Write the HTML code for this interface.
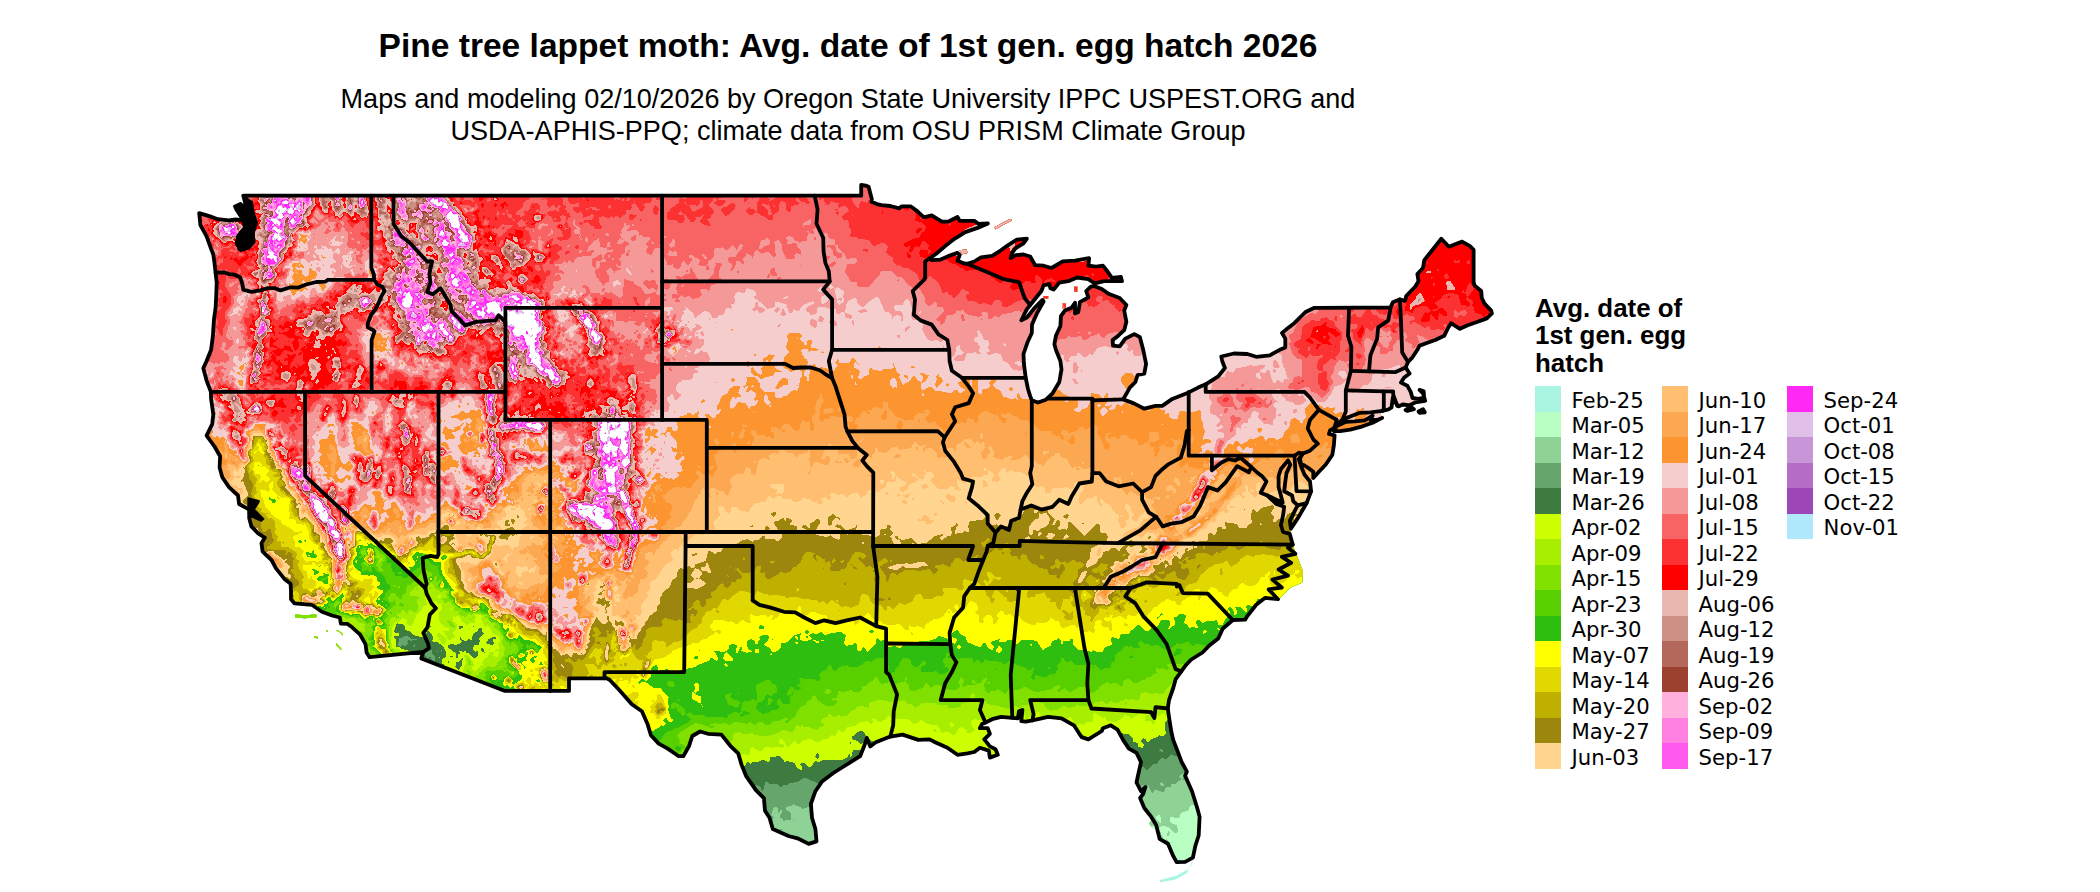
<!DOCTYPE html>
<html lang="en"><head><meta charset="utf-8"><title>Pine tree lappet moth: Avg. date of 1st gen. egg hatch 2026</title>
<style>
html,body{margin:0;padding:0;background:#fff}
body{width:2100px;height:892px;overflow:hidden;position:relative;font-family:"Liberation Sans",sans-serif;color:#000}
#ttl{position:absolute;left:0;top:26px;width:1696px;text-align:center;font-weight:bold;font-size:33.55px;line-height:40px;white-space:nowrap}
#sub{position:absolute;left:0;top:83px;width:1696px;text-align:center;font-size:27.05px;line-height:32px;white-space:nowrap}
#lgt{position:absolute;left:1535px;top:294.7px;font-weight:bold;font-size:25.9px;line-height:27.7px;white-space:nowrap}
.col{position:absolute;top:386px}
.row{height:25.5px;display:flex;align-items:center;white-space:nowrap}
.key{display:inline-block;width:26px;height:25.5px;flex:none}
.lab{font-family:"DejaVu Sans",sans-serif;font-size:21.2px;margin-left:10.6px;line-height:25.5px;position:relative;top:1.5px}
svg{position:absolute;left:0;top:0}
</style></head><body>
<div id="ttl">Pine tree lappet moth: Avg. date of 1st gen. egg hatch 2026</div>
<div id="sub">Maps and modeling 02/10/2026 by Oregon State University IPPC USPEST.ORG and<br>USDA-APHIS-PPQ; climate data from OSU PRISM Climate Group</div>
<div id="lgt">Avg. date of<br>1st gen. egg<br>hatch</div>
<div class="col" style="left:1535.0px"><div class="row"><span class="key" style="background:#AAF5E1"></span><span class="lab">Feb-25</span></div><div class="row"><span class="key" style="background:#B9FFC3"></span><span class="lab">Mar-05</span></div><div class="row"><span class="key" style="background:#8FD296"></span><span class="lab">Mar-12</span></div><div class="row"><span class="key" style="background:#66A66C"></span><span class="lab">Mar-19</span></div><div class="row"><span class="key" style="background:#3D7B40"></span><span class="lab">Mar-26</span></div><div class="row"><span class="key" style="background:#CCFF00"></span><span class="lab">Apr-02</span></div><div class="row"><span class="key" style="background:#A8EE00"></span><span class="lab">Apr-09</span></div><div class="row"><span class="key" style="background:#80E000"></span><span class="lab">Apr-15</span></div><div class="row"><span class="key" style="background:#58D000"></span><span class="lab">Apr-23</span></div><div class="row"><span class="key" style="background:#2EBE10"></span><span class="lab">Apr-30</span></div><div class="row"><span class="key" style="background:#FFFF00"></span><span class="lab">May-07</span></div><div class="row"><span class="key" style="background:#E0D800"></span><span class="lab">May-14</span></div><div class="row"><span class="key" style="background:#BFB000"></span><span class="lab">May-20</span></div><div class="row"><span class="key" style="background:#9C860E"></span><span class="lab">May-27</span></div><div class="row"><span class="key" style="background:#FFD590"></span><span class="lab">Jun-03</span></div></div>
<div class="col" style="left:1662.0px"><div class="row"><span class="key" style="background:#FFBE70"></span><span class="lab">Jun-10</span></div><div class="row"><span class="key" style="background:#FCA852"></span><span class="lab">Jun-17</span></div><div class="row"><span class="key" style="background:#FC9430"></span><span class="lab">Jun-24</span></div><div class="row"><span class="key" style="background:#F5CDCD"></span><span class="lab">Jul-01</span></div><div class="row"><span class="key" style="background:#F59898"></span><span class="lab">Jul-08</span></div><div class="row"><span class="key" style="background:#F86464"></span><span class="lab">Jul-15</span></div><div class="row"><span class="key" style="background:#FC3232"></span><span class="lab">Jul-22</span></div><div class="row"><span class="key" style="background:#FF0000"></span><span class="lab">Jul-29</span></div><div class="row"><span class="key" style="background:#E8B8B0"></span><span class="lab">Aug-06</span></div><div class="row"><span class="key" style="background:#CC9084"></span><span class="lab">Aug-12</span></div><div class="row"><span class="key" style="background:#B4685C"></span><span class="lab">Aug-19</span></div><div class="row"><span class="key" style="background:#9C4030"></span><span class="lab">Aug-26</span></div><div class="row"><span class="key" style="background:#FFB0DC"></span><span class="lab">Sep-02</span></div><div class="row"><span class="key" style="background:#FF80E0"></span><span class="lab">Sep-09</span></div><div class="row"><span class="key" style="background:#FF58EC"></span><span class="lab">Sep-17</span></div></div>
<div class="col" style="left:1787.0px"><div class="row"><span class="key" style="background:#FF28F4"></span><span class="lab">Sep-24</span></div><div class="row"><span class="key" style="background:#E0C0E8"></span><span class="lab">Oct-01</span></div><div class="row"><span class="key" style="background:#C896D8"></span><span class="lab">Oct-08</span></div><div class="row"><span class="key" style="background:#B46EC8"></span><span class="lab">Oct-15</span></div><div class="row"><span class="key" style="background:#9C46B8"></span><span class="lab">Oct-22</span></div><div class="row"><span class="key" style="background:#B0E8FC"></span><span class="lab">Nov-01</span></div></div>
<svg width="2100" height="892" viewBox="0 0 2100 892">
<defs><clipPath id="land"><path d="M199.2 213.1 L210.0 216.4 L217.8 219.2 L229.0 220.3 L235.7 219.5 L242.4 220.3 L245.8 225.1 L250.3 230.7 L251.4 236.3 L250.3 243.3 L243.6 247.5 L239.1 248.9 L241.3 243.3 L248.0 240.5 L252.5 234.9 L252.5 226.5 L251.4 216.7 L248.0 211.1 L249.2 202.7 L243.6 196.0 L243.6 195.7 L861.2 195.7 L861.2 185.0 L865.7 185.6 L868.6 186.7 L871.8 199.0 L871.5 201.8 L876.9 204.1 L881.4 205.2 L890.3 206.0 L899.3 208.3 L901.5 206.3 L910.5 206.3 L917.2 211.1 L923.9 217.3 L931.7 215.3 L941.8 221.7 L948.5 221.5 L957.5 217.0 L959.7 220.9 L974.3 220.9 L978.7 224.0 L987.9 223.4 L977.6 227.9 L965.3 232.1 L954.1 239.1 L945.2 246.1 L936.2 253.7 L929.5 258.5 L931.7 260.1 L940.7 259.6 L949.6 255.6 L957.5 252.8 L959.7 255.1 L957.5 260.7 L964.2 263.5 L967.1 263.8 L974.3 261.5 L981.0 257.3 L992.2 255.9 L998.9 251.7 L1007.8 245.3 L1016.8 239.7 L1026.9 238.6 L1023.5 243.3 L1015.7 248.1 L1011.9 253.1 L1010.7 258.2 L1015.7 255.1 L1023.5 254.5 L1030.2 256.5 L1035.1 265.2 L1043.6 265.7 L1051.5 268.0 L1062.7 261.3 L1075.0 260.7 L1086.2 258.7 L1089.1 258.2 L1088.4 265.7 L1096.2 266.6 L1102.9 265.7 L1107.4 271.3 L1111.9 277.8 L1120.9 276.9 L1122.0 281.2 L1113.0 281.2 L1104.1 281.2 L1094.7 283.4 L1088.4 279.2 L1077.2 277.5 L1068.3 281.2 L1059.3 282.6 L1053.7 289.6 L1050.4 288.2 L1049.2 284.0 L1043.6 285.4 L1041.4 291.0 L1035.8 298.0 L1030.2 305.0 L1026.9 309.2 L1021.3 320.4 L1026.9 317.6 L1034.7 307.8 L1042.5 299.9 L1043.6 301.6 L1036.9 313.4 L1032.0 324.6 L1031.8 333.0 L1027.3 342.8 L1023.5 354.0 L1023.9 363.8 L1025.7 377.8 L1028.0 389.0 L1030.2 396.1 L1031.8 400.3 L1038.0 402.5 L1045.9 399.7 L1052.6 393.3 L1059.3 382.0 L1061.5 369.4 L1060.4 361.0 L1055.9 349.8 L1054.4 344.2 L1055.9 335.8 L1060.4 326.0 L1060.9 316.2 L1064.9 310.6 L1071.6 307.8 L1075.0 302.7 L1075.0 313.4 L1078.3 312.0 L1079.9 302.2 L1088.4 297.4 L1086.2 291.0 L1090.6 286.8 L1094.0 285.9 L1101.8 289.0 L1108.5 293.8 L1119.7 298.0 L1126.4 305.0 L1124.2 310.6 L1126.4 321.8 L1124.2 330.2 L1117.5 336.4 L1112.6 340.0 L1113.0 345.6 L1119.7 346.4 L1125.3 338.6 L1134.3 334.1 L1139.9 337.2 L1143.2 349.8 L1146.1 363.8 L1144.3 373.6 L1137.6 375.0 L1135.4 382.0 L1129.8 387.6 L1126.4 393.8 L1123.1 399.4 L1133.2 403.1 L1138.8 405.9 L1144.3 408.7 L1155.5 405.9 L1162.3 405.9 L1172.3 398.9 L1188.7 392.4 L1198.1 387.6 L1205.7 384.3 L1218.2 376.4 L1224.9 368.0 L1222.2 361.0 L1221.3 356.5 L1233.9 353.5 L1247.3 354.0 L1256.2 356.8 L1269.7 355.4 L1279.7 349.8 L1285.3 347.6 L1285.3 338.6 L1282.0 333.0 L1288.7 327.4 L1294.3 323.2 L1305.5 312.0 L1314.4 307.8 L1318.9 307.8 L1390.5 307.5 L1392.8 302.2 L1399.5 299.4 L1405.1 300.8 L1406.2 296.0 L1415.1 286.8 L1418.5 281.2 L1417.4 274.1 L1423.0 268.0 L1424.3 260.1 L1441.3 238.8 L1445.6 243.3 L1448.7 246.7 L1462.1 241.6 L1470.0 246.1 L1473.6 249.8 L1473.6 281.7 L1474.5 285.4 L1481.2 291.0 L1481.8 298.0 L1484.5 303.6 L1491.2 310.6 L1491.9 313.4 L1486.8 318.4 L1477.8 321.8 L1467.7 325.2 L1459.9 328.8 L1451.0 323.2 L1447.6 328.8 L1444.2 335.8 L1435.3 340.0 L1427.5 342.8 L1419.6 345.6 L1417.4 349.8 L1411.8 358.2 L1408.0 361.9 L1405.7 367.5 L1409.6 373.6 L1404.0 377.8 L1401.0 382.6 L1407.3 385.7 L1410.7 391.9 L1412.5 398.0 L1418.5 398.9 L1424.1 397.5 L1423.7 391.3 L1419.6 389.9 L1423.0 393.3 L1425.2 400.8 L1415.1 402.5 L1409.6 405.3 L1402.8 404.5 L1398.4 406.4 L1395.0 401.7 L1392.8 397.5 L1391.6 407.3 L1388.3 409.5 L1382.5 410.9 L1370.4 412.3 L1359.2 412.9 L1350.2 416.5 L1342.4 419.9 L1337.9 424.1 L1335.7 426.9 L1334.1 428.3 L1330.1 430.2 L1329.0 433.9 L1334.6 435.3 L1333.9 445.1 L1332.3 454.9 L1325.6 464.7 L1318.9 471.7 L1313.3 477.9 L1313.3 471.7 L1307.7 467.5 L1301.0 463.3 L1299.9 458.5 L1302.8 453.5 L1298.8 459.1 L1301.0 466.1 L1304.4 474.5 L1310.0 481.5 L1311.1 491.3 L1306.6 503.1 L1298.8 516.6 L1290.9 528.6 L1289.8 520.8 L1295.4 509.6 L1297.7 505.4 L1293.2 501.1 L1292.1 495.5 L1284.2 491.3 L1285.3 481.5 L1286.5 473.1 L1290.3 464.7 L1288.0 460.5 L1280.9 468.9 L1278.6 475.9 L1278.6 487.1 L1280.9 495.5 L1282.7 502.5 L1276.4 499.7 L1267.4 495.5 L1276.4 504.0 L1284.2 506.8 L1283.1 515.2 L1280.9 525.0 L1283.1 532.0 L1289.8 533.9 L1292.7 544.6 L1295.4 554.4 L1301.7 571.2 L1300.3 581.6 L1289.8 586.1 L1282.0 590.8 L1278.0 599.2 L1265.2 597.8 L1256.2 604.8 L1247.3 616.1 L1245.1 619.7 L1232.8 620.0 L1222.7 628.7 L1218.2 638.5 L1209.3 645.5 L1202.5 652.5 L1191.3 659.5 L1185.8 665.1 L1181.3 671.3 L1175.7 679.1 L1173.4 687.5 L1169.0 700.1 L1167.8 708.5 L1169.0 716.9 L1171.2 731.0 L1173.2 739.9 L1176.6 748.6 L1181.7 762.1 L1186.9 771.6 L1185.1 775.8 L1192.0 791.2 L1197.2 808.0 L1199.6 816.7 L1198.7 835.5 L1195.4 845.6 L1192.9 857.6 L1185.1 861.8 L1176.6 862.1 L1173.2 855.9 L1168.1 843.9 L1159.6 838.8 L1156.2 825.1 L1151.1 816.7 L1144.3 808.0 L1140.1 797.9 L1143.2 794.0 L1145.5 787.0 L1141.0 791.2 L1136.5 782.5 L1138.3 774.1 L1141.0 762.1 L1136.5 752.8 L1128.9 748.6 L1123.1 739.9 L1117.5 729.6 L1110.8 725.3 L1102.9 728.2 L1101.8 731.0 L1088.4 739.4 L1081.7 737.1 L1079.4 733.8 L1073.9 725.3 L1061.5 718.3 L1048.1 716.9 L1039.2 718.9 L1032.4 720.3 L1025.7 721.7 L1021.3 721.1 L1022.4 709.9 L1019.0 711.3 L1017.9 718.3 L1012.3 717.8 L1001.1 716.9 L992.2 719.2 L985.5 722.5 L982.1 723.9 L979.9 728.2 L987.7 728.2 L989.9 733.8 L984.3 739.4 L989.9 746.4 L995.5 749.2 L997.8 754.8 L989.9 757.6 L988.8 750.6 L979.9 747.8 L974.3 752.0 L967.5 753.4 L957.5 754.8 L947.4 747.8 L935.1 742.2 L929.5 739.4 L918.3 739.9 L902.6 734.6 L890.3 736.6 L875.8 742.2 L870.2 746.4 L866.8 738.0 L864.6 745.0 L860.1 756.2 L844.5 766.0 L833.3 773.0 L822.1 781.4 L815.4 791.2 L810.9 803.8 L812.0 817.8 L815.4 829.0 L816.5 841.4 L808.7 843.9 L797.5 838.3 L788.5 836.0 L772.8 829.0 L769.5 817.8 L765.0 810.8 L763.9 798.2 L756.1 790.4 L746.0 775.8 L741.5 764.6 L738.2 753.4 L730.3 745.8 L721.4 734.6 L707.9 733.8 L700.1 731.5 L692.3 736.0 L688.9 746.4 L683.3 756.2 L678.8 756.2 L667.7 748.6 L658.7 743.6 L650.9 735.2 L647.5 723.9 L641.9 711.3 L631.8 704.3 L619.5 690.3 L609.5 679.7 L606.6 678.3 L569.0 678.3 L569.0 690.9 L505.0 690.9 L421.3 658.4 L423.3 651.9 L369.6 657.2 L366.6 652.5 L365.5 644.1 L359.9 634.3 L352.1 627.3 L347.6 623.9 L340.9 623.6 L339.8 617.5 L332.0 615.5 L321.9 611.8 L311.8 604.8 L294.6 603.4 L291.0 599.2 L291.0 590.8 L290.6 583.8 L285.0 579.6 L276.0 568.4 L271.5 560.0 L262.6 551.6 L261.5 543.2 L264.8 537.6 L258.1 533.4 L251.4 526.4 L249.2 518.0 L249.2 509.6 L239.1 504.0 L238.0 495.5 L229.0 487.1 L222.3 477.3 L219.6 467.5 L220.1 456.3 L214.5 446.5 L206.6 435.6 L212.2 424.1 L213.3 414.3 L211.1 398.9 L210.9 391.9 L206.6 380.6 L203.3 368.3 L206.6 361.0 L211.1 349.8 L212.9 335.8 L214.0 319.0 L215.6 307.8 L216.3 293.8 L216.7 282.6 L215.6 272.7 L214.5 262.9 L213.3 254.5 L211.1 248.9 L206.6 236.3 L200.4 225.1 L199.2 213.1Z M1333.9 431.1 L1340.2 431.1 L1350.2 429.7 L1362.6 426.3 L1372.6 422.7 L1382.2 417.9 L1377.1 419.9 L1370.4 419.9 L1372.6 415.7 L1364.8 420.4 L1354.7 421.3 L1345.8 421.8 L1340.2 424.6 L1336.8 426.0 L1333.9 431.1Z M1405.5 410.1 L1410.7 406.7 L1414.0 409.2 L1407.3 410.9 L1405.5 410.1Z M1418.5 411.5 L1423.0 409.2 L1424.8 412.3 L1419.6 412.9 L1418.5 411.5Z M1289.8 533.4 L1282.0 532.0 L1278.6 515.2 L1276.4 498.3 L1276.4 475.9 L1285.3 461.9 L1290.9 461.9 L1289.8 481.5 L1294.3 498.3 L1298.8 506.8 L1292.1 523.6 L1290.9 529.2Z M1298.8 459.1 L1301.0 464.7 L1310.0 481.5 L1313.3 477.9 L1312.2 470.3 L1303.2 461.9Z M1292.1 544.6 L1296.5 554.4 L1302.8 571.2 L1302.1 582.4 L1289.8 588.0 L1278.6 599.2 L1276.4 590.8 L1271.9 576.8 L1278.6 560.0 L1285.3 551.6Z M1191.3 862.7 L1194.0 859.3 L1189.1 868.8 L1175.7 876.1 L1160.0 880.0 L1160.0 882.3 L1175.7 879.5 L1186.9 873.3Z M295.0 614.4 L305.1 615.2 L316.3 614.6 L316.3 617.2 L305.1 618.3 L295.0 617.5Z M336.0 630.6 L339.8 632.3 L343.1 635.7 L342.7 633.4 L337.6 630.1Z M336.0 643.2 L339.8 646.9 L342.0 649.7 L339.8 649.1 L336.4 645.5Z M314.5 636.2 L318.1 637.1 L317.4 638.5 L314.1 637.3Z M326.1 630.1 L327.5 630.1 L327.5 631.5 L326.1 631.5Z M994.4 227.3 L1010.1 218.9 L1011.9 220.3 L995.5 229.3Z M959.7 250.3 L966.4 249.5 L967.5 253.1 L960.8 254.5Z M1073.9 286.8 L1077.2 286.8 L1077.2 291.8 L1074.5 291.8Z M1062.7 303.6 L1066.0 303.6 L1066.0 308.6 L1062.7 308.6Z M1043.6 296.0 L1048.1 296.0 L1048.1 298.5 L1043.6 298.5Z M1339.1 425.5 L1343.5 419.9 L1359.2 412.9 L1379.3 411.5 L1381.6 417.1 L1365.9 420.7 L1345.8 422.7Z M1155.5 827.6 L1151.1 820.6 L1148.8 823.4 L1153.3 829.0Z"/></clipPath></defs>
<g clip-path="url(#land)"><rect x="190" y="180" width="1320" height="712" fill="#AAF5E1"/><g transform="scale(0.5)" fill-rule="evenodd" shape-rendering="crispEdges">
<path fill="#B9FFC3" d="M3006 1778l-43 0 -5-4 -12 2 -4-11 -8 2 -3-5 -6 0 -4-8 -15-3 1-5 -5-5 -1 9 8 8 1 8 -9 8 -7 2 -1 2 -174 0 0-4 -6-4 -3-7 -4 0 -1 3 0 8 2 4 -65 0 -4-2 -7 2 -12-8 3-4 4 3 1-3 -1-3 -8 7 0 6 2 2 -44 0 0-4 -6-4 0 4 -4 4 -14 0 -7-12 -7-2 -4-6 -4-2 -8 8 -4 1 -20-1 -5-10 1-4 -3-4 -9 2 -3-2 1-4 -2-1 -4 8 -12 4 -4 0 1 5 -5 1 -11-5 2-8 -3-5 -4-2 -12 0 -4-4 -2 7 3 4 -9 0 -4-5 -8-3 0-8 -10-16 -2-11 -16 15 -8 4 -8-5 -3 1 -13 10 -4-4 -4 1 -4 8 -4 3 -8 0 -4-4 -8 4 -8-8 -4 3 -12-2 -12-17 -8 5 -4-2 -4 1 -4 4 -8-2 -4 14 -5-2 -3-4 -2 4 -9 4 -5 9 -12-2 -8-8 -12-4 -8 7 -8 2 -16-11 -8-2 -8 4 -8-3 -8 6 -4 9 -4 0 -4-3 0-4 -4-1 -1-7 -3-5 -7-3 -1-4 -4-1 -20 9 -4 4 -2 16 -2 1 -4-5 -8-2 -12 11 -9 11 -11 8 -7 12 -17 1 -496-1 -252 2 -860 0 -2-2 -1-1416 3-3 2624 0 3 3 0 24 0 1172 -3 48zM2508 1678l-2-2 -8-2 -1 4 1 2 8 2zM2552 1690l-2-9 -2 9zM2430 1730l8-3 16-2 3-3 -4-8 5-2 3 2 0 4 8 8 2 0 3-12 8 1 4 5 4 2 1-4 -5-8 2-4 -6-20 -8-3 -4 8 -8-2 -5 1 0 4 13 16 -8 1 -8-8 -16 10 -4-11 8-4 3-4 -7-1 -4 9 -4 0 -7 8 -1 4 4 2 5 6 1 4 -4 4zM2567 1710l3-6 4 2 6-8 -18-11 -4 3 -3 12 3 5 4-1zM2611 1702l-6-8 -8 0 5 5zM2508 1710l5-4 -3-6 -4 2 -1 4 1 6zM2108 1710l-2-5 -12 5 8 4 4 0zM2126 1710l-4-7 -4 0 -1 3 3 4 6 2zM2551 1718l-1-5 -8-8 -2 5 2 8zM2722 1730l4-8 8-8 -1-4 -7-5 -4 4 -4-2 -3 3 -1 4 3 4 2 8 -1 2 -9 2 5 2zM2697 1762l7-4 -3-8 6-4 -1-5 -4 3 -4-1 0-9 -12-5 -8-1 -4 2 -2-4 4-12 -6-6 -1 2 4 4 -3 4 -16-3 1 7 21 28 -2 3 -5 1 0 4 2 0 7-7 4 1 1 6 7 6 4 1zM2346 1718l0-5 -5 5zM2783 1730l-3-16 -2-2 -3 2 -1 4 5 12 3 2zM2803 1722l1-8 -2-3 -11 3 7 9 4 1zM2311 1726l-1-5 -4-3 0 6 4 3zM2760 1726l-2-4 -4-1 -5 5 5 3zM2854 1738l6-8 -10-8 -16-1 -4 5 -4-5 -2 5 2 2 12-1 1 3 6 4 1 5zM2106 1744l-9-2 -1-4 2-7 4 3 0 8 4-4 3 4zM2552 1762l1-8 -2-4 3-3 4 1 0-6 -8-5 -8 6 -5-1 -2 4 2 4 1 2 4-3 4 12 4 4zM2607 1750l3-3 1-5 -5 2 -8-2 5-4 -1-3 -6 11 1 4 5 3zM2648 1762l0-12 -8-8 -6 1 -3-5 -5-1 -7 5 4 4 -2 8 13 5 4-2 4 1 4 6zM2803 1774l0-8 11-10 4-1 8 4 4-4 4-1 4 5 5-1 0-4 -5-5 -8 4 -6-11 7-4 -1-2 -4-1 -4 5 -8 2 2 8 -2 3 -4 0 -4-3 -4-8 -4-2 -1 6 3 4 -2 5 -4-2 -2 5 2 4 -8 5 -8 0 -2 3 2 3 8 3 8-2 8 3zM2583 1754l6-4 -7-1 -6 5 6 2zM2979 1754l-5-2 -4 2zM2612 1762l-2-2 -4 2zM2728 1770l3-4 -1-2 -8 0 1 6 3 2zM2462 1778l-8 0 1-4 3-2z"/>
<path fill="#8FD296" d="M1998 1778l-196 0 -2-4 7-8 -2-4 -23-7 -8 11 7 8 -3 4 -60 0 -5-4 1-4 -16-3 -3 7 0 4 -48 0 -6-8 1-11 3 7 9 5 3-5 -2-4 -9-6 -4 2 -4-2 -8 6 -2 8 2 3 8 1 6 4 -81 0 16-8 4-4 -1-7 -11-5 2-4 9-5 8 1 8-8 1-8 -5-3 -8 0 -4-4 -8 0 -4-5 -8 0 -1-4 2-4 -1-2 -4 2 -8-2 -6 2 7 4 3 12 4 8 -7 4 -1 4 8 2 4-3 6 13 -2 6 -7 6 -4 8 3 4 -31 0 5-4 -2-6 -4-2 8-1 16 3 6-2 -2-8 3-4 -11-4 -4-4 1-8 6-8 -1-4 -9-8 -2-4 1-4 -4-2 -5 2 -3 5 -8 3 4 4 9 0 -1 4 -4 4 2 4 -2 4 -14 4 5 16 -2 4 2 4 -3 3 -4-1 -4-6 -8-2 -8 4 -8-6 -8 16 -16 4 -17 0 -2-12 8-8 -17-6 -8 9 -12 4 2 5 -2 2 -8-4 -4 2 -2 4 2 4 -376 2 -640 0 -2-2 -1-1416 3-3 2624 0 3 3 0 24 -1 1172 -2 43 -20-4 -8-5 -12 6 -4-3 -3-9 -4-4 -9 0 -8-8 -8 0 -3-4 -9-4 -8 1 -8 4 -4 0 -7-13 -9-3 -5-5 -15-4 -4 1 -5-1 -3 4 10 12 -6 5 -6-9 2-12 -8-5 -3 1 -2 4 7 12 -7 8 1 4 -4 3 -15 5 3 2 4 15 12-7 3 6 -3 8 2 4 6 6 8-1 2 3 -2 10 -8 12 -4 2 4 1 4 4 4-7 7 2 -4 16 5 5 -4 11 -14 8 -2 3 -8 1 -4-4 7-8 1-6 4 5 -1-7 -3-1 -8 8 -12 2 -4-3 -3 6 3 3 5 1 -1 4 4 3 3 5 -3 3 -4 2 -4-1 -4-6 -12 1 -4-3 -4 2 -2 6 -6 3 -8 0 -8-5 -4 8 -4 2 -8-4 -10-12 4-4 2-5 8-4 4-11 1 4 7 7 16 6 16-5 7-4 2-4 -2-4 5-4 -1-4 -3-3 -8 1 -4 2 -4 5 -9-5 -2-4 4-4 -4-4 4-8 -8-8 1-4 5-4 1-9 -8 0 1 5 -5 4 -8-7 -4 4 -8-4 -8 22 -5-3 -3-4 1-8 3-4 -6-4 13-8 3-12 -6-1 -12 4 -1-7 4-12 -3-4 2-4 6-4 0-4 -22-16 3-16 -9-6 -8-2 0 13 -8 2 -4-4 -6 1 9 16 -3 3 -4-1 -3 6 -5 1 -2 7 6 2 4 4 4-13 4-2 4 0 11 9 -2 4 2 4 11 0 -4-4 6-4 1 8 4 4 -5 4 -8 1 -4 3 -12-3 -5 3 -3 7 -4 1 -8-5 -5 1 7 4 2 7 8 1 4 5 8-9 0-4 4 1 8 13 16-10 2 8 -8 4 -2 5 -12 1 -2 10 6 5 4-2 8-11 4-1 3 5 -7 8 4 8 -4 3 -9 1 5 16 -4 2 -24-12 -8 7 -8-3 -2 2 1 4 5-3 6 7 0 4 -2 7 -4-1 -8 9 -7-7 1-8 -2-3 -8 0 -1-9 -3-2 -20-9 -4 0 -3 3 1 16 -6 8 -4 2 -16-7 -10 9 3 4 -9 5 -12-1 0-6 4-2 -4-3 -4-1 -8 2 -8-3 0-7 10-12 -6-8 5-8 -13-16 0-4 -8 6 -4 5 -12 5 -5-4 -9-16 -6-1 -3-3 -2-4 4-8 -2-8 4-4 -3 0 -2 4 -7-8 2-4 -3-4 4-4 12 10 7-2 4-4 -1-8 -2-2 -16-1 -12 14 -12-1 -8 10 4 7 12-5 4 5 4-2 4 3 -6 4 1 4 -7 12 -4-2 -8 0 -4 4 1 10 10 8 -10 8 4 4 -4 4 -1 8 6 4 -6 8 -8 3 -20-6 -8 4 -20 2 -11-15 2-8 4-4 -2-4 3-8 -4-12 -8-10 -4 4 -12 2 -3 4 -1 6 -16 6 -4 10 -8 1 -4-4 -7 1 0 8 3 4 12 5 2 11 -2 5 -8-3 -8-10 -12-2 -4 1 -4 4 -8-7 -12 7 -4 5 -4 1 -4-7 -4 1 2-11 -2-3 -4-1 -4 4 3 8 -7 7 -8-7 -4 5 -8-5 -16 0 -4-4 -6 0 -5 8 3 8 -4 0 -16 12 -3-4 1-8 -2-2 -4-1 -1 7 -3 2 -7-14 -5-1 -2 1 6 8 -3 8 -12 8 -5 7 -4 1 -12-3 -8-10 -12-5 -4-1 -12 4 -4-3 -6 6 2 8 -8 4 -4-8 -16 2 -4-4 -1 6 -15 9 -4-3 -4-9 -4 0 -2 3 2 8 -8 7 -4-3 1-4 -9 1 -4-5 -8-4 4-4 0-16 -5 4 4 8 -3 8 -8 1 -10-5 -5-4 5-4 -2-1 -5 5 0 4 -7 3 -1 5 -3 1 -12 0 -6-9 -6-1 -2 5 5 8 -4 4 -2 4 0 4 3 2 16 7 12 0 12 6 8 2 12-4 8 2 8-4 3 1 4 16 -4 12 -19 18 -8 14zM2769 1602l-1-8 4-16 6-7 7-1 -8-12 1-8 -4-1 0-6 4-2 12 6 21-9 -13-12 -4 7 -8 6 -2-1 -2-4 4-9 4-2 8 3 6-4 -10-3 -3-5 -13-7 -12-2 -13 5 1 4 -2 4 2 4 -2 4 -1 12 4 8 9 4 2 4 -10 8 -1 4 1 4 9 8 1 12 2 0 -10 2 -4 10 8 3zM2740 1518l3-4 -9-6 -5 2 -3 8zM2662 1522l4-4 -1-4 -3-1 -5 5zM2648 1522l2-4 -4-2 -2 6 2 3zM2671 1538l4-4 -5-8 -12 4 8 11 4-1zM2667 1646l11-2 1-2 -5-6 -4 5 -4 1 -2-4 2-5 8-3 -7-8 -1-4 2-4 -4-12 2-16 -8-1 -4-3 -4 3 -2-3 1-8 -3-4 -8 0 -8-3 -4 9 -9 2 -1 4 10 4 -4 2 -8 3 -11-9 1-4 8-4 -1-4 3-3 8 3 4-4 3-12 0-8 -7-3 -4 2 -1 13 -3 2 -5-2 2-4 -1-4 -4 2 -10-2 2-8 -8 5 -16-4 -5-13 -5 0 -2 4 -8 4 0 5 10 3 -5 4 1 8 -5 8 7 4 4-1 4 3 6-6 2-5 4 6 6-1 2-9 2 5 -1 4 8 8 -1 6 -8 12 -9-2 1-10 -4 0 -4 2 4 12 -8 4 -4 6 -8 1 0 2 12-1 4-3 4 3 0 5 4-4 4 5 8 1 4 4 6-3 -6-13 12-3 8 6 8 2 4-2 3-6 -10-8 3-4 16-3 10 7 -11 8 -3 8 4 4 -8 8 4 1 4-8 8 2 9 17 -1 2 -8 1 1 5 3 5 8 4zM2637 1538l-3-5 -4 2 -1 3 5 2zM2819 1534l-1-1 -2 1 2 2zM2675 1550l0-4 -5-2zM2606 1567l-4-1 -1-4 5-2 2 2zM2543 1570l1-4 -6-2 -5 2 1 8zM2700 1566l-2-2 -2 2zM2798 1634l6-4 -3-8 10-16 0-4 -7-4 0-12 -5-8 1-4 -6-6 -6 22 -5 8 10 8 -4 4 7 8 -3 16zM2874 1575l-3-1 2-4 5 0zM2766 1576l-3-2 4 0zM2846 1586l-8-1 -2-7 2-3 8 0 4 3zM2918 1707l-8 2 -12-9 -16 0 -2-2 2-3 8-2 3-3 -3-3 -8 0 -8-5 4-14 12 10 12-4 4 2 7-10 1-4 -3-4 -17-8 6-4 -3-8 1-12 4 2 5-2 -1-4 8-4 1-4 -5-13 -4-2 -5 7 -1-8 -7-12 1-9 8 5 4 10 8-6 -4-8 4-3 4 6 8-4 3 1 1 6 8 1 3 5 3 12 -3 4 0 4 5 8 4-5 12-6 4 1 4 12 4 0 5 6 -5 8 -8 4 7 8 -1 8 -2 4 -12 2 -4-3 -7 5 -1 6 -8 2 8 2 4 0 4-4 4 2 1 4 -2 8 -11 4 -4 4 -4-11 -4-3 -7 6 -1 7 -4-2 -2 3 0 16zM2862 1595l-9-5 13-6 1 2zM2520 1606l1-4 -4-4 -3-12 -4 12 5 4 0 4 3 2zM2602 1596l0-7 2 5zM2898 1626l-15-8 3-1 3-7 -3-7 -6-5 2-4 10 4 5 8 -1 4 5 8zM2835 1618l-5-16 -9 4 13 8 -1 4zM2870 1631l-3-1 1-12 -7-8 1-5 12 2 8 7 0 4 -11 8zM2978 1608l-2-2 5 0zM2821 1618l-3-5 -1 5 1 2zM2494 1652l-4 1 -5-3 -7-20 4-3 9 3 -5-12 4-3 4-1 17 12 -5 12 -4 1 -4 11zM2986 1619l-2-1 2-2 3 2zM2615 1654l3-8 -4-6 -8 1 -4-5 -6-2 5-8 -3-6 -6 2 -2 15 4-1 8 10 0 11 4 1zM2882 1627l0-6 3 5zM2974 1711l-4-2 -4 4 -12-1 -4-10 -7-8 3-2 8 2 5 8 -1-4 -4-4 4-6 7-2 4-4 -8-4 5-8 4-12 8-4 13-12 0-4 -5-4 7-4 5-7 8-1 0 31 -7 1 -5 4 -1 20 6 12 -5 9 -5 3 0 4 -3 3 -4-2zM2323 1642l-3-12 -2-1 -7 5 1 4 6 6 4 2zM2862 1636l0-7 2 1zM2467 1638l3-4 -4-3 -4 2 -1 5zM2890 1648l-8-6 1-8 3-3 6 3 2 4zM2946 1658l0-4 -3-4 -13 2 -5-10 -7 0 -2 12 10-2 2 2 -2 4 12 4zM2398 1648l0-3 2 1zM2530 1670l-10-4 -4-12 2-2 11 6 2 4zM2746 1658l-2-4 2-1zM2478 1659l-2-1 2-2zM2878 1663l-4 0 0-6 4 1zM2338 1671l-4 1 -1-2 5-9 2 5zM2750 1665l-8-2 0-4 4-1 6 4zM1968 1678l4-4 -2-8 -4-3 -12 3 0 4 12 9zM2061 1670l-3-5 -5 5 5 2zM2238 1670l-4 1 0-4 5-1 1 4zM2258 1667l-1-1 1-2zM2318 1679l-7-9 0-4 7-4 4 3 1 5 4 4 -1 3zM1655 1690l7-4 -1-8 8-4 1-4 -4-1 -20 13zM2698 1690l-8 1 -4-5 -3-12 3-4 4 0 6 4 5 12zM1909 1710l13-4 8 2 12 0 2-2 -6-2 -4 1 -16-14 -4 3 -6 0 -4-8 -7-4 -3-5 -4-2 -4 3 -4 0 -8-5 -2 1 3 8 -5 9 -4-7 -12 1 -4-2 -4-6 -12 5 -16-9 -8 3 -8 10 -16-3 -12 3 -16-6 -6 10 2 3 4-3 2 4 -6 5 -3 7 3 4 8 0 -4-8 12-6 3 2 -3 9 8 1 8-3 4-7 10 4 2 6 8 4 16-2 4-4 17-8 0-4 3-5 8 4 8 7 31 10zM2734 1688l-8-2 -4-7 -8 2 0-7 8-2 4 4 4-2 5 0 2 4 0 8zM3006 1676l-5-2 5-2zM2338 1693l-6-3 -3-8 5-4 6 8zM2763 1682l-1-2 0 3zM2846 1694l-4 0 -4-4 4-6 8-3 5 5zM1595 1694l-5-10 -4 0 -1 2 4 8zM1766 1693l-4 0 -6-7 6-3 7 7zM2714 1690l0-7 2 3zM2908 1690l-2-5 -3 5 3 2zM2980 1690l-2-6 -4 2 4 5zM1584 1698l-2-3 -4 3 4 2zM3006 1707l-3-1 -1-4 4-5zM1659 1702l-1-2 -1 2zM2998 1714l-8 4 -1-8 9-7 3 3 1 4zM1714 1726l6-8 0-4 -6-7 -8 4 -1 3 5 9zM2038 1711l0-2 3 1zM1794 1726l1-4 -7-8 -2-3 -4 1 -2 2 2 8 8 6zM1518 1718l-5 0 1 2zM1486 1726l0-4 -4-3 -6 3 -1 4 7 2zM1734 1730l-5-4 1 4zM1800 1738l-2-6 -4 1 0 6 4 1zM1570 1739l-2-1 2-4zM1813 1750l1-3 4 1 8-4 2-2 -2-5 -12 3 -9 10 5 3zM1786 1762l-4 3 -1-3 5-3zM1430 1772l-2-2 2-5 3 5zM1742 1770l-8-6 -3 2 3 4zM1406 1778l-8 0 8-3 2 3zM1514 1778l-2 0 2-2 3 2z"/>
<path fill="#66A66C" d="M1334 1778l-16 0 -4-4 -3 0 0 4 -45 2 -884 0 -2-2 -1-1412 0-4 3-3 2624 0 3 3 -1 1196 -2 38 -36-11 -37-19 -103-40 -52-25 -16-4 -16-8 -28-6 -24 1 -8-2 -12 9 -4-8 -4 0 -8 1 -4 8 -4-2 -4-6 -4-1 -8-7 -12-5 -3 3 4 8 -5 11 -4 1 -4 7 -12 1 -5-4 2-4 7-4 8 1 3-1 4-12 0-4 -3-1 -4 2 -12-4 -4 6 -4 0 -10 9 2 8 4-4 7 4 -9 12 -10 8 -12 4 -4 1 -8-2 -8 3 -4-6 2-4 10-10 8-1 0-6 13-3 4-16 -1-12 -20-2 -4 2 7 8 0 12 -6 0 -5-9 -12-6 -4 4 -8 11 21 8 -5 7 -4 1 -4 0 -8-6 -2 2 -2 4 1 4 -4 8 -15 8 -4 16 -2 3 -8 2 -12 15 -3 12 -8 8 -2 8 -3 4 -8 4 -12 19 -8-5 -9-2 -1-4 4-8 -8-12 2-9 1 5 6 0 0-4 9-9 -8-1 -12 1 -4-3 -3 4 7 4 -8 3 -4-1 -8 7 -4 0 1-9 -4-8 -9-7 -8 9 -4 1 -3-3 3-1 4-12 -10 5 -2 4 4 4 -4 4 -8 6 -8-1 -1 7 -3 1 -6-1 -3 8 -3 2 -9-2 -3-3 -4 0 -4 7 -4-3 -6-13 -6-1 -10 5 1 8 -3 3 -8-9 -4 10 -12-3 -2 3 0 12 10 5 -12 0 -12-5 -4-5 -4-1 -4 6 -4 2 -8-1 -2 3 0 4 -6 6 -5-2 -3-7 -4 0 1 11 10 8 -2 4 -17-2 -4-5 -4 3 -3 4 0 8 -5 4 -16-8 -4-13 -8-6 -3 3 -1 5 -8 1 -4 5 -20-13 -8 3 -8-4 -4 4 -4-4 -20 16 -12-1 -4-4 -4 4 -8 1 -4-6 -4-1 -12 5 -8-2 -3 3 2 4 -5 0 -6-2 -3-10 -5-4 -8 3 -8-1 -4 2 -4-1 -6 5 -2 7 -12-1 -4-6 -1 4 -11 4 -2-4 2-4 -4-1 -1 5 -7 8 1 4 -2 4 -7 5 -4 0 -8-8 -16 0 -24-11 -8-1 -8 11 -4 0 -16-12 -20-1 -2-3 -6 1 -4-2 -2 1 -2 5 -7 3 0 8 -5 9 -8 4 -3-1 -3-4 3-4 -5-3 -1 7 -11 9 -13-9 -2-4 3-6 8-2 5-8 -1-3 -16-3 -8 1 -24 14 -8-2 -8 3 -4-6 16-7 2-9 -10-7 -12 10 -16-6 -5 7 -15 4 -8 0 -4 5 -4-5 7-4 5-6 8-2 8 4 3-4 -11-10 -4 0 -4-3 2 5 -2 4 -16 9 -4 0 -4 5 -6-6 -14-6 -4 4 -11 2 0 4 10 8 2 12 -5 3 -4-1 -8 2 -1-4 -6-4 6-12 -3-4 -4 9 -3-1 2-8 -5-4 -4 0 -6 16 4 4 4 0 -4 2 1 6 -2 4 2 8 -17 0 -8 3 -4-2 -4 1 -8-3 -3 1 -1 5 -4 1 -8-2 -4 4 0 4 4 4 8-3 5 3 -5 2 -8-1 -4 12 -4 1 -4-4 -4 6 -6-4 5-4 -3-2 -8 1 -1 5 -4 4 1 4 5 4 -1 4 -16 8 -9 8 1 4 -3 4 -21 10 -8 0 -6-2 3-8 -1-12 4-2 8 2 2-8 -6 1 -4-9 -4 0 -4 10 -8-2 4-2 8-14 5 0 -9 0 -4 3 -12-3 -8 3 -4 12 -16 9 -11 16 0 4 -4 8 1 8 -3 8 5 2 3 6 -7 5 -8 0 -1 3zM2589 1470l-4-4 1 6zM2634 1493l-3-3 3-5 3 1zM2630 1497l0-6 3 3zM2526 1517l-2-3 2-3 2 3zM2518 1526l-4 1 0-6 6 1zM2329 1570l-7-6 -2 6 6 3zM2274 1589l-4 0 -3-3 3-2 7 2zM2198 1598l0-2 -2 2 2 2zM2266 1601l-3-3 3-2zM2278 1613l-2-3 2-5 1 5zM1732 1614l3-4 -5 0 -4-4 -5 4 -1 4 2 1zM1532 1638l-2-8 -1 8zM1802 1643l-5-1 1-4 4-6 4 0 2 2 -1 4zM1455 1642l-1-4 -1 4zM1518 1646l5-4 -1-5 -5 1 -1 4zM1442 1670l6-4 -5-12 6-12 -3-3 -12 9 -12 2 -8 6 0 3 8 7 -1 4 1 1 12 3zM1500 1654l-6-11 -6-1 8 12zM1586 1643l-2-1 2-2 2 2zM1467 1646l-4 0 3 2zM1459 1662l3-10 -9 6 2 4zM1918 1666l-3-12 3-2 2 6zM2138 1659l-2-5 2-1 2 1zM1514 1662l-6 0 2-7zM1562 1662l-3-4 3-1 2 1zM1994 1778l-132 0 -1-8 -10-20 -8-8 -2-8 -9-8 1-12 5-4 16-3 28 3 12 5 28-1 16 4 20 1 36 9 12 0 16 3 4 3 0 4 -3 8 -17 16 -9 16zM1366 1716l-2-2 2-1zM1382 1762l-4-1 -3-7 1-12 -6-12 0-8 10 4 2 11 8-1 4-7 4 1 2 4 -1 8 -9 8zM1362 1746l-5-4 1-2 8-2 0 7zM1370 1754l-4 0 4-7 3 3z"/>
<path fill="#3D7B40" d="M1298 1778l-376 2 -120-3 -144 2 -277-1 -2-1412 0-4 3-3 2624 0 3 3 -1 1196 -2 34 -32-10 -33-16 -111-45 -28-14 -64-25 -56-8 -32-2 -11-6 -13-1 -12-4 -60-9 -8 0 -20 8 -21 30 -4 12 -8 8 -8 16 -7 6 -2 6 -10 4 -8-4 -8 2 -2-2 -3-4 -3-24 -4-2 -4 2 1 8 -5 4 -12-3 -4-3 -4 3 -8-2 -4 2 -4-6 -16-1 -3 2 4 12 -5 1 -12-10 -20-9 -8 9 -4 1 -4-3 -6 3 -6 10 -8 0 -12 13 -8-7 -12 4 -3-4 10-4 -19-6 -4 1 -3 5 -5 3 -8-2 -3 3 -1 4 3 4 -3 1 -8 1 -8-6 -4 4 -4 1 -4-7 -4-1 -4 2 -8-4 -4 1 -4-1 -2 9 2 8 -4 3 -4-3 -4 1 -2 3 -3 0 1-10 4 5 6-7 -2-5 -4 3 -10 2 -6 4 -4 4 -3 12 -5 4 -4-1 -4-7 0-7 -12 1 -2 2 3 4 -5 1 -5-1 3-4 -2-1 -12-3 -1 4 4 4 -3 3 -12 3 -8-4 -4 1 -8 8 -4-11 -12-1 0 5 -5 4 -15 2 -8-10 -4 0 -4-5 -4 1 -3 12 7 8 -8 2 -3-2 0-4 -9 0 -8 5 -8-6 -4 0 -4 6 -5 3 0 4 -3 6 -6 2 -2 7 -8 4 -16-3 1-4 -7-16 -6-2 -4 4 -4-1 -1-13 -3-1 -4 4 0 7 -16 7 0 7 -3 4 1 8 -2 2 -3-2 1-8 -18 2 -4-3 -2-7 2-2 4 2 2-4 -2-4 -4 2 -9-2 -7 16 -6-8 -10-6 -4 4 -6 2 11 4 -1 10 -8-2 -8 1 -8-13 -8-4 -6-12 -2-8 12-2 -1-6 -7-2 -8 6 -12-7 -4 3 0 4 9 4 0 4 -9-1 -3 13 -9 1 -4-1 -2-4 10-4 -3-4 3-3 1-9 -5-5 -4 2 -4 5 -8-3 -18 9 -6-2 -12 6 -8-8 -8-2 -12 3 -4-3 -8 0 -4-3 -12 5 -6 8 -10 2 -28-13 -16 9 -16 3 -4 3 -8 0 -4 4 -8-6 -16 0 -4-5 -4 2 -4 17 -4-2 -1-6 -7-5 -13 9 -3 8 2 4 10 8 3 8 -3 13 -3-5 -5 0 -4 8 -12-2 -4 1 -8-6 -24-4 -12-6 -8 1 -12-12 -16-4 -2 8 6 18 8 6 10 4 2 5 5-1 2 4 -27 8 -8 12 -4-2 -4 2 -8 8 -68 95 -8 8 -6 13zM802 1294l4-5 4 3 7-6 -3-4 4-4 4 5 4-4 4 1 6-2 -14-1 -8-6 -16 6 1 5 -4 4 0 4zM830 1294l0-7 -4 7zM871 1322l-1-10 -7-6 2-4 -11-7 -5 7 -1 8 6 6 8-2 0-5 1 9 4 4zM876 1302l-3 0 1 2zM884 1302l-2-2 -1 2 1 4zM832 1382l4-8 -2-4 -11 8 3 5zM1012 1406l-4-4 -10-2 -5 2 13 7zM830 1418l-5-8 2-4 -5-2 -5 2 9 14zM837 1418l0-4 -3-2 -3 2 -1 4 4 1zM1050 1434l-8-2 -1-2 9-4 -1-4 -11-6 -4 2 -12-2 -4-4 -7 6 3 5 12 4 4 5 4 0 8 4zM1092 1450l-10-8 -3 8 11 4zM875 1466l4-4 -1-4 -8-5 -1 5 3 8zM874 1458l0-3 2 3zM899 1458l-9-3 -4 3zM1133 1470l-3-3 -4 0 -3 3 7 2zM909 1494l1-5 -5 1 -2 4zM1184 1490l-2-2 -2 2 2 3zM2347 1490l-1-2 0 4zM1210 1510l-4-12 0 4 -5 4 5 4zM2327 1502l-5-6 -4 6 8 2zM2448 1502l-2-6 -2 2 1 4 1 2zM2272 1510l-2-3 -4-1 -3 4 3 2zM2423 1514l-1-6 0 8zM2246 1514l-5 0 1 2zM2406 1534l-4 4 -1-4 5-9zM1710 1554l3-4 -11-12 -8 4 4 3 4 9 4 3zM1726 1554l0-7 -7 3 -1 4 4 3zM1337 1558l-5 0 2 3zM2454 1566l-2-4 2-8 5 4 -1 5zM1348 1566l-7-4 1 5 4 1zM1762 1566l-4-4 4-3 3 3zM2062 1570l-6 0 -1-4 3-4 8-2 1 6zM1946 1578l1-4 -5-6 -4 6 4 4zM2074 1579l-3-1 0-4 7-8 3 8zM770 1582l2-4 -2-1 -2 5zM1914 1587l-4 2 -3-7 3-2 7 2zM847 1598l-1-1 0 3zM824 1610l-2-2 -3 2 3 2zM859 1630l5-4 1-8 -11-6 -2 6 7 8 -2 4zM1399 1630l-1-2 -2 2 2 3zM874 1682l-4-8 0-8 4-4 5 0 0-12 -1-2 -7 2 -2 4 5 8 -11 8 7 4 0 8zM1990 1778l-122 0 -1-12 -17-28 -8-20 4-4 4 0 12 2 20 0 12 4 28 0 16 4 28 2 28 8 12 0 12 4 -1 8 -20 20 -4 12zM752 1774l3-4 -4-4 10-8 -7-6 -4 2 -4 6 -4-2 1 4 -2 4 -2 8 3 1 4-3 4 4zM796 1774l-7 0 5 3z"/>
<path fill="#CCFF00" d="M1294 1778l-408 2 -30-2 -2-3 -2 3 -36 0 -6-4 0-7 -4-5 -5 0 -1-8 2-4 -4-4 6-4 -6-1 -6-11 2-10 9-2 0-4 7-5 0 9 5 4 -7 12 0 12 -6 4 4 2 8-10 4 3 20-8 4 4 8-1 4 6 6-4 -6-7 -4 1 0-3 4 0 2-3 -2-3 -8 1 -4 2 -7-4 3-7 8-6 16 0 2-3 -1-8 7-4 4 0 -8-8 -1-4 5 2 8-5 0-9 6-12 2-12 -8-10 -6-2 4-4 -2-5 8-1 0-2 -4-7 -4 1 -1-2 -3-8 -7-4 7-3 1-5 -5 1 -4-5 -7-4 1-4 -3-4 -2-8 -9-13 -4-1 -2 2 2 2 4-1 3 3 -6 4 3 4 3 16 -4 4 -2 8 -5 2 -4-4 -8 0 -8-6 3-8 -3-2 -2 2 1 4 -3 3 -3-7 -5-4 0-5 -8 0 -10-11 2-4 -2-4 2-8 -12-10 -4 1 -5 9 0 16 -5 4 1 4 -4 4 2 12 -2 4 5 1 4 5 8-13 8 0 4-3 4 1 4 5 8-1 8 6 2 3 -3 8 5 1 1 3 -5 5 -5-1 4 4 0 8 3 4 1 8 0 4 -8 8 1 7 -6 1 0 4 6 1 4-3 8 2 2 12 -2 4 -4 0 -15 8 3 5 4 2 4-3 6 12 -2 2 -4-1 -4-6 -4 2 -4-1 1 4 -9 8 3 4 -3 5 -6-13 2-2 4 2 3-12 -7-10 -4 5 -3-7 8-8 -7-4 1-4 -3-3 -4-1 -5 4 5 4 -2 4 2 4 -1 4 -9 4 6 4 4-6 3 10 -9 12 6 8 -4 8 3 4 -6 12 3 7 6 5 -3 4 2 4 -1 3 -4-1 -16-14 0-5 -3-3 3-12 -4 0 -4-9 -4 6 -10 3 -2 8 -4 3 -4 1 -3-4 9-8 -2-1 -12-1 -8 6 -2 4 3 8 -8 8 3 3 4-2 4 5 4-1 3 3 0 8 -3 3 -12 3 -2 2 3 4 -322 0 -2-1412 0-4 3-3 2624 0 3 3 -1 1196 -2 32 -48-18 -216-92 -88-13 -14-5 -58-10 -28-5 -20 0 -16 10 -4 9 -18 20 -2 8 -16 6 -6-6 4-8 -2-5 -12 3 -1-2 5-8 7-4 -2-12 -3-4 -1-8 -4-8 -5-2 -4 4 -4 10 -7 8 0 4 3 4 0 4 -4 2 -4-6 -3 4 3 8 -5 0 0-8 -3-3 -1-9 -3-2 -5 2 -5 8 -10 6 -4-10 -14-4 -2-4 -4 1 -8-4 0-5 -12-4 -8-6 -4 0 -4 6 -12-2 -4 4 -1 10 3 12 -2 4 -4 3 -8-3 -4 4 -12 4 -4 5 -4 1 -3-6 -5-2 -4 6 6 8 -2 6 -9-2 -2-8 -9-3 0-5 -8-9 -17-3 -3-8 -3 4 2 4 -7 3 -4 5 -8-2 -8 4 -8-1 0-5 -16 0 -8 7 -8 1 -4 12 -8-3 -12 7 -5 0 -3-5 -8 0 -3-3 1-4 -1-4 -5-2 -4 2 6 8 -2 3 -12 0 -4 4 -8 3 -3 6 4 4 -1 3 -4 1 -4-2 -4 1 -4 7 -4 2 -8-1 -4 2 -4-3 -12-3 -4-5 -4 4 -4 1 -4-8 -13 9 4 4 -3 2 -8 3 -4-1 -8 6 -8-5 -4-4 -12-4 -4-4 -4 9 -8 5 -8 9 -8-8 -12 2 -4-3 -16 3 -2-2 2-2 8-1 2-5 -14-13 -4 1 -2 4 2 9 -8 3 0 4 2 4 -6 2 -6-6 -2-13 0 5 -8 0 3-4 -1-8 -6-3 -4 2 -4 0 -8-6 -12-15 -6 2 0 8 -10 13 -4-2 -4-5 -12 1 -7-7 3-16 -24 8 -4 4 4 8 -4 5 -12 0 -2-9 -6-4 -4-7 -4 4 -16-13 -8-12 -4-1 -10 5 -2 4 -7 4 3 5 8 3 8 6 4-3 2 1 2 4 -3 8 -5 3 -8-2 -8 1 -4 16 -2-2 0-4 -2-4 -2 8 -14 7 -20-2 -16 1 -8 4 -8-2 -8 12 -5 0 -7-8 -8-1 -2 5 4 4 1 4 -3 2 -8-4 -5-10 -15-4 -4 3 -8-11 -8-3 -4 4 -9-1 -3 11 -12-6 -12 6 -8-2 -4 5 -8-5 -4 8 -12 4 -4-1 -16 3 4 6 0 7 6 12 -2 12 -12 11 -4-3 -2 4 4 4 -2 5 -13-1 -13-12 -6-2 -8-1 -8 3 -20-7 -45-25 -27-8 -20-9 -16-11 -24-7 -4 3 -3-8 -13-1 -6 5 2 7 4 4 12-1 12 7 20 7 14 8 3 4 11 2 40 21 44 16 8 8 2 5 -1 16 -22 48 -33 48 -34 44 -10 16 0 4zM878 1354l6-4 -1-4 -10-8 5-7 4 2 8-3 -7-4 0-8 9-4 1-8 -6-12 -13-11 -8 1 -2-2 3-4 -1-4 -4-8 -8-5 -4 22 -1-5 -3-3 -20-5 -8-8 -8-2 -1-2 2-4 -5-6 -8 1 -4-3 -6 16 2 4 8 0 1 4 -1 2 -8-1 -2 3 3 4 0 12 2 4 5 0 4 4 12 2 12 6 4 0 4 7 12 11 16 4 2 2 -1 8 9 4zM863 1254l-1-2 -4 0 -1 2zM927 1254l-5-3 -5 3 1 3 4 0zM948 1254l-2-2 -1 2zM914 1318l2-4 -1-4 6-4 -3-4 4-1 4 3 5-2 2 4 5 1 8 9 4 0 6-6 0-8 -2-1 -4 3 -4-6 2-8 10 0 -1-4 4-4 -3-4 2-4 8-8 -5-4 1-4 -2-2 -4 0 -3 6 -7 4 -4 8 0 4 -2 2 -4-2 -8 5 -7-5 -1-5 -3 5 5 4 -2 4 -12 5 -4-3 -11 2 0 4 16 12 2 4 -2 4zM984 1290l5-4 -4-4 1-3 5-1 1-4 -2-1 -13 5 -5 8 2 2zM970 1306l-4-10 -4-1 -1 3 2 4zM878 1316l-1-2 3 0zM907 1314l-5-3 -2 3 2 1zM919 1338l5-8 -1-8 4-4 -1-4 -8 10 -4-1 -2 3 1 4 -3 4 8 7zM899 1326l-1-5 -2 1 2 6zM899 1354l0-4 5-4 0-4 -2-3 -4-1 -1 4 3 4 -4 4 1 4zM867 1550l5-4 -2-7 -4-7 -4-2 1-4 -2-4 -10-4 3-8 8 1 2-5 -6-5 -4 0 -5 1 2 4 -5 4 -4 0 -4-12 12-4 4-8 4 2 7-2 1-4 4-2 12 16 2-6 -1-4 3-1 4-7 4 2 4 6 -7 8 3 3 8 4 8 1 14-12 1-12 -2-4 0-8 -6-8 0-4 -16-12 9-1 2-11 -2-2 -8-2 -6 16 -6 1 -12 7 -5-12 9-4 -3-12 -5-4 -4 3 -9-7 -3-5 -8 1 -7-4 3-3 4 1 8-5 8 5 4-2 -4-3 -4 2 -2-3 2-5 7 1 1-8 2 4 -2 4 4 2 8-2 1-4 -9-1 -13-7 3-4 -7-8 3-4 -2-4 -8-6 -8 5 -1-7 -3-4 -12 3 -4 5 -2-8 -10-2 -2 2 0 4 -6 4 -1 4 3 12 -2 4 1 12 -2 4 5 20 -1 4 9 1 8 6 12 3 8-6 8-2 2 6 14 3 2 5 -4 8 0 4 -6 4 3 8 -9 8 -2 6 -8 1 -5-3 3-8 6-7 11-5 -4-4 1-4 -4-7 -6 11 -10 6 -14 2 0 4 -2 6 -4 1 -8-4 -7 5 -5 8 -1 8 -4 8 1 3 16-12 4 3 4 0 1 2 -9 16 3 4 -7 4 5 4 1 8 -1 4 15 13 8-4 4 12 11-5 9-15 9 11 2 12zM871 1374l3-4 -4-3 -4 0 1 7 3 3zM928 1382l-1-4 3-8 -8 0 -3 4 0 4 3 4 4 1zM917 1394l4-8 -7-9 -4 13 2 4zM959 1402l3-4 0-8 2-4 -2-1 -8 2 -8-3 -12 7 -2 3 6 4 8-1 4 1 5 4zM818 1392l-2-2 2-3 2 3zM1219 1514l-4-16 -5-1 -4-5 -8 0 -8-8 -4 0 -8-6 -4 2 -16-9 -12-3 -16-10 -16-1 -4 5 -4-1 -3-3 3-4 -3-8 -5-1 -4-6 -16-3 -4 3 -3-9 -17-8 1-4 -5-4 -20-4 -8-8 -26-8 -2-4 -9 0 -4 8 1 12 11 8 9 2 13 10 7 1 12 8 36 9 8 7 16 4 4-2 4 1 4 4 4 0 0 4 11 8 9 4 8 1 4-2 3 5 21 6 20 15 4-1 -1-4 1-4 2 0 4 4 -2 4 2 4 6 7 8 3zM958 1399l-2-1 5 0zM901 1418l-3-3 -4 1 -6-2 7-12 -5-3 -3 7 2 4 -5 4 -1 4 15 4zM822 1446l7-12 -3-2 -4 5 -8-9 -8 0 -1 6 5 5 1 7 3 2 4-2zM818 1439l-2-1 2-2 2 2zM805 1446l-3-5 -5 5zM2382 1446l-4-5 -4 5 4 1zM906 1453l-3-3 3-4 4 4zM906 1467l0-2 2 1zM918 1471l-1-5 1-3 3 3zM802 1473l-2-3 2-2 2 2zM798 1475l-2-1 2-2 3 2zM834 1480l-8 0 -3-6 7-3 4 1 2 2zM874 1479l-5-5 6 0zM850 1481l-2-3 2-1 2 1zM882 1481l-2-3 2-1 2 1zM878 1483l-2-1 2-2 3 2zM1703 1486l-1-3 -4 3 4 2zM2098 1490l-4-4 -4 4 4 3zM2126 1493l-2-3 2-1zM1738 1500l-5-6 5-4 4 4zM2088 1502l-6-12 -4 8 4 6zM877 1502l-1-4 -2-1 -2 5 2 3zM2110 1499l-5-1 1-2 4 1zM2122 1518l-8-4 -8 3 -1-3 6-4 6-12 5-3 4-1 12 5 2 3 -2 3 -8-2 -5 3zM1746 1507l-4 1 -1-2 1-6 4-1 1 7zM798 1510l1-4 -5 0zM834 1515l-10-1 2-10 8 2 8 4zM858 1508l-2-2 2-2 2 2zM891 1514l3-4 -4-4 -5 4 3 4zM1810 1506l-8 2 -2-2 6-3zM1862 1510l-4-4 4-2 2 2 0 4zM1639 1514l-1-5 -4-3 -4 8 4 4zM791 1514l-1-3 0 6zM822 1519l-3-1 3-3 1 3zM842 1525l-2-7 2-1 3 1 0 4zM886 1522l-4-4 0 5zM1818 1529l-4 0 -1-3 -1-4 2-5 4 0 3 5zM798 1534l-2-8 4-4 -6-4 -5 16 9 2zM870 1526l3-4 -3-3 -3 3zM1846 1525l-1-3 1-1 2 1zM850 1527l0-2 2 1zM902 1554l4-3 4-13 4-4 -4-2 -4 7 -4-9 -2 4 -6 4 -8 1 -6 7 6 7 8-4zM1878 1535l-2-1 0-4 2-2 2 2zM1950 1536l-1-2 1-4 4 4zM855 1542l-1-2 -1 2zM902 1547l-4-1 4-4 2 4zM814 1562l4-7 5-1 -5-5 -4 5 -8-5 -2 5 2 10zM832 1574l4-4 -2-2 -8-4 -2 2 3 4 0 4zM897 1590l-3-17 -3 1 1 4 -2 3 -4 1 -3 4 2 4 5 3 4 1zM862 1603l-5-1 5 0zM650 1630l4-8 -4-1 -12-11 -2 4 1 4 7 4 2 4 -2 4 2 3zM780 1618l0-4 -6-6 -2 2 4 4 0 4zM760 1618l7-4 -14 0 5 6zM768 1642l10-3 4-4 4 1 4-4 4 3 2-5 4-4 -6-6 -4 3 -3-1 -1-6 -1 6 -5 8 1 4 -3 3 -9-3 -11-9 -8 4 -8-3 -5 4 1 2 4-5 8 9 4-3 8-2 1 7 -5 3 0 2zM830 1680l-5-6 9-12 -8-4 -4 0 -4 4 -3-8 0-4 3-2 4 2 -2 4 2 4 4 0 0-8 4-3 4 1 2-2 -2-4 -12 7 -2-3 2-4 -7-4 -1-4 3-4 13-7 8 5 4-3 2 1 1 4 -3 4 -4 0 -2 4 2 2 4-2 0-4 4-2 4 9 5 1 -5 5 -9-1 4 12 5 4 -2 4 -6 0 2 4 -2 6 -8-1zM671 1638l-1-2 -1 2zM736 1642l2-6 -4 3 0 5zM663 1642l-5-2 -3 2 3 2zM754 1662l0-6 -5-6 -7-3 -4 2 4 6 11 3zM766 1654l2-4 -2-1 -2 1zM778 1675l0-3 1 2zM760 1678l-2-3 -2 3 2 4zM764 1698l1-4 -6-4 -1-7 -4 3 3 4 -1 8 6 2zM786 1691l-3-1 3-2 4 2zM735 1694l-9 0 4 3zM748 1698l-2-4 -6 0 6 6zM782 1697l-2-3 2-3zM818 1700l-4-2 4-5 3 5zM834 1716l-2-2 0-4 2-2 2 2zM863 1726l2-4 -3-2 -2 2 1 4zM1986 1778l-90 0 1-4 -3-1 -8 3 -7-6 -5-16 -8-4 -3-4 -3-16 3-4 19-3 16 4 4-2 8 3 16 0 44 6 8 8 4-1 8 1 -1 4 7 8 1 4 -9 12zM730 1741l-3-3 3-4 3 4zM697 1750l-3-11 -4 7 1 4 3 2zM742 1754l-11-12 3-3 12 1 3 2 0 4zM639 1754l-1-2 -2 2zM718 1756l-2-2 4 0zM1987 1758l-1-2 -5 2 1 2zM823 1766l-3 0 2 1zM722 1778l-7 0 3-4 -3-4 3-3 6 7z"/>
<path fill="#A8EE00" d="M694 1778l-50 0 -3-4 0-4 13-16 -8-7 -8-2 -4-5 -4 1 -4-5 -4 1 -4-3 2-4 -14-10 -3-14 -5 2 -4-3 -5 1 -3 9 -4 2 4 10 4-2 4 2 4-6 6 1 -2 4 2 4 6 3 5 5 -1 4 -6 4 4 4 1 8 3 8 2 2 7 2 1 3 4-4 4 2 6 7 -57 0 -17-9 0 5 -5 4 -12 0 -7-3 -7 3 -16 0 -5-7 -4 1 -4 4 -4-3 -2 1 0 4 -34 0 4-8 5-4 -5-2 -4 4 -8-2 -4 3 6 9 -79 0 2-272 -2-60 1-37 2-3 -2-4 -2-124 0-824 0-92 2-2 2624 0 2 2 -2 1225 -32-11 -116-49 -56-25 -64-26 -72-11 -28-7 -20-2 -56-12 -40-4 -4-3 -5 1 7 4 -1 4 -9 11 -4 1 -12-4 0-12 8-4 2-4 -4-8 -7-4 3-8 1-12 -3-2 -8 3 -8-3 -8 1 -4 8 -11 1 2 8 -7 5 -12-7 -4 4 -4 2 -4-2 -12 9 -12-1 -12 5 -5-3 5-8 3-16 -11-4 -16-10 -14 6 -5 12 4 4 -9 8 1 4 -3 4 -6 1 -3-1 -1-4 -8 2 -4 4 -8-6 -4 4 5 8 -1 7 -4 5 -4-7 -13-1 1-10 4-3 4 2 1-1 -9-9 -9 1 -6 8 -13 8 -3-4 -9-5 -4 6 -16 10 -12-3 -4 1 -3-9 -5 2 -16-10 -5 4 1 14 -12 0 -8 6 -8-3 -8 7 -4 0 0-12 -4-7 -4-1 -4 5 -8 3 -4-4 -8-3 -20 5 -4-6 -8-1 -4-9 -4 0 -4 0 -4 7 -7 3 -5 6 -5-2 1-8 -4-3 -5 3 -3 6 -4 1 -16 2 -4-2 -8 2 -4-2 -12 6 -8-2 -4-6 -4 0 -4 7 -21-4 -8 4 4 12 5 4 -2 4 -10 5 -4-1 0-10 -4 4 -4-6 -4 1 -6 3 -6 11 -4 1 -8-5 -8-1 -4 3 -7-5 1-4 -6-8 -4 1 -16-4 -12-7 -7 6 -9 2 -4-6 -8-4 -24 0 -4 2 -8-8 -16 13 -16-9 -2 2 3 4 -5 8 -7-8 -9 2 -4-1 -12 9 -16 2 -4 8 -4 2 -4 0 -4-5 -8 13 -8-2 -8 8 -8 1 -8 5 -8-1 -8-5 -8 1 -8 2 -8 7 -4-1 -4-6 -12 12 -4 0 -6-11 -6-5 -4 5 -1 4 12 4 -3 6 -12-3 -12 3 -8-3 -4 0 -2 5 -6 4 -4 0 -9-4 -3-4 -6 4 1 4 -3 9 -8-3 -8 2 -4-5 -20 4 -4 11 -12-3 0 5 -8 3 -5 5 0 4 3 8 7 8 -4 4 0 8 -5-3 -12 3 -4-4 -4 0 -8 4 -4 5 -8-3 -4 2 -16-10 -24-9 -8-7 -21-2 -51-25 -24-8 -12-1 -12-11 -16-7 -4-5 -23-7 -17-9 -4 2 -24-13 -9 0 -7-4 -8-9 -7-3 -9-8 -16-5 -23-15 -12-4 -13-8 -16-3 -28-12 -4 1 -4-4 -4 0 -4-6 -12-2 -8-7 -12-1 -9-10 0-12 7-16 -4-16 8 0 9 12 3 8 -4 4 1 4 5 5 12-12 4-1 -2-4 4-8 6-3 3-5 1-7 8 0 3 3 -3 5 8 4 1-1 3-8 -4-4 -4 2 -2-2 6-5 4 4 1-3 -3-12 5-4 -1-8 -15-8 -7-14 -4-2 1 4 -5 0 -8-16 3-4 -3-3 -12-2 -2 1 4 4 -2 4 1 4 -1 4 -12 1 -4 5 -4-6 -7-4 -3-8 -6-3 -4 3 -4-2 -1 2 1 7 8 9 0 5 -8 11 4 5 0 6 -4-1 -8 5 -3-3 -1-4 -8-12 4-1 4 2 4-2 1-3 -17-10 -5-10 2-4 -3-8 6-5 3-7 -3-4 2-4 -6 2 -8-7 -4 3 -4-5 -12-5 4 12 -1 4 -7 3 -4 9 -10 8 0 4 -4 4 -1 8 -5 7 -8-5 -2-2 2-4 -3-4 -5-2 -8 7 -8 0 -7 15 2 12 -4 8 3 12 -1 4 7 5 7-1 9 10 5-2 12 4 1 8 6 7 4-6 4 2 2 5 -2 5 -4-2 -6 9 2 2 4-6 4 4 0 4 -4 4 -8-1 -4 2 -5-9 -7-3 -4 1 -5 6 1 4 -4 8 0 8 2 8 0 20 -3 4 5 20 -3 4 3 8 -10 20 -2 16 2 4 -13 32 0 8 -9 12 2 4 -2 12 -13 16 3 8 -2 4 -8 3 -7 9 3 1 4-2 3 9 -3 4 -9-4 4 4 0 4 -6 20 1 8 -4 0 -2-4 3-4 -3-1 -8 5 -2 4 -1 12 7 7 0 9 6 12 -10 15 -4 3 -7 2 4 4 -1 3 -7 5 7 5 1 7 -5 0 -8-5 -1-3 4-4 0-12 4-4 -7-1 -4-4 -6 1 2 4 -7 8 1 4 -6 2 -2-2 4-4 -9-8 7-8 -1-4 3-4 -2-2 -6 2 -1-4 4-4 0-4 3-4 4 0 1-4 -3-8 2-8 -4-7 -5-1 1-4 -4 2 -8-2 -4 6 -5-2 -3-8 -8-1 -4 3 -8-6 -4-2 -4 2 1 4 -7 4 -3 8 1 3 7 1 -3 0 -3 4 -2 12 1 2 8 1 4-7 5 8 7 2 1 2 -5 5 -7-1 -9 6 -8-8 -8 5 -2-3 -3 0 1 4 18 12 -1 4 3 3 2-11 10-7 8 3 8-3 4 8 8-4 8 1 1 6 -5 8 4 2 4-1 3 3 -3 6 -4 2 7 8 -3 4 -8 0 -1-8 -7-4 5-8 -21-17 -3 25 3 4 0 8 8 7 3-3 -4-4 -2-8 11-3 3 11 -6 4 9 8 -2 5 -4-1 1 4 -1 4 -13 0 1 4 12 6 4 6 0 4 4 2 4-4 2 2 0 4 2 4 -1 4 5 8 12 0 3 8zM883 1194l-1-4 -5 0 -2 4 3 2zM870 1215l-4 3 -2-4 6-1zM862 1220l0-4 4 2zM895 1218l-1-3 -2 3zM902 1222l2-4 -2-2 -2 2zM862 1243l-2-1 2-1zM695 1246l-1-3 0 7zM886 1256l0-4 3 2zM938 1260l-2-2 2-2 3 2zM978 1264l0-3 2 1zM890 1290l-7-4 -10-16 5-5 16 13zM691 1274l-5-1 0 5zM978 1301l-3-3 5 0zM710 1330l-4-14 -8-6 -4 1 -4 5 -12-2 4 0 4 7 8 5 4-1 4 5 4-2zM750 1318l-4-7 -8 3 7 4 1 3zM648 1330l5-4 -2-4 -5-1 -3 1 1 8zM588 1334l-2-6 -8 6 0 3zM807 1330l-3 0 2 3zM623 1346l-2 0 1 3zM736 1346l-2-2 -4 0 -1 2 1 2 4 1zM858 1350l-4 2 -2-2 6-3zM652 1354l-2-3 -2 3 2 2zM906 1372l-2-2 3 0zM676 1394l6-2 3-6 -7-3 -4 6 -3-7 3-2 0-5 -4 7 -4-3 -8 0 -4-7 -6 6 -2 4 4 10 4-6 4 1 8 10zM894 1387l-7-9 3-6 8 1 7 5 -2 4 -5 0zM555 1382l1-4 -2-2 -4 0 0 6zM721 1402l6-8 -5 2 -4-5 -8 3 1 4 7 7zM898 1396l-2-2 2-3 3 3zM645 1442l3-4 6 4 8-4 9-16 2-4 -5-4 1-12 -3-3 -3 7 -5 1 -4 5 -31 14 3 12 4 4 8 0 4 2zM1290 1778l-368 2 -62-2 0-20 4-16 -1-4 4-4 2-12 3-4 -3-4 9-13 1-11 4-8 6-32 -3-8 2-8 -2-16 -3-4 7-11 4 1 8-6 0-16 -3-12 3-4 -2-4 13-16 5-20 1-16 4-4 9-32 -2-16 1-4 7-5 2-7 -6-2 -8 4 -4-2 -3-4 -3-12 6-4 -8-11 -4 5 0-7 8-1 8-6 3 4 -2 8 1 4 2 3 4-2 4 3 -4 2 -8-2 -2 8 14 6 4-2 0-8 4-4 -5-4 3-4 18-9 4 2 4-2 20 16 8 1 8 6 24 12 24 7 21 11 15 3 20 10 8 7 44 14 21 14 7 1 16 13 8 0 12 8 20 4 32 13 12 10 12 3 48 23 32 11 7 6 3 8 -3 16 -21 44 -30 45 -36 46 -8 13 -1 8zM938 1415l0-2 2 1zM2320 1418l2-4 -4-1 -2 5zM2341 1422l-7-6 -5 2 1 8zM391 1426l-3 0 2 2zM610 1434l-6 0 2 3zM447 1438l-1-2 -1 2zM606 1462l0-4 4-3 4 1 4-5 4 4 3-1 -6-4 2-4 -11-8 -8 1 -4 7 7 8zM683 1450l-5-5 -4 1 -4-5 -8 5 4 3 4-6 12 8zM696 1450l-4-8 -3 0 -3 4 4 6zM1908 1450l-2-4 -4-2 -2 6 2 3 4 1zM647 1474l7-4 -4-8 -4 0 -4-5 -2 13zM663 1458l-2 0 1 3zM679 1462l0-4 -2 0 0 4zM1874 1463l-4 2 -4-3 4-5zM2022 1461l-2-3 5 0zM2306 1462l-5 0 5-2zM605 1494l-3-7 -8 3 6 4zM628 1502l1-4 -7-7 -5 3 1 4zM735 1518l0-8 -5-3 -3 7 3 3zM645 1538l-3-3 -2 3 2 2zM715 1562l6-4 1-8 -12-8 0 4 -6 4 -1 4 3 9 4 1zM485 1546l-3-2 -5 2 5 3zM577 1570l5-4 -1-4 3-4 -6-4 -4 0 1 4 -1 4 -7 8 3 2zM882 1566l-5 0 1-8 8 4zM862 1566l-3-4 3-2zM858 1575l-4-5 0-6 8 2 -3 4 1 4zM611 1570l-7 0 6 4zM643 1594l2-12 5 3 6-3 -6-13 -12 3 -4 3 -4-1zM404 1574l-2-3 -2 3 2 3zM707 1578l4-4 -5 4zM572 1594l6-1 2-3 -1-8 -5-6 -2 2 3 4 -1 2 -4-1 -2 3 3 4 -2 4 1 2zM396 1594l0-8 -7-4 5 13zM711 1590l-1-2 -1 2 1 2zM427 1654l4-8 3-3 4 1 2-10 6 2 2-2 -6-11 -7-5 -2-8 9-3 4 3 4-4 -2-4 3-4 -5-6 -12 13 -8 5 -8 12 4 4 4 0 8-6 4 10 -4 7 -8-11 -4 1 -5 7 0 8 8 8 1 5zM681 1598l4-4 -6 0 -5 4 4 2zM566 1614l7-4 0-4 -3-6 -6 6zM706 1626l0-4 4-8 -4-8 -4 2 -3-2 4-4 -1-1 -4 5 -5 0 -2 4 7 12zM650 1611l-2-1 2-3 3 3zM530 1646l-8-8 4-2 4 1 2-3 -4-4 3-4 -5-3 -9 11 5 4 0 10 4 2zM426 1639l-4 1 -2-2 1-4 5 2zM412 1638l-4 0 2 4zM798 1650l-4 2 -6-2 -1-4 3-2zM420 1654l-2-3 -4 3 4 2zM463 1658l-3-4 -6-1 -3 5 7 3zM563 1670l4-4 -5-11 -2 11 -3 4zM424 1678l5-8 -12 4 2 4zM511 1670l-1-2 -2 2 2 2zM447 1678l-5-7 -3 3 5 4zM501 1690l1-5 -6 5 2 2zM558 1698l4-7 5-1 -1-4 -4-2 -3 6 -1 1 -4-4 -5 7 3 4zM612 1686l-6-2 -2 2zM678 1726l-4 1 -3-5 1-12 2-4 8 5 4-2 5-7 -4-4 7-2 4 7 7 3 -6 4 -1 7 -4-2 -4 3 -4-1zM623 1714l-1-4 10-4 0-4 -6 0 -4-3 -3 3 -3 8 6 6zM644 1702l-6-2 -2 2 6 2zM750 1711l-2-1 2-1 2 1zM698 1723l-11-1 3-4 4 3 4-1zM662 1727l-4 0 0-4 4 1zM596 1750l5-4 -5-4 -1-4 2-4 -3-3 -3 3 2 8 -7 1 -1 3 5 8 4-1zM578 1758l3-8 -3-2 -3 2 0 4zM626 1760l-9-6 5-5 8 1zM667 1750l-1-3 -1 3zM830 1761l-6-11 8 0 1 4zM595 1758l-1-2 -1 2zM846 1761l-5-3 1-2 6 2zM834 1778l-5-8 1-6 8-1 4 4 4-4 2 3 -2 6 -4 0zM850 1764l-3-2 3-1zM491 1770l-2 0 1 2zM587 1770l-3 0 2 2zM566 1778l-3 0 3-4 2 4z"/>
<path fill="#80E000" d="M3006 1585l-20-7 -244-103 -32-7 -44-5 -28-9 -20-1 -72-15 -10-4 -3-8 4-12 -2-8 1-8 -2-4 -8 2 -3-2 -1-4 5-8 -13-6 0-13 -5-1 1-2 4 2 4-2 4-10 -8-3 -6 7 0 4 -6 4 -8-4 -8 0 -8-5 1 9 3 4 -4 1 -4-4 -4 2 -4-1 -4-5 -4 1 -1 2 4 4 -1 4 -6 7 -4 1 -4-4 -12 6 -4-4 -4 1 -4 13 -4 1 -20-5 -3-4 -1-9 -12-6 -8-2 -4-3 -4 2 -16-5 -4 7 -17 16 0 4 -7 3 -8-3 -12 2 -12-4 -8 3 -4 12 -8 1 -4-3 -6 1 -2 3 -4-4 -20 9 -4 1 -8-5 -8 6 -12-7 -4 3 -8 0 -4 5 -12 2 -16 0 -4-3 -4 5 -12 3 -8-4 -4 0 -12 9 -8-2 -4 3 -8-4 -8-13 -4 1 -4-3 -4 0 -12 5 -12 2 -4-1 -4 6 -4 0 -8-4 -8 3 0 4 -4 1 -12-5 -32-6 -4-8 -4-2 -4 6 -4-1 -10-9 2-4 -4-5 -6 5 -1 4 2 4 -11 8 -4 0 -5 4 1 4 -24 3 -4-7 -8-1 -8 2 -8-5 -28 0 -4 5 -8 5 -8-9 -8 1 -3-6 -5-2 -4 2 -24 2 -12-4 -12 0 -16 6 0 10 -16-5 -4 1 -5 2 -1 4 -6 2 -12 11 -12 2 -4-3 -9 4 -3-1 -4-5 -4 0 -3 2 0 4 -9 2 -6 6 9 8 -7 5 -4-1 0-4 -1 8 -3 3 -16-7 -11 0 -1-5 -3 1 -1 4 -8-4 -8 13 -8 0 -12-4 -10 7 -22 7 -24-3 -8-5 -4 3 -12 1 -8-6 -12 5 0 10 -2 4 -10 3 -5-7 -12-4 5 12 -8 20 -4 4 -4-4 -8-1 -7 9 -1 6 -4 1 -4-4 -2 1 -6 15 -4 0 -4 4 -4 0 -12-3 -4-8 -8 4 -12-6 -6 2 -6 6 -4 0 -10-2 -6-6 -12-1 -32-15 -12-2 -6-8 -6 3 -9-3 1-4 -4-1 -4 3 -27-14 -1-5 -8-4 -4 1 -8-6 -12 0 -8-5 -20-5 -24-12 -20-16 -4-1 -8-6 -12-3 -12-9 -20-8 -8-5 -20-9 -36-11 -4-5 -16-11 -4 3 -5-3 1-9 4-3 4 0 0-6 4 1 1-3 11-9 4-1 4 3 8-2 15-19 3-4 -1-8 4-4 -7-12 2-12 -8-12 -11-8 4-8 -9 0 -8-11 -4 1 0-4 4 1 0-4 -8 2 -4-3 -12-2 -4 1 -4 5 -4-6 -8 10 -4-4 -7-2 -3-4 4-4 -10 0 -2-4 3-4 -5-2 -7-10 -9 5 -6-9 6-3 4 1 1-2 -4-4 4-8 -9 0 -4 3 -4-4 -8-4 -3-3 1-4 -6-4 -4 6 -4 0 -4 3 -12-8 -4 6 -8 5 -4 4 -2 4 1 4 -4 4 1 1 4-4 18 3 -6 8 3 16 -7 6 -4 0 -4-5 -5 3 -3 6 -8-9 -8 10 -4-5 0 9 4-1 0 3 -4 3 -8-5 -6 5 1 4 -5 4 4 4 -3 8 4 40 5 1 8 10 8 1 8 4 -1 4 2 4 -1 3 -4 0 -12-9 -4 2 2 4 -2 2 -8-3 -6 1 -2 4 4 3 8 0 7 9 3 12 -1 16 2 12 -2 20 3 16 -2 16 -9 24 -2 20 -9 16 -2 16 -6 4 -4 8 0 12 -6 8 -8-4 0-4 -7-4 -1-16 -5-4 8-28 -3-7 -3 3 -1 6 -8-1 -2-1 -1-12 -1-2 -5 2 -3-4 -5 4 -1 4 -13 8 3 12 8-2 4-5 6 3 1 4 -7 8 -4 1 -4 10 -5-3 3-4 -2-4 -24-8 -2 4 10 1 3 3 -5 4 2 4 -8-1 -4-3 -4-12 8-1 4-5 4 2 -2-4 24-16 -2-8 2-4 2-2 4 3 -3-9 -4-4 12-4 -5-9 2-7 -2-3 -7-1 3-4 4-3 4 4 4-2 3 1 -5 8 6 7 4 0 9-7 -3-4 3-8 -5-8 9-8 0-8 -14-12 3-4 -9-8 7-8 3 0 1 6 3-2 -2-4 6-4 4-8 -2-12 3-4 5 0 3-6 4 4 2-2 -8-8 1-4 -3-4 -8 4 -2-4 1-4 -3-2 -8 5 -8-4 -4 1 -4 4 -5-4 -4-12 2-4 -3-20 10-5 4 3 4-3 4 4 4-2 1-5 -3-4 3-4 -9-5 -4 1 -8-9 -12-1 -4 3 -4-4 -8-1 -1 8 4 12 -3 3 -12-11 -8 10 -4 3 -4-3 -2 2 14 16 -8 10 -12-5 -4 5 -4-1 0-5 -6 4 2 4 -6 12 2 2 8-6 0 4 -3 4 2 4 -3 12 -4 3 -4-3 -2 4 3 4 8 4 -1 4 -4-1 -4 3 -3-2 1-4 -2-2 -4-2 -8 4 -6-8 2-6 4-1 4 1 4-3 4 3 1-2 -3-8 -4-4 -1-8 -3-8 2-4 6-4 2-4 -7-8 6-4 9-12 -4-2 -2-6 -6-3 -12-2 -6 5 -2 8 -12-1 -7 5 -1 7 4-2 4 4 8 1 1-2 -2-4 6-4 3-1 4 4 4-5 8 1 4-3 3 4 -3 2 -4-2 -4 2 -4 6 2 4 -6 4 -4 1 -4-3 -12 7 -2-5 -2-1 -2 1 2 8 -4 4 4 5 4-1 0-5 4-5 1 2 2 8 -3 4 0 4 -4 1 -4-4 -8 1 -3-6 -5-1 -4 3 -12-4 -8 5 -4-1 -3-14 7-8 -4-7 -4-1 20-3 4 1 2-2 -6-5 -4 2 -16-7 -8 1 -6 9 2 8 4 4 -8 5 -7-1 -4-4 3-4 -3-4 -5-2 -4 2 -7 8 -1 6 -12-2 6-4 -2-1 -4 4 -8 0 -7 5 -1 7 4-4 3 1 -1 4 2 3 12-6 3 3 -5 8 6 5 -8 3 -1 4 1 2 4-1 5 11 7 3 8-2 4 5 12-1 1-5 3-3 4 4 -3-5 0-8 3-4 8 2 3-2 -2-4 3-2 4-1 4 3 -1 4 5 4 4-5 4 1 2 8 -2 4 4 5 4 0 5 7 -5 6 -4-4 -4 0 -5 10 -7 4 8 14 12 1 0 5 12 0 -2-8 2-6 8 0 4 3 4-2 3 5 -3 3 -4-1 -4 1 -4-5 -3 2 6 4 -1 8 2 4 7 0 -5 4 6 0 4-4 4-7 4 2 8-2 2 3 -7 12 5 8 -1 4 4 0 -3-4 3-8 10 4 -5 1 -2 3 -2 4 2 8 -2 2 -4 1 -4-5 0 7 4 2 0 6 -4-4 -4 7 -8 6 -12-5 -7 3 0 4 15 7 4 5 0 3 -4-3 -4 6 -4-4 -2 2 5 4 0 4 3 4 -1 4 3 8 -4 8 -12 4 1-8 6-4 -3-4 2-4 -2-3 -8-3 -4 4 -17-2 -2-4 9-12 -2-6 -10 2 -2 8 -3 4 3 4 -4 3 -3-3 1-4 -2-6 -6-2 -6-9 -4 4 -4-1 -4 0 -6-6 6-4 0-8 8-12 0-5 12-7 3 4 -5 8 5 8 -4 4 0 4 5 0 8 12 5-4 3-9 12 5 4-8 -2-8 -8-8 -1-8 6 0 1 4 2-4 6-2 2 2 -4 8 6 4 9-8 -1-2 -4 0 -4-6 2-4 -6 2 -8-8 -4 3 -8-2 -3-3 -1-3 -4 2 -4-1 -2 2 -1 8 -9 5 -4-9 -4-2 -12 3 -7 7 2 4 -3 8 0 2 8 0 1 2 -2 4 4 4 -6 4 -5 1 1-5 -5-6 -19 2 3 2 0 4 -4 2 -4-5 -2 9 2 5 8-3 3 2 -11 11 -9-3 -1-4 2-8 -4 2 -3-2 8-8 -5-4 5-8 -11-8 10-1 2-3 3-8 -7-4 5-4 -2-4 3-4 8 0 7-8 1-4 -8-6 -4 4 -4-3 -6 5 -2 5 -20 0 -4 3 8 12 -1 4 3 8 -3 12 9-2 3 2 -5 4 0 4 -8 4 3 4 -5 12 6 8 0 4 -6 3 -7-11 -1-12 -8-3 -4-10 -4 1 -4-2 -1 6 -3 2 -12 1 -7-11 -2-8 9-2 4 3 2-1 -1-8 -6-4 9-12 3-12 -5-8 1-8 5-6 4 5 2-3 -3-4 3-4 -2-8 -7 4 0 4 -5 1 -2-5 4-4 -1-4 -1-3 -4 1 -8 6 -1 8 -7 12 -2-52 0-916 2-2 180-1 2444 1 2 2 0 24zM760 1126l0-4 6-4 -7-4 -5-9 0 3 4 2 -6 4 6 1 2 3 -3 8zM853 1154l-3-2 -2 2zM856 1166l-2-2 -4 2 4 3zM862 1179l-4-1 4-5zM834 1180l-2-2 2-3 2 3zM842 1199l-2-1 2-1zM779 1230l-5-4 4 6zM576 1238l7-4 -1-2 -4 0 -4-3 -7 5 7 5zM642 1266l7-4 -6-8 5-4 1-12 -7-9 -3 1 -2 8 1 2 5 2 -5 0 -2 8 3 4 -2 4zM946 1237l-2-3 2-1 3 1zM942 1242l-2-4 2-1 2 1zM910 1256l-8-3 -9-11 9 1 8 9zM978 1247l-6-1 2-2 6 2zM718 1259l-2-1 2-3zM610 1262l-8-2 -1 2 1 3 4 0zM498 1269l-3-3 3-2 3 2zM563 1270l2-4 -3-3 -7 3 3 5zM506 1279l-2-1 0-4 -2-4 4-3 5 7zM571 1278l2-4 -3-4 -1 4zM522 1275l-2-1 2-3 3 3zM606 1274l-1 0 1-4zM510 1286l-2-4 2-1 3 1zM534 1293l-4-3 0-5 5 5zM674 1292l-5-6 1-1 7 1 0 4zM437 1302l5-1 0-7 -12 4 -1-4 3-4 -2-2 -11 6 11 11zM719 1290l-1-2 -4 2 4 2zM460 1310l5-4 -6-4 1-4 -6-5 -7 13 7 6zM510 1308l-4 0 -4-5 -4 1 -2-2 6-3 -1-5 9-4 4 8zM610 1301l-6-3 6-5 3 5zM490 1302l-7 0 7-5 2 1zM678 1300l-2-2 2-3 2 3zM570 1311l-4 2 -2-3 6-1zM718 1316l-3-2 0-4 3-2 2 6zM439 1322l-2-4 5-4 -4-4 -13 8 1 3 4-1 4 4zM514 1317l0-4 2 1zM942 1330l-5 0 -3-17 8 10zM552 1322l1-4 -3-2 -8 6 8 3zM814 1319l-2-1 2-1 2 1zM531 1322l-5-2 -2 2zM774 1326l-1-4 -3-1 -3 5 3 3zM658 1335l0-5 2-4 10-2 0 5 -4 3 -4-1zM742 1327l0-2 3 1zM386 1331l-2-1 2-1zM422 1334l5-4 -5-4 -4 6 -4-1 -1 3 5 1zM474 1330l-9 0 5 2zM690 1367l-6-9 -6-3 1-5 -3-4 -8 0 2-8 4 0 4-4 16 13 0 7 4 8zM690 1340l-2-2 1-4 4 0 0 4zM698 1383l-5-1 9-12 4-1 2-7 -3-4 3-4 -6-8 -7-4 -1-4 4-2 12 0 4-4 3 2 -4 8 4 4 -2 4 3 4 -2 4 2 16 -8-4 -5 8zM1004 1334l-2-4 -2 4zM382 1343l0-8 5 3zM938 1350l-4 2 -2-2 6-4 -5-4 1-6 9 10zM722 1347l-2-1 2-2zM1028 1346l-2-2 -4 2 4 3zM642 1356l-10-2 0-4 2-3 4 4 4 0zM420 1358l-2-6 -4 6 4 2zM525 1354l-6 0 3 3zM398 1366l-9-4 9-2 4 2zM500 1362l-2-2 -5 2zM662 1366l-4 0 0-4 5 0zM698 1371l-2-1 2-7 3 7zM435 1386l0-4 4-8 -5-6 -2 14 -6 4 4 3zM542 1382l-1-4 1-1 4 1zM382 1395l0-10 4 5 -1 4zM578 1387l-3-1 3-2 2 2zM646 1398l-4-1 0-7 4 4zM458 1396l-3-2 3-2 2 2zM694 1407l-4-8 0-6 6 1 3 4 -4 4zM542 1399l-4 2 -3-3 3-1zM2047 1402l-1-2 -4 2 4 2zM398 1504l-1-6 -11-8 -4 0 0-54 4 4 4-2 4 1 1-5 11-4 4 4 12 1 3-1 -7-1 -10-7 4-8 -2-5 8-7 4-1 6 5 -5 12 9 4 -6 4 0 8 4 9 8-3 8 6 1 12 3 6 5 2 -5 1 -2 3 -6 4 -4-4 5-8 -1-4 4-4 -4-4 -12 12 3 4 -3 6 -8 5 -4-4 -10 1 -2 4 1 4 -5 3 2 5 -5 4 1 4zM2250 1412l0-8 4 2zM490 1414l-2 0 2-3 2 3zM1286 1778l-423 0 4-36 5-8 0-8 4-8 1-12 6-12 -1-4 3-4 5-24 2-12 -2-8 5-16 -2-4 2-12 8-8 3-12 -2-20 2-8 8-12 5-12 2-16 16-44 -1-8 2-4 -2-4 7-12 4-20 7-11 8-6 12 0 12 9 8 2 28 16 32 10 20 11 16 4 20 10 8 6 44 14 7 7 18 8 2 4 9 5 16 4 12 9 24 4 20 12 8 1 16 11 8 2 48 25 28 8 5 3 5 8 -3 16 -13 24 -8 20 -14 16 -15 28 -37 44 -8 16 -2 8zM602 1426l-3-8 7-4 3 4zM626 1419l-2-1 2-3 2 3zM545 1426l-7-5 4 6zM690 1429l-3-3 3-5 4-2 6 3 -2 4 -4-1zM458 1428l-2-2 2-1 2 1zM686 1435l-7-5 7-3 3 3zM694 1437l-3-3 0-4 3-2 4 6zM702 1440l-3-6 3-2 4 2zM575 1438l-1-1 0 3zM502 1446l-4 3 -1-7 6 0zM594 1444l-2-2 2-3zM542 1456l-4-2 0-4 -4 2 0-3 4 1 4-3 2 7zM574 1655l-4-1 -1-4 -7-6 -4 2 -4 8 -14-20 0-4 8-4 1-4 -3-4 -4 1 -2-1 0-4 -6-4 1-8 -4-8 7-4 1-4 -6-8 0-4 3-4 1-8 -3-3 -4 5 -6 2 -2 5 -4-2 -4 3 -4-2 -8 4 -7-16 5-8 -10-11 -9-5 0-4 5 1 4-4 4 4 -6-9 0-4 2-3 4 1 16-10 9-12 2-12 -3-2 -4 2 -2 4 2 4 -4 3 -4-5 -4 5 -8-6 -3 3 -1 7 -9 5 0 4 7 4 1 4 -3 2 -9-6 -3-5 -1 1 -2 12 8 8 -1 2 -11 2 4 8 -1 8 -7 8 -1 4 -4-5 -4 5 -8-3 -4 1 -2-2 2-12 6-4 -2-3 -12 2 -5-3 4 8 -2 12 4 8 3 3 5 1 -4 4 -1 13 -4-1 -1-12 -3-3 -8 5 -9-2 3-4 -4-4 1-4 1-2 4 5 2-3 -3-4 -1-8 4-12 0-4 3-4 0-4 11-4 4 9 6-5 0-4 -6 1 -8-5 -4 2 -3-2 -2-12 5-8 -3-8 15-4 -2-4 2-4 4 4 -4 4 4 7 8 5 1-4 9-8 6 0 -1-8 1-4 8 0 4 4 -5 4 -2 4 4 4 -1 3 -13 5 4 4 -3 3 -8-2 -3 3 -4 16 7 1 1-1 -4-4 7-3 12-10 4 0 4-10 11-5 -3-12 -7-4 7-15 4 0 8-4 6 3 -11 8 8 4 -1 4 6 2 2-2 -5-4 7-5 12 0 4 3 16-5 3 3 -8 4 -2 8 16 4 2 16 4 4 -5 4 2 3 4 1 8-2 7 6 -3 3 -7 1 -1 5 -7 3 7 4 -1 4 5 3 0-3 12-7 1 3 -5 12 -8-4 -8 7 -2-3 0-8 -4-4 0-4 -6 1 -12-4 -4 5 -4-1 -4 3 2 4 -3 8 1 2 8 2 4-3 4 1 11 6 -3 3 -4-1 1 6 -4 4 1 4 11 8 -5 2 -1 2 2 8 5 4 -1 8 4 4 0 8 2 4 -6 8 0 12 3 1 8-4 4 2 8-1 7-6 2-4 -1-4 4-2 6 6 1 4 -7 7 -12 8 -5 1zM574 1456l-4 2 0-7 6 3zM735 1466l-1-4 -8-8 7 8 1 6zM470 1458l-4 4 -7-4 3-3zM474 1464l-1-2 1-2zM562 1502l-6-8 -1-4 1-12 -2-4 5-4 -1-1 -4 5 -3-4 1-4 6-1 4-4 2 9 -4 16 5 4 4 8zM466 1470l-2-4 2-4 4 4zM495 1474l-1-2 -1 2zM502 1482l4-4 -4 4 -4 0zM535 1494l-3-16 -2-1 -6 17 2 3zM574 1489l-7-3 7-5 3 5zM622 1486l-4 3 -3-3 0-4 3-2zM1428 1494l3-4 -1-4 -4-1 -6 9 6 2zM586 1503l0-2 2 1zM590 1508l-2-2 2-2zM410 1539l-12-2 -4-4 -12 0 0-6 4-5 2 0 2 5 5-1 -4-4 3-12 4 0 0 4 8 1 4 3 4-6 3 2 -2 4 6 4 -7 8 2 4zM406 1513l-4 1 -4-4 8-3 2 3zM590 1545l-6-7 5-4 -1-4 -9-8 -1-4 4-2 4-8 10 6 2 5 8-4 4 2 4-4 6 9 -1 12 5 4 -6 2 -16-9 -4 0 -4 3 0 8zM602 1512l-4-2 4-2 3 2zM698 1530l-7-12 3-2 7 6zM617 1530l-7-4 -4-6 -2 2 2 6 4-1 4 4zM654 1527l-5-1 5-5 3 5zM682 1542l-8-1 -1-3 -7-4 -3-8 9 0 3 8 12 0 0 4zM390 1574l-4-4 3-4 -7-5 0-18 5 7 7-2 4-8 4 9 4-1 2 2 -4 12 -6 6 -4-3 -3 1zM527 1550l-1-2 -3 2 3 1zM646 1552l-4-2 4-3 3 3zM686 1567l-8 0 -3-5 7-13 7 5 -3 4 -4 0 0 6 4-4zM516 1558l4-4 -2-1 -6 5 2 2zM606 1559l-6-1 2-6 4 2 1 4zM642 1559l-2-5 2-4 2 4zM546 1565l-2-3 2-4 4 0 0 4zM474 1576l-5-6 2-4 11-7 2 7 -2 4 -6 0 2 4zM508 1562l-2-2 -1 2zM554 1568l-1-2 1-2zM382 1575l0-4 2 3zM726 1595l-10-13 10-8 8-2 1 2 -2 4 2 4zM694 1592l-18-10 6-6 12 9 4-1 2 2zM462 1588l-5-6 5-3 3 3zM466 1687l-8 3 -3-4 3-6 7-2 -5-4 0-4 10-8 -1-4 9-15 6-1 -2-2 -7-2 -2-8 -7-6 -8 0 -10-6 6-7 8 9 4 1 3-3 -3-4 4-2 4 3 8-5 1-4 -5-3 -2-5 2-18 4-1 3 7 9 3 16-6 5 11 -1 4 -7 12 -14 12 8 12 -5 8 2 2 8-5 3 3 -2 4 7 8 -8 6 -3-2 2-4 -7-5 -5 1 -3 9 -8-9 -4 8 -8 4 2 4 -4 8zM450 1765l-13-7 2-12 -3-4 6-12 5 0 -1-8 8-4 -4-5 -4-1 -4 3 -4 6 -8-2 2-5 -2-2 -4 4 -4-1 -4 7 -5 0 -3 3 -4-2 -2 3 5 8 -11 7 -4-5 -4 6 -4 1 -2-5 -2-12 0-64 0-6 3-2 -3-8 0-57 8 5 4 12 2-4 6-6 15-2 -4-8 1-1 4-1 4 3 4 0 4 7 -2 4 -12 8 -6 12 -4 2 -8-2 -4 9 0 4 8-7 4 5 5 1 -9 1 -4 7 4 8 -6 20 2 1 4-2 6 5 -4 16 -7 8 3 8 14 3 8-7 8 3 4-5 9 6 3 6 4-7 4 3 8-1 4 2 4 6 8 4 12-8 8 5 7-14 9-1 11 5 -12 20 1 2 4 1 8-5 4 2 -2 4 2 3 12-3 4-4 8 16 -20 15 1-11 3-3 6-1 -2-6 -8 4 -4-5 -8 7 -8-11 -1 7 -6 0 -9-8 8-4 0-4 -8 3 -4-7 -4 0 -4 5 -1 3 5 4 0 4 -8 4 -4-7 -4-1 -2-8 -2-2 -4 1 -2 5 10 4 3 4 -2 4 -9 4 -8-1 -4 3 -2 2 1 8 7 4 -1 4 -5 2zM430 1588l-3-2 3-2 2 2zM634 1587l-2-1 2-1zM594 1592l-2-2 2-1 2 1zM606 1591l-3-1 5 0zM626 1591l-1-1 3 0zM562 1594l-4 1 0-4zM598 1596l-2-2 2-1 1 1zM530 1604l-3-2 3-2 3 2zM548 1602l-2-3 -4 3 4 2zM594 1603l-5-1 5-2 2 2zM530 1611l0-2 3 1zM548 1614l-3 0 1 4zM558 1615l-1-1 1-2zM598 1660l-16-1 -4-9 0-4 4-2 4 5 4-3 1-4 -2-4 5-8 -4-4 8-6 9 2 -7 4 9 4 0 4 -7 12 -5 4 3 8zM479 1630l-3 0 2 3zM470 1643l-4-1 4-2 2 2zM714 1651l-4-1 4-4 2 4zM498 1660l-2-2 2-7 4 7zM522 1664l0-6 3 4zM534 1671l0-5 -7-4 3-2 4-1 2 3 0 8zM634 1680l-4-6 4-3 4 7zM546 1711l-4-2 -4 3 -3-2 7-16 -5-4 1-13 5 17 4 4 1 8zM522 1687l-5-1 5-6 2 2zM486 1696l-1-2 1-2 2 2zM594 1699l-3-1 3-3zM396 1710l-2-6 -2 6 2 2zM401 1722l6-8 -1-5 -7 9 -1 4zM534 1716l-2-2 2-2 1 2zM642 1715l0-3 4 2zM566 1731l-7-9 -1-4 4-3 14 3 3 4 -1 7 -4 0 -8-7 3 4zM498 1739l-8-9 4-8 7 12zM554 1724l-2-2 2-2 3 2zM630 1727l0-6 1 1zM414 1732l-4 1 -4-3 8-3 2 3zM422 1732l-1-2 4 0zM570 1751l-4 1 -6-6 0-8 -5-4 3-3 12 10 6 1 -6 2zM646 1734l-1 0 1-3zM410 1778l-28 0 0-33 4 3 4-2 4 2 4-6 4 4 8-10 4 13 6 1 1 4 -4 4 -1 8 -2 3 -4-2 -1 3 4 4zM447 1738l-4 0 3 2zM426 1755l-3-1 2-4 -2-8 3-2 4 5 4 1zM490 1752l-8-3 0-5 7 2 3 4zM406 1754l-4-7 -1 7zM502 1759l-6-5 6-5 2 5zM510 1758l-3-4 3-2 3 2zM542 1768l-7-6 3-5 4-2 2 11zM666 1767l-3-1 3-4zM658 1778l-5 0 -1-8 2-2 6 10zM686 1778l-5-4 5-5 5 1 -5 4zM426 1778l0-2 1 2z"/>
<path fill="#58D000" d="M3006 1582l-32-11 -168-73 -68-26 -36-9 -28-5 -12 0 -20-8 -28-3 -12-4 -24-3 -20-7 -12-2 -3-5 2-8 5-12 1-12 13-24 -2-4 2-16 4-8 2-12 -8-14 -4 0 -12 4 -2-6 1-8 -7-6 -12-4 -1 6 -3 3 -4-5 -9-2 -2 4 2 8 -3 3 -8 0 -2 5 -10 8 -4-4 0-6 -12 0 -16 13 -4-1 -10 6 -6 8 -4-5 -12 5 -12-3 -2-9 -10-4 1-4 -5-5 -6 5 -2 7 -20-1 -28 1 0 3 3 2 0 4 -3 2 -8-4 -8 2 -4-3 -3 3 3 8 -10 4 -4 4 -6 1 -4 5 -4 0 -4-3 0 5 -9 4 -7-1 -8-8 -13 5 0 8 -3 2 -12-7 -8 3 -8-4 -16 10 -1 4 -12 8 -7-1 -8-12 -12 1 -16 10 -7-2 -5-6 -12 8 -4-2 6-8 0-4 -2-1 -11 5 -2 4 -31 6 -9-2 -15-9 -8 5 -8 2 -8 1 -4-5 -4 1 -8 13 -7-8 -9-4 -4 4 -11 0 1 4 -6 1 -7-17 3-6 8 4 2-2 -2-3 -4 3 -3-4 4-4 -1-2 -8 2 -4 7 -8 3 -8-8 -3 2 1 4 2 2 4-2 2 4 -18 1 -8 3 -2-4 6-12 -4 3 -2-7 -2 0 -6 12 5 4 -1 4 -6 5 -12 2 -16-5 -8-7 -9 1 -7 6 -8-10 -4 1 -4 8 -20 8 -8-5 -1-8 -7-8 5-4 -1-5 -4 1 0 8 -16 6 -4 0 -8-5 -8 3 -4 0 -4 3 -6-3 -6-11 -4-1 -4 7 -8 4 -8 8 -4-2 -2 3 1 4 -7 7 -12-1 -4-4 -16 4 -9-2 -3 13 -4 2 -4-2 -3 3 3 4 4-3 3 3 1 4 -8 6 -8 1 -9-3 -15-11 -4-9 -4 2 -3 2 1 4 -10 5 -3 7 -10 4 -6 8 -5 12 -8 4 -8 9 -5-1 1-4 7-4 -3-3 -10 3 -6 4 -12 1 -8 7 -8-1 -4-5 -4-1 -8 3 -4 5 -8-6 -4-1 -4 4 -24-5 -12 7 -8-4 -12 2 -10-2 -2 3 -4-1 -3 2 3 2 4-1 5 3 -9 2 -16-7 -16-3 -32 20 -4 4 6 12 -2 4 20 8 0 5 -4-4 -4 5 -4-3 -4 8 -12 0 -4 6 -32-5 -10-4 -2-5 -20 1 -8-4 -8-13 -12 5 -3-4 3-9 -4 3 -4-3 -3 5 6 8 0 4 -3 2 -17-6 -3-3 -4 3 0-4 -16-5 -20-12 -8-3 -6 0 -4-4 -14-7 -21-1 -7-6 -8-3 -20-16 -4 0 -32-18 -14-5 -2-4 -4 1 -4-4 -8-2 -16-9 -24-8 -4 1 -4-2 -14-21 4-4 -3-4 5-6 12 3 8-3 12 1 4 3 4-3 6 5 0 4 6 3 3-7 -3-5 -4 2 -7-5 -2-4 2-4 -4-4 3-4 -5-4 0-4 5 1 4-8 2 3 4 0 -1-4 3-1 4 3 6-6 1-8 -11-11 -3 3 -1 6 -4-1 3-5 -9-4 -12-24 -1-8 -9-7 -8 0 -5-5 0-8 -3-2 -8 0 -8-7 -4 5 -20-2 -8-2 -2-4 -10-4 -7-8 -1-6 -7-2 -1-4 -4-4 4-3 0-7 -16-3 -6-3 -1-4 8-8 -1-3 -8 5 -2-2 3-8 -5-3 -4 11 -4 3 -4-3 -3-4 2-4 8-4 -3-5 -8-3 -2-4 -1-4 5-4 -6 2 -3 10 -5 3 -4 9 -4-1 -8 4 -1 1 3 4 -6 7 -8 2 -3 15 -6 4 -2 8 -5 0 -1-4 -3-1 -4-7 -4-1 -4 2 -7 11 7 7 8-5 2 10 -10 6 -4 5 -4 0 -2 5 4 4 -1 4 -7 8 7 8 -2 4 4 12 -2 4 1 12 4 8 -1 4 10 16 -1 4 -4 4 -10-1 -8 4 -4-2 -6-5 2-4 -8-7 -10-5 2-4 -8-4 9-8 -5-1 -3-3 12-16 -5-8 7-4 0-4 -7-5 -3 5 -5 2 -8-10 -4 0 -4-6 -4 5 -4-3 -8 1 -4-4 -4 1 -4-3 -4 2 -12-5 -4 4 -11 0 1 4 -2 2 -3-2 2-4 -3-5 -12-2 -12 3 -3 4 -5 2 -4-6 -2 4 -6 0 -16-11 -8 7 -8-3 -12 4 -4 7 -8 8 -4-4 -28 3 -4 5 -8 1 -8 5 -8 0 -8 4 -8-2 -22 12 -2 7 -8-1 -12 8 -12 5 -12 10 -8-1 -12 10 -4-1 -3 3 -1 13 -2-957 2-2 180 0 2444 0 2 2 0 24zM734 1110l-4-13 -7 5 -2 4 5 5zM768 1142l-7-8 4-4 -2-4 6-4 1-8 -4-6 -8-2 -1-4 -7-6 -1 2 4 12 -4 4 1 2 7 2 -5 12 3 4 0 4 4 4zM847 1122l-1-7 -1 7zM743 1134l-1-2 -4 2 -4-8 -4-2 -5 2 13 9zM793 1174l-3-4 -4-1 -1 1 5 5zM802 1174l-4-2 -4 2 4 2zM786 1201l0-4 2 1zM810 1199l-3-1 3-1zM672 1214l6-8 4 0 0-1 -9-3 -6 8 3 7zM806 1214l-10-4 6-4 7 4zM663 1218l-2 0 1 2zM598 1229l-3-3 3-4 3 4zM782 1228l-3-2 3-4 3 4zM678 1240l-4-3 4-1zM774 1243l0-2 2 1zM734 1272l-4-2 4-1 2 1zM722 1287l0-3 3 2zM730 1288l-3-2 4 0zM1063 1290l-1-2 -1 2 1 3zM730 1299l-5-1 -1-4 6-3 3 3zM1030 1304l0-4 2 2zM2530 1311l-5-1 1-5 6 5zM1031 1314l-1-2 -1 2zM2534 1315l-2-1 2-2 1 2zM534 1347l-4 1 -4-4 -8-1 0-3 3-2 -1-4 1-4 4 4 -3 4 4 4 4-1zM758 1527l-5-1 -4-20 -4-4 7-40 -2-5 -5-3 3-8 -4-12 3-4 1-12 4-4 -7-8 3-8 -3-20 2-24 5-20 -1-4 3-2 8 1 4 4 8-1 8 5 4-2 6 7 3 16 -3 40 3 12 -3 20 -9 28 -1 13 -8 15 -4 16 -7 8 -1 12zM450 1339l-3-1 3-5zM2419 1334l-6 0 1 2zM1010 1340l-2-2 2-3 2 3zM1973 1346l-3-2 0 3zM2554 1349l-2-3 2-1zM430 1359l-4-1 4-4zM490 1383l-3-1 1-4 2-4 4-2 0 6zM602 1379l-4 2 -1-3 1-2zM1662 1386l1-4 -9-5 -6 9 6 2zM602 1393l-2-3 2-1zM1278 1778l-71 0 -1-4 -9-8 0-8 4-4 -11-3 -6 3 3 4 -2 4 1 4 4-3 2 3 -5 8 4 4 -325 0 0-8 2-4 3-24 3-4 20-84 0-16 2-8 1-16 8-12 4-12 -1-24 14-28 2-16 7-16 5-20 5-8 0-16 3-4 11-36 11-6 8 1 12 8 52 25 8 0 11 4 4 4 21 10 11 2 5 5 12 4 12 7 16 3 20 8 16 9 8 10 12 3 4 5 14 2 10 9 20 3 12 5 8 6 16 5 16 12 32 13 24 16 4-1 24 7 3 5 0 8 -6 8 -5 17 -8 7 -6 16 -6 1 -12 13 -1 2 3 4 -1 4 -7 20 -26 28 -12 9 -8 19 -7 4 0 8 3 4zM562 1442l-4 0 4-1zM422 1464l-7-6 7-3 3 3zM406 1473l-4-3 4-3 2 3zM386 1483l-2-1 2-2 2 2zM1254 1492l-3-2 3-4 2 4zM1262 1497l0-3 2 0zM1370 1507l0-3 1 2zM534 1514l-12 0 -2-4 6 4 4-5zM514 1547l-5-1 -3-5 -4 2 -3-5 5-4 -1-8 3-7 3 3 6 12 -1 8 3 4zM382 1635l0-15 4 6 0 4zM1321 1666l-3-3 -2 3 2 3zM1320 1678l2-4 4 1 0-5 -8 6 0 3zM394 1685l-3-3 3-4 2 4zM1266 1702l-4-4 5-4 -1-3 -4-2 -2 5 0 8 2 2zM390 1698l-2 0 2-4zM382 1701l0-3 4 0zM386 1702l-3 0 3-4zM1223 1718l-5-3 -3 3 7 3zM390 1728l-2-2 5 0zM1204 1742l3-8 -1-3 -4 6 -4-3 2 8 2 2zM1257 1742l0-4 3-4 -2-1 -4-1 -7 6 3 4zM1243 1746l-1-5 -8-2 -2 3 1 4 5 4zM446 1755l-1-1 1-3zM1265 1754l-3-3 -2 3 2 2zM1268 1762l-2-2 -2 2 2 4zM398 1771l-1-1 2 0z"/>
<path fill="#2EBE10" d="M3006 1579l-57-21 -27-14 -96-38 -16-9 -72-28 -23-7 -16-8 -9 1 -16-4 -8 1 -12-10 -8 1 -2-5 2-7 -4-5 2-4 -6-2 -4 1 -16-10 -4 7 -2-4 5-12 -10-12 -12 0 -8 4 -5 10 -4-7 -4 7 -4 1 -3-3 -2-12 8-12 1-16 6-8 2-12 12-20 0-8 -4-8 3-4 -11-13 -11 1 -5-8 6-8 -2-12 -12-6 -12 0 -8-8 -8-2 -8 0 -4 8 -16 14 -4-5 -2 3 5 4 -4 8 -3 1 -8-5 -7 4 0 8 -5 6 -4 0 -12-10 0 13 -8 6 -8 3 -8-1 -4-9 -4 1 -7-5 -5 2 -20-5 -8 5 -4-2 -4-7 -4 0 -8 4 -8 1 -4-3 -4 6 -16 10 -12-6 -4-5 -8 0 -4 3 -12-6 -4 2 -8-8 -5 5 -1 4 4 4 -2 2 -12 0 -4-5 -4 3 -8-3 -9 11 -11 8 -1 12 -6 4 -2 8 -3 3 -8-1 -8 4 -12-10 -16-3 -4 3 -12 1 -8-2 -8-7 -8 2 -3-2 -5-7 -4 2 0 6 -8 7 2 8 -6 10 -8 0 -12 7 -20-5 0 8 -4 2 -4-6 4-8 -1-4 4-4 -2-4 -5 6 -8-1 -4-4 -27-9 -5-4 -6 4 -2 6 -8-8 -12-2 -12 1 -8-6 -4 9 -4 0 -4-6 -4 0 -8 6 0-8 -4-2 -20-1 -4 5 -8-9 -12 6 -3-3 5-4 -2-4 -4-1 -2 5 1 4 -7 4 -1 4 5 8 -3 4 7 1 3 3 0 4 -11 7 -8-1 -4-5 -4-1 -4 2 -24-1 0-9 9-4 1-4 -2-5 -4 0 -6 9 -10 5 -9-9 1-4 -3-4 -9-3 -5 3 -6 8 -1 4 -7 8 -1 5 -12 6 -7-3 -3-4 6-2 4-6 -6-8 2-4 -4-6 -16 0 -12 8 -8-3 -12 9 -4 0 0 4 -20-1 -4-4 -4 4 -4-1 -8 2 -8 8 -6-4 1-4 -3-4 -4 0 -5 8 -13 8 -2 4 3 4 -3 8 -4 1 -4-5 -12-1 -8 2 -8-4 -4 3 4 8 -9 4 10 8 -13 3 -4-6 -4-2 -3 1 0 4 -6 8 1 6 8-3 4-6 1 3 -1 4 -4 1 -3 3 2 8 -3 5 -4 2 -8-2 -8-10 -5 9 1 3 5 1 -3 8 -6 2 -4-1 -6 3 -2 5 -4-1 -8 2 -14-10 2-12 12-4 3-4 0-4 5-6 8 4 8-7 4 1 1-4 -3-12 -10-4 -1-4 -3-2 -8 1 -17 9 -2 12 4 4 -1 14 -4 2 -4-4 -8 4 -8 0 -6 4 -2 16 -4 5 -8-4 -12 6 -4 6 -4 1 -8-3 -24 2 -16-6 -12 2 -12-7 -4 4 -4-2 1-4 -2-4 -11-9 -8-5 -4 2 -4 2 1 10 11-2 0 6 7 4 1 4 4 2 3-2 1-4 2 4 10 8 -8 8 -7 4 -37 16 -8 14 -8-1 -4 4 -8-3 -4 2 -4-2 -16-2 3-4 -6-4 -5-2 -12 3 -8-7 -12 7 -8 1 -7-10 -1-4 -5-4 4-4 0-4 -3-4 -4 3 0 5 -8 11 -4-4 -12 3 -12-2 -20-13 -12-1 -8 1 -16-7 -4-5 -14-7 -6-7 -8-1 -9-4 -3-4 -22-8 -14-13 -12 2 -4-5 0-4 -4 1 -12-3 -20-10 -4 4 -8-16 4-10 4-2 10 8 1 4 -7 8 0 4 0-4 4-3 4-3 8-1 1-5 7-3 4 0 8 6 11-7 -2-8 -5 1 -3-5 -14-12 3-4 -2-4 4-8 8 1 4 5 12-19 4 1 -2-4 4-4 -6-4 -3-8 -1-1 -4 6 -4-3 -8 2 -8-3 -6-9 6-8 -4 3 -3-3 -4-8 -1-8 -4 2 -4-5 -13-5 -3-9 -8-5 -12-4 -4 4 -8 1 -32-13 -5-6 -2-8 -8-8 1-8 -2-9 -4 3 -12 0 -5-6 9-12 -9-12 2-4 -3-4 2-8 -4 3 -14-7 -7-12 -7-4 -6 4 -1 4 0 16 -12 8 -1 5 -8 3 -4 6 -8 0 -4-5 -12 2 -1-7 -5-4 1-4 -4-4 1-6 4-2 -12-1 -1-3 1-8 8 5 3-1 -3-1 -4-7 -9-8 -11-3 -4-6 -8 1 -4-6 -2 2 6 4 5 12 -3 8 3 12 -13 6 -4-7 -4-4 -4 1 -5 8 4 4 -2 4 3 6 8-4 4 4 4 0 3-2 -2-4 3-5 8 10 7 3 9 8 2 12 7 4 2 8 -7 4 -3 4 -1 8 -5 4 13 8 3 4 -8 8 -4 12 -4 4 1 8 4 4 0 4 -10 4 2 2 8-1 2 3 3 8 -2 4 1 12 5 8 -2 4 8 12 -3 4 3 4 -3 2 -4-3 -12 6 -1-5 -15-17 -5 1 1-8 -3-4 7-4 -12-4 4 0 6-16 -3-8 7-4 -3-8 2-4 -5-5 -8 1 -4 9 -8-7 -4-1 -4-6 -8 0 -8 4 -4-4 -27-7 0-4 5-8 7-4 -5-10 -12 11 -8-1 5-4 -4 0 -6 16 -3 3 -8-4 -16 6 -4-4 -4 0 -4 4 -4-4 -16-7 -12 8 -16 4 -8 8 -44 8 -16 9 -12 3 -8-1 -8 2 -16 11 -8 2 -8 7 -20 11 -20 9 -8 6 -8 2 -2-939 2-2 180 0 2444 0 2 2 0 24zM731 1114l4-4 -3-8 2-4 -4-5 -8 3 -2 6 -4 4 7 4 -5 3 0 2 4 2zM791 1114l-1-2 -4 2 4 3zM893 1114l-3-2 -6 2 2 3zM711 1126l-1-2 -1 2 1 3zM806 1146l-8-3 -2 3 2 3zM647 1162l7-4 2-4 -2-2 -4 5 -4-2 -6 3 6 5zM862 1163l-5-5 5-5 4 5zM891 1170l-1-3 0 4zM968 1218l2-4 -4-6 -4 1 4 12zM658 1216l-4-2 4-2 3 2zM975 1218l-4 0 3 2zM746 1241l-3-3 3-3 4 3zM2595 1254l-1-4 -5 0 5 5zM2591 1282l-1-6 -2 2zM1076 1302l1-4 -7-9 -4 1 -4-4 -4 5 -4-5 -3 4 3 8 12-2 5 2 -1 4 4 4zM2350 1312l-3-2 7-14 4 3 6-1 -2 9zM2342 1308l-5-2 -1-4 2-2 4 2zM1056 1306l-6-3 -3 3 7 2zM2266 1315l-4 2 -5-3 9-4zM1040 1322l-2-4 -2 4zM2102 1338l-4-5 -2 1 2 5zM2186 1337l0-5 4 2zM754 1511l-3-13 3-4 -1-16 5-8 -2-4 1-8 -2-12 -3-4 -2-8 0-12 5-8 -1-16 -3-4 -2-12 4-16 -2-16 7-15 8 3 12 0 10 4 -1 4 5 12 -2 12 0 24 -2 8 4 12 -8 36 -7 16 1 4 -1 4 -8 12 0 4 -5 8 0 4zM1990 1342l0-7 3 3zM1870 1346l-1 0 1-3zM1642 1351l-3-1 3-1zM1079 1362l-1-2 -4 2zM1347 1374l3-4 -4-8 -8 0 -5 4 5 8zM1483 1378l-2 0 1 2zM1477 1414l3-8 -3-4 -3-3 -4 2 -10-7 4-8 -2-1 -12 6 -1 3 4 4 3 12 10 2 4 4zM1479 1386l-1-2 -4 2 4 2zM1361 1402l-3-4 -5 0 5 5zM1539 1410l6-8 0-4 -7-3 -3 3 2 8 -5 4zM2562 1407l0-9 2 4zM1358 1415l-2-1 2-2 2 2zM1162 1778l-30 0 2-4 -4-5 -4 6 -4-3 -5 2 -3-5 0 5 3 4 -34 0 7-2 4-8 7-2 -6-4 3-8 -4-2 -4 8 -20 7 -5-1 1 5 -4 1 -4 6 -189 0 3-24 7-20 1-12 5-20 4-8 2-16 5-16 1-24 2-4 1-20 9-12 3-36 13-28 3-20 6-10 4-19 7-11 0-12 4-8 5-28 6-8 6-2 8 0 8 4 7 6 17 7 4 4 20 7 8 6 8-1 27 13 9 7 8 0 32 18 16 1 24 10 16 12 4 8 12 4 1 4 15 2 3 2 0 4 -3 3 -4 0 -8-4 -4 2 -4-2 -8 8 2 9 10 12 2-4 -4-4 2-2 8 0 4-6 -4-4 0-7 2 3 6 2 4-5 8 4 12-2 4 7 8 1 4-1 8 7 4 0 2 3 0 8 14 4 4 4 0 12 -7 4 5 4 0 4 -6 9 -8-1 -4 3 -3-3 -1-10 -4 1 -4 7 -11 2 10 8 -4 8 0 4 3 4 -10 9 -8-2 -1 1 0 12 -7 0 -1 4 4 12 -15 1 -4 3 4 12 8 4 -2 8 2 4 -12 5 -1-5 -7-4 -16 8 -1 8 3 4 4 16 -2 5 -16 2 -5-7 1-5 -7 5 -2 4 5 4 4-1 7 9 -2 8 -5 0 -4-7 -4-2 -4 3 -4-5 -4 7 -2-12 -3-4 -3-2 -2 2 1 16 -7 2 -3 6 3 2 8-1 4 6 4 0 2-7 -3-4 1-4 4 2 4 5 2 9 10 8zM1482 1434l-3-4 7-4 -3-4 7-1 4 4 4-1 0 8 -4-4zM2622 1438l-6 0 -5-4 -1-4 8-3 6 7zM1231 1450l-1-7 -4 3zM1191 1454l-4 0 3 3zM1202 1462l0-1 2 1zM1358 1503l-8-5 1-4 3-2 8 2 0 5zM1165 1562l3-4 -2-2 -4 0 -5 6 1 3 4 1zM1203 1562l-1-2 -3 2 3 2zM1190 1574l0-6 -4 2zM1229 1574l-3-7 -5 3 1 5zM1282 1572l-3-2 5 0zM1170 1602l3-4 -5-4 0-8 -5-4 1-4 -2-3 -8 5 -2 6 1 4 9 9zM1318 1588l-4 2 -4-1 -3-3 1-4 6-2 4 2zM1162 1591l-2-1 2-1zM1180 1602l6-10 4-2 -4-4 -4 6 -8-5 -3 3 5 8 -1 4 3 3zM1149 1606l-3-6 -2 6 2 3zM1155 1606l-3 0 2 2zM1182 1670l6-4 -2-4 8-2 4 2 4-4 2-4 -2-4 -5 0 -6-12 3-4 4 5 9-9 -1-4 -12 7 -6-3 -2-6 -4-2 1-4 -5-11 -2 7 9 12 -3 3 -6 1 -2 5 -4 0 -4 6 -5 1 11 8 -2 12 2 4 6 7zM1262 1616l-5-2 1-7 6 7zM1166 1634l6-4 1-8 -3-3 -16 5 -11-6 5-4 -2-2 -4 3 -4 1 -4-5 -4 3 7 4 -1 4 2 2 8 3 12 9zM1235 1630l-1-2 -2 2 2 2zM1314 1638l-4-3 0-3 6 2zM1274 1643l-1-1 2 0zM1159 1710l-1-16 -4-5 -15-3 2-8 -1-12 6-4 0-8 8-2 1-6 -3 0 -6 8 -4-5 -4 2 -4-3 -4 4 -4-5 -4 3 -1 4 6 4 -7 4 -1 8 9 4 -5 4 0 12 11 12 12 7 4 5 8-2zM1182 1648l-3-2 3-3 3 3zM1262 1655l-4-1 -8 3 -8-7 12-7 8 6zM1298 1648l-4-2 0-2 4 0zM1246 1661l-1-3 1-4 3 4zM1155 1662l-1-4 0 6zM1242 1664l0-4 4 2zM1286 1666l-8-1 -3-3 7-2 4 1zM1230 1667l-3-1 3-1zM1254 1678l-8-8 1-4 3-1 8 2 4 7zM1274 1668l0-4 2 2zM1234 1695l-2-17 6-5 5 5 -1 3 -6 1 2 4zM1179 1686l3-10 -4 0 -6 6 3 4 3 2zM1250 1699l-5-5 1-4 5 0zM1174 1698l3-4 -3-4 -3 4zM1096 1726l-2-4 5-4 -1-4 -8-3 -6 3 -3 8 2 4 3 1 4-2 4 3zM1119 1726l1-4 -6 1 -4-5 2-4 -2-2 0 6 -4 6 4 3zM1143 1718l-1-5 -1 5zM1194 1718l-5-4 13 0zM1234 1720l-4-2 4-1zM1254 1727l-4-1 0-3 4 1zM1226 1738l-4-8 4-2 5 6zM1103 1758l-1-2 -1 2 1 3zM1222 1764l-4 0 -4-6 8-2 5 2zM1250 1774l-4 0 -2-4 2-2 6 2z"/>
<path fill="#FFFF00" d="M3006 1576l-56-22 -32-17 -15-3 -25-10 -12-7 -40-15 -8-6 -92-35 -6-3 -10-22 -8-5 -4 1 -4-2 -4-4 -4 0 -12-10 -16-8 -6-10 3-4 -1-3 -4-1 -4 1 -8-4 -8 4 -4-10 -8 3 3-22 7-8 -3-4 3-4 2-12 -8-11 -8-3 -5-26 -3-4 3-8 0-8 12-16 4-12 5-4 -4-8 0-5 -4-4 -8-2 -4-8 -2 3 -3 0 -11-14 -4 3 -8 0 2-9 -6-7 -4-1 -4 0 -3 4 -1 8 -4 3 -16-3 -4-6 -4 2 -8-3 -16 4 -4 12 -4 1 -12-2 -2 4 3 4 -1 6 -4-1 -10-9 -11 0 6 8 -3 8 -2 1 -2-1 -1-8 -5-8 -4 0 -4 8 4-2 3 6 -10 12 -5 11 -4 2 -5-1 -3-10 -12 3 -9-1 -7 5 -8-7 -4 0 -2 6 4 8 -2 2 -8-2 -8 2 -3-6 -7-4 4-12 -1-4 -5-2 -8 1 -4 4 -6 1 3 16 -5 2 -8 7 -2-1 4-8 0-4 -1-4 -5-3 -12 2 -8 13 -8 4 -4-2 -4 5 -4 1 -4 0 -12-12 -4-1 -2 5 -11 8 -3 5 -16 0 -4 11 -13-4 -4 4 0 4 4 4 -2 4 -13 4 -4 9 -4 1 -8 0 -8-4 -4 4 -12-4 -12 0 -11-10 -1-13 -7 1 1 4 -2 1 -16-2 -4-5 -4 3 -10 3 -2 9 -14 7 -2 3 -12-18 -8-3 -12-1 -4 2 -8-1 -4 6 -4 3 -12-10 -8 1 -4 4 -12-1 2-5 -2 0 -16 6 0 4 6 6 -2 5 -4 0 -4-1 -8-13 -4 0 -4 8 -4 1 -24-10 -2-10 -10-5 -8-10 -10 7 -1 8 12 4 -5 10 -12-6 -4-5 -16-5 -8 6 -16 5 -12-2 -12 6 -12-1 -4 3 -4-3 -6 8 -6 2 -8-4 -16 3 -3-5 1-4 -6-6 -4 2 -8-6 -2 2 0 8 -18 18 -3-6 -5-5 -4 8 -4 2 -4-5 0-10 -4-3 -4 4 -8 0 -4 5 -6-8 4-16 -10-6 -20 2 -11 4 -1 10 -1-10 -7-7 -8 6 -8-3 -8 4 7 8 -15 5 -4-1 -7-4 3-12 -8 3 -4 0 -8 9 -12 9 -4-2 -3 1 -1 9 -8 7 -8 3 -9-11 -10-4 9-8 2-8 -4-4 -8 0 -8 4 2 4 -4 4 1 4 -3 2 -4 1 -1-7 -7-4 -9 4 0 8 5 9 6 3 -2 3 -4-1 -4 2 -12-4 3-8 -3-1 -8 14 -3-5 3-8 -1-4 -7-3 -8 4 -1 7 -3 4 -12 3 -4-3 -12-1 4 3 5 10 1 4 -2 4 -12-7 -4 6 -20 8 -8 5 -28 6 -8 5 -12-2 -8-5 -18 4 -2-15 -1 3 -7 3 -5 5 0 8 2 4 -1 4 -8 7 -4 0 -4-4 -4 1 -6 8 2 2 4-4 4 1 4-2 16 12 16 1 3 6 13 12 -3 8 3 12 -2 4 6 19 3 1 1 4 -4 3 -6-3 -2-6 -4 1 -4 5 6 4 -6 7 -4-3 -2 4 -18 10 -8-9 -8-4 -20-3 -4 2 -9-4 -1-4 17-8 -3-5 -4 2 -8-2 -8 9 -3 0 3 4 -4 4 -2-4 2-4 -11-4 1-8 -6-3 -3 3 4 4 -5 7 -4-3 -12-2 -4 18 -4-5 -3 1 -1 6 -4-6 -4 1 -4 7 -15-12 5-4 1-12 -15 5 -4-6 -8-3 -16 3 -4 6 -4-5 -4 2 -9-6 -11-11 -4 1 -4-7 -12 0 -20-7 -7-4 -2-8 -19-3 0-5 -4-8 -4 6 -8-6 -4 2 -4-2 2-12 10-6 9 10 -3 4 2 4 18-12 -1-8 -5-2 -1-6 -19-16 0-12 8-2 4 6 4-3 0 10 4 0 8 5 4 10 2-6 -9-8 3-3 8-1 -3-4 6-12 -6-4 11-4 4 1 8 9 10-14 -6-5 -4 1 -4-6 -16-5 -4 1 -12-11 -4 9 -4-3 -8 4 -4-1 -6-8 7-12 -1-3 -8 5 -5-6 0-8 -7 0 -2-4 -14-6 -7-14 3-4 -12-13 -8 0 3 5 -3 4 2 4 -10 6 -7-2 -5-7 -16 0 -8-6 -3-3 -1-9 -8-7 0-8 6 0 -6-8 4-4 -4 4 -19-28 1-4 -2-4 1-8 -1-5 -12-1 -12-9 -4-6 -20-5 -11 10 6 8 1 8 -8 5 -4-1 2 4 -6 7 -20-15 -5-8 3-8 -2-3 -8-1 1-4 -6 0 -7-10 -5 2 -2-4 -5 1 -4-4 -4 0 -8-5 -4 2 -4-2 2 4 -2 2 -17-2 -6 8 4 12 -10 12 3 12 15 12 -1 4 4 1 4-2 4 0 4 3 8-3 8 6 0 7 7 4 -3 7 -4-2 -1 3 3 4 10 3 -1 5 -7 6 -7 10 4 4 -1 5 4-4 13 11 0 4 -9 11 -6 1 -2 3 -8-5 -8 1 -8 5 -12-10 -8-1 -8 3 -4-3 -16-3 -4-6 0-8 6-4 -1-8 5-4 -2-9 -8 8 -4 1 -8 10 -8-12 -4 5 -4 0 6 5 -1 4 -1 2 -4-1 -4 7 -8-2 -8 5 -8-2 -8 3 -20-10 -12 9 -8 0 -24 13 -4-1 -8 4 -24 4 -16 8 -20 3 -12 5 -48 27 -36 18 -2-936 2-2 180 0 2444 0 2 2 0 24zM515 934l4-4 -2 0zM550 1006l2-4 -2-5 -8 1 -4-5 0 6 4 2 3 5zM604 1086l-2-7 -7 3 3 4 4 1zM612 1082l-2-3 -2 3 2 2zM724 1082l-6-2 0 2zM718 1096l-2-2 2-2 2 2zM738 1130l-4-6 -7-6 9-8 0-4 -3-4 5-7 8 4 3 7 -2 8 1 12zM634 1114l0-4 -7-4 1-4 -2-3 -4 8 -8-4 -2 3 2 8 16 2zM618 1113l-2-3 2-1 2 1zM891 1118l5-4 -6-4 -4 0 -4 4 1 4 3 2zM834 1118l0-6 2 2zM714 1127l-4-5 4-3zM834 1124l-2-2 2-3zM639 1134l3-4 -5 4zM631 1150l7-4 0-5 -4 0 -8-4 -3 1 4 4 2 8zM656 1166l-1-4 3-14 -4 1 -8-4 -1 1 5 4 -12 3 -4 5 4 5 4-2 4 5 8 3zM663 1158l-4 0 3 3zM862 1162l-3-4 3-3 2 3zM886 1175l-4 0 -3-5 7-9 3 13zM758 1201l-3-3 3-2 3 2zM766 1204l-3-2 3-1zM774 1213l-4-3 -4 1 -1-1 9-1zM650 1218l-3-4 3-1zM2624 1218l-2 0 0 1zM2315 1238l7-7 9-1 -5-1 -4-3 -4 7 -5 1zM746 1240l-2-2 2-2 2 2zM762 1251l-8-2 -3-7 7-6 9 10zM1019 1250l-3 0 2 3zM1527 1258l2-4 -3-2 -4-2 -4 2 0 6zM770 1315l-20-20 -4-1 4-5 1-7 -3-4 -1-8 4-16 3-3 4 1 4 5 9 1 2 24 5 8 -2 4 8 12 -6 6zM2438 1260l-5-2 1-3 6 3zM1618 1266l0-4 -4-3 -4 3 1 4 3 3zM1744 1266l4-4 -6-2 -4 2 3 4zM2410 1266l-4 3 -1-3 1-4 4-2 4 2zM1594 1280l-6-6 6-3 2 7zM1617 1274l-3-2 -4 2 4 4zM2099 1274l-2 0 1 2zM1547 1278l-5 0 4 2zM1981 1278l-4 0 1 1zM1634 1287l-4-4 -5-1 1-2 11 2 1 4zM1646 1283l-6-1 6-3 4 3zM1594 1288l-5-2 1-2 4 0 2 2zM1796 1286l-4 0 2 2zM2126 1287l-4 1 0-5 4-1zM1918 1299l-4-5 4-6 5 6zM2062 1292l-2-2 2-3 2 3zM2002 1304l-4 2 -7-4 7-11 7 7zM1518 1306l-8 0 0-8 9 0zM1042 1317l-6-3 0-4 5-4 1-4 1 4 8 4zM1400 1302l-2-2 0 3zM1454 1323l-8-5 4-12 4-2 13 14 -1 4zM1542 1311l-2-1 2-5 2 1 1 4zM1067 1326l3-4 8 0 -4-1 -4 1 -4-4 9-4 -5-3 -10 7 2 6zM1395 1318l1-4 -2-3 -7 3 2 4zM1087 1330l-5-7 -4 7zM1462 1326l-2 0 2-2zM1454 1335l-6-5 2-4 6 4zM770 1470l-8 0 -2-4 2-8 6-4 -10-8 2-8 -3-4 6-12 -2-4 -1-12 -5-16 1-20 3-8 -3-4 2-4 -2-4 6-9 8 0 4 4 4-1 4 1 7 13 -3 8 0 27 -7 5 8 12 -3 8 1 12 -5 4 2 8 -3 8 -8 8 3 4zM990 1360l-4 1 -5-7 5-6 7 6 0 4zM1080 1362l-2-4 -7 4 7 3zM2590 1364l-2-2 2-3 4 3zM1394 1383l-4 3 -3-4 4-4 -3-8 2-3 4-1 4 4 0 12zM2631 1374l-1-6 -1 6zM2654 1374l-4-6 -5 2 5 6zM1245 1386l-3-7 -4 1 -2 6 2 2 4 1zM1398 1406l-13-8 -1-12 2-3 7 7 9 3 1 9 -1 3zM1402 1411l0-3 2 2zM1406 1414l-2 0 2-3zM1050 1778l-177 0 3-24 2-12 3-4 7-36 5-8 0-16 6-16 4-44 10-16 2-36 13-28 2-16 6-12 5-20 7-12 0-12 5-8 3-24 4-8 6-4 8 2 8 4 4 5 8 4 4-1 8 7 24 8 16 10 16 3 9 6 11 11 12 0 12 7 8 1 12 7 4-2 24 6 13 10 13 16 -2 8 -6 0 -15 16 -5 8 0 4 -6 6 -4 8 -5 2 2 4 -5 0 -4 4 -1 8 -3 1 -4 8 -7 3 -2 12 -3 4 4 0 1 16 -4 4 1 4 -9 8 3 11 6 1 -1 4 -9-2 -4 5 -4 1 -3 8 1 8 -6 7 -4-3 3 4 0 4 -8 8 -2 4 2 4 -3 8 -4 1 -1 3 2 4 -3 4 6 4 2 4 0 4 -3 4 0 4 -11 3 -5 5 0 4 -5 4 1 4zM1154 1440l-7-2 3-4 4 1zM1299 1438l-1-2 -2 2zM762 1492l-5-2 0-12 5-7 4-1 3 4 0 4zM1358 1499l-5-1 5-1zM1091 1506l-1-3 0 4zM1238 1567l-4-5 4-3 2 3zM1091 1570l-1-4 -4 4zM1262 1581l-2-3 2-4 2 4zM1226 1591l-11-5 3-4 8-1 6 5zM1262 1590l-2-4 6-6 2 6zM1214 1614l-20-4 -5-4 -1-4 6-6 4 6 5-4 3-10 8 1 6 9 1 8 -3 3 -8-3zM1246 1599l0-3 2 2zM1222 1632l-5-10 -1-4 2-2 9 2 0 8zM1166 1714l0-8 4-1 1 1 -4 4zM1142 1727l-4 1 -1-6 7 4zM1110 1778l-9 0 -1-4 2-1 8 3z"/>
<path fill="#E0D800" d="M2958 1477l-4 1 -4-5 -12 0 -4 3 -4-3 -16-2 -1-1 1-4 6-8 -2-4 -34-12 0-8 -5-8 -5-2 -11-10 11-18 8 4 4-1 4 3 0 3 2-11 -1-8 -5-8 -8 0 -14-4 2-8 -2-4 2-3 9-1 0-4 -5-6 -4-1 -3 3 0 4 -7 4 0 4 -6 1 -8-3 -4 2 -8-2 -8 8 -4-11 -11-3 -5-8 5-4 0-8 5-8 -6-2 -4 1 -8 5 -4 5 -8-2 -3-7 5-8 -6-7 -4 7 3 8 -11 11 -8 0 -8 5 -4-10 -16 2 -4-4 4-5 -16-5 -2 2 -3 8 2 4 -1 6 -8 3 -4 3 1 4 3 3 8-2 8 1 4 11 4 3 4-2 3 2 5 7 1 5 -5 3 -4-3 3-4 -7-2 -1 2 8 8 -7 4 -4-3 -4 1 -5 6 0 4 1 4 7 8 -3 5 -10-1 -4-4 0-4 -6-4 -4-10 -8-8 -4 1 -6-7 -8-4 0-4 10-6 12 6 11-4 -4-8 -9-8 2-8 -4-6 -11 6 -1 7 -8 7 -12-14 -5 0 -8-12 -11-8 4-5 11 1 7-4 2-8 -4-4 1-8 -3-4 1-8 -2-8 3-4 9-4 -1-12 3-4 -2-4 3-4 8-3 4 4 0 7 4 5 4-3 -1-6 6-12 -1-4 8-4 1-4 7-8 -3-12 -13-5 -6 1 -2-9 -5-3 -4 4 1 5 7 7 -1 4 2 2 4 0 4 7 4 0 0 7 -4 5 -10-1 -2-4 -1 4 -6 4 -6 12 -3 3 -8-5 -4 2 -2-4 6-16 -4-8 8-7 1-5 -13-8 0-8 -12-12 7-4 -2-4 -21-1 -6-3 1-4 -3-2 -13 6 1-4 -5-4 1-2 4 1 6-7 -6-3 -5 3 0 4 -3 3 -8 2 -8 13 -24 9 -4-2 -6-17 3-4 1-8 -2 0 -4 6 -8 2 0 1 4-1 1 4 -9 1 -8 13 -8 4 -12-1 -8-5 -4 1 -4 3 -4 9 -4-2 -8 5 -8 13 -8-6 -4-6 -4 2 -4-7 -12-4 -8 11 -10 5 -6 11 -3-3 0-4 5-4 0-8 -1-4 -5-1 -9 5 -3 10 -18 10 -3 8 -7 0 -4-8 -8-1 -8-4 -4 5 -8 3 -8 9 -4 0 -4 2 -4 8 -4 2 -8 12 -9 0 3-4 0-4 -6-6 -8 9 -12-3 -5 4 1 4 -4 1 -4-5 -8-2 -12 5 -2-3 2-4 -4-1 -4 7 -8-3 -2 5 2 3 8 3 4-5 3 19 -1 4 -2 1 -8-10 -8 1 -4-4 2-8 -6-2 -4 0 -4 6 0 4 -2 4 2 8 -4 4 -8-4 -8 3 -8-3 -2-4 1-4 -3-2 -4 4 -4-5 -8-1 -16 7 -4-3 -4-11 -8-2 -8-6 -5 7 -7 4 -8 1 -8-3 -3 6 -5 1 -21-9 -7-11 -4 1 -4 6 -8-9 -4-1 -8 3 -4-9 -4 0 -9 8 5 8 -5 4 0 4 -7 2 1-6 -3-8 -4-4 -6-1 -8 9 2 4 -2 4 -4 1 -4-5 0-12 -8-4 6-8 0-4 -4-8 -10-4 -4 2 -5 10 -7 3 -8 0 -4-9 -4 2 -3 4 8 8 -9 5 -8-11 -12 17 -8 4 -8 0 -4 2 -16 11 0 5 -4 3 -4-4 -8-2 -8 3 -8-5 0 10 -8-1 -12-12 -12 4 -20-3 -4-6 -4 0 -12-4 -8-12 -4 1 -8 8 -4 0 -5 11 -7 4 -3-8 -5-5 -4 3 -12-2 -4 4 -8-1 -12 5 -8-7 -4-1 4-1 1-3 -5-5 -4 2 -20-8 -4 1 -12 9 -4-1 -5-6 1-12 -4-2 -2 6 -6 5 -8 2 -8-2 -12 2 -7 9 -9 6 -4-2 5-4 -1-4 -4-1 -4 4 -4 0 -4-3 -20 2 -8-4 -3 2 3 17 -8-2 -8-5 -5 2 -7 7 -12-7 -4 3 -12-5 -12-1 -8 1 -1 6 -5 4 0 4 6 8 12-2 3 2 0 4 -3 4 -4-5 -4-1 -5 6 -7 2 -4 5 -12 3 -5 6 -11-1 -4 5 -16 3 -20 8 -4 6 -16 9 -16 3 -8 10 -8 26 -8 1 -4-2 -3-4 -1-13 -9 5 3 8 9 4 -11 5 -4-5 -4 2 0 6 -4 6 -3-2 3-4 -8-3 -4 3 -8 1 -4 9 -8 0 -4 5 -5-7 1-4 12-3 3-5 -3-1 -8 2 -4-2 -10 9 4 4 2 8 -4 0 -3 4 8 4 0 12 -9 1 -8 10 -10 1 2-8 -4 1 -12-3 -4 5 -9-3 4-4 -2-4 -9-6 -4 5 -8-3 -8 4 -1-4 5-4 -8-12 -4-3 -4 0 -3 3 4 4 -2 4 5 4 -10 8 4 12 -2 5 -4-5 -4 5 -8-3 -12-10 -16-3 -3-1 -1-4 -8 2 -9-6 2-12 4-4 -7-8 6-10 4 6 0 8 4 5 4-7 8 8 6-2 -5-4 3-4 -1-4 -8-8 5-3 0-3 -11-6 23-7 4 3 -7-8 3-5 4 1 1-4 -10-12 1-8 2-4 -1-4 -5-1 -12-12 -8 2 -27-13 -9-13 -4 0 -4-6 -8 4 -3-5 -9-6 -12-2 0-4 -4 0 -4-12 3-4 -16-16 -7-2 -3 2 1 4 4 4 -3 4 1 4 -12 5 -8-11 -12 2 -13-8 -2-8 -6-8 2-4 9-4 -6-8 3-4 -20-20 -3-4 -3-16 3-8 8-7 4-3 13-2 -29-3 -12 5 -5-2 3-4 -2-2 -4 1 -4-4 -4-2 -4 4 -12-3 -12 3 -4-2 -1 9 -9 4 0 8 -2 3 -4 2 -4-2 -8 5 -6-12 1-4 -5-8 -10-3 0-5 -4-1 -4-4 -20-5 -4-4 -8 0 -4-4 -4 3 -8-12 -5 3 0-4 -3-1 0 9 5 8 -11 12 2 4 0 8 -5 4 3 4 -5 4 0 8 -6 4 1 2 4 1 4-4 1 5 -9 8 10 12 10 2 4 4 8-6 8 1 4-3 2 2 3 4 -6 8 5 0 3 4 -12 12 1 2 4-4 4 11 4-13 7 4 -3 8 -10 8 10 10 4-1 11 7 1 4 -4 6 -12 7 -12-4 -12 3 -8-7 -12-3 -4 5 -4-5 -16 1 -6-7 0-8 10-12 -1-8 6-8 -4 0 -1 2 -4-4 -6 6 -1 4 -9 6 -8 1 -4-6 -8 5 -4-2 2 4 5 4 -7 7 -12 1 -4 5 -8-2 -8 2 -20-11 -12 10 -12 1 -8 5 -27 10 -21 3 -20 10 -28 7 -76 41 -8 2 -2-931 2-2 180 0 2444 0 2 2 -1 780 -1 28 -7 4 -1 4 0 8 8 5 0 53 -4 0 -10-6 -1-4 4-4 -5-2 -12 8 -8-6 2-4 -4-4 -10-7 -4 11 3 4 -3 9 -6-1 6-12 -4-3 -8 0 -2-1 -1-4 7-6 8-2 4 2 -4-10 -4-3 -4 3 -8 1 -2 3 -7 4 0 4 -3 2 -4 1 -4-4 -8 4 -4-3 -7 0 0 4 6 8 -3 8 4 9 4-1 4 3 8-1 6 2 1 4 -10 16 -1 4 -8 10 -20 5 -8-5 -4 7 -8-1 -3 4 7 3 8 0 8 13 8-2 6-6 2-9 4 3 8-1 4 2 8-3 4 4 2 4 -2 6 -8 0 0 14 -4 3 -8-5 -4 10 -4 0 -7-4 -5-6 -7 6 -2 8 1 3 4 1 4-2 12 2 4 16 12 3 6 9 -6 10 -8 6 0 8 -3 8 3 5 12-3 0 10 6 4 -2 4 4 2 4-2 3 8 6 4 7 16 -8 1 -8 7 2 12 6 6 8-3 2 1 3 4zM528 906l-4-4 -1-8 -4-4 -1-6 -5 6 6 4 -1 4 -12 8 4 2 8-9 1 3 7 6zM511 918l-1-5 -1 5zM518 966l8-6 8 4 7-6 -9-8 7-8 -9-10 -8 2 2-4 -2-3 -4-4 -4 0 -6 3 1 4 -3 8 3 4 1 6 8-1 4 7zM639 1122l3-1 3-7 -3-4 3-4 0-4 -7-2 -2-2 2-6 -12-6 -8-8 -1-16 -7-14 -4 3 -4-4 -8 2 -2-3 1-4 -3-2 -4-2 -8 0 3-12 -4-4 0-8 4-12 -1-4 -10-4 -4 2 -12-6 -10-12 2-4 0-14 -6 6 -3 8 3 4 -2 6 -8-4 -4 1 -4-3 -4 4 5 4 -2 4 7 12 2 12 8 7 10 13 14 7 0 5 4 3 6 1 2 4 4 1 12 9 8 0 4-3 2 1 -1 4 -5 1 -4 3 -8 2 -1 2 6 12 -2 4 2 4 3 1 4-2 10 9 -4 8 1 4 5 7 4 3 4-3 12 0 4 4zM558 999l-4-1 0-7 6 7zM580 1074l-3 0 1 3zM2798 1142l0-4 15-8 -5-8 -3-12 -3-4 -8-6 -18-6 5-8 -2-12 -5-1 -20 3 -4-2 -12 0 -3 4 3 2 8-1 4 3 -4 2 -4-1 -14 11 -1 8 7 12 4-2 1 2 -2 8 5 3 4-3 12 7 8 9 12 2 8-8 4 1 4-2 3 3zM2875 1150l11-11 4 6 13-7 1-4 -2-1 -4 1 0 4 -4 2 -7-2 1-4 10-16 -3-8 -9 3 -12-17 -20-4 -12 2 -12-4 -8 1 -4-7 -2 6 4 4 4 8 -10 12 8 6 4-5 4-1 4 2 -1 14 5 6 12-11 8-4 3-7 5-4 4 0 -6 20 5 8 0 8 5 6zM610 1092l0-3 3 1zM2796 1094l-4 0 2 3zM738 1101l-2-3 2-2 3 2zM742 1127l-4 2 -8-11 12-18 4 2 2 4 -3 8 3 8 -2 4zM862 1107l0-2 2 1zM950 1106l-4-2 -2 2 2 2zM971 1110l-1-2 -1 2zM638 1121l-2-3 2-1zM2716 1126l2-4 -4-7 -8 1 -2 10 2 3zM624 1182l6-8 4 2 4-4 4 0 12 7 6-5 -4-4 7-4 1-8 -5-4 2-4 -8-12 5-4 -4-2 -4 3 -4-7 -4-1 -8 5 -8-8 -4 7 -16-2 -1 9 9 5 2 15 2 1 2-1 2-8 3 8 7 4 1 8 -7 7 -4 2 -4-3 -1 2 5 6zM818 1129l-3-3 3-2 2 2zM2920 1130l4-4 -2-2 -7 2 3 5zM814 1131l-2-1 2-2 3 2zM2519 1134l-1-2 -2 2 2 2zM2728 1158l12-8 2-4 -4-5 -12 2 -4-6 -12 6 -3 7 7 7 12 3zM2992 1178l-2-6 -12-11 -4 0 -16-14 -4 1 -3-6 -9-5 -16-1 -3 2 -4 4 0 4 5 8 -10 2 -2 2 2 6 8 4 4-2 4-7 4 1 1 2 -4 12 11 6 5-6 -4-4 1-4 14-4 4 0 3 4 -1 4 3 4 -1 5 20-7 2 2 0 4zM2551 1150l-1-9 -3 5 1 4zM654 1147l0-3 2 2zM2623 1146l-1-2 0 4zM2930 1153l-2-3 2-1 2 1zM2878 1190l-2-4 2-8 -13-12 -8-12 -7-2 -8 5 -16 1 -4 4 -1 4 5 3 3-3 1-4 4-2 4 1 7 5 1 9 4 3 4-4 4 1 4 2 4 10zM2815 1170l2-12 -3-3 -5 3 1 10zM2493 1162l-4 0 1 2zM2839 1306l0-4 -9-2 -8-9 -8-5 4-10 4 6 10-4 6-12 -16 9 -4-2 -8-7 -3-8 4-4 -1-4 3-12 -3-5 -4 2 -4-1 -8 2 -6-6 5-8 -1-4 -6-3 -8 4 -10-13 -14-12 8-7 8-3 7 2 1 3 8 0 4-3 -1-8 -3-2 -8 3 -3-9 -13-12 -4 0 -5 4 0 8 5 4 0 12 -4-7 -8 1 -12-15 -8 0 -4 2 -2 7 2 8 5 4 -13 0 -11 12 5 12 8 4 -2 8 -9 4 -5 8 9 4 2 8 -1 5 -7-1 -2 4 5 1 1 3 -1 4 -12-8 -8-2 -7 6 1 4 -9 12 11 8 14-4 0-12 6-3 7 7 0 4 9-1 3-3 1-5 4-1 4 5 4 0 4-3 1-12 3-2 5 2 0 8 7 9 4 3 8-2 8 4 0 4 -8 4 -2 6 14 20 8-11 4-2 8 1 4 4 12-2 4 5 8-2 8 4zM2801 1174l-3-8 4-6 -4-1 -4 15 4 3zM2970 1163l-3-1 3-3 2 3zM882 1173l-2-3 2-4 2 0 2 4zM650 1171l-1-1 1-1 1 1zM2938 1174l-3-4 3-1 2 1zM2914 1182l-4-7 -3 7 3 1zM2172 1190l-2-6 -3 6 3 3zM2750 1194l-6-4 2-7 4 2 2 9zM923 1190l-1-2 -5 2zM741 1206l-3-14 -6 2 -4 4 0 4 10 5zM2738 1196l-1-2 1-1 2 1zM686 1201l0-3 3 0zM952 1202l-2-4 -1 4zM2390 1210l-4-5 5 1zM2762 1222l-3-8 3-6 3 6zM2279 1218l-1-4 -2 4 2 3zM1898 1229l-3-7 6 0zM2774 1273l-12-12 1-23 3-3 9-1 6-4 1-4 3 4 -5 12 4 8 -6 5 -4-1 -3 4 11-1 2 9zM2746 1239l-4-2 -2-7 10-3 4 3zM1015 1234l-1-2 -1 2zM2840 1238l4-4 -5 0 -7 4 2 3zM2861 1250l7-8 1-4 -7-4 -4 10 -8 3 -2 3 2 2zM2942 1246l-4 2 -5-2 0-4 5-9 5 1 4 8zM762 1249l-8-1 -3-6 3-3 4-2 4 4 3 5zM2856 1238l-7 0 5 3zM1029 1246l1-5 -5 5 1 2zM2254 1252l-4 1 -3-3 3-5 7 5zM2998 1282l-6 0 -2-5 -9-7 -2-12 -2-4 -3-2 -3 2 -3 8 -6 5 -10-5 -5-12 7-6 3 2 1 10 4 2 7-4 2-8 6 0 5 4 8-4 4 2 -1 6 5 4 1 8 -3 8zM2646 1256l-2-6 2-2 3 6zM778 1311l-8 2 -4-2 -3-5 0-4 -9-4 1-4 -3-8 -2-20 6-4 -3-4 1-5 9 5 7 14 -1 6 6 12 -1 5 4 7 5 4zM1035 1254l-1-3 -2 3 2 2zM2150 1259l0-2 3 1zM2646 1268l-9-6 9-2 3 6zM1026 1275l-4 2 -6-3 -1-4 3-8 13 4 1 4zM1450 1268l-2-2 2-1zM1826 1271l-5-1 1-6 5 2zM2868 1278l-4 0 2 4zM2634 1305l-8-1 -3-6 2-8 7-4 2-4 6 4 0 8 5 4 -7 1zM2754 1290l-8-5 -3 5 3 3zM2982 1321l-4-1 -4-10 -4-3 -7-1 5-12 6-5 8 0 2 5 2 12zM2676 1326l8-8 -1-4 7-8 0-8 2-4 -2-2 -12 1 -10 13 7 16 -4 4 3 2zM2867 1310l-2-4 1-4 -2-8 -12 4 6 8zM2946 1296l-4-2 4-3 3 3zM3006 1308l-6-2 -3-8 1-3 4-2 4 6zM2754 1306l6-4 -2-4 -11 4 -2 4 5 3zM1062 1311l-4-5 1-4 3-3 4 1 4 6zM1243 1318l1-4 2-1 4 2 8-3 5-6 -1-2 -4 4 -4 1 -4 5 -3-4 -3 0 -4 4 1 4zM1042 1314l-4-2 0-3 4-2 4 3zM2892 1310l-2-4 -4 4 4 3zM2942 1329l-6-3 4-4 -4-4 2-9 6 1 0 16zM1042 1339l-4 2 -12-8 -6-7 -1-12 3-1 4 1 7 12 9 4zM2708 1318l2-5 -6 5zM2731 1314l-5-3 -1 3 5 4zM2805 1318l-7-4 0 5 4 1zM2839 1346l7-12 -1-4 -5-8 -9-4 -1-5 -5 9 5 15 4 1 4 10zM2691 1322l5-4 -2-2 -3 2 -1 5zM2772 1318l-6-3 -1 3 1 2zM2970 1327l-9-5 2-4 3-2 7 6zM2760 1326l-2-6 -8 6zM2986 1332l-5-2 -1-4 2-3 4 1zM2722 1332l-2-2 2-1 4 1zM2861 1334l0-4 -3-2 -2 2 2 6zM1263 1334l-2 0 1 2zM2726 1335l0-4 3 3zM2994 1338l-4 2 -2-6 7 0zM1058 1341l0-4 3 1zM2926 1345l-6-3 2-6 5 2 1 4zM1066 1345l-8-3 4-4 4 2zM2778 1352l-4-2 4-8 4 4zM2982 1418l0-16 3-4 0-8 -3-4 -4 2 -4-2 4-4 8 2 2-2 -1-8 7-4 -5-8 -17-8 -2-4 4-6 8 1 4-3 4 5 8-4 8 6 0 49 -16 2 0 6 4 4 -4 5zM1066 1353l-5-3 5-3 2 3zM1203 1378l0-8 -5-4 5-4 -5-10 -4-3 -1 5 2 4 -2 4 5 4zM2891 1354l-1-6 -2 2zM762 1394l-4-4 1-12 10-16 5-4 -7-4 3-2 12 1 3 5 -3 4 0 8 -3 12 -9-3 -6 15zM986 1360l-4-6 4-4 5 4 -2 4zM1022 1368l-12 0 -1-2 1-8 8-5 5 5 1 4zM1244 1358l-2-4 -3 4 3 2zM2938 1358l0-5 2 1zM2954 1383l-16-3 -3-6 3-8 0-8 12-7 4 6 9-3 3 2 2 6 -6 4 3 4 0 4zM1046 1383l-12-2 -5-11 5-4 6 0 6-5 4 8 4-2 3 3 -7 6zM1096 1370l-6-4 4 5zM2882 1518l-5-8 -7-4 3-8 -7-4 -2-4 0-8 3-4 1-4 -6-2 -4-5 -4 2 -2 5 3 12 -1 4 3 8 -3 2 -5-2 -7-8 2-4 -6-8 3-4 0-8 4-8 -1-4 -4-4 -2-7 -4-1 -4 4 -4-1 -4-5 -12-3 -8 2 -4 3 0 4 -5 8 -11 5 -2-1 0-4 7-8 -4-8 3-4 -2-4 2-4 4 3 8-7 20 7 5-3 -13-10 -12 5 -5-3 0-4 3-4 6-1 5-3 5-12 -2-8 -1 4 -7 7 -5-3 1-8 -1 4 -7 6 -12-7 -8-2 -4 4 -3-5 12-8 -2-4 5-8 8-3 8 7 -4 7 -10 1 2 1 12-1 8 3 4-3 4 8 16-2 5-6 -3-8 10-3 11 7 1 8 4-2 2 2 -3 12 -11 5 -4 6 -8 0 -4 5 1 8 7 2 4 6 -6 12 2 3 4-3 4 3 2 5 6 4 4 6 8 3 4-2 8 2 4 5 4 0 8-5 4-7 7 10 -8 16 5 6 4-6 4 0 4-4 4 3 4-1 5 6 -1 5 -8-3 0 6 7 8 -7 4 -4-1 -8-10 -8 2 -8-1 -8 3 -3 3 2 4 5 6 8 3 2 3 -2 3zM2974 1379l-6-5 -1-4 7-5 2 5zM1270 1375l-4 1 -2-6 3 0zM2770 1371l-4-1 4-2 2 2zM2814 1377l-4-1 -4 2 -2-4 1-4 9 0 4 4zM1254 1375l0-3 2 2zM2826 1378l-7 0 -1-4 4-2zM1082 1382l11-4 -7-2 -4 2zM1100 1378l-2-1 -3 1 3 2zM1126 1385l-2-3 2-1zM1270 1418l-4 1 -12-14 -4 0 -4 6 -2-9 1-4 9-9 4 0 8-5 8-1 5 7 -5 7 -4 0 -1 5 1 2 4-3 4 1 -4 12zM1318 1439l-5-1 -3-10 -10-2 2-8 -3-4 16-16 -1-8 4-2 4 3 6 11 5 16 -1 4 1 4 -12 8zM2766 1471l-13-5 -11-9 -8 0 -5-3 0-8 -4-4 4-8 -3-8 1-4 8-4 4-8 -4-8 3-7 4-1 12 2 4 4 8-6 5 4 -3 4 0 4 4 4 0 4 -4 12 3 8 2 24 -4 4 -1 8zM1226 1400l-6-2 6 0zM2950 1403l-3-1 3-4zM770 1405l-2-3 2-3 3 3zM1306 1405l-2-3 2-3 3 3zM2966 1403l0-3 2 2zM774 1416l-5-2 -1-4 6-5zM1126 1408l-2-2 5 0zM1298 1413l-1-3 1-1zM2903 1434l2-4 -4-8 0-4 6-4 -9-5 -6 9 6 13 4 5zM2923 1410l-1-4 0 6zM2974 1411l0-3 2 2zM1162 1423l-2-1 -2-10 10 2zM1194 1416l-2-2 2-3 2 3zM1190 1419l-4 0 0-3 4-1 3 3zM1198 1419l-2-1 2-2zM1242 1424l-4 1 0-10 6 7zM1294 1418l-4 2 -1-2zM2974 1422l-3-4 3-2 3 2 0 4zM2917 1426l0-4 -3-1 0 6zM1046 1778l-169 0 3-32 7-8 -2-12 6-12 3-4 4 0 0-4 5-4 0-8 -7-8 0-8 3-8 4-4 -2-8 5-37 11-19 2-12 -1-23 11-17 0-8 5-8 0-12 3-4 13-36 5-4 -3-8 2-4 4 0 4-12 -5-12 1-5 3-7 5-5 16 9 4 8 12-2 2 2 7 12 -6 8 -6 4 3 2 8-10 4 1 2-5 6-1 7 5 9 3 4 6 8 1 4-2 12 1 8 11 -2 4 -6 7 -12 1 4 1 4 3 0 4 4 2 4-9 16 8 1 3 -1 4 -4 4 -5 0 5 0 2 4 -2 4 12 1 3 3 -7 4 -4 6 0 3 4 3 -2 8 6 0 4-8 5-4 2-16 5-4 0-2 -5-2 0-4 9-11 10 3 -2 4 1 4 -6 8 5 8 4 2 4-2 4-8 -7-12 3-1 8 3 4-3 12 0 17 13 4 12 -1 4 -16 15 -8 16 -4-1 -3 2 0 8 -5 3 -12 4 -6-3 0-8 -5-8 -5-1 -4-5 -6 2 -2 8 -4-9 -8 7 -8 0 -3 2 -1 5 -10 7 -2 12 4 0 4-6 4 10 -2 8 -6 8 -2 4 2 3 12-9 5 2 2-16 -8-4 5-10 5 2 -2 4 1 3 4-1 4 6 12-6 8 0 4-9 4 5 4-1 3 3 -2 4 0 4 -5 9 -15 3 -1 8 -4-4 -4-2 -4 3 -4-3 -2 2 2 4 -4 1 -5 7 6 8 3 11 12-3 0 4 -5 12 -5 4 3 8 -2 4 -3 4 -8 1 -6 7 3 4 -1 16 -4-2 -3 2 -4 8 9 12 -10 10 -4 2 5 8 -6 4 1 8 -7 12 -3 16zM774 1431l0-2 2 1zM1186 1435l0-3 3 2zM2759 1446l2-8 -2-4 -5-1 -1 13 5 2zM2797 1442l-4 0 1 2zM3006 1570l-4-4 -12-2 -5-6 9-4 4-8 0-4 -7-4 1-8 -2-3 -8-5 -5-8 -7-4 0 4 2 4 -2 1 -16-6 -1-3 1-3 4 2 3-3 -5-8 2-9 4 0 8-5 4-11 4-1 4 7 15-5 -2-8 6-4 -7-12 4-5 8-1 0 16 -2 2 2 9 -4-1 -6 12 2 4 -6 4 1 8 -8 8 1 8 12 7 4-2 4 4zM1026 1457l-2-3 2-1zM2798 1476l-5-2 5-3 2 3zM2946 1483l-4 2 -5-3 5-5 4 0zM2907 1482l-1-2 -1 2zM2938 1511l-4 2 -10-11 0-4 10 2 4-4 4 2 -2 12zM2902 1508l-12 1 -5-7 5-4 12 5 3 3zM1068 1506l-2-3 -3 3 3 2zM2998 1508l-1-2 1-2 2 2zM1082 1510l-3 0 3-1zM1045 1522l-3-3 -2 3 2 4zM1136 1530l3-4 -1-4 -4 4 0 5zM1121 1546l7-8 -6-4 -3 4 -5 0 -2 4 2 5 4 2zM2982 1540l-2-2 2-3zM2978 1546l-4 1 -1-5 5-3 3 3zM2986 1542l-2 0 2-1zM1073 1554l6-8 -13-3 -3 3 1 4 6 5zM1102 1570l-3-4 3-9 4 2 2 7zM940 1610l-4-8 2-4 6-4 -6-6 -3 2 2 8 -7 5 -3 7 3 2zM970 1594l-2-4 -5 0zM1086 1622l0-1 3 1zM1094 1632l-4-2 4-2zM1014 1650l2-4 -6-5 -1 5zM946 1698l-5 0 5 3zM955 1706l-1-3 -5 3zM921 1718l-7-2 -1 2 5 3zM915 1746l-1-4 6-4 0-4 -4-4 2-4 -8-2 -2 2 1 12zM935 1746l-1-7 -4 3 -5-4 5 4 0 4 4 2zM971 1738l-1-2 -4 2zM999 1762l1-4 -6-2 -2 2 2 4z"/>
<path fill="#BFB000" d="M1166 1379l-12-5 -4 4 -8 0 -8-15 -8-1 -4-5 -5 1 2 4 -5 4 -8-5 -12 5 -8 0 -8-16 1-12 3-3 8-1 4 2 4-5 6-1 -6-20 3-4 -9-12 -2-13 0 5 -4 0 -4-8 -12-11 -4 5 -8-1 -8-1 -6-4 0-4 -6-4 -3-12 -5-7 -8-3 -1 2 6 4 -4 4 1 4 -2 1 -2-5 -6 0 -4-6 -4 4 -5-2 -3-5 -8 1 -4-7 -4 1 -1-2 1-13 -7-7 0-4 -9-8 -4 1 -12-3 -4 3 -4-3 -13 2 5 2 4-1 4 7 4 2 4-3 4 1 4 3 -4 9 -4 4 -5 0 -5-12 -6-2 -4-4 -4 6 -12-5 -3-11 -3-4 4-4 6 0 -4 4 4 4 8-1 2-3 0-4 -6-6 -4-1 -4-5 2-4 -6-16 -8-7 -4 0 -3-5 0-4 5-4 -3-16 45-13 4 5 7 0 1 5 2-1 -2-8 -12-4 -3 0 -1 3 -8-3 -7 4 -1 3 -3-3 -5 0 -8 1 -16-1 -23-12 -1-18 -20 18 -8 0 -8 5 -4-1 -12 20 -4-3 -8 9 -8-6 0-8 -4-5 -4-3 -6 0 1-4 -7-4 -4-5 -20-4 -4-5 -8 0 -8-3 -4-8 -12-2 -3 11 4 8 -5 9 -7 3 3 4 -4 4 4-4 2 4 0 4 -5 4 2 4 -5 4 -1 8 -3 4 0 4 -2 4 6 8 -4 8 14 5 4-1 2 4 -7 8 1 5 4-5 16 4 -2 8 -11 12 0 4 5-2 8 9 4-3 4 2 8-2 8 9 4-3 9 6 -1 9 -8 5 -4 1 -12-3 -12 3 -6-7 -14-4 -20 0 -4 2 -2-2 -3-8 1-4 12-15 4 0 4-5 -8 3 -1-3 4-8 -5-4 4-4 -6-4 2 4 -2 3 -4-2 -1 3 -7 7 -2 5 -3 0 -3-5 -8-3 -3 8 -5 0 -4 5 -4-2 -2 1 7 8 -9 7 -8-1 -4 5 -4 0 -16-3 -8-4 -4-8 1-12 4-4 -5 4 -8-5 -4 5 3 12 -11 13 -8 0 -8 6 -12 1 -16 9 -20 2 -16 9 -28 7 -16 7 -28 18 -13 4 -23 14 -8 1 -2-835 1-92 1-1 2612-1 14 2 -2 803 -16-6 -44-28 -32-15 -12-10 -10-4 -10-8 -24-11 -32-7 -32-3 -8-4 -40-7 -16 6 -18 26 -10 6 -4 10 -5 4 1 8 -5 12 -9 4 -2 6 -7-2 6-4 -3-3 1-5 -4-4 -1-5 -12-4 -4-4 -8 0 -3-7 -14-4 -1-8 -2-4 -4 0 8-2 0-4 -12 0 -2 2 6 4 -4 12 -4-1 -2-3 0-8 -6-7 -4 3 5 8 -4 4 0 8 2 4 -3 6 -20-7 -20 2 -8 3 -12-4 -8 1 -8-4 -8 4 -8-1 -4 4 -12-4 -12 7 -4 7 -16 10 -8-13 -8 5 -16 3 -8 5 -4 0 -12 14 -4 0 -6 14 -6 4 -16 4 -8 16 -12 7 -4-3 13-12 -9-10 -8 5 -16-7 -8 2 -12 9 -12-4 -12-10 -4 3 -3-4 3-4 -4-2 -2 6 1 4 -5 8 3 4 -5 7 -4 0 -8-7 -6 8 6 1 2 3 -3 4 4 4 -4 4 -3 2 -8-5 -4 2 -8-5 0 4 4 0 2 2 -2 4 -4-2 -4 6 -13 4 -3 7 -4-3 -4 1 -4-3 -3 2 -1 6 -9 10 -4 8 -3 2 -2-2 2-8 -12-4 1-8 -6-4 1-4 -12 1 -8-2 -4-7 5-8 -2-4 -3-2 -3 2 2 4 -15 0 -2 12 -3 4 1 4 -4 2 -7-10 1-4 -2-2 -8 0 -3-2 3-4 -10-4 -2-10 -8 3 -8 0 -3 3 -1 5 -8-2 -4 5 -5-8 3-8 -2-4 -8-1 -4-6 -5 3 6 4 -1 4 -7 16 -5 4 -8 2 -8-2 0-9 -4 1 -13-12 -7-2 -7 14 7 4 -4 8 -4 0 -2-8 -8-8 -3-16 -7-2 -12-12 -8 3 -12-5 -5 4 0 8 3 4 -2 6 -8 0 -4-3 -28-1 -2 2 4 8 -2 5 -12 0 -8 6 -12 0 -4 2 -3-1 -5-10 -4-1 -8 4 -5 11 -7 4 -8 4 -12-4 -12 13 -8-7 -4 1 0 5 -4 4 -8-12 -12-1 -8-5 -4-11 -8-6 -8 3 -4 19 -16 7 -12-4 -4 2 -4-1 -8-7 -4 1 0-5 -8-2 -8 8 -8-6 -8 4 -4-6 -12 0 -4-3 -12 2 -9-5 -11-1 -12 3 -8-5 -4 2 -4-3 -8 1 -8-2 -4 3 -4-5 -8 0 -12-6 -4 8 -4 0 -8-4 -16-4 -20 13 -4 6 -4 0 -4-3 -4 1 -12 20 -4-3 -4 1 -4 5 -8 1 -11 16 1 8 -6 3 -4 6 -14 7 -10 13 -4 1 -5 6 -15 3 -12 10 -2-1 0-8 -6-5 -8 2 -8-4 -4 3 -3 8 0 12 -5 2 -4 9 -4-3 7 8 5-2 1 2 -2 12 -11 16 3 4 -7 5 -4-5 2-24 2-5 -8-1 -8-6 -1-4 -6-8 3-5 -8 0 0 4 2 1 -10 9 -8-4 -4-4 -4 1 -3-2 3-1 2-3 -5-4 5-4 -2-3 -6-1 3-4 0-8 -1-4 -4 1 -2 3 -2 11 -4 1 4 1 0 11 11 8 -2 4 -9 7 -4-3 4 5 4-5 3 4 -1 4 -10 5 -4 5 -8-4 -4 9 -8 2 -1-5 -7-6 -16 0 -1 2 5 4 2 8 3 4 -5 6 -5 2 -4 8 1 3 10 1 2 4 -2 4zM655 1182l2-4 5-4 -3-4 6-4 1-4 -1-4 -4-4 1-8 -5-8 5-8 -3-4 3-8 -4-1 -4 3 -4-1 -4 1 -1-2 5-4 -5-4 5-4 -10-12 1-4 -3-5 -4 3 -7-6 -1-5 -5-7 1-12 -4-12 -18-4 -6-9 -4 0 -2-3 -6-12 3-8 -5-4 4-8 -13-8 -1-4 -4-4 -4 2 -2-2 1-4 -5-4 -2-8 2-8 4-4 -10 1 -6-5 10-2 0-4 -8-1 -4-3 -3-2 1-4 -2-3 -4-1 -3-4 0-8 3-4 -4 3 -3-7 3-4 -3-4 4-4 -3-4 2-4 -4-5 -4 1 -1-8 -3-1 -11 21 -6 4 0 8 4 4 3 8 -10 8 -1 4 3 4 -3 4 1 2 4-4 3 2 1 8 9 8 -5 12 4 16 -6 4 2 7 10 9 -4 4 -1 4 10 4 -4 4 9 5 8 11 4-2 7 6 2 8 -2 4 5 4 -5 4 1 5 6 7 -3 8 1 4 3-4 4 0 2 12 7-1 8 2 16 11 -2 12 7 4 -4 8 13 24 -4 4 2 8 -3 4 3 7 8 2 8 6 8-7 6 0 2-4 4 0 1 4 7 6zM518 911l0-2 2 1zM526 919l0-2 3 1zM566 988l-2-2 2-3 3 3zM534 1029l-3-3 5 0zM987 1082l1-8 -2-2 -3 6 3 6zM566 1088l-2-2 2-3 4 3zM578 1090l-4 0 4-1zM979 1102l3-14 -5 6 0 8zM2659 1098l-1-5 -12-1 0 3 4 4 4 1zM738 1100l0-3 2 1zM738 1127l-5-9 4-4 5-12 5 4 0 4 -3 4 3 8 -1 2zM967 1114l5-4 1-4 -4 0 -5 8zM2594 1123l-3-1 5 0zM654 1129l-5-3 5-2 3 2zM658 1132l-3-2 3-4 4 4zM2442 1151l-3-5 3-12 2 4 -1 4 4 4zM2666 1144l-2-2 2-2 3 2zM1974 1174l11-12 1-6 12 5 3-3 1-5 -12 1 -8-10 -8 0 -1 2 6 16 -5 2 -4-6 -4 4zM2291 1158l-3 0 2 3zM2179 1162l-1-2 -1 2zM2197 1162l-3-2 -3 2 3 3zM2016 1182l3-4 -5-4 0-4 0 8 -4 4 4 3zM2290 1172l-8 2 -3-4 3-4 8 1 3 3zM2294 1183l0-11 2 6zM1599 1182l-1-6 -4 1 -2 5zM2168 1202l17-8 -15-16 -4 2 -5 10 3 12 2 2zM666 1196l-5-2 5-7 3 3 1 4zM1676 1202l-2-4 -4 4 4 4zM2270 1207l-7-5 7-5 4 1zM2294 1203l-4 3 -2-4 2-2 4 1zM2242 1228l-8-8 -4 0 -3-6 7-7 8 0 4-4 4 0 2 3 -5 8 3 2 0 6 -3 0 -1-2zM2262 1207l-4 2 -2-3 2-2 4 1zM2142 1219l-2-1 2-1zM1438 1226l-4 0 -3-4 3-4 4 5zM1678 1223l0-4 4 3zM2142 1240l-8 1 -8-7 5-4 -7-8 2-3 7 3 5 6 8-8 1 6 -1 12zM706 1227l-2-1 2-4 2 4zM2214 1228l-1-2 1-3 3 3zM1017 1234l-1-4 -4 0 -1 4 3 2zM762 1247l-8-1 -2-4 6-3 3 3zM1030 1255l-3-5 3-2 2 2zM754 1269l-2-3 2-2 4 2zM1022 1276l-4-2 -2-4 2-4 8 0 -1 8zM1230 1266l-3 0 3 4zM762 1273l-3-3 3-3 3 3zM774 1310l-8-2 1-6 -5-4 -4 0 -2-4 2-4 -4-2 -1-6 1-8 4-3 3 3 5 0 4 8 3 8 -1 8 5 4 0 8zM1199 1326l5-4 -5-8 7-9 -4-9 -4 2 -8-2 -12 17 -1 5 5-2 4-4 7 6 -1 8 2 3 4 0zM1230 1302l-2-4 2-3zM1066 1308l-4 1 -3-3 3-5 5 1 1 4zM1038 1340l-4-1 -10-9 -4-12 1-4 5 1 7 11 7 4 1 4zM1254 1331l-4 2 -3-3 0-4 7 0zM1094 1331l0-3 2 2zM1230 1337l-7-3 3-6 4 0 4 6zM1242 1334l-2-4 2-3 3 3zM1107 1350l-1-10 -4 0 -2 2 1 4 5 6zM1198 1342l-2 0 2-2zM1186 1355l-4 2 -4-3 2-4 2-2 3 2zM986 1359l-2-5 2-3 3 3zM1018 1366l-7-4 2-4 5-3 4 3 0 4zM1046 1380l-12-1 -2-5 6-6 8-3 3 9zM1090 1374l-2-4 2-1zM1106 1372l-4-2 4-3 2 3zM1186 1376l-4 1 -3-3 7-6 3 2zM1066 1384l-8-2 4-8 4 1 4-4 1 7zM1190 1395l-4 1 -4-5 -4-1 -4 3 -4-1 -3-6 3-4 4 3 4-4 4 8 4-5 4 4 7 2zM1106 1402l-4 1 -8-9 -4 0 -2-4 2-3 4 4 4-3 1 6 10 4zM1322 1428l-8 2 -4-8 2-4 -2-4 4-7 8-3 10 14zM974 1448l-8 0 -5-6 5-4 0-4 3-4 5 4 -2 4 2 3 4 1zM1026 1778l-11 0 2-4 -5-8 3-4 -1-4 4-3 8 3 -3-4 9-4 1-4 -7-3 -4-6 -4-1 -4 3 -5-13 4-4 -2-4 9-8 -6-1 -3-3 -1-6 -8 1 2 9 -5 4 5 16 -6 10 -8-7 -4-1 -4-10 -4-2 -4-4 -12 1 -2-3 2-4 4 2 1-2 0-12 -5 0 -4-4 -7-12 0-8 -5-5 -8-1 -4 3 -4-7 -1 6 -7 3 -2-3 4-4 -1-4 -12-4 0-4 4-4 -1-4 4 0 4-4 7 8 -10 4 7 2 4 4 4 1 4-8 8-3 1 8 -3 4 2 2 7-6 -1-12 6-1 5 5 -3 4 2 4 4-1 3-3 3-12 -2-4 1-8 -8-4 -2-12 5-1 11-7 13-16 6-4 18-7 8 0 6-5 0-4 -14-13 -12-2 -4-4 -8 5 -4-3 2 5 -1 4 -9 2 -12 12 -4-8 -4 4 -4-2 -5 12 -3 2 -4-3 -8 2 -4 6 -4 0 -5-11 1-3 4-1 -2-4 2-6 8-10 4-2 2 2 3 12 11 2 8-14 0-10 8 4 2-2 -2-2 -4 1 -2-3 6-8 -4-1 -4 5 -4 1 -4-1 7-8 -4-16 5-3 13-17 -1-5 -8-3 -3-8 1-4 9-4 1-5 11 5 1 7 14 1 -2 4 -4-3 -3 7 1 4 -6 4 12 12 -9 4 -1 4 2 12 4-2 8 3 4-4 1 7 -5 5 4 1 8-3 8 1 -1 4 6 8 1 16 2 2 8-6 12 12 2 4 -2 4 -4 0 -4 3 0 5 4-2 6 6 0 8 -5 4 7-1 4 5 -8 5 -4-2 -4-3 0-4 4-4 -4-1 -8 7 -5-2 -2 4 5 8 6 0 4 4 0 5 7 3 -3 6 -4 2 -4-3 -2 3 1 4 5-3 2 3 1 4 -3 5 -8 4 -4-2 -6 1 2-4 -1-4 8-4 -7-11 -8-1 -4 7 -8-5 -12 10 -6 0 -1 4 -5 1 -2 3 0 4 2 2 8-2 4 1 8 9 4-1 12 1 12 7 3-9 7 0 2-5 10 13 -8 12 -20 8 1 4 -1 4 5 4 -3 3 0 3 4-4 5 2 4-4 -1-2 -3 2 -1 3 -4-5 0-6 4-6 7 6 3 8 -4 12 2 4 7 4 3 12 -2 8 -3 4 2 4 -3 4 1 4 -4 4 1 4 -2 12 -4 3 -4-3zM1046 1483l-11-5 7-4 8 4zM987 1486l-5-6 0 4zM1006 1504l-3-2 1-4 -9-8 3-8 4-2 8 6 -2 4 1 4 -2 4 1 4zM1022 1485l-2-3 2-1 2 1zM1018 1491l-3-1 3-3zM954 1508l-5-2 -1-4 6-8 8-2 2 2 -2 8zM1034 1507l-4-1 4-3zM1142 1555l-4-7 -3 2 -1 5 -3-1 2-4 -4-4 1-4 4 3 4-8 4 2 4-6 6-3 1-4 -3-5 -11-3 -1-4 8-6 4 1 2 5 6 1 5 11 -5 8 -7 4 -3 8zM1014 1518l-5 0 6 0zM1070 1521l-2-3 2-2 2 2zM1030 1538l-1-4 -8-8 -1-4 2-3 9 3 1 4zM996 1542l-2-4 -8-2 -1 2 5 5 4 1zM1038 1545l-2-3 2-5 2 5zM1006 1563l-3-1 3-2 2 2zM1126 1568l-3-2 1-4 6-4 3 4zM1020 1586l-2-2 -3 2 3 2zM1007 1602l7-2 0-2 -8-2 -10 2 6 5zM1038 1612l-2-2 5 0zM914 1634l-2-4 2-14 12 5 1 9 -1 4 -4 0 -4-9 -3 1 1 4zM954 1622l-2-4 2-1 2 1zM946 1643l-8-5 -6 0 -1-4 19-10 9 10 -5 7zM1062 1642l-4 4 -2-4 18-14 4 10 -8 2 -4-1zM1010 1634l0-2 2 2zM1018 1636l-3-2 3-2zM1054 1647l0-3 4 2zM906 1657l0-4 2 1zM1074 1663l-2-5 2-3 4 1 0 3zM918 1675l0-2 2 1zM942 1674l-1 0 1-4 3 4zM906 1682l-5 0 1-7zM938 1690l-4 0 -5-8 5-5 10 9 -2 3zM1012 1682l-2-6 -2 2 0 4zM922 1684l-2-2 2-2 2 2zM1054 1698l-1-4 -6-4 3-8 4 0 5 4zM1020 1694l-3 0 1 1zM930 1703l-9-5 5-3 4 2 3 5zM942 1723l-10-1 -1-8 7-6 7 6zM894 1728l-4 1 0-3 4-10 3 6 0 4zM970 1725l-2-3 2-3 2 3zM1021 1726l3-4 -2-3 -4 0 -4 7 4 3zM962 1730l0-6 5 2zM1030 1730l0-5 -4 5zM1006 1745l-2-3 2-1 2 1zM886 1755l-4-2 8-11 3 4zM926 1778l-11 0 -1-7 -9-9 -2-4 3-12 0 4 10 8 0 8 2 2 4-1 4 9 3 2zM1010 1747l-3-1 3-2 2 2zM1046 1750l-5 0 1 2zM958 1778l-9 0 -1-4 6-8 -5-4 0-4 5-6 3 6 -3 8 4 7 2 5zM1014 1758l0-7 2 3zM974 1774l-6-4 0-4 6-7 4-1 5 8 -5 3zM926 1767l-2-1 2-1zM994 1773l-2-3 2-1 1 1z"/>
<path fill="#9C860E" d="M1142 1356l-8 0 -12-6 -4 4 -8-7 0-7 6-2 -5-4 -6-16 3-4 -8-20 -6-3 2-5 -7-8 1-4 -12-3 0-6 -16-3 -8 1 -5-5 1-5 -6 1 -1-8 -9-3 -4-6 -12-8 -4-1 -6 2 -3 4 1 6 -4 0 -4-6 -4 3 -4-1 -4-7 -4 0 0-5 4-2 4 2 3-2 -3-2 -4 1 -14-23 -26-4 -5-4 1-5 -4 4 -4-1 -16-14 2-8 -9-16 -1-4 1-4 -5-4 -1-12 -3-8 36-10 4 0 4 5 8 3 4-1 8 1 12-10 4-8 8-24 -4-3 -4 3 -2 12 -4 8 -2 8 -7 4 -5 7 -8-9 -8-4 -16 0 -8 5 -12-3 -4 4 -4-2 -4 1 -4-3 8-4 0-4 -8-4 -4 0 -12 7 -4-3 -2-12 -6-11 -20 19 -4-4 -12 10 -8 2 -8 16 -12-1 -4 3 -2-6 -10-11 -4-4 -6-1 2-2 4 0 0-3 -8-1 -4-3 -10 1 -10-4 -4-6 -8-3 -4 1 -7-8 -13-2 -3 2 -2 12 3 4 0 8 -2 4 -10 4 1 8 5 4 -8 12 -5 20 3 4 -3 4 3 4 -2 5 8 6 9 1 -9 9 -10-5 -1-4 -4 0 -3 12 -6 4 -4 6 -9-6 -2-4 0-4 5-4 0-8 -5-8 0-8 -3-8 3-8 -2-8 2-4 -8-4 -8-16 -6-4 3-4 -9-12 3-5 -4-3 -4 3 -4-4 -2-7 3-12 -17-14 -4 5 -7-3 -4-8 -1-8 -6-8 -1-8 -3-4 4-4 -6-6 -8-3 -14-15 2-2 8-2 -5-8 -6-4 4-4 -4-4 0-4 4-4 -1-1 -4 3 -8-10 -4 6 -4-5 -2-9 2-3 4-1 -8-3 -4-8 -5-1 4-4 -3-4 4-3 1-5 -4-4 0-8 -5-4 0-3 -4-1 -13 0 0 4 -2 4 1 4 -4 12 -5 4 -2 4 5 8 1 8 -9 8 1 12 4 12 -1 4 6 4 3 12 -5 12 3 12 -3 12 3 8 -4 4 1 7 4 0 4-7 7 8 1 4 -4 4 -4-5 -2 1 10 9 4 0 -1 7 5 14 4 0 8-6 4 0 2 16 3 4 0 4 -5 8 -4-5 -1 1 5 4 -4 3 -4-1 -1 6 17 2 16-1 5 3 1 4 -3 4 5 1 1-5 3-2 5 2 0 4 5 8 -3 8 0 8 3 4 -6 1 -1 3 7 8 2 7 8 5 0 8 -12 7 -4-2 -3 3 4 4 -5 12 2 4 -6 9 -8 0 -4 3 -4-5 -4-2 -3 3 2 4 -2 4 -9 4 -12 3 -4 3 -4-1 -4 4 -7-1 1-4 -4 0 -5 4 1 4 -6 4 -20 5 -4-2 -4 5 -16 6 -28 19 -12 4 -8 0 -20 15 -4-1 -1-831 1-93 2612 0 13 1 -1 799 -8-2 -52-33 -16-9 -12-3 -36-23 -28-13 -36-8 -24-2 -24-8 -24-4 -15 2 -14 12 -3 7 -12 3 -4-6 -4 0 -3-4 -1-5 -8 2 -4-5 -12-8 -1-8 5-4 4 1 2-5 -2-6 -5 2 -3 6 -12 2 0 4 -8 5 -4 0 -4 3 -2 8 -10 6 -16-4 -4-2 1-8 -5-1 -4 9 -4 0 -4 4 -1 16 -3 3 -4 3 -12-1 -8 7 0 4 -4 2 -24-4 -4-9 -4-1 -4-5 -3 1 5 4 -10 2 -4 5 -8-1 -4-3 -20 11 -4-1 -4-5 -8 0 3-4 -3-2 -8 10 -12 4 0 4 -4 1 -4-3 -8 7 -4 0 -12-6 -12 0 -8 5 3 4 -3 3 -12 3 -3-2 4-4 -5-1 -12 12 -4-4 -3 1 9 8 -3 4 1 2 4 2 8-2 4 2 -1 12 -7 9 -4 1 -12-5 -4-14 -18 9 0 4 -6 5 -16-10 -2 5 6 4 2 4 -2 2 -8-2 -4-6 -4 0 -4-3 -4 2 -16-1 0 4 -15 8 8 4 -1 6 -4 1 -4-3 -8 2 -6 6 -2 6 -2-6 -4-4 1-4 -5 0 1 8 -5 4 2 3 4-5 6 10 -2 1 -4-4 -4 0 -6 7 3 4 -5 8 -8 3 -8-3 -4 3 -4-2 -8 9 -9-6 -2-8 7-9 2-7 0-4 -7-8 20-12 -3-11 -4 3 -12-8 -4 0 -8 12 8 8 -4 8 -8-8 -8 2 -2 2 3 8 -5-1 -8 6 -11-9 7-5 9-3 -5 0 -1-4 9-9 3-11 -2-4 2-4 9-4 2-4 -2-3 -4-2 -8-1 -4-3 -4-1 -12 7 -4-5 -8 3 -8-7 -4 2 -1 10 -9 4 2 5 6-1 2-4 8 4 4-11 4 0 5 11 -10 12 -3 9 -6-5 2-4 -16-1 -4-11 -16-2 -5-6 -11-4 -9-12 1-4 -8-2 -4 2 -2 4 2 4 -4 3 -4-8 -12-2 -2-5 2-4 -8-8 4-3 0-2 -4-3 -4 1 -4 13 -8 0 -8-7 0 5 -12 9 -6 7 0 4 -2 1 -4-4 -7 3 0 8 -5-4 0-8 5-4 -5-1 -4 4 -8 0 -16 11 -8-8 -4-1 -6 3 -2 9 -5-1 2 4 -5 4 -12-6 -4 3 -10-1 -3 4 6 4 0 4 -5 5 -4 0 -4-7 -4-2 -20 4 -20-3 -8 1 -16 10 -8-5 -4 1 -8 21 -3-17 -12-16 19-12 -8-6 -12 7 -9 3 -2 4 3 4 4-6 3 2 -2 4 -9 3 -2-3 -6-2 -8 3 -1-5 -13-12 2-3 4-1 4 5 5-5 0-4 -5-4 -12-3 -8 5 -7 14 -5 4 1 4 -5 8 -8 1 -4 4 -8-2 -4 2 -4-1 -2-4 2-8 -3-8 -10 4 1-8 -4 0 -12-9 -2 1 2 14 -9-10 5-8 -16-3 -7 7 -7 16 -10 8 -4-1 -4 9 -12 5 -8-4 -8 7 -9 4 -3 4 -6 0 -6-4 1-8 -1-3 -4 3 0 4 -1-4 -3 0 -3-4 3-2 1-6 -5-3 -4 0 -4 10 -8 1 -4 5 -4-2 -8 2 -6-5 -2-6 -9 2 11 8 4 8 -2 3 -8 1 -4 7 -8-1 -1 6 -7 6 -5-2 -3-8 -7 4 -5 4 0 4 -13 8 3 8 -2 2 -10 2 -1 12 -5 4 -4-1 -3-11 -5-3 -7 7 -3 8 -8 4 2 3 8-5 10 6 -6 11 -4-6 -4 0 -2 11 2 8 -8 1 -15-9 -9 5 -4-3 -16-4 -8 6 4 8 -8 5 -16-1 -8 4 -3 4 2 8 -6 8 -3 12 -10 10 -4-2 -1-4 3-4 -6-5 3 5 -3 3 -8 3 -4 7 -10 3 -6-6 -1-10 -4-8 2-4 -3-12 2-4 -4 2 -4-4 -4 7 -4 1 -2-2 3-4 -5-2 -2 2 3 8 -1 5 -4-2 -16 2 -3-1 3 0 8-8 -8-12 -4-1 -4 5 0 4 5 4 -7 4 2 4 4 0 1 8 -23 36 -6 2 -4-3 -4 1 3 4 -11 2 -8-10 -4 5 -4-1 0 6 4-1 8 4 5 7 -4 16 2 4zM526 882l-2 0 2-2 2 2zM506 1023l-2-1 2-1 4 1zM475 1034l-5-3 -5 3 5 2zM530 1039l-4 0 0-3 4 0zM507 1046l-1-1 -1 1 1 2zM903 1070l-4-8 -9 1 -4-6 1 13 11 2zM524 1078l7-8 -5-3 -8 7 4 5zM972 1070l-2-3 -1 3zM1971 1094l3-9 5-3 0-4 -5-3 -3 7 -12 4 3 0 4 7zM634 1084l-3-2 3-2 3 2zM843 1082l-7 0 6 3zM2411 1094l-1-4 -4 0 0 8 4-1zM546 1095l-2-1 2-2zM2010 1106l-4 3 -3-3 3-3zM523 1110l-2 0 1 3zM746 1123l-8 3 -3-8 6-4 -2-4 3-3 4 1 -4 6zM2087 1118l2-4 -8-4 -2 8zM2252 1110l-2-3 -6 3 2 3zM1491 1118l-5-6 -1 6 1 3zM1667 1126l5-4 -6-6 -2 10zM1546 1126l6-4 -13 0 3 6zM1689 1122l-3-2 -6 2 2 4 4 0zM1784 1122l-2-2 -4 2 4 2zM2378 1127l-4-1 -4 3 -7-3 7-7 4 7 4-1zM2210 1154l-4-8 4-5 6-3 -4-4 6-4 -4-3 -4 1 -8-2 -8 9 -9 3 -2 4 3 2 8 3 4-7 2 10zM1702 1132l-1-2 1-3 2 3zM2398 1135l-4 3 -1-4 5-6 4 2zM1462 1134l-4 0 4 3zM1714 1138l-5 0 -5-4 2-2 4 2zM2326 1134l0-4 -1 4 1 1zM1650 1138l-5 0 1-2zM1750 1143l-4 0 0-4 4 2zM2223 1142l-3 0 2 1zM2330 1146l-4-6 -4 5 -4-1 -3 2 7 3zM1458 1154l-4-5 0 3zM1758 1152l-4-2 4-2zM1754 1163l-4 2 -3-7 3-6 4-2 3 4zM408 1162l2-4 -6 4zM2302 1163l-4 1 -5-2 5-2 7 2zM1690 1171l-2-1 2-6 3 2zM698 1180l0-3 2 1zM626 1211l-8 0 -8-2 -8-7 -1-8 5-8 8 0 4 5 4 0 3-1 -1-4 2-2 4 6 -1-8 9-3 4 0 8 7 4-2 4 2 -8 7 -4-1 -3 2 -2 4 8 4 -4 4 -3 2 -8-1zM758 1231l-4 1 -12-4 -12 4 -5-6 -15-5 -12-1 -12 3 -4-9 4-9 8-5 4 4 2-2 -1-4 6-8 -4-8 5-1 4 6 4-8 4 1 3 2 1 8 -8 8 1 4 11 6 2 2 -2 5 8-7 8 0 8 4 4 6 4-4 8 4 -2 8zM666 1195l-4-1 4-5zM2250 1191l-4-1 7 0zM914 1200l0-6 3 4zM1782 1200l-4 0 -4-2 4-4 5 4zM1766 1202l-16 0 -2-4 2-3 8 0 12 3zM922 1208l-4-7 4 1 4 4zM1211 1202l-4 0 3 2zM2158 1203l-5-1 1-3 4 1zM2170 1208l0-3 3 1zM523 1218l9-4 -2-5 -8-3 -4 4 -1 4 5 6zM950 1221l-4 0 -3-7 2-4 9-2 3 2 -1 4zM2242 1220l-10-6 6-3 5 7zM1018 1242l-4-4 4-3 2 3zM758 1246l-4-2 0-3 5 1zM1014 1244l-1-2 1-4 4 4zM1022 1244l-4-2 4-1 2 1zM1022 1274l-4-2 0-4 4 1zM766 1299l-8-4 2-5 -6-4 4-12 7 4 0 4 7 8 -2 8zM1198 1288l-7-2 7-4 2 4zM1214 1326l-5-4 -2-20 4-8 0-8 3-4 5 8 3 12 -4 4 -2 8 3 4zM1202 1291l-3-1 3-3zM774 1306l-4 0 -1-4 1-4 6 4zM1066 1307l-4 1 -2-2 2-4 4 1zM1038 1338l-4 0 -9-8 -4-12 1-4 12 14 5 2 2 4zM1286 1354l-3-4 3-4 -1-8 5-8 -2-4 6-6 4 1 2 5 -1 4 -13 16 6 4zM1102 1335l-4-1 5 0zM1094 1365l-8-1 -7-14 0-8 3-4 8-3 13 15 1 8zM986 1357l0-4 2 1zM1018 1364l-5-2 5-5 2 5zM1042 1380l-9-6 5-5 8 1 2 4zM1314 1416l-2-2 2-2 2 2zM1318 1428l-4-2 -1-4 4-4 9-3 4 3 -4 4 -4-1zM1030 1591l-2-5 6-9 2 9zM994 1610l-6 0 2-2zM1014 1618l-4 1 -5-9 9-2 4 2 0 7zM978 1624l-3-2 3-1zM982 1629l-2-3 2-1 2 1zM978 1636l0-5 2 3zM1018 1674l-2-4 2-4 3 4z"/>
<path fill="#FFD590" d="M1142 1315l-8-8 -12 5 -3-6 -8-8 -5-1 -3-11 -4-4 -5-1 0-17 -3 2 1 4 -2 1 -8-5 -8-8 -12 0 -4-3 -4 1 -28-26 -12-3 -8 1 -4-3 0 4 2 1 -2 6 -4-4 -4 3 -4 0 -6-9 2-1 4 1 7-4 -7-3 -4 0 -6-9 -2-8 1-4 -5 0 -8-5 -4 3 -12-4 -8-9 -4 3 -9-8 -1-8 -7-12 2-4 -2-4 1-8 -11-20 0-4 7-2 4 1 16-8 4 1 0 4 4 2 12 1 4 2 4-1 15-12 4-16 4-4 3-8 1-4 -3-3 -16-2 -4-5 -4 0 -4 4 -2-2 1-4 -3-2 -1 6 5 7 4-5 8 7 4-3 2 2 -2 12 -5 4 1 4 -1 8 -11 8 -16-12 -16 1 -8 5 -4 0 -10-6 -6-8 4-3 4 3 -4-6 -4 6 -5-4 5-6 8-2 -4-4 4-10 -4-4 -15-2 7-1 1-3 -5-5 -4 0 -12 11 -4-1 -4 7 -8 1 -4 3 0 4 -12 2 -4 2 -4-6 -6 2 -1 4 5 8 -2 5 -15 7 -1 6 -20 9 -6-7 -10-20 4-4 4 4 -8-9 -4-2 -8 2 -3 5 -5-2 -4 2 -20-14 -4 2 -4-5 -16-3 -5 4 2 4 -2 8 2 4 -2 4 2 4 -13 8 4 12 -2 8 -5 4 -3 12 0 8 3 4 -3 4 3 4 -3 4 8 8 -1 4 -5 1 0-5 -8-3 -4 16 -8 7 -8-6 -1-6 5-4 -3-4 2-4 -5-8 -1-12 2-12 -3-8 2-4 -4-4 -12-20 2-5 -4-5 -5 2 -2-16 -12-8 1-12 -18-16 -9 4 -4-8 1-14 -4 1 -2-3 6-8 2 4 3 0 -5-4 -4 2 -3-6 0-4 -22-24 3-4 -4-8 -6-4 4-4 -4-8 2-4 -2-3 -9-1 -7-20 -8-8 5-4 -1-1 -4 2 -4-5 2-8 -4-8 3-4 -7-4 -2-7 -16 0 -5 3 2 4 -3 4 -1 16 -5 2 -3 6 5 16 -8 8 -2 6 -4-2 3 4 0 8 -3 12 -5 4 1 2 4-2 11 28 -12 12 0 4 9 4 4 8 -8 4 -3-4 4-4 -1-1 -4 3 -4-3 -8 3 -4-4 -9-2 3 4 -2 3 -4-3 -4 2 -4 6 -13 8 9 12 -4 3 -8-3 -8 4 -2 12 2 1 3-1 5-8 4-2 5 2 3-7 8 4 8-2 2 1 2 6 6-2 2-5 4 1 4 5 4-3 8 0 4 6 -4 4 4 3 16-6 5 7 -5 5 -2 7 6 11 9 5 -11 4 2 12 4-1 4-6 4 5 16-3 4 7 12 7 4 5 8-2 -5 8 5 0 6 8 -4 4 -1 8 6 4 1 4 -4 4 -4-4 -12-1 0 6 -7 3 15 8 3 4 -1 4 -6 7 -8-8 -12 2 -8-5 -8 12 -8 2 -14 26 -2 1 -8-3 -6 6 -1 4 5 8 -2 1 -4-1 -4-5 -16-9 -5 6 1 4 -4 2 -8-11 -4 4 -8-9 -6-2 4-4 -3-4 4-8 -3-4 -4 0 -10 8 6 4 -4 8 4 5 4-1 2 4 -1 4 -5 8 7 4 1 6 10 2 0 4 -34 22 -8-5 -4 0 -4 6 -8-1 0 10 -8 2 0-24 4 2 0-4 -4-3 0-53 2-4 -2-2 0-10 8 4 4 5 4-1 -1-4 9-2 -3-10 3-2 4 5 3-7 5-1 4 4 2-15 7-8 -5-6 -8 0 -7 6 -5 2 -6-2 -6-8 -8-1 -3-3 5-4 -2-4 0-12 -4-3 1-25 -1-58 6-6 -4-8 2-8 -4-2 0-14 0-633 2625 1 -1 796 -8-2 -64-40 -16-6 -17-12 -47-23 -72-15 -28-9 -24-1 -8 5 -4-1 3-8 -3-6 -5-2 1-4 11-12 -7-12 0-4 4-6 9-2 -7-4 -2-8 -4-2 -12 9 -6-11 -6-2 -4 3 -1 7 -8 8 -3 10 -4 4 -4 0 -4 6 -8 1 -4 4 -5-1 3-4 -6-3 -1 3 -7 6 -12-1 -8-5 -8-10 -4 2 2 4 -8 4 -1 12 3 4 -1 4 -11 5 -3-5 3-5 6-3 -2-2 -4 1 -4-6 -12 6 -4 8 -12 1 -8 7 -4-2 2-9 -6-8 7-12 -3-4 -24 6 -8 8 -8-6 -5 12 0 8 3 4 -1 4 -7 4 -2 5 -4 2 -12-1 -4-7 -8-3 -12-1 -5-3 3 16 -6 1 -4-6 -6 1 -3 4 1 4 -4 7 -4 0 -4-4 -4 1 -2 4 0 8 -2 3 -12 0 -8 4 -8-4 -2 1 1 4 4 4 -4 4 0 4 -11 5 -1-1 3-4 -2-3 -4 5 -1 6 -5 4 -2 8 -4-1 -4-5 -4 1 -4-3 3 4 -5 4 1 8 -2 4 -5-1 -3-7 -5-2 -2 6 -6-2 -4 6 -12 1 -1 3 5 4 -1 4 -11 9 -12 2 -8-3 -8 6 -8 2 -8 11 -12 8 -4-6 -9 3 0 8 -12 8 -1 8 6 4 1 4 -9 4 -8-2 -12 1 -7-7 4-16 7-6 4 2 0-4 10-8 -9-8 3-3 4 1 6-10 12-8 -6-4 -2-4 2-2 4 1 4-11 16 2 4-6 6 0 -1-4 5-4 -9-12 7-6 4 3 10-5 -2-7 -4 0 -4-4 -8 10 -10 5 -6 9 -8-7 -4 0 -4 1 -4 5 -8 1 -4 2 -2 9 -8 4 -2 8 -20 10 -2-2 0-4 2-8 5-4 3-21 13-7 3-4 4 0 4 4 4-1 6-15 -2-5 -4-3 -8-1 -2-3 -1-12 -5-3 -24 25 -28-27 -4-1 -3 2 1 8 -2 6 -4-3 -12 3 -2-6 4-4 1-4 -3-5 -4-1 -2 2 -2 8 -6 0 6-12 -14-12 1-8 -3-1 -12 0 -4 5 -4-8 -8-3 -4 3 -12 2 -4 12 -8 6 2 4 -6 5 -8-1 -12 10 -4-1 -4 7 -4-1 -8-9 -4 2 -12 1 -3-9 2-16 -3-3 -4 1 -2 2 2 8 -4 5 -12 1 -8 3 -4-1 -4 3 -2 9 3 4 -1 5 -4 1 -4-3 -4 5 -4-1 -12 3 -1-6 3-4 0-4 4-4 -2-5 -4 7 -9 2 3 12 -2 5 -8 2 -12 8 -3-7 7-3 0-3 -16 4 -16 13 -14 1 4 4 -2 5 -4 1 -6-6 2-4 -12-10 -16 4 -8-2 -4-7 -6 3 6 6 4-2 4 8 -4 5 -6-1 -6-4 -2-8 -4-4 6-8 -6-8 3-4 -5-4 -4-1 0 5 -4 4 -8 1 -2 3 1 8 -11 5 -16-5 -8 1 -7-5 -5-1 -2-7 3-4 -1-5 -4 6 -12 4 -8 0 -8-8 -8-3 -4 6 12 4 3 4 -6 4 2 8 -3 6 -12-5 -4-5 -9 4 -19-4 -5-4 8-16 4-4 -3-8 -5 0 -3 4 -9 4 -1 8 -2 2 -4-2 -2-4 -6 0 -4 4 9 4 1 4 0 4 -6 3 -4-6 -5-1 -3-4 0-6 -13-2 -1-4 5-4 -3-4 -8-2 -3 2 2 4 -3 1 -4-8 -8 6 -8 1 -3 4 11 16 4 0 3 12 -7 8 -4 0 -4-3 -20-1 1-4 -5-3 -6 7 -6 2 -4-1 -4 5 -12-6 -4 3 -4-1 -16 9 -10 1 -6 4 -7 0 -5 9 -8 1 -4 4 -8-5 -5-1 -6 20 -21 7 -1 5 -3 3 -8-5 -8 7 -8-3 -4 3 -4 7 -1 8 -3 3 -4 1 -7 16 -15 12 0 4 -5 8 1 8 -6 8 -1 8 -15 11 -4 8 -5 5 0 4 -8 8 0 4 -5 4 -3 12 -3 1 -8-2 -4-6 0 5 2 2 -4 4 6 4 -1 8 -3 1 -8 8 -8-1 -3-4 3-8 -4 0 -3-4 1-8 -2-12 1-4 -1-2 -4 2 0-4 -6-8 0-4 -5-4 -1-11 -5 3 1 5 3 3 -3 4 -8 3 -8-7 -4-9 -12 21 0 4 -5 12 3 4 -2 4 2 4 -7 8 4 4 -3 3 -4 1 3 4 -3 6 -4 2 -4-5 -2 1 6 4 -8 1 -6-5 -5 0zM542 918l0-2 3 2zM446 990l6-4 -5 0 -4 4zM2706 1004l-8 0 -3-2 -1-10 12 5 2 5zM2647 1010l-1-1 0 3zM2491 1018l-3 0 2 3zM391 1046l11-8 10-16 -6 2 -4-4 -11 10 -1 7 -4 1 -4 8 4 2zM462 1024l-2-2 2-4 1 4zM2070 1027l-3-5 3-3 8 3zM432 1026l-3 0 1 2zM1551 1030l1-4 -2-2 -8 2 0 4 4 4zM1994 1042l8-12 -8-5 -6 5zM2062 1070l-2 0 -3-8 0-8 13-16 5 0 3-4 0-10 4 5 8-4 3 1 7 12 -2 8 -7 8 -9 3 -4 4 -4 1 -4-3 -4 2 0 5zM901 1030l-3-2 -2 2zM911 1034l-5-5 -2 1zM1663 1050l2-8 5-6 4 0 4 4 2-2 -2-5 -4 1 -8-7 -4 5 -7 2 1 16 2 2zM2134 1038l4-8 -4-2 -5 2 -3 4zM1039 1038l-1-6 -4-2 -1 4zM1026 1050l4-8 -3-4 -4 0 -1 4 -8-2 -5 2 1 9 8 2 3-3 -6-4 3-4 4 0zM482 1049l-4-3 4 0zM2169 1046l-3-1 -4 1 4 2zM2522 1051l-3-1 3-6 2 6zM1507 1054l-1-4 -7 4zM421 1110l1-4 -7-4 2-8 5-1 8-7 -8-10 -9-6 3-4 -5-4 2-4 -3-5 -2 1 1 12 -4 4 3 8 -3 12 1 4 -6 8 6 9 12 1zM1535 1062l5-4 -6-7 -3 3 -1 4 4 5zM690 1062l2-4 -2-2zM1016 1078l1-4 5-4 4 2 4-4 5 2 -1-6 -8-9 -4-1 -12 5 -13 15 5 4 8-1 4 3zM463 1146l3-6 4 1 3-3 -1-8 6 0 4-4 0-8 -7-4 -2-4 5-11 8 1 4-6 -5-4 6-4 0-4 -7-8 6-6 4 1 0-3 -8-5 -3 1 6 4 -7 5 -4 1 -4-4 -4 1 -4-9 -2 2 -4 12 4 4 -3 4 -8 4 12 12 4 12 -6 12 1 8 -2 2 -4-2 4-4 -12-4 0-6 -4-5 -10 3 3 8 -2 4 6 4 -6 8 1 2 4 1 3-3 1-7 4-1 6 8 -2 3 -6 1 10 1zM882 1064l-2-2 2-3zM886 1089l-4-1 -9-10 2-4 -1-8 4-2 4 6 -1 4 5-2 7 2 0 8zM2078 1073l-2-3 2-7 6 3zM2102 1078l-6 0 -4-4 6-9 4 0 9 5zM870 1072l-2-2 2-4 2 4zM1694 1071l0-3 2 2zM1770 1071l-5-1 5-2 2 2zM2130 1078l-4 0 4-8 4-2 5 6zM2299 1078l7-9 -4 4 -4-1 -3 6zM508 1074l-2-1 0 3zM823 1078l5-4 -6 2 -1 2zM2050 1086l-5-4 1-3 12-8 3 7 -7 3zM399 1086l1-4 -6-5 -2 1 4 4 0 4zM445 1090l3-4 -2-1 -5 5zM507 1086l-1-2 0 5zM1726 1088l-3-2 3-2 2 2zM1826 1093l-5-3 5-5 3 5zM2288 1106l7-8 -7-4 2-4 -4-5 -4 0 -1 1 3 12 -6 8zM700 1090l-2-3 -2 3 2 2zM511 1094l-5-3 -2 3 2 2zM2250 1096l-2-2 2-2zM2394 1095l-4 2 -2-3 2-3 4 1zM394 1106l-4-2 -1 2zM427 1106l-5 0 4 2zM497 1106l-3-2 -1 2 1 2zM558 1107l-5-1 5-1zM1395 1110l-1-5 -12 5 4 2zM2358 1106l-4-2 -2 2 2 2zM522 1122l4-2 4-12 -12-2 -6 8 -1 4 3 2 4-1zM742 1112l-1-2 1-2 2 2zM814 1111l-2-1 2-4zM424 1118l-6-3 -6 3 2 3zM738 1123l-2-5 6-3 2 3 -2 4zM2323 1118l-5 0 4 2zM509 1126l-1-4 -6-3 -4 1 -5 6 1 3zM995 1134l-1-8 -4-1 0 4zM1418 1147l-4-5 -10 0 -3-8 5-1 4 2 4-11 8 18 -1 4zM1794 1140l-16-2 -2-4 18-6 8 1 12-3 4 3 20-5 12 1 6 5 -2 2 -12 1 -4 2 -28 0 -4-3zM2261 1126l-3-3 -2 3 2 2zM2330 1136l0-9 6 3zM547 1134l-3 0 2 1zM536 1138l-2-3 -1 3zM1394 1178l-12-2 -8 1 -6-7 2-5 12 0 7-7 -7-8 8-14 8 3 7 7 -7 12 -4-2 -3 2 11 1 10 7 -6 6zM394 1178l-4 0 -7-4 -1-35 4 3 0 8 4-3 7 3 -4 4 6 12 1 8 -2 2 -4-2zM1366 1145l0-7 1 4zM2158 1167l-3-5 7-15 8-6 4 1 -4 13 -9 11zM439 1150l-1-6 -1 6zM479 1150l-1-5 -1 5zM453 1158l-7-7 -5 7 1 3 4-4 4 4zM1370 1161l0-9 3 2 0 4zM499 1174l-1-7 -2-1 5-4 9 1 4 4 8-7 0-3 -4-1 -8 5 -2-3 -6-2 -12 0 -5 2 -1 8 2 3 4 1 4-4 4 8zM439 1170l5-4 -2-4 -9 4 5 5zM546 1170l-4-5 -6 1 2 8zM1178 1170l0-4 -5 4zM1208 1174l2-4 -4-5 -2 1 4 4 -11 4 5 2zM454 1174l-4-3 0 4zM2202 1176l-2-2 3 0zM433 1178l-3-2 -1 2 1 1zM2190 1185l-2-3 2-4 3 4zM618 1210l-15-8 0-8 3-3 8-3 4 4 8 2 8-2 1-2 -4-8 7-2 4 0 4 7 4 1 0 4 -4-1 -7 7 7 4 -4 5 -4-3zM1203 1190l0-4 3-3 4-1 0-3 -11 7 -3 4zM654 1187l-2-1 4 0zM405 1190l-3-2 -4 2 4 2zM574 1194l-4 1 -6-5 6-3zM714 1195l-2-1 2-4 3 0zM538 1204l-6-10 6-2 2 2zM1214 1226l1-4 -4-4 10-8 -3-4 2-4 -6 1 -4-5 0-4 -8 4 -4-2 -3 2 0 4 -3 4 2 1 8 2 4 4 4-5 3 2 -4 8 4 4 -3 4zM434 1200l0-3 2 1zM475 1210l0-8 -5-2 -2 6 1 4zM758 1231l-16-4 -12 4 -4-5 0-5 -8 2 -20-4 -12 3 -3-8 1-4 6-6 4-1 4 3 8-6 4 4 12 3 4 3 0 7 8-8 8 0 12 10 4-4 6 3 -2 8 -4 0zM2186 1208l0-4 2 2zM950 1220l-4-1 -2-5 10-4 2 4zM462 1242l-12-3 -4-9 4-6 6 2 -3 4 5 0 5 8zM399 1230l-1-3 0 5zM486 1232l0-5 4 3zM1249 1250l-2-4 -5-4 -4 3 -8-5 1 10 3 3 4-3 8 2zM770 1295l-14-9 4-4 -2-4 6 0 -1 4 8 8zM1214 1321l-5-7 2-4 -2-8 3-4 2-11 4 7 -3 20 2 4zM1266 1291l-3-1 3-1zM1062 1308l0-5 4 3zM1118 1315l0-2 2 1zM1022 1319l0-2 4 1zM1038 1337l-4 0 -8-7 -3-4 3-4 12 8 2 4zM1294 1335l-4 2 -1-3 5-12 4 1 1 3zM1126 1336l-6-6 2-2 4 2 2 4zM1094 1364l-8-1 -6-17 2-7 8-3 7 6 3 8 1 8zM1290 1350l-4 2 -1-2 1-2zM1042 1379l-4-5 4-2 4 0 1 2z"/>
<path fill="#FFBE70" d="M1130 1307l-8-2 -5-3 -3-8 -5 0 3-4 -10-10 -5-2 1-8 -3-8 -7-8 -3 0 -3 9 -12-10 -8 3 -2-2 2-4 -4 2 -8-7 -12-5 -12-12 -4 0 -8-4 -4 1 -4-4 -4 3 -15-10 -2-4 1-4 -4-1 -1-7 -3-3 -12-4 -4 2 -11-3 -5-8 -9 0 -4-4 2-4 -2-8 -5-4 3-12 -9-16 -2-8 2-2 4-1 4 4 4-5 5 4 15 4 5-8 11-4 5 0 7-6 4-18 4-6 8 5 16-4 8 5 -2 4 6 2 2-6 8 0 2-4 -1-4 8-28 9-7 4-1 4 4 0-4 -17-4 1-2 4 1 4-7 -4-4 0-10 -3-2 4-4 -1-2 -4 6 -6-8 0-4 -3 0 1 4 -4 2 -4-3 -12-1 -10 6 4 8 -1 8 -7 0 3 4 -9 4 0 4 -1-4 -3-3 -1 3 1 4 11 12 -3 2 -8-4 -4 0 -4 4 -4-2 -4 3 -8 1 -12-8 -10 8 -2 4 -4-5 -4 4 -10 1 10 10 8-10 4 3 4-4 4 5 -1 4 8 4 7 8 0 16 -10 7 -4-2 -4-7 -8-4 -12-2 -12 9 -7-1 -3-4 0-4 6-4 6 0 -2-3 -4 3 -3-4 1-4 -5-8 2-8 5-4 -8-5 -8 0 -4-7 -8-4 -8 5 -5-1 -7 11 -4-2 -4 3 -4-2 -3 6 -5 4 -20-3 -4 4 -8-1 1 4 -1 4 8 0 4 2 3 6 -6 8 -9 3 -1 5 -15 10 -9-6 1-9 -4-1 -4-6 9-4 -3-4 2-5 -4 0 -12-8 -12 1 -4 3 -8 1 -16-10 -4 1 -4-4 -12-3 -4 1 -6 7 1 16 -2 4 3 4 -12 5 -1 3 3 16 -6 8 -4 12 2 28 -7 0 -1 8 -5 4 2 4 -7 6 -9-6 1-4 5-4 -2-4 2-4 -5-8 -2-12 2-30 -4 0 -7-10 -3-12 -11-20 -11-8 0-4 4 0 -1-4 -5-8 -10-8 0-4 -4-7 -4-1 -4 2 -5-2 0-12 5-4 -12-7 1-5 -8-8 3-5 -14-7 1-4 -8-16 1-4 -5-8 1-4 -4-5 -8-3 -2-4 2-4 -4-2 -4-9 -6-5 4-4 -7-4 1-20 -7-4 -5-10 -8-2 -11 0 -5 8 3 4 -3 4 -3 8 1 4 -6 12 5 16 -9 8 -6 0 -7 12 -3 2 -5-6 -4 8 5 8 -8 10 -5-2 9 10 4-2 8 7 4-2 4 3 -1 4 2 4 -9 4 1 4 -2 4 -3 2 -6-2 4-4 -1-4 -5-5 -2 5 5 4 -4 4 -7 4 -6-4 1-4 7-8 1-4 -3-4 -6 0 2-4 -8-8 -4 6 -4 0 -7 6 5 8 0 4 -2 2 -8-2 1 12 -3 8 -6 5 -4-5 2-4 -6-2 -8 0 -8-5 -8 0 -4 4 0-642 2625 1 -1 793 -8-2 -32-22 -32-18 -16-6 -16-12 -44-22 -32-9 -44-8 -18-6 -6-4 -14-4 -4-8 0-8 6-14 0-15 6-15 1-8 -7-12 0-12 -3 8 1 4 -6 6 -8-7 -4 2 -4-4 -4 0 -1-5 -18 0 -5 5 -8-1 -7 4 -1 4 -4 2 -6 10 -14 8 -8-3 -12 0 -5 3 0 4 -3 3 -3-3 -1-14 -6-2 -6-7 -11-1 7-2 0-3 -16 5 -9 12 -7 4 0 4 -4 3 -12-8 -8 0 -12 6 -4 6 -4 0 -9-7 -2-8 3-12 -4-2 -7 6 1 12 4 4 -2 7 -4 1 -11-8 3-4 4 2 3-2 -3-4 -3 0 -5 7 -2-3 1-8 -7-5 -1 5 3 4 -1 4 -6 4 -1 4 8 4 -6 3 -7-7 -6 0 -1 4 -6 3 -12 14 0 6 4 6 -4 3 -4-1 -4-4 -12 9 -4 16 -4-3 -8 3 -3 4 -1 6 -16 6 -4 8 -12 6 -12 2 -8 6 -1 6 -5 4 -3 8 -12 8 3 4 -6 7 -4-3 2-4 -2-1 -8 6 -8-3 -1 10 -11 3 -3 5 5 4 -2 4 -4 0 -16 9 -2-1 -2-4 -8 5 -12 5 -12 13 -8 1 0 3 -4-6 -12 9 -4 0 -3 2 7 2 1 2 -12 8 1 4 -4 4 6 4 -4 6 -7-2 -5-13 -7 1 9 8 -6 4 -5-8 -1-8 6-8 4 1 2-5 10-8 -4-7 -4-1 4 0 9-12 12-8 -4-4 5-4 1-8 6 0 3 4 12-9 2 1 -2 4 4 4 6 0 2-4 -3-4 4-4 -5 3 -2-3 2-6 6-2 2-7 2 7 2 1 4-2 8 0 8-6 3 7 -3 4 12 1 3 7 2 0 0-8 4-4 -5 3 -8-4 -2-3 3-4 -8-8 1-4 -5-4 11-6 4 4 13-18 -1-2 -4 5 -4 1 -2-4 -10 1 -4-3 -12 13 -4-5 -8-1 -16 2 -3 1 -1 5 -6-1 2-4 -1-4 9-7 24-10 8-16 4 2 5-1 3-4 -5-8 -3-2 -3 2 -9 8 -3 8 -5 1 -7-5 0-4 6-4 -5-4 -3-12 -7-6 -4 2 1 8 6 8 1 12 -8 4 4 9 -8 5 -4 0 -7-18 3-4 8 1 0-5 -8 4 -1-4 -11-8 -5-12 -11-5 -6-7 -2-1 -2 1 -1 4 6 8 -3 4 -9-12 2-8 -5-3 -4 4 -12 2 -12 12 -4-3 -1-12 5-10 4 1 2-15 -10-1 -4-5 -5 2 -2 4 2 4 -3 3 -8 0 -4-4 -12 4 -12-2 -6 3 -3 8 -7 1 -4-4 0-5 -4-5 -4-2 -4 4 -5-1 -4-4 1-4 -10-4 -2-7 -12-9 -8-3 -8 1 -8-4 -8 6 -4-10 -4 0 -4 3 -7 11 7 8 -8 7 -4-5 -4 6 -2-8 4-8 -10-10 -2 2 1 8 -7 1 -4-2 -1 5 -3 1 -16-1 -8 7 -4 1 -4 6 -16-10 -1 8 5 11 4 0 0 5 -12-3 -1-5 -7-3 -8 8 -16-1 -18-16 2-5 6-3 0-4 -6-6 -8 1 -4-5 -4 2 7 4 -3 3 -4 13 -3-4 -5 0 -12-12 -3 4 15 8 -8 7 -8 2 -7 7 1 4 -10 6 -6-2 1-8 9-2 4-6 -16-9 -7-7 -1-6 -8-2 -2 4 4 4 -1 8 3 2 4-9 2 3 1 4 -3 5 -4 2 -9-3 -4 4 -1 8 -9 4 -5 5 -4 1 -8-5 -11 3 -1 6 -12 8 -8-12 -12 4 -8 7 -8-7 -12 2 -8-5 -5 1 -1 4 3 8 -5 2 -8-6 -12 4 4 1 4 7 -4 3 -8-3 0-5 -4 3 -7-2 -1-4 -4 1 -12-4 -4 6 -8 4 -8-3 -8-5 -12 1 -4-7 -11 3 -1-4 4-2 4-2 4 2 8-6 -3-4 0-8 -1-3 -8 2 -4-2 -12 0 -3 3 3 6 13 2 -5 16 -4 4 -3-4 -5-2 -4 3 -4 9 -20 2 -11 12 1 4 -2 1 -4 1 -4-2 -8 1 -8-9 -8 0 -5 4 1 4 -4 6 -8-6 0-4 -4-6 -11 2 5 16 -14 16 4 8 0 5 -4 4 -20 7 -4 0 -8-5 -16 17 -8-4 -2-8 -3 0 -2 4 6 4 -3 10 -7 6 -1 8 -8-5 -10 9 6 12 -1 4 -11 5 -10 11 -1 4 -13 18 -8 2 -3 4 2 12 -7 8 2 4 -1 4 -13 15 -1 9 3 4 -2 8 -4 3 -4-4 -4 1 3 8 -9 8 2 1 4-3 4 2 3 4 0 8 -8 8 1 8 -4 2 -2-2 -1-8 -5-7 -1 3 4 4 -4 4 -3 8 6 12 -2 3 -4-5 -2 2 1 8 -3 2 -9-2 4-8 -9-4 -1-20 2-4 -2-4 3-4 12-2 4 2 1-8 -5-6 -8-3 -8-7 -4 3 -5-3 -1-20 -3-4 3-4 -9-4 -5-8 -4 5 -2-1 2-8 5-4 -1-16 -4-3 -4 3 -1-4 -3-2 -3 2 -2 8 -4 4 3 4 -1 4 -7 4 4 4 0 8 -4 12 4 4 6 0 5 4 -1 4 -4 3 -4-4 -4-1 -1 2 6 8 -2 4 -6 4 2 8 -11 20 0 16 -4 4 3 8 -15 10 -4-2 -4 1 -8-6 -11 5zM534 891l0-6 3 5zM1855 934l-1-2 -2 2 2 2zM1974 938l-4-2 -5 2 5 4zM2735 954l0-8 -3-4 -4 0 4 8 0 4zM470 948l-2-2 2-1zM1907 954l3-5 -5 5zM478 957l-8-3 8-3 2 3zM2723 954l-3 0 2 2zM1083 970l-7-4 -2-4 4-4 -4 4 -1 4 5 6 4 1zM1092 962l-2-3 -3 3 3 2zM1769 966l-1-4 -2-2 -4-1 -2 3 2 8zM1842 963l-1-1 1-3 4 3zM1974 975l-7-1 -2-8 1-6 4 1 4 5 2 4zM1858 974l-8 3 -4 0 -4-3 4-6 8 1zM2154 980l-8-2 8-6 2 2zM470 978l-4-2 -1 2zM1079 978l-1-2 -2 2zM480 982l-2-4 -2 4 2 3zM1906 983l0-2 2 1zM1938 992l-5-6 5-6 8 2 -6 4zM1774 991l-4-5 4-2 4 2zM1822 989l-3-3 3-3zM1794 995l0-8 4 0 3 3zM1814 997l-4-1 -6-6 14-2 2 2zM1910 1003l-8 1 -8-6 -2-4 2-7 4 1 4 4 8 0 2 6zM1097 998l1-4 -5 4zM1055 998l-2 0 1 2zM1826 1002l-3-4 3-3 3 3zM1858 999l-2-1 2-2zM450 1003l-3-1 3-1zM1033 1002l-4 0 1 1zM1077 1002l-7-3 -3 3 3 4zM1814 1007l-4 1 -6-2 -1-4 7-2 4 4zM1882 1005l-3-3 3-2 2 2zM1886 1011l-3-1 0-4 3-2 2 2zM1934 1007l-7-1 3-4 4 2zM1047 1010l-2 0 1 3zM2411 1010l-5-3 -2 3 2 2zM426 1015l0-4 1 3zM2470 1016l-4-1 -4 2 -6-3 6-2 8 2zM438 1019l0-2 4 1zM1030 1019l-4 2 -6-3 6-3 6 3zM1060 1018l-2-2 -2 2 2 3zM2403 1026l-9-4 -1 4 1 3 4 0zM888 1042l-1-8 3-1 4 1 4-2 8 1 4 4 4-4 -8-6 -12-3 -8 3 -4 7 0 4 4 6zM1874 1031l-4 2 -3-7 6 0zM422 1039l-10-9 6-1 9 5zM1854 1051l-4-9 -12 1 -3-5 3-1 4 3 4-9 4-2 8 6 7 11 -7 2zM2388 1030l-3 0 1 2zM614 1034l0-1 4 1zM2394 1034l0-1 -1 1zM1870 1040l-1-2 1-3zM915 1050l6-4 -3-4 -4-1 -4 9zM1866 1046l-3-4 3-2 3 2zM691 1062l3-4 -4-4 -2 4 2 7zM2364 1054l-3 0 1 4zM982 1063l-2-1 2-3 2 3zM446 1070l-8 2 -4-6 8-2zM990 1067l-6-1 2-2 4 0zM886 1087l-7-5 0-4 7-5 4 5zM1063 1078l5-4 -2-2 -4 0 -2 2 0 4zM974 1080l-2-2 3 0zM2238 1079l-2-1 2-1zM701 1090l-3-9 -4 0 0 9 4 3zM935 1082l-1-2 -3 2 3 2zM2222 1084l-2-2 2-2 3 2zM2198 1113l-7-3 5-12 6-4 0 12zM2266 1101l-2-3 2-1 2 1zM2262 1107l-2-5 2-1 3 1zM570 1134l-12 2 -4-3 -4 0 -4-5 -4 0 -6-6 -4-16 6-2 4 1 4 5 16 8zM1015 1122l-2-4 1-4 12-9 -12 4 -8 8 0 2 8 5zM742 1119l-4 1 -1-2 5-1zM526 1147l-4-4 -4 1 -3-2 0-4 3-6 8-1 -2-5 5-4 1-4 1 4 -1 4 2 4 -4 8 0 8zM1006 1150l2-4 -9-8 -3-12 -6-5 -5 5 5 8 7 4 2 4 -2 4zM1040 1122l-3 0 1 2zM402 1131l-5-5 5-2 3 6zM434 1135l-7-5 0-4 3-1 4 4zM1048 1126l-2-2 -4 2zM410 1131l-3-1 3-1zM1044 1150l-2-4 12-5 3 1 1 4 12-3 2-9 -2-2 -4 4 -4 0 -4 6 -3-8 -5-3 -4 3 -12-2 -2 2 -1 12 7 7 4 1zM2239 1142l-1-4 -1 4zM554 1159l-4-2 -4-7 0-4 4 0 4-4 4 1 2 3zM538 1147l-2-1 2-1zM514 1152l-2-2 2-3 2 3zM542 1159l-12 0 -5-5 5-6 4 10 10 0zM940 1162l3-4 -1-5 -6 5 -1 4zM1031 1158l-5-5 -2 1zM1207 1158l3-5 -3 1 -2 4zM462 1175l-7-5 7-8 -2-4 6-3 4 6 7 1 -2 4 1 4 -2 3 -8-2zM1046 1170l-1-4 -6-4 -1-6 0 12zM1085 1158l-3-3 -1 3zM526 1179l-6-1 -1-8 7-6 4 2 -1 4 2 4zM1180 1170l1-4 -3-2 -6 6 2 3zM1232 1182l4-4 0-4 -6-2 -4 6 4 6zM1176 1178l-2-2 -3 2 3 2zM1206 1180l-3-2 3-2 2 2zM638 1194l-4-8 0-5 8 1 3 4 0 4zM470 1187l0-3 1 2zM510 1195l-4-5 4-5 3 5zM458 1202l-4 3 -4-3 -2-8 6-4zM482 1196l-3-2 0-4 3-2 2 2zM498 1198l-6 0 -1-8 3-3 4 5 4-4 3 2zM626 1208l-20-4 -2-6 6-7 4-1 4 4 16 2 4 5 6 1 -2 4 -4-4zM1240 1202l-2-8 4-5 -12-1 -5 6 4 4 1 6 8 1zM1234 1197l-3-3 7 0zM402 1219l-12-1 -2-12 2-5 4 4 8 0 7 5 -3 4 -4-2 -3 2zM722 1222l-24-5 -12 3 -1-10 5-4 8 1 8-3 16 4 3 2 0 8zM414 1218l-4-4 1-4 3-4 4 0 3 4zM454 1210l-5 0 1-3zM754 1229l-12-3 -4 3 -8 1 -3-4 -1-8 8-8 4 0 4 0 -1 4 5 6 4-2 4 2 4-4 3 2 2 4zM1232 1210l-2-2 -2 2 2 3zM950 1219l-4-5 8-3 1 3zM414 1250l-6-4 4-8 -3-8 9-5 4 12 5 1 -5 5 -4-1 -1 8zM998 1231l-8 2 0-3 8-6zM398 1259l-1-5 -11-8 4-7 4 5 8 3 4 6 6 1 -6 0zM1274 1246l0-6 3 2zM418 1256l-2-2 2-4 2 4zM414 1261l0-5 2 2zM758 1287l0-2 2 1zM1214 1313l-1-7 1-6zM1062 1307l0-2 1 1zM1038 1336l-4 0 -8-7 -2-3 2-3 12 8 1 3zM1294 1333l-2-7 2-2 3 2zM1094 1363l-8-3 -5-14 1-5 8-4 5 5 2 8 1 8zM1042 1379l-2-5 2-1 3 1z"/>
<path fill="#FCA852" d="M1162 1299l-4 3 -8-1 -5-7 1-4 -8 5 -4-1 -8 7 -8-2 4-5 -8-4 -13-16 -5-16 2-4 -4 3 -8-6 -4 6 -4 0 -5-3 -3-4 -4 3 -4-4 -4 1 -8-8 -12-3 -12-13 -6 0 -6-6 -4 2 -4-4 -4 5 -12-10 -2-3 2-4 -7-4 0-4 -5-4 -28-7 0-4 3-1 -3-5 -8 1 2-8 -2-4 14-12 -2-4 -8 4 -4-8 -8-4 4-6 16-4 8-10 16-2 4 2 10 20 10 10 11 2 -3-2 0-4 8-8 2 2 0 4 -4 4 -1 12 -3 4 5 4 -3 4 8 2 8-6 1 4 6 4 1 4 2-4 14 0 4-4 20-8 4 2 5-2 12-16 -1-4 5-4 -1-4 2-8 -2-1 -8 5 3 12 -3 5 -4-3 -4 3 -8-2 -1-3 1-8 5 0 -17-16 -1-4 5 3 4-2 0-4 -4 2 -8-9 -4 0 -2-2 3-4 -8-8 11-3 4-6 8 5 8 0 4 2 1-10 5-4 -2-3 -4 3 -8-5 -4-11 4-5 -13-7 1-4 -4-4 3-12 1-1 4 3 3-2 -5-8 2-1 1-7 -9-4 8-3 12-7 4 2 8 10 6-6 -9-4 10-4 1-4 -4-2 -8 6 -4-4 -8 6 -5-2 2-4 -8-4 7-2 1-2 -4-4 3-3 4 2 8-14 12-2 2-7 -3-4 3-4 -2-3 -8 1 -4 4 -4 0 -4-4 -4 1 -4-4 -13 5 -7 7 -4 1 5 4 -7 4 1 24 -3 4 -8 5 -4 0 -2 3 2 4 4-3 6 3 -14 6 -8-3 -12 8 -4-3 -4 1 -3 3 3 4 4-8 3 8 -7 7 -4-3 -8-1 1 5 4 4 -5 9 -4-5 -1 12 4 4 -15 3 -4-3 2-4 -10-2 -3 2 -1 4 -4-1 -3-3 6-4 -3-2 -8 6 -4-4 -4 3 -3-3 1-4 -6-4 -13 0 2-4 -1-8 -8-2 -8-7 -8 3 -4-1 -4 2 0 9 -8 14 -8 3 -5-1 -11 10 -20 2 0 4 -12 4 -8 7 -4-4 -4 1 -4 7 -8-8 -14-7 5-4 -3-4 -7 12 -5 1 -4-3 -4 4 -12-1 -8-7 -4 0 -12-11 -2 1 1 4 -11 5 -7-5 3-4 0-4 -2 4 -16 4 -1 8 3 5 8-11 4 2 0 4 4-3 3 3 -4 8 2 8 -1 8 -4 3 -4-10 -4 0 -1 3 6 32 -13 20 3 4 -3 4 4 8 -1 8 -5 4 -1 8 -5 3 1 5 -5 4 -7-4 5-8 -2-4 3-4 -4-4 2-8 -5-4 -1-4 2-28 -1-4 -4-1 -6-7 -8-32 -9-4 3-2 0-3 -4 4 -8-23 -13-12 -1-8 -5-4 0-4 -9-11 -5-1 -3-8 1-4 -5-7 -10-5 -5-8 -3-16 -5-8 0-4 -5-7 -8-4 2-5 -5-4 -1-8 -9-4 4-4 -4-4 -3-6 2-10 -2-6 -17-18 -3-2 -8 3 -4-1 -6 4 0 8 3 4 -7 12 -3 16 4 16 -7 6 -8-3 -5 5 0 4 -3 4 -4-6 -12-5 -4 3 3 4 -4 4 6 4 3 12 -4 3 -8 0 -12 10 -12-5 -5 8 5 4 -8 12 -4 0 -4-2 -4 4 -1-6 -3-4 -4 8 -4-1 -8 6 -4-1 0-11 9-5 -1-3 -8 2 0-612 2625 1 -1 790 -8-2 -28-20 -35-20 -13-5 -16-11 -44-22 -36-13 -37-5 -35-17 -6-11 1-4 5-7 2-13 8-12 7-20 -2-4 1-4 4 0 2-4 -2-20 11-12 0-4 -9-12 -2-11 -4-1 -8 5 -8-1 -4-3 -4 2 0 5 -4 2 -4-1 -12 17 -12-1 -16 17 -16-7 -24 12 -1 5 -7 6 -8 3 -12-2 -4-7 -12-9 -12 0 -16-5 -8 12 -4-7 -4 4 -12 0 -8 5 6 4 -2 6 -12-7 -8 3 -24-2 -4-5 -4 3 -4-3 -8 0 -8 5 3 12 -5 8 -6 3 -16 22 -9 3 -3 8 -5 4 -4 8 -7 9 -19 15 -5 8 -8 4 -16 15 -4 2 -4-1 -9-8 18-16 -4-4 -1-5 4-3 8 2 12-7 9-3 -2-4 8-4 3-8 -3-4 1-4 4-3 4 4 4-6 4 0 16-15 0-12 -8-1 0-5 4 1 4-4 8-1 4-7 4-2 12-1 2-4 -2-6 -12-4 -3 2 -1 6 -8 5 -4 1 -4-7 -4 1 -5 6 1 4 -11 12 16 12 -5 6 -4-5 -4 0 -16 15 -4-1 -7 5 -5 4 0 4 -9 16 -11 8 -2 4 -6 2 -8 9 -4-4 -6 5 -2 4 7 12 -7 1 -4 3 8 3 4-6 4 1 3 2 0 8 -3 0 -17 28 -19 8 -9 0 3-4 -2-1 -8 1 -8-3 2-5 -6-8 8 0 3-12 1-2 4 1 2-7 6-7 4 4 11-5 -3-1 -4 4 -5-11 -7-3 -4 4 -8 2 -8-2 -8 3 -4 0 -3-4 7-11 4-1 4 5 2-1 14-12 2-4 -3-8 -11-16 5-4 1-4 -2-4 4-3 4 5 4 1 3-3 -1-4 -10-1 -4 5 -4 1 -8-4 -8-8 -2 3 -6 2 -11-6 -5-6 -8 11 -14-17 4-8 -2-13 -6 1 -2 2 -4-3 -3 9 2 4 -3 4 -10-4 -2-9 -2 5 -6 3 -4-7 3-8 -3-4 -16 3 -3-3 -1-9 -4-1 -8 2 -8-2 -4-4 -3 2 5 4 -2 3 -4-1 -4-2 4-4 -4-2 -4 4 -4-2 -8-16 -12-4 -4-7 -8-2 -1 5 -16 12 -4 8 -3 2 -8-5 -4 1 -4-8 -11-2 -1-4 -4 0 -4-5 -8 7 -12 5 -14-3 6-1 2-3 -2-2 -12 2 -4 6 -16-4 -4-2 3-8 -7-14 -6 2 0 4 5 4 -3 7 -4 1 2 4 -6 5 -4-1 -4-12 9-12 -3-4 2-4 -4-3 -4 5 -8-6 -4 4 -6-4 -2-6 -8 3 -4-1 -4 4 -4-4 4 4 -13 8 -1 12 -2 2 -4-8 -8 1 -16-8 -2 5 5 8 5 2 5 6 0 4 -5 2 -4-2 -8 2 -4-2 -1-8 -11-11 -11 3 -5 8 0-9 7-7 -15 2 -8-9 -8 12 -4 2 -20 3 -4-8 -14 6 -2 4 -8 4 -12-3 -4-7 -4-1 0 11 -7 4 2 4 -3 2 -12-6 0-9 -8 2 -5-1 -3-3 0 16 -8 4 -5-1 -3-9 -12-1 -8 2 -3-12 -17-12 -2 8 -5 4 -9 20 8 1 1-5 3-2 6 2 1 8 -7 9 -24-8 -8 14 -2-7 1-4 -4-8 3-4 -1-8 2-4 -3-4 -4 8 -16 3 -4 6 -8-8 -12-2 -4-4 -8-3 -8 12 -3-4 -5-1 -7 5 -1 4 3 4 -3 2 -12-4 -10 6 -2 16 -4 11 -4 0 -5-3 0-8 -7-5 -8 15 -8-1 -8 3 -10 8 -1 4 5 12 -5 8 -1 8 -4 2 -8-11 -8 1 -8-5 -8-2 -4 7 2 4 -2 4 4 4 -4 1 -7-5 -1-8 -4-8 -1 4 -5 4 3 8 -5-2 -3 2 1 4 -7 8 -5 16 -4 4 -6 12 -8 8 -4 10 -4 3 -5-1 -11 12 0 5 -6 3 -4 8 -6 1 -1 3 -5 4 -2 8 -5 0 -5 12 -3 0 0-4 -3-2 -13 2 2 12 7 4 0 4 -10 12 8 8 -3 8 -3 3 -9 1 -1 8 -5 8 2 4 -3 8 -8 4 3 4 -7 1 -4-3 -4 5 -4 1 -5-4 1-7 7-13 1-4 -3-4 3-7 4 5 6-2 -9-4 -1-4 -8 8 -8-1 -11-11 3-4 -8 3 -8-4 -2 5 -10 5 -4 2 -4-2 -8 5 -4-1 -4 3 -5 4 -6 12 1 4 -4 4 10 4 -4 1 -1 7 -3 4 4-2 8-9 3 3 -1 8 -10 12 2 4 13 8 3 8 -7 4 2 8 -9 16 -8 32zM960 858l3-4 -1-3 -6 7 2 2zM1966 874l0-4 -2-4 -4 0 -1 4 3 8zM732 882l3-8 -1-4 -8 8 1 4 3 3zM954 882l0-9 -4-2 -5 3 1 4 4-1zM1726 882l0-8 -4 7 -5 1 1 2zM1715 894l-1-3 -3-1 -1-8 -1 12 5 3zM1942 895l-8 1 -7-10 3-3zM1727 894l-1-2 0 3zM1834 900l-3-2 3-7 2 7zM2088 910l9-4 0-4 -11 0 -1 8zM455 918l-2-4 2-8 -5-1 -1 9zM1798 916l-8 0 -3-2 7-6 8 2zM1694 928l-6-6 2-9 9 9zM408 934l-3-4 5-3 6-1 7-8 -1-2 -8 9 -4-4 -4 4 -8 1 -3 4 3 3 4-2 2 3zM475 922l-1-5 -6 1zM1513 926l-4-4 -1 4zM1546 923l-2-1 2-4zM1682 927l-8-1 -5-4 5-2 4 5 4-4 2 5zM1718 934l-8 0 -6-4 10-12 12 0 4 4 -4 5 -4-1zM1578 927l-4-1 8 0zM2170 926l-4-3 -3 3 3 3zM1590 931l0-2 3 1zM430 946l4-2 0-5 -3 3zM1622 944l-3-2 3-2zM2547 942l-5-2 -2 2 2 3zM412 946l-3 0 1 2zM1618 948l-3-2 3-4 3 4zM2267 950l-1-6 -4 3 0 4zM1070 953l-2-3 2-2 3 2zM1742 954l-9-4 9 0zM2217 950l-3-3 -2 3 2 2zM420 962l2-7 4 7 7-4 -3-3 -16-2 -3 9 7 2zM2387 970l-4-4 9-12 -2-3 -4 4 -4-2 -1 1 2 4 -6 4 7 8zM2506 954l0-2 4 2zM2362 970l-5-12 -7-4 -2 8 6 8 4 2zM2238 972l-4-2 1-4 -2-4 1-3 5 3 3 8zM1066 989l-4-5 -4 1 -6-3 5-8 8-4 -3-2 0-4 4 2 0 4 6 4 -8 4 5 4zM1141 970l1-4 -4-2 -1 6zM2351 986l0-8 -4-4 -5-4 -8 2 -3 6 3 5 8-3 3 2 1 5zM412 974l-2-2 -5 2 1 2zM1108 986l-6-5 4 7zM1434 990l-2-4 2-3 4 3zM2377 994l-2-4 3-3 0-3 -5 10zM1062 991l-4 2 -2-3 2-3zM2339 994l-1-5 -4 1 -3 4 3 3zM1030 994l-9 0 5 3zM1046 1003l-6-5 6-6zM1107 998l0-4 -4 0 2 4zM606 1026l-3-4 3-7 6 7zM1093 1026l1-4 -5 4zM1100 1034l2-8 -4 0 -5 8 5 3zM735 1034l-1-5 -4 0 -4 5zM902 1054l-2-4 -6-4 -2-4 6-8 8 1 6 7 0 4 -6 7zM1127 1046l-1-2 -2 2 2 4zM803 1062l-1-12 -4 4 2 4 -4 4 2 3 4-1zM934 1059l-5-5 1-5 4 3 4-1 0 7zM1107 1054l-5-7 -2 7zM2323 1050l-1-3 -3 3 3 2zM1115 1066l3-1 4-6 4 1 0-5 -8-3 -6 2 -2 4 6 4 -3 4zM2274 1067l-9-1 5-6 4-1 5 3zM1050 1067l-2-1 2-1zM2286 1066l-6 0 2-2zM1118 1078l-12-9 -4-1 -2 2 6 8 4-1 4 4zM962 1107l-4-1 -4-9 -4 2 -3-5 8-8 -3-8 -4-4 2-1 4 0 4 5 4-1 8 9 -2 8 3 8zM802 1111l-4-5 -5 0 3-12 6-7 2 3 10 1 0-3 -4 1 -3-3 7-9 4 6 8-3 3 2 1 4 -4 4 -4 4 -4 1 -4 7zM1070 1081l-1-3 1-1 4 1zM886 1083l-2-1 2-3zM1112 1086l-6-7 -1 3 5 5zM946 1093l-10-3 2-7 10 7zM706 1091l-3-1 3-4 3 4zM790 1094l-1-4 5 0zM922 1102l-4 1 -3-5 7-6 4 2zM1042 1110l-4-4 1-4 3-3 4 2 4-6 7 7 -7 6 -4-1zM562 1136l-4-2 -4-6 -4 1 -7-7 -1-5 -4 0 -4-7 2-4 5 0 5 8 11 4 0 4 5 3 2 5 0 4zM1284 1106l-2-2 0 4zM2214 1195l-4 3 -4-1 -4-7 -8 0 4-5 7-3 1-4 4 0 -1-4 6-4 -2-4 9-8 3-8 9-11 4 6 5-7 -4-4 11-7 8 4 9-1 3-16 8-3 12 0 4 4 12 3 -2 4 7 4 -5 1 -9 15 -7 4 -8-3 -8 7 -4-5 -8 5 -1 4 -11 13 -5-1 1-4 -8-1 -3-3 4-4 -5 3 -4-4 3 5 -1 4 4 4 -6 5 -8 2 -5 5 3 4 -7 8zM1054 1120l-2-2 2-3 4 3zM1006 1131l-4 1 0-6 -6-4 2-4 5 4 -1 4 6 4zM1079 1126l-1-2 -4 2zM1092 1126l-2-2 -2 2zM690 1144l-4-2 4-1zM1273 1142l-3-3 0 5zM1268 1154l-3-4 -4 0 1 5 4 2zM1226 1198l-4 2 -4-1 -5-5 -2-8 3-12 -7-12 7-10 8 1 -3 5 7 4 1 4 -5 4 4 12zM1242 1171l-4 0 -4-3 -3-6 3-3 10 11zM1190 1168l-2-2 2-1zM2227 1166l-1-1 -1 1zM642 1191l-4-1 0-4 4-2 2 6zM1041 1198l-4-4 4-8 -3-4 -8 3 2 9 6 5zM626 1206l-4 1 -16-4 -1-5 5-6 4-1 4 4 12 1 5 6zM2198 1201l-1-3 1-1zM642 1203l-1-1 2 0zM2214 1205l-3-3 3-1 2 1zM1258 1209l0-5 3 2zM722 1220l-4 2 -20-6 -4 2 -7 0 -1-8 4-3 12 3 4-3 16 1 2 2zM738 1228l-8 1 -2-3 -1-8 7-7 4 0 7 11zM950 1218l-1-4 5-1zM754 1228l-10-2 6-7 4 2 4-4 3 5zM1250 1219l-4-1 4-1zM1254 1236l-4-3 -4 3 -2-2 1-4 8-4 -2-4 3-3 8 7 -7 4zM1262 1244l-5-6 6 0 1 4zM1266 1264l-10-10 2-7 15 3 -1 4 2 4zM1246 1299l-3-1 5-8 -11-4 1-7 2-1 -4-12 3-8 11-4 10 12 -7 12 0 8 -2 4 2 4zM1038 1335l-4 0 -4-3 -5-6 1-2 12 8zM1094 1362l-8-4 -5-12 1-4 8-3 4 3 3 8 0 8z"/>
<path fill="#FC9430" d="M1158 1300l-8-3 -4-10 -8 5 -4-2 -4 2 -12-10 -4 3 -11-15 -3-20 -18-2 -8 5 -4-5 -4 1 -24-12 -4 0 -12-12 -8-2 -4-5 -4 3 -4-5 -8 0 -2-2 2-2 0-3 -4 4 -4-3 2-4 -12-12 -28-8 3-4 -6-12 9-11 4 4 4-1 -9-16 1-8 -2-4 2-3 4 3 8-10 4 4 4-3 11 17 11 8 2 6 4 3 5-1 -3 16 1 4 5 6 2-2 -4-4 6 0 4 8 -2 4 5 4 5 1 8 8 5-1 2-4 -3-4 4-2 4 2 -1-4 5-5 4 4 4 0 4-8 4 3 3-2 1-6 4 1 -4 13 -4-1 -4 7 -4-6 -2 4 -1 4 11 2 6-10 2-1 4 4 4-5 5-2 -2-4 4-4 -1-4 11-4 5-8 -4-12 2-7 5 3 13-12 -6-6 -4 6 -1-4 -11-5 -4 1 -2-8 -6-4 -2-8 2-2 4 5 2-3 -2-8 -4 3 -8-3 9-4 -1-4 2-4 2-2 16 8 2 2 2 10 4-3 4 10 4-2 2-11 6-2 4-5 8 9 6-2 -2-4 -4 3 -8-8 -12 3 -2-2 -2-4 9-8 -8-12 9-12 -4-4 0-4 2-4 5 0 -5 0 -4-7 -5 3 4 4 -6 8 -5-1 -2-3 1-4 -7-4 -2-4 8-4 2-4 -8-2 -7-6 7-3 4 3 4 0 -4 0 -4-9 -5 1 1-4 -4-4 8-2 4 6 8 1 -2-5 2-3 8-1 -3-8 -5-2 -8 1 0-3 3-4 -6-4 3-4 -8 4 -2 4 6 8 -8 0 -4 3 -4 1 -11-12 7-10 8-3 4 3 4-1 -3-5 4-4 0-4 7-4 4 3 6-7 -6-6 -4 0 -4 3 -4 0 0-5 4-4 4 2 1-2 -4-4 -9 1 -8 7 -4-2 -4 3 -12-7 -2 2 4 4 -10 3 -4 0 -4 2 -8-2 2 5 -10 8 0 5 -9 3 9 6 0 20 -1-6 -3-2 -4 1 -4-4 -13 17 3 0 2-3 8 4 3 7 -3 4 -4 0 -8-5 -2 1 3 4 -5 3 -4 0 -4-4 -4 3 -4-4 -2 2 2 4 -17 16 -3 11 4-2 1 3 -5 5 -4-3 -4 3 -24-5 -4 3 -12-9 -8 1 -2-3 2-4 -4-9 -8 1 -8-11 -8 4 -4-2 -4 3 -4 12 -12 6 4 4 -12 3 -8 6 -20 5 -8 11 -4-3 -8 0 -2-10 -8-4 2-4 -8-2 -8 2 -4 4 -4-3 -3 3 -1 5 -12 0 0 5 4-5 1 7 -9 2 -8 5 -17-11 2-4 -6-4 -1-8 6-1 5-7 0-4 -5-10 -8-3 -8 17 -4-1 -4 4 -7 1 -1 4 4 2 3-2 5-7 4 0 4 2 1 5 -6 8 0 8 -3 1 -6-1 3-4 -5-6 -8 7 -11 3 -2 4 0 4 5 6 3-6 5-5 4 7 4-4 2 2 -4 8 2 8 -4 9 -4-10 -4 1 -2 4 -1 4 7 28 -13 20 3 4 -3 4 4 8 0 4 -9 12 1 4 -3 1 -1 7 -3 3 -6-3 6-8 -1-4 4-4 -7-4 2-8 -5-8 4-16 -3-4 0-8 -2-5 -4-2 -4-5 0-4 -3-4 -3-12 -1-12 -13-12 -16-30 -9-10 1-9 -4 3 -6-6 0-4 -5-4 -9-20 -5 0 5-1 0-3 -4-1 -4 4 -5-7 -3-16 -6-8 2-8 -4 1 -10-9 2-4 -6-4 0-8 -5-4 1-4 -9-12 2-8 -3-8 -6-4 -6-16 -4 3 -4-5 -8-3 -2 5 -8 4 -3 4 3 4 0 12 -8 16 0 12 4 12 -6 4 -4 0 -11-12 -5-1 -11-7 -4-8 0-8 -9-10 -1 2 4 4 -2 8 3 4 -2 4 -2 2 -8-8 -1 6 -5 4 6 3 4-2 3 3 -1 4 11 8 -5 9 -4-1 -2-4 1-4 -3-1 -4 2 -6-5 -6-14 -8 6 -8 1 -12 10 -4-3 -4 4 -8 3 0-564 2625 1 -1 786 -7-2 -29-21 -27-15 -20-8 -17-12 -72-36 -4-5 -8-1 -11-6 0-16 -3-8 -1-12 -6-12 -6 0 1 8 -4 8 6 2 5 6 -5 9 -4 2 -8-3 -2-4 3-8 -2-8 -11-4 -3 4 1 12 10 12 -4 4 -8 0 -4-2 -2-10 4-8 -5-4 1-4 2-3 8-3 3-6 11-56 9-24 11-16 4-12 0-8 -6-4 -2-12 -6-4 -12-1 -8 5 -4-3 -5 7 -27 13 -4 4 -20 2 -4 5 0 11 -4-1 -8-7 -8 0 -16 11 -12-9 -4 0 -8 3 -3-4 5-4 -2-7 -12 13 -12-4 -13 6 -11 12 -4 10 -8-6 -8-1 -8 6 -12 1 -3-2 4-4 2-8 -3-6 -8-2 -10 8 -10 14 -16-3 -4 6 -20 14 -8 1 -4-4 -8 2 -8-1 -12-8 -4 4 -9 3 2 4 -1 2 -4-1 -3 3 1 4 -8 8 2 4 -4 5 -4 4 -4-1 -4 8 6 4 -3 4 -3 3 -4-1 -2 2 1 4 -7 3 1 5 -10 4 -5 12 -6 6 -5 2 -7 14 -4 0 -8 9 -8-3 -5 8 0 8 -7 5 -6-5 -2-8 -5 0 2-8 4-4 -1-2 -4 2 -1-4 5-5 12 2 5-5 -2-4 13-19 4 1 7-6 5 0 3-12 5-4 -3-4 1-4 8-4 4-20 8-4 2-4 0-4 -4-2 -4 2 -20-4 -4-10 -12 12 -6-6 3-4 0-8 -6-4 2-4 -2-16 9-9 2 1 1 4 -5 4 6 4 1 16 8 0 3-4 0-8 5-8 -2-4 5-4 1-4 1-8 -2-4 -6 4 -6 11 -4 2 -12-9 -8 3 -4-4 -5 1 5 5 3 7 -3 3 -12 1 -7-4 3-3 7-1 -3-2 -4 0 -5 6 -9 4 4 4 -2 6 -4 2 2 4 -6 4 -2 0 2-8 -3-8 4-4 -9-1 -4-7 4-3 8 1 10-6 -3-4 2-8 -5-2 -12-1 -3 3 -2 16 -15 9 -5-1 -3-12 -12 1 -8-9 -12-1 -4 9 -4 0 -4-5 -4 0 -8 5 -3-8 3-2 4 1 0-3 -7 0 -6 8 3 8 5 4 4 8 -7 6 -5-2 -2-8 -7-16 -7-8 1-10 4 4 0-5 -4-1 -4-5 -8 2 -8 9 -4 0 -4-5 -8-1 1 4 -21 9 -2-1 0-4 -2-3 -4 2 -4-2 -5 7 8 8 -3 6 -4-2 -4-7 -4 1 -8-3 -4-3 3-4 -3-1 -20 1 -8-5 -6-11 -6-1 -8-5 -8-1 -4 1 -8-7 -8-2 -8-6 -8 4 -8-3 -1 4 2 4 11 4 -3 8 -5 1 -12-16 -16-5 -4-5 -13 5 -5 8 0 8 -2 4 -4-1 -4-7 -4 1 -4-3 -5 2 2 4 -5 4 -8-2 -4 4 -15 2 1 12 -14 5 -5-5 0-4 -10-8 -5-8 -12 4 -10-8 13-12 -3-7 -8 0 -4 3 4 2 2 2 -2 1 -12-1 -4 2 -7 6 2 4 -3 3 -8-1 -8 2 -4-4 -16-6 -8-12 -4 0 -3-14 4-4 -1-2 -4 5 -8-3 1 12 -5 5 -6-5 -6-1 -8 8 -4-1 -3 2 6 4 -3 3 -5-3 -1-4 -2-1 -8 4 -2 9 -2 3 -4-3 -6 12 9 4 -7 14 -8-5 -5 3 1-16 -4 2 -2-2 2-4 8 2 3-2 0-8 -3-1 -16-1 -8 3 -16-4 -4 6 -8 0 -3 1 0 4 -6 0 -4-8 4-4 -2-8 3-8 -1-4 8-8 -6-8 1-4 -2-3 -2 3 1 4 -8 8 -3 16 3 4 -9 12 -1 8 5 8 0 8 -2 4 -4-1 -2-3 1-16 -11 2 -4-4 -4 4 -2 14 -6 5 -4-1 -12-14 -4-1 -10 3 -2 10 -12-6 -8 1 -1 7 6 4 1 8 -2 3 -8-5 -5 2 -3-4 -16-1 -4-9 -8 1 -1 5 6 8 1 8 -5 4 1 8 -2 1 -4-2 -4 2 -12 1 -8 4 -4 6 -5-4 1-8 7-4 -1-4 -6 0 -4 5 -8 4 -8-2 -4 8 -6 1 0 4 -8 4 7 28 -7 8 -2 8 -8-7 -8 4 -4-1 -8-10 -4 0 -5 6 5 2 4 6 -12 12 -2 8 -10 4 -4-6 -8 4 -4-2 -8-1 -12 8 -8 9 -6 0 9 16 5-1 6 5 1 4 -7 16 4 1 1 3 -5 6 -6 2 -1 8 -9 4 8 12 -4 2 -4-4 0 10 -4 7 -12 8 -4-4 -8 6 -8 1 -4 5 -4-2 -1 3 3 4 -3 4 2 4 -4 4 1 4 -5 8 -5 0 2 4 -3 16 -11 6 -4-6 -12-2 -4 1 -2-7 -6-4 2 4 -6 5 -12-2 -4 5 2 4 -2 1 -8-3 -12 6 -4 1 -12 15 -11 4 -3 4 3 8 -3 8 4 16 2 3 4-1 1 2 -5 7 0 7 -4 0 -1 2 1 4 8 0 4-3 8 2 4-7 4 8 -4 1 -2 3 -2 12 -9 8 2 4 -4 12 1 8 -4 12zM607 482l4-4 -1-4 -8 4zM595 530l-1-3 -4 3 4 2zM597 546l-7-9 1 9 3 2zM746 542l-4-2 -1 2zM744 550l-2-2 0 3zM604 554l-2-2 -1 2 1 3zM759 690l4-8 -9-1 1 9zM771 690l-1-2 -1 2zM1680 822l5-4 1-4 -4-2 -3 2 -3 4 0 4zM1860 814l-3 0 1 2zM1662 826l6-4 -2-5 -8-1 -4 2 -4-2 -5 6 5 6zM1997 818l-3-2 0 5zM1774 838l-8 2 -4-6 1-4 5-4 2-6 5 2zM966 862l-3-4 1-4 2-3 4 3 0-6 -4-1 -8-11 -4 0 -3 2 5 8 -6 4 3 4 -4 4 1 2 8 4 4-3zM1838 846l-3-4 3-5 2 5zM1798 860l-6-6 6-12 4-3 4 11 -4 8zM1898 842l-4-2 -1 2zM1495 850l-11 0 2 3 8 0zM716 862l4-4 -2-2 -5 6 1 2zM1482 878l6-4 0-8 2-4 0-4 -4-3 -9 19 5 6zM2242 858l-4-2 -1 2zM744 906l-11-8 4-12 -2-4 4-4 -2-8 -6-4 1-4 -6 0 -2 4 2 4 -10 4 -3 8 1 8 4 1 4-5 2 4 -1 4 11 13zM1300 866l-2-4 -2 4zM1463 874l5-4 1-4 -7-4zM1566 866l-3-4 3-3 5 3zM2054 867l-4 3 -1-4 5-1zM710 874l2-4 -2-2zM927 870l-2 0 1 2zM952 894l5-12 -3-12 -4-1 -7 5 -1 4 -4-1 -4 3 -4-4 -4 2 4 7 10-3 2-3 4 5 4-3 3 9 -8 0 5 6zM2146 888l-4 1 -6-7 10-13 3 5 0 12zM2591 886l7 0 3-4 -7-16 -12 5 -2 3 4 12zM2627 878l-9-11 -3 3 6 4 -3 5 4 3zM2735 874l-2-4 -7 0zM2655 878l-1-5 -2 1 2 7zM1434 890l5-4 -5-10 -7 6zM1501 886l-3-6 -6 6 6 3zM1083 898l-1-4 -12-8 -2 8 -2 2 -4-2 -1 4 1 2 8-1 3-1 1-5 3 5 5 2zM2514 890l-4-4 0 6zM2545 890l0-4 -7 0 2 4zM445 890l-5 0 2 4zM669 950l0-16 6-16 -5-24 -8-6 -3 2 -1 8 9 4 -5 6 -4 1 -4-4 -1 1 5 14 8 6 -4 4 1 16 -3 4 6 2zM887 890l-1-3 -1 3zM2557 890l-6 0 3 4zM423 898l-3 0 2 3zM935 902l-5-6 0 6 4 4zM2302 912l0-3 2 1zM2562 917l-5-3 -1-4 2-2 7 6zM2642 914l-4 3 -6-3 6-5 8 1zM466 914l-4 2 -1-2 5-1zM881 934l-1-8 2-2 4 1 6-3 5-8 -5 0 1 4 -3 3 -4-4 -4 0 -5 5 0 12 1 2zM2342 916l-3-2 3-1zM2338 919l0-5 2 4zM2479 926l-1-9 -4 9 4 3zM462 925l0-5 3 2zM2419 934l-9-13 -3 1 1 4 -3 4 2 4 3 3zM470 927l-4 1 -4-2 4-4 4 2zM703 930l-5-4 -3 4 7 1zM1402 934l-4-3 -2 3 2 3zM1425 938l3-4 -2-2 -7 2 -1 4 4 4zM2370 947l-3-5 3-3 4 3zM398 959l-5-9 1-8 7 4 2 4 1 4zM2450 947l0-3 2 2zM1114 951l-2-1 2-3 2 3zM382 956l0-5 2 3zM1128 958l-3-4 -2 4 3 1zM1380 962l-2-2 -1 2 1 2zM2442 1004l-2-2 2-4 9-8 7-16 7-4 5-8 4 0 -5 12 0 4 -9 8 -2 8 -12 6zM1151 974l-1-9 -4 1 -4-4 -7 4 -1 4 4 2 4 0 4 5zM1146 973l-2-3 2-3 3 3zM1325 982l-5-8 3-4 -1-3 -4 3 -4-2 -4 6 -3 0 7 9 4-8 4 10zM1013 978l-6 0 3 3zM1312 1006l0-4 -3-4 3-8 -10-8 0 6 4 6 0 12zM1078 988l0-4 2 2zM1082 992l-2-2 2-2 2 2zM1118 996l-4 0 -2-2 6-1zM1300 1010l-5-4 4-4 -1-1 -5 5 5 5zM759 1022l4-4 -1-12 -4-1 4 5 -4 14zM1090 1051l-4 1 -2-2 2-4 -15-12 5-4 -5-8 1-8 -6-4 16-8 8 6 6 10 -6 2 -4 6 0 2 5 2 0 4 4 4 -7 4 4 4zM1319 1006l-3 0 2 3zM2377 1006l-3-2 -1 2zM1098 1016l-2-2 2-2 2 2zM800 1034l-2-13 -8-6 -4 3 -1 8 5 1 2 3 -1 4 3 3zM2430 1027l-4 2 -3-7 7-6 3 2 1 4zM990 1023l-2-1 2-2 2 2zM982 1035l-2-5 2-4 2 8zM2378 1073l-5-3 1-4 -1-4 5-5 28-22 16-7 2 2 -5 8 -8 4 -9 11zM2794 1043l-7-1 -1-4 8-7 6 7zM910 1046l-4 4 -4 0 -8-8 4-5 8 0 5 5zM1070 1040l0-4 4 2zM1106 1047l-6-5 2-6 6 6zM835 1046l-1-2 0 6zM1074 1048l-2-2 2-3 1 3zM2341 1046l-3-2 -1 2 1 4zM1110 1051l0-3 3 2zM2294 1058l-5 0 1-6 5 2zM1094 1074l-3-4 3-5 2 1zM2330 1112l-4-3 -23-3 2-4 -2-4 5-4 2-10 6-2 6-12 4 3 8-2 4 5 4 0 4 6 8-5 4 5 -10 16 -6 7 -4-2 -4 2zM1195 1078l-6 0 5 2zM822 1092l-4 1 -2-7 6-5 4 1 3 4zM966 1103l-4 3 -4-2 -6-10 0-4 5-4 -1-4 2-2 7 2 2 8 -1 4 4 8zM1106 1088l-2-2 2-1zM1151 1086l-1-2 -3 2 3 2zM1280 1090l2-4 -4 5zM1165 1090l-4 0 1 1zM1302 1092l0-3 1 1zM806 1106l-4 4 -7-8 3-8 4-3 13 3 -4 4 0 4zM918 1102l-2-4 7-4 -1 4zM1247 1098l-2 0 1 3zM1082 1105l0-7 2 4zM1196 1102l-2-1 0 3zM1196 1122l0-4 -3-4 3-4 -2-2 -4 3 -4-5 -2 4 0 4 7 4 3 7zM1235 1110l-1-5 -2 5 2 2zM542 1114l-5 0 -1-4 2-3zM1136 1114l-2-3 -3 3 3 3zM2246 1158l-8 2 -2-2 2-2 4 0 0-2 -4-2 -4 4 -4-10 4-1 5 1 11-14 4-1 4 2 11-3 1-12 4-3 12-3 17 6 -2 4 2 8 -5 7 -4-1 -1 6 -11-1 -8 6 -4-3 -16 9 -4-6 -2 3 5 4 -3 4zM554 1123l-8-1 0-6 4 3 4-1zM1234 1122l-4-2 -1 2 1 2zM1245 1122l-3-2 -3 2 3 2zM1203 1138l-5-4 0-4 -4-2 -8 4 -4 5 -4-3 4 4 8-3 4 2 4-3 4 6zM1236 1130l-2-2 -1 2 1 2zM1274 1134l0-6 3 2zM1118 1135l-4-1 4-2 2 2zM1164 1138l-2-1 -2 1 2 2zM1147 1150l-2 0 1 1zM2218 1175l-4-1 4-6 8 0 2-2 -5-8 3-4 4 1 2 3 -1 4 2 4 -3 4 -8 1zM1222 1199l-8-5 -1-12 3-4 -7-16 5-5 10 5 1 4 -4 4 3 20 0 8zM2210 1195l-4-8 -6-1 13-8 1-4 0 12zM622 1206l-8-5 -5 1 -3-4 3-4 5-2 4 4 13 2 2 4zM1090 1198l-4-3 -3 3 3 2zM1059 1206l-1-4 -4-2 -2 2 6 5zM718 1220l-12-2 -4-3 -12 2 -2-3 0-4 2-2 8 1 4 4 4-6 16 2 0 8zM738 1228l-8 0 -1-2 -1-8 6-6 8 6 -2 8zM754 1227l-8-1 4-6 7 2zM1270 1259l-8 1 -4-8 4-3 4 1zM1082 1255l-7-1 3-2 4 1zM1246 1284l-9-18 3-8 10-3 8 11 -8 16zM1242 1287l-3-1 3-2 2 2zM1250 1288l-2-2 2-3zM1250 1296l-3-2 3-3 2 3zM1026 1327l0-2 3 1zM1030 1331l0-4 2 3zM1038 1334l-4 0 0-1zM1094 1360l-8-4 -4-10 2-4 6-2 2 2 4 8z"/>
<path fill="#F5CDCD" d="M682 1162l-11-4 2-8 -5-12 7-16 -1-4 -4 2 -3-10 -8-8 1-4 -7-16 0-12 -6-4 -14-20 -18-32 -1-6 -4 2 -5-4 1-6 -5-2 0-4 -9-12 -2-10 -4-1 -4 3 -3-4 -1-12 -8-12 2-8 -2-2 -4 1 -2-3 2-4 -4 3 -3-3 -1-8 -4 0 -2-4 1-4 -5-4 2-4 -9-12 5-8 -4-1 -3-7 -6-4 -4-8 1-12 3-4 -3-3 -20 2 -4 9 -14 4 1 8 4 4 2 8 -9 13 0 16 1 3 4 4 -1 4 -8 2 -5-6 -3-7 -9-1 1-2 4 1 0-5 -4-4 -4 2 0 4 0-4 -3-4 -5-2 -1-6 -5-4 3-4 -5-6 -4-2 -8 2 -4-4 -4 2 -4-1 -4-3 5-8 -5-4 -8 0 0 4 -4 3 -2-3 5-4 -3-6 -4 9 -8-3 -8 3 0 9 -4 2 -4 9 0-520 2625 1 -1 738 -4 11 -4 2 -4-3 1-4 -2 0 1 4 12 18 0 14 -8-6 -15-6 -8-12 0-8 -9 2 -8-7 -19-3 4-4 -1-1 -4 4 -7-7 -9-3 -8-12 -8 3 -8-5 -4 0 -14-7 -2-4 -14-4 -6-8 -4 0 -3-4 -5-14 -8 2 -6-4 -2-19 -5-5 3-8 -5-12 -5 1 -16-8 -6-9 6-8 0-4 -6-4 0-4 8-4 1-4 -6-4 3-8 0-4 8-20 8-9 4 1 4 13 8 0 8 11 8 0 5-4 -1-5 -8-1 -12-9 1-13 3-3 4 3 2-4 -2-3 -8 6 -6-3 -2-8 4-4 -4-12 10-8 1-8 -7-12 2-12 -2-5 -8 5 -4-2 -4-7 -8 2 -9-1 -7 4 -8-1 2 5 -1 4 -13 5 -3 3 -2 8 -3 1 -12-4 -4 3 -4-5 -8 1 -2-8 3-4 0-4 -5 0 -4 4 -3-4 6-8 -3-3 -4 5 -8-2 -3 8 -5 4 4 5 0 4 -16 5 -4 3 -2-5 2-3 8-1 2-4 -2-5 -12 2 -2-1 2-4 -4-2 -7 2 -1 2 -4-1 -4-5 5-4 -1-4 -8 3 -8-4 -4 4 -11-7 -9 0 -4-6 -4 1 -12 13 -1 4 4 12 -7 8 1 4 -5 1 -3-5 -9-6 -8 2 -4 18 -8 6 -5 12 -11 6 -8-5 -8 1 -8 7 -2-9 -6-3 -16 8 -8-1 -4 5 -12 6 -8-7 -4 1 -4 7 -8-3 -9 11 -1 8 -4 8 7 12 -5 2 -8 9 -7 1 4 8 -7 8 3 4 -5 3 -4-4 -2 1 2 4 -6 16 -14 16 2 4 -6 2 -7 6 -1 6 -4 0 -2 6 -11 8 -1 4 -12 4 6 2 1 2 -4 4 -9-1 -4 3 -6-6 6-7 8-2 4-3 -5-12 13-9 4 4 12-3 -8-4 5-16 4-4 0-4 9-8 -2-4 7-16 13-10 4 0 8 7 1-1 -4-4 0-8 -6-4 2-4 5-4 -2-3 -4-1 0-4 8-6 0-4 -12-4 -4 2 0 4 -4 1 -8 6 -6-3 13-8 -3-10 12-6 8-1 1-3 -9-5 -8 3 -1-2 5-16 -4-8 0-8 -4-8 -1-16 -3-2 -12 5 -4-2 -8 1 -12-3 -4 5 -3 12 -9 0 -7-4 -1-8 -8 2 0-8 -8-1 -7-5 0-8 3-3 4 1 0-7 -20-1 -8-8 -15-2 3-4 -4-4 -8 11 -7 1 -5 4 -6 0 2 5 4-5 6 4 -3 4 2 8 -5 0 -4-5 -8 3 -4 4 -8-4 -5 10 -7 3 -5-3 7-8 -2-1 -4 3 -8 1 -1-3 7-8 -1-12 3-5 -5 1 -7 12 -8-9 -16-3 -1 16 -6 12 -5 3 -4 0 -8 7 -11-2 3-5 6-3 1-12 -11-5 -4 4 -3-3 -1-5 -13-7 -7-6 -12 0 -8-10 -1 8 -5 4 -2 8 -8 1 -4 5 -8 5 -8-3 -16 0 -6-4 -2-10 -5 6 3 8 -2 2 -4-4 -8 3 -8-4 -7-1 -6-12 -13-8 -2-4 6-8 -2-3 -4-1 -10 8 4 4 0 4 -6 3 -8 2 -3 3 2 4 -3 3 -6-3 -1-4 2-16 -3-11 -8 0 -3 3 2 12 -3 2 -2-2 1-12 -3-1 -4-1 -8 7 -4-1 -7 4 7 10 8 2 0 4 -4 0 -4 5 -4-1 -4-7 -4 0 -8 8 -12-3 -4 1 -4-3 -12 0 -7-8 -5-1 -12 8 -3-3 -2-8 1-3 10-5 6-12 -4 1 -8-6 -6 1 6 8 1 4 -5 7 -9-7 -3-5 -4-1 -7 10 -13 8 -8-15 -6-1 6-1 3-3 -3-4 -4 0 -4-13 -3-3 1-4 -2 0 -1 4 4 4 -7 5 -12-2 -8 5 -16-3 -4-4 -3 3 -2 12 -7 2 -8 7 -8-5 4-3 2-9 -13-8 3-11 8 9 1-2 -13-15 -8 10 -4 2 -16-1 1-4 -5-4 -1 4 -3 4 6 4 -10 13 -8-2 -4-4 -12-3 -8 6 -2-2 0-8 -6-2 -6 6 1 12 -3 4 1 8 -1 3 -4 2 -1-9 -6-4 9-24 -2-8 -4-1 -5-7 -3-8 2-4 10-1 4 7 4-4 8 3 10-5 -18-2 -1-6 3-4 1-4 -3-3 -10 3 3 8 -7 0 1-4 -11-8 6-4 0-4 -6-4 -20 1 -4 3 2 12 -5 12 6 8 0 4 -8 8 -4 16 5 8 4-1 8 7 12-5 9 3 2 8 -5 8 -2 16 -4 8 -4-2 -8 2 -8 9 -8 1 -4 4 -8 0 -3-2 -1-10 -16-1 -4 2 -11-11 0-8 -9-12 -12 1 -4-2 -2 1 3 4 -4 12 -6 4 5 2 4-5 2 3 -4 8 2 3 8-5 8 5 3 5 -5 8 2 4 4-4 3 4 -7 9 -8 0 -3 7 -9-13 -4 1 -8-2 -4 2 -4 8 -8 4 -3-4 0-8 7-13 5 1 -1 4 4-3 7-1 0-4 -5-4 5-12 -3-2 -8-1 -11 7 -5 10 -8 2 -4 4 -2 8 -7 12 1 6 8-2 -2 8 -6 2 -4 7 -4 2 -8-9 -8 0 -1 2 3 4 -6 6 -4 0 -6-6 2-13 -12 10 -6-5 -6 0 -1 4 -11 2 -12 9 4 5 0 3 -4 1 4 0 2 4 -2 8 -8 1 -3-9 -9-1 1 5 -5 7 -9 1 1 10 1-6 3-3 8 7 4-4 4 1 8 7 4 8 1 12 -13-4 4 11 8-1 1 2 -6 8 1 4 4 3 8-5 4-5 4 7 -8 4 -2 8 4 4 -1 4 3 4 -12 3 4 3 0 4 -12 8 -4-4 -4 2 -12-4 -8-8 -4-1 -10 13 2 3 4-5 4 6 -12 7 -2 9 -12 8 5 4 -9 8 3 4 -6 20 6 4 3-16 3 8 0 8 -3 4 12 8 -4 4 4-4 4 2 4-7 6 9 -2 5 -8 5 -4-1 -8 5 -2 6 -11 8 1 4 4 0 4-5 4 2 4-16 8 0 4 1 8 8 1 10 -1 4 -8 4 -12-2 -4-3 -8 0 3 5 -7 2 -6 6 -4 16 -3 4 2 4 0 4 -6 8 0 8 -3 4 2 4 -2 4 -4-3 -4 2 -8-3 -4 0 -6-4 2-3 4 2 -2-11 6-1 0-4 -7-3 8-4 0-8 3-4 -4-6 -3 2 2 8 -5 4 -2 7 -2-3 1-8 -3-3 -8 7 2 4 -2 4 4 12 -4 2 -4 6 -12 0 -8-4 -6-8 2-5 5 1 -4-4 1-4 10-8 -9 0 -3-7 -3-1 -1-9 0 9 -4 7 -13-3 0 8 11 12 -6 4 -4 0 -4 8 -6 0 -3-4 8-4 -6-4 3-5 -12-2 -4 6 -6-7 8-8 2-7 6-1 -3-4 5-1 4 2 0-2 -1-3 -7-3 -4 4 -4 0 -2-1 0-8 -9-4 4-4 0-8 -2-4 1-4 -4-6 -4 5 -7-7 -1-5 6-3 -6-3 -4-7 -5 2 -3-4 5-8 -7-4 15-20 -6-8 1-4 -5 0 -7-12 -4-2 -4 4 -3-2 1-4 -3-4 4-8 5-2 12 8 8-4 0 13 12 1 2 4 -3 4 9 3 12-15 -4 4 -5-8 7-8 -2-1 -12 7 -12-12 -4 5 -6-7 4-4 -6-1 -3-3 3-8 -4-3 -12-1 4 0 4-9 -4 3 -4-3 -8 9 -4 0 -16 8 -8-4 -4 1 -4-6 -1 5 5 6 0 3 -11-5 1-4 -2-1 -8 1 4 8 -4 1 -5 7 -7 3 -4 7 -8 3 -4 9 -14 6 5 8 -3 5 4 0 4 3 -4 7 -4-1 -3 2 1 4 -6-1 -4 2 -3 3 0 4 -5 4 -8-2 -4 2 4 2 4-1 0 3 -8 4 0 8 -16 9 -16-3 -4 3 -16-9 -6-8 0-8 -6 0 -2-4 -6-1 -12-14 -2 7 -8 8 -6 11 -12 3 -2 2 2 5 -4-1 -8 9 -4-2 -3 1 0 4 -5 0 5-12 -5-5 -5 1 0 4 -3 3 -1 5 3 4 -10 13 -8 0 -3-5 -1-8 2-4 -2-2 -4 3 -3-9 5-4 -2-10 -4 3 -12-20 -9 3 1 9 -12 6 -4-3 1-4 2-4 -1-4 6-8 -4 2 -8-6 -1-4 3-4 -6-4 -12 0 -3 4 8 8 -2 8 3 4 -3 4 1 3 3 1 -11 1 2-5 -2-1 -8 0 -4-2 -8 7 -4 9 -8-1 -8 4 -1 12 5 4 -8 8 -12 4 -4-3 -1 3 3 8 6 7 4-8 4-2 5 7 2 12 -3 6 -4-8 -4-1 -3 3 -1 8 7 28 -7 12 -4 0 -3 8 4 4 -5 8 5 0 1 8zM611 486l3-4 -2-8 4-4 -10 0 -8-4 4 8 -5 8 1 6 4-8 4 5 4 3zM495 474l-1-2 0 5zM600 494l-2-3 -1 3 1 3zM613 498l-3-2 -2 2zM646 518l7-4 -7-1 -4-3zM698 514l-4 0 4 4zM590 590l4-9 8 3 8-8 4 5 2-3 -10-9 -2-7 2-2 8 7 4-1 7-8 5-1 5-7 -5-9 -4 0 -4-5 -4-1 -1 7 2 8 -9 4 0 6 0-6 -6-8 0-4 -2-3 -8 0 -6-5 6 0 4 3 4-5 4 5 2-3 -8-8 2-5 -4 4 -12 1 -2 4 2 8 -2 4 4 4 -4 8 4 8 -6 7 -4-5 -1 2 2 4 -1 6 8 16zM695 522l-1-3 -3 3 3 2zM598 532l0-4 2 2zM624 530l-2-2 -1 2 1 2zM631 530l-1-2 -2 2 2 1zM742 554l7-4 1-8 -8-7 -4 3 0 8zM647 582l1-4 5-4 -7-11 -4-1 -4 2 -1 6 4 4 4 8zM503 582l-2 0 1 2zM575 582l-1-1 -2 1 2 2zM1124 630l-2-1 -2 1 2 2zM1467 662l-1-4 -4 0 2 4zM782 702l0-4 -4-1 -4 3 -4-6 5-4 -3-4 3-4 -1-4 5-4 -1-2 -8 5 -6-3 -2-7 -8-2 -4 5 -10-4 1 4 5 0 3 4 -7 4 1 8 7 12 5 0 -5 0 -2 4 2 2 8-3 4 3 7-2 1-2 4 2 4-4 4 6zM772 670l-2-4 -3 4zM736 670l-2-1 0 3zM1594 679l0-6 2 5zM770 683l-4 1 0-2 4-1zM766 692l-4 0 -1-2 5-2zM1346 710l8-8 -4-12 -7 8 10 4 -3 1zM1766 698l-8-6 -2 2 6 7zM1648 706l-2-4 -5 4zM759 714l-5-5 0 6 4 1zM772 710l-2-2 -1 2 1 2zM1514 710l-4-2 -3 2 3 2zM1524 758l6-3 16-4 4-8 8 2 8-3 -12-2 -12-18 8-12 -8 0 -4-2 -5 6 -7 2 -1 6 3 8 -7 8 4 4 -3 8 -8-4 -12-16 0-6 -8-2 -1 4 3 4 -2 5 8-5 3 4 -4 4 1 8 8 7 4-2 7 7zM1663 722l-5-5 -1 1 -1 4 2 3zM855 722l-1-2 -2 2 2 2zM1534 729l-3-7 3-3 3 3zM488 754l-9-8 9-8 -1-8 3-2 5 2 -5-5 -11 9 -1 4 4 4 -4 2 -4-1 0 3 0 2 7 2 5 6zM807 730l-1-5 -4-1 -1 2 5 6zM787 730l-1-2 -2 2zM1586 736l-2-2 5 0zM1831 734l-5-2 -7 2 7 3zM1698 744l0-3 3 1zM2261 782l4-4 2-12 6-4 -3-8 -8-9 -12 1 -8 10 0 6 4 8 4 2 2 6 6 5zM1706 759l-5-5 1-4 5 0zM1815 758l1-4 -2-4 -4-1 -3 5zM1875 774l12-12 -5-7 -3-1 -1-6 -4 2 -2 4 2 4 -4 12 4 7zM1470 762l0-4 -4-2 -4 2 0 4 4 3zM1556 778l10-7 10-1 -1-12 -9-3 -10 11 -2 6 -5 2 5 5zM1794 776l-4-2 -4 3 -7-11 0-4 7-7 4 1 5 10zM487 770l-1-3 -6-1 6 0 0-6 -8-1 -2 3 2 8 4 3zM1714 770l-4 1 0-10zM1435 766l-5-2 -1 2zM1899 770l-5-4 -3 4 3 3zM1506 775l-4-1 4-6 2 6zM1596 770l-2 0 0 2zM412 782l-1-4 -5 0 4 6zM419 778l-3 0 2 3zM487 778l-5-3 -1 3zM2022 782l5-4 -5-4 -5 4zM2945 814l-5-12 -11-16 1-4 -4-3 -8 3 -4-4 -2 8 -2 2 -4-4 -4 10 -6 4 -1 4 3 8 -1 4 5 3 16 1 7-4 -3-4 -12 0 0-4 8-6 4 2 8 11 4-4 4 5zM1950 783l0-4 2 3zM418 786l0-2 0 5zM1846 793l-3-3 3-5 2 5zM412 790l-2-2 -3 2 3 1zM1538 809l-4 0 -4-3 -3-8 3-10 6 6 0 4 6 8zM2232 798l-2-4 -5 4 5 1zM2557 794l-3-4 -1 4zM412 798l-2-2 -4 2zM1403 806l9-4 -6-4 -4 4 0 6zM2134 805l-5-3 5-5 3 1 1 4zM2314 805l-3-3 3-4 3 4zM938 810l1-4 -5-1 0 5zM922 814l-2-4 -5 0 3 6zM1542 815l-5-1 5-7zM2198 816l-4-6 4-3 4 3zM2206 832l-4-2 -2-8 6-8 4 1 6 7zM2827 814l-1-1 -5 1 5 3zM2887 822l-1-9 -4 9zM961 914l-2-8 -6-8 5-5 4 8 4-9 4 7 5-5 -4-4 3-3 0-4 -4 0 -8 9 -6-6 3-4 -1-16 10-4 -3-4 1-6 4 3 2-1 -1-8 -9-8 -1-4 4-4 -3-4 1-4 -5-5 -4 5 -12-3 -5 7 -3 1 -8-5 -4 1 -4 5 -16 5 0 2 12 2 8 5 16-7 6 7 -6 8 4 4 -4 2 0-6 -4-6 -3 2 1 4 -6 8 2 8 -6 4 -3 8 4 8 -7 4 1 4 5 10 8 5 4 0 4-6 4 1 8-3 4 1 -7 4 3 4 -5 4 7 0 -1-4 3-3 4 3 -3 4 3 1zM2298 823l-2-1 2-5 2 5zM2700 818l-3 0 1 4zM426 834l6-4 0-4 -2-2 -4 3 -12-3 -4 1 -4-4 -3 5 3 5 4-4 8-1 1 4 -4 4 3 3 4-4zM748 826l-3-4 -2 4 3 2zM2246 827l-3-5 4 0zM1510 827l-6-1 2-2zM950 831l-8-1 8-1zM776 834l-2-2 0 5zM883 850l-1-3 -4-1 4 0 3-4 -7-10 -2 6 4 4 -2 4zM2678 840l-3-2 3-5 2 1zM891 842l-1-2 -3 2 3 2zM1315 842l-2 0 1 2zM2951 842l-1-3 -6 3 2 2zM421 846l-7-4 -1 4 5 3zM738 910l11-4 -9-8 1-12 -3-4 3-4 -3-10 -4-2 3-4 -23-19 -12 2 0 3 4 2 -4 4 4 8 -6 4 4 4 4 12 -3 4 5 4 -2 8 6 4 4-1 12 11zM778 854l-1-8 -3-1 -1 1 5 4zM907 878l3-4 -6-8 2-3 4 1 12-6 -2-4 8-8 -2-1 -8 7 -10 2 3 4 -5 2 -4-2 -4 1 -8-8 -6 15 6 6 -1 6 5 2 4-3zM2924 846l-2-2 -1 2 1 2zM670 854l-4-7 -8 0 -5 7 13-2zM2326 851l-3-1 3-2zM1292 886l8-8 0-4 2-3 8 5 4 1 3-3 -7-4 6-8 -2-4 -11 0 1 4 -2 1 -4-11 -4 4 -5 10 1 7 4-2 3 3 -3 4 -4-2 -1 10zM1422 856l-4-1 0-4 5 3zM2495 854l-5 0 0 2zM2519 866l4-4 1-4 -2-2 -4-1 -4 3 -4 0 4 0 4 9zM685 966l9-11 4 7 5-8 -9-5 -8 7 -8 3 -6-13 10-13 3 5 5-1 2 5 6 2 8-10 -1-4 -7-9 -8 8 -6-3 -4-8 1-4 -4-4 -1-8 -3-4 2-4 -6-16 1-7 -3-1 -2-8 -7-2 0 5 8 1 -8 3 -4 8 -11 1 -5 6 3 10 -8 16 2 0 -1-4 4-2 6 6 -6 4 2 4 -2 8 -4-5 -4 4 -4-4 -3 1 3 1 4 4 4-3 4 2 10 12 -1 4 9 4 -6 3 -4-1 0 3 4 0 8 10 3-3 -3-4 4-1 6 5 2 8 8-2 4 3zM938 875l-3-1 -4-8 11-6 4 5 4 1zM1334 874l-3-4 3-7 10 3zM406 888l-4-1 -5-9 1-8 4-2 12 2 10 8 -2 5 -9-1zM2503 874l-3 0 2 3zM2973 890l5-1 6-11 -2-2 -12-4 -4 2 0 9 -6 7 2 3 4 1zM1097 902l3-4 -8-8 -2-12 -3 4 2 4 -3 10 -8-6 -4-14 -6 2 3 4 -5 4 -1-4 -7-6 -3 2 -1 11 -3-3 1-8 -5 0 2 8 -3 4 4 5 4-5 4 3 2 9 2 2 4-3 8 1 4-1 4 3 8-2 4 3zM450 884l-1-2 1-3 3 3zM1163 882l-1-2 -1 2 1 1zM900 898l-4-4 2-4 -8-7 -8 3 0 5 4 0 8 9zM426 890l-4 2 -8-2 4-4zM1033 894l-3-4 -7 4 3 3zM1050 894l-4-4 4-3 4 3zM1303 910l9-8 -1-4 -9-6 -14 14 2 2 8-9 4 3 0 9zM2502 927l-3-1 -1-11 -4-1 5-8 -9 0 -14-4 -3-4 5-8 8 11 8-7 12 3 1 5 -3 4 4 16zM2909 894l-3-3 -2 3 2 2zM394 914l-4 2 -4-3 -4 0 0-11 8-2 8 6zM1151 902l-1-3 -1 3zM754 914l2-4 -2-4 -2 4zM1123 906l-2 0 1 2zM1362 910l0-6 2 2zM891 946l-1-4 8-3 4-6 4 2 4-2 4 4 5-7 -3-4 2-5 -4 1 -8-3 -4-8 -4-2 -4 3 -16 5 -4-5 -3 2 7 24 4 0 8 10zM1111 910l-1-2 -1 2zM1287 914l-5-6 -1 2zM1094 918l7-4 -3-3zM975 922l-4 0 3 3zM1295 922l-3 0 2 2zM2390 923l0-2 3 1zM654 935l-3-1 3-6zM1135 938l0-4 -5-4 4 4 -1 4zM2831 942l2-8 -8-4 -1 4 6 11zM2987 938l-3-4 -10-4 -2 4 6 6zM1034 938l4-4 -5 4zM1151 934l-5-2 -5 2 5 2zM1296 934l-4 0 2 2zM2881 966l6-4 2-4 -5-8 -2-16 -4-1 0 17 -4 8 3 4 -2 4 3 1zM3001 938l-3-7 -3 7 3 2zM1300 950l2-4 0-11 -2 3 2 4 -10 8 2 3 4 0zM2961 946l5-1 2-3 -2-4 -4 2 -5 6zM910 946l2-4 -2-2 -1 2zM921 946l-2-4 -2 0 1 7zM2937 954l1-9 -4 5 0 5zM919 954l-1-2 -1 2zM1118 962l-3-4 3-4 2 4zM1322 958l-3-4 3-2 4 2zM1299 958l-1-3 -1 3zM650 966l0-4 -4 4zM920 962l-2-1 -2 1 2 2zM2944 982l-2-4 4-3 8 1 2-2 -3-4 3-4 -2-5 -6 1 1 8 -7 7 -4-4 -1 1 5 10zM639 966l-5-2 -1 2 5 1zM940 978l4-4 -11-4 -3 9 8 1zM1026 975l-4 1 -1-2 5-1zM1094 992l-8-4 -4-6 4-6 8-5 7 15zM1154 976l0-5 4 3zM684 978l-2-4 -3 4 3 2zM999 986l-1-1 0 2zM1014 993l-3-3 3-2 2 2zM2955 994l0-4 -5-1 -4-3 -2 4 0 4 2 3zM2975 998l2-4 -2-4 -5 0 -3 4 7 7zM1298 998l-1-4 5 0zM766 1003l0-4 2 3zM1026 1008l-15-6 11-3 4 3zM1122 1005l-2-3 6 0zM976 1010l-2-3 -5 3 5 4zM1082 1033l-9-11 1-8 4-6 4-1 8 2 1 5zM2856 1030l-2-4 8-8 -5-4 -7-1 -4 5 0 12 4 2zM1106 1021l-3-3 3-1 2 1zM750 1063l-8-5 -9-12 -1-4 5-4 5-16 4-3 8 2 3 5 1 14 5-2 -3-8 10-7 9 11 -5 3 -4-3 -1 8 -3 3 -4-1 -7 14zM1114 1023l-3-1 5 0zM2430 1023l-2-1 2-1zM2988 1022l-5 0 3 2zM970 1030l-4-5 0 6zM1302 1027l-1-1 1-1 3 1zM706 1032l-4-2 4-3 3 3zM1298 1032l0-4 2 2zM1314 1032l-4-2 4-1 1 1zM918 1035l0-2 3 1zM1086 1035l-2-1 2-1zM1110 1037l-2-3 2-1 2 1zM1302 1038l0-6 2 2zM2414 1038l-4 0 3-4 5-1zM906 1048l-4 1 -7-7 7-5 3 1 3 8zM2342 1044l-3-2 3-2 4 2zM710 1047l0-2 2 1zM2382 1063l-4 1 -2-2 22-16 4 3zM2885 1046l-3-2 -1 2zM2346 1054l-6 0 2-5 3 1zM1142 1072l-4-4 -4 2 -6-8 2-3 4 2 4-1 0 2 7 4 1 4zM1130 1072l0-4 3 2zM2330 1110l-16-4 -4-8 0-9 8-5 4-11 4 2 8-1 -1 8 6 0 3 8 8-6 2 2 -7 12 -3 3 -8 2zM1138 1081l-2-3 2-2 3 2zM1195 1082l-1-6 -7 2 7 6zM826 1088l-4 1 -2-3 2-4 4 1 2 3zM1134 1088l-2-2 2-3 2 3zM818 1092l0-5 3 3zM966 1102l-6 0 -6-9 0-4 4-3 7 4zM1110 1127l-11-9 0-4 -3-4 2-12 -3-4 7-6 8 6 3 12 5 4 0 4 3 4 -3 6zM802 1109l-6-7 5-8 5-1 3 9zM918 1100l0-3 2 1zM1134 1107l-4-1 4-2zM1142 1114l-1-4 5-4 1 4zM1122 1117l-4-3 6 0zM2254 1150l-2-4 4-4 -2-4 -4 2 -4 9 -4-3 3-8 5-1 4-5 4 3 14-5 -2-4 4-9 12-3 12 6 4 10 -4 3 -4 0 -4 7 -20 2zM1154 1145l-8-5 0-5 5-5 -6-4 5-5 8 4 4-6 2 3 -1 4 -5 1zM1158 1299l-4-1 -4-4 -4-11 -8 6 -4-4 -4 3 -20-14 -4-4 4-4 -4 3 -4-15 6-4 -6-7 -8 5 -12-2 -8 5 -4-4 -9-1 -11-7 -12-4 -20-17 -4-3 -4 4 -8-6 -4-6 -4 3 -4-9 -8-7 -12-5 -14-3 1-4 -4-4 -1-8 2-4 14-4 -5-16 1-8 14-4 6 4 2 9 4-1 1 4 7 0 4 14 2 2 1 4 -4 4 9 7 6 9 6 5 8 2 4 7 8 0 16 7 5-1 0-4 3-2 16 0 8 3 5 7 1-4 -5-4 10-4 0-4 -3-5 4-3 4 5 4 1 2-2 -2-6 -4 0 -5-6 5-4 4-6 8 6 4-1 4 3 3-2 -2-8 2-12 -4-4 5 0 4 8 8-5 4-1 3 2 3 4 -1 8 -1 2 -5 2 0 8 -7 0 -4 4 1 4 -4 4 7 4 12-2 2 2 2 4 -2 4 2 4 -7 4 -1 4 10 8 -1 8 3 5 4-3 12-1 4 3 -1 8 -7 7 -3-3 -1-5 -4-2 -2 3 0 4 6 1 2 3 -2 4 0 4 4 4 -5 8 2 8zM1162 1171l-4 1 -3-2 0-12 3-4 -4-5 4-4 4-1 4 3 3-1 0-4 3 0 5 4 -1 8 1 4 -7 10zM1186 1151l-4-1 -7-8 3-1 8 5 4-2 2 2zM2242 1152l-6-2 6-4 3 4zM971 1154l-1-1 -1 1zM2250 1155l-5-1 5-1zM2230 1161l-4-1 0-4 5 2zM1218 1177l-6-11 6-7 4 3 1 4zM1122 1167l-2-1 2-2 2 2zM2230 1168l0-5 2 3zM674 1180l-5-2 5-7 2 7zM1150 1183l-3-1 3 0zM1222 1197l-7-3 0-12 3-2 4 2zM1120 1194l-2-8 -1 8zM630 1202l-8 2 -13-6 1-4 4-1 4 4 4 0 4 1 0 2 4 0zM1078 1200l-2-2 2-2 2 2zM1023 1210l-1-6 -2 6zM694 1215l-5-1 1-5 9 1zM718 1219l-12-2 -3-3 1-4 2-2 15 2 1 5zM738 1227l-9-1 0-8 5-6 7 6zM750 1223l0-2 2 1zM1099 1226l-1-4 -2 4 2 3zM1136 1234l0-4 -2-2 -9 2 9 6zM1120 1254l-2-4 -1 4zM1266 1259l-4 0 -3-5 3-3 6 3zM1250 1280l-4 2 -8-16 3-8 5-2 6 2 3 8zM1094 1358l-4 0 -4-3 -3-9 3-4 4 0 3 4 2 4z"/>
<path fill="#F59898" d="M678 1160l-6-2 3-8 -7-12 8-16 -15-20 0-4 -6-12 3-4 -3-12 -7-4 -14-21 -14-23 -6-15 -4-2 -3-7 -9-8 0-4 -4-4 -4-12 -4-1 -6-7 -9-20 2-4 -4-8 -3-2 -4 4 -2-2 0-8 -6-2 0-8 -5-2 3-4 -10-12 8-9 2-7 -2-2 -4 0 1 6 -5 1 -4-7 -4-2 -3-8 2-8 5 0 4-3 4 1 6-6 -26-6 -16 2 -14 12 -7 0 1 8 -5 4 5 4 4-1 3 5 -2 8 -7 8 2 8 -1 12 1 3 4 2 -8 2 -10-15 -2-9 -4-2 -4 3 -6-4 2-5 -8-11 0-8 4-4 -8-4 -3-4 6-4 -3-1 -8 7 -4-2 -2-4 2-4 -5-4 6-8 -4-4 4-4 -2-4 1-3 4-2 4 3 2-2 -6-4 1-4 3-4 -4-2 -4 2 4 4 -4 2 -8-4 -8 9 -4 2 -3-5 0-4 4-4 -3-4 6-2 8 3 2-1 -7-12 -5-4 2-12 -2-4 4-4 -6-2 -2 2 0 4 -10 1 -3 3 3 4 -4 4 -1 4 3 4 -2 6 -4 0 -3-2 -2-4 2-4 -1-2 -4 3 -8-5 0-424 2064 0 23 0 0 4 4 8 -7 7 -1 5 1 2 4 1 8-7 1-4 -4-8 7-3 8 1 12-5 5 3 -1 15 4-4 8-1 1 2 -1 6 -8 2 -2 4 2 4 4-1 11 13 5-2 6 2 6 4 4 8 -8 4 -4-6 -8 5 -8 0 -4 3 -4-2 1-4 7-8 -3-4 -13-9 -12-1 -4 6 0 4 5 4 0 8 -9 9 -2-9 -14-6 -3 2 3 7 4-1 3 2 -3 13 -4 3 -12-10 -4 1 0 6 8 3 4-4 4 4 12 4 4-6 8-1 8-6 4 0 2 1 -1 4 6 8 21 3 8-2 4 2 7-3 -4-4 -11-4 8-7 5-1 -3-4 3-4 11-5 4 9 -11 20 7 7 12-3 2-4 -2-5 -7-3 3-2 1-6 -4-8 2-8 -4-4 -1-8 -2-2 -8 3 -7-5 3-5 4 4 4-3 1-4 -7-8 -2-8 0-4 4-4 457 0 -1 442 -12-3 -20-16 -10-11 -14-7 -8-9 -12-4 -8-8 -12-2 -8-3 -8 1 -4 8 -8 5 -5-1 -1 4 -6 3 -12-7 -4 8 1 8 -5 11 -4 0 -5-7 0-12 -7-6 -16-3 -5-11 -9-4 -6-9 -20 8 -12 0 -4 4 -7 1 -2 4 -10 4 2 4 -3 9 -8 7 -8 0 -7 8 1 4 -2 2 -8-1 -4 4 -8-4 -8-9 2-4 7-4 -9-4 -4 6 -16 5 -9 17 -10 12 -5 3 -12-2 -8-8 -16-10 -4 5 7 12 -11 7 -12 0 -4-4 -13-3 -3-6 -6-2 -5-16 -5-1 -10 13 4 8 6 4 6 0 -10 2 -4 6 4 6 4 2 -3 8 2 8 -7 8 -1 8 -3 1 -4-4 -8 2 -4-3 -10-12 2-8 -8-4 -4 1 -5 7 1 5 -7 3 0 8 -9 1 -3 3 -1 8 -8-4 5-4 -5 4 -2 4 -1 12 -17 13 -9 15 -1 8 -10 8 -4-4 -2-12 4-12 -1-4 7-6 8 1 3-3 -1-8 -15-4 14-8 -5-5 -4 4 -4 0 -2-3 8-8 -1-4 -9-8 -8-2 -3-6 0-8 6-8 -6-8 -1-8 1-8 6-8 -1-20 8-4 -2-4 4-8 8 8 1 8 7 1 0-5 4-8 12 4 3-4 0-4 5-2 16-2 12-5 4 3 8 0 8-3 8 1 0 4 -8 5 -4 6 -5 1 -1 8 6 5 5-1 -4-12 3-2 8 3 4-6 4-2 8 27 4 1 4-8 12 8 2-9 10 1 0-3 -4-1 -4-17 -4-4 -3-24 -6-4 -1-12 -2-2 -4 3 -5-5 0-8 -4-12 4-8 13 1 4-6 4 1 4 7 4-1 4-10 -4-6 -20 1 -4-3 6-8 -2-1 -4-1 -3 2 0 4 3 4 -16 6 -4 0 -4-7 -12 4 -8 0 -16 16 -12 2 -4-2 -3-7 2-4 -3-2 -4 1 -4 5 -2 12 2 8 4 2 5-2 1-4 2 0 1 8 -5 7 -8-2 -8 1 -8 6 -12-3 -12 6 -4-1 -8 12 -6-2 -2-8 -6-8 -5 0 -4 16 1 4 -10 3 -4-6 -3 3 5 4 -2 5 -12-7 -12 13 -4-4 -4 5 -8 2 -1-2 6-4 -13-21 -3 1 -1 4 4 8 -2 8 -6 8 -7-8 -1-4 4-4 0-4 -12-3 -4 3 0 9 -2-5 2-4 -12-4 -2 0 -2 5 -12 2 -5-7 1-5 -4-1 -4 4 -2-2 -3-4 3-4 -1-4 -5-3 -8 1 -16 9 -16-5 -16 4 -8 14 -8-2 -4 5 -4 1 -4-1 -8-7 -4-1 0 5 -4 2 -8 0 -5 6 3 4 -6 2 -7-6 1-8 -2-1 -8 1 -4 3 -4-2 -4 3 -3 12 10 8 -3 4 -5 0 -3 9 -12 2 -12-5 -16 1 -8-8 -4 2 -4-2 -4 4 -4 1 -4-3 -8 1 -10-14 -10-5 -4-13 -12-2 -12 4 -4-2 -1-2 7-4 -4-4 2-12 -4-7 -4 1 -4-2 0-4 -8-14 -5 2 4 8 -1 4 -6 1 -3 7 7 3 6 9 -2 8 4 5 -4 2 -8-5 -4 3 -8-2 -4 1 -4 12 -4 4 -16 0 -2-4 2-4 8-5 4 2 6-5 -2-5 -4 0 -3-11 -3 0 -5 8 1 4 -3 8 -3 3 -4 1 -4-4 -2-12 -5-4 7-5 2-7 -14-2 -4 5 -8-5 -12 2 -8-4 -10-20 3-8 -3-4 -10-6 -4 1 -4-2 -5-9 1-8 4 5 3-5 -1-4 -5-4 -4-12 -5-5 -4 3 -4 9 -16 2 -2 3 2 8 12 0 4 8 0 12 -5 0 3-8 -10-5 -7 5 -1 5 -3-1 1-8 -6-5 -8-1 -12-28 -4-3 -20 13 -8 8 -4-1 -8-7 -1-8 -3-3 -14 7 -4 8 -2 16 13 4 2 4 -3 3 -4 0 -8-3 0-8 -4-3 -4 1 -4 5 -5-3 -1-8 -10 1 -12-5 -12 0 -4 2 0 10 -12 5 -4-6 -6-3 0-4 2-4 15-8 -3-4 -20 8 -8 11 -4 1 -8-4 1 4 -5 5 -4-1 -2-8 -4-4 2-4 -20-7 -5 3 0 8 -15 4 -6-8 -21-16 6-4 -3-8 -16-6 -5 10 -3 1 -8-4 -4 1 -6 10 3 8 -1 3 -4 3 -4-1 -1 3 3 4 -2 4 -8-3 -3 3 -2 8 -3 3 -7 1 -5 5 -8 2 -6-11 -10-5 -20 15 -4-12 -4 0 -4-6 -8-4 3 4 -8 4 4 4 -5 4 -2 8 3 4 -3 2 -8-4 -1 2 1 2 4-1 2 3 -3 4 -1 4 2 3 4-5 4 0 12 4 4 7 4-7 7-2 -3-5 4-2 10 7 -3 4 -7 2 -4 5 0 9 0 2 4-6 4 7 8 0 3 5 -1 8 -10 8 -4-2 -7 10 3 2 8-2 4-6 4 3 8 0 7 15 -7 10 -12-5 -4 11 -4 3 -4-1 -2 2 2 2 4-1 2 7 -6 0 -4 3 0 5 -4 4 -4 2 -4-1 -8 2 -4-4 3 5 -9 4 -4 8 0 8 11 8 -9 10 -4 0 -4-11 -4-1 -4 5 -4 1 -1 4 7 12 -3 4 2 4 -5 7 -8-1 -8-6 -4 4 -4-4 -1 4 -6 4 6 4 -3 2 -4-2 -3 4 10 8 -2 4 5 4 -6 2 -8-4 -9 6 3 4 -2 2 -4-1 -4 5 -4-1 0 3 8 1 1 3 -3 4 3 8 -2 8 4 4 0 4 -10 12 6 8 0 8 -3 3 -4-4 -1 1 4 4 -1 4 11 4 -2 12 10 20 -5 8 -4-4 -4 0 -6 4 2 12 4 4 -4 4 1 16 -6 4 2 8 -2 4 1 2 8-2 8 8 1 4 -7 8 -3 16 -5 4 2 12 -7 8 -1 8 -7 12 2 4 -5 12 0 8 -6 7 -8 1 -7-4 1-8 3-4 0-4 -3-4 4-4 -1-4 4-8 -5-7 -4 3 0 4 -4 3 -4-4 -11 9 0 16 3 4 -4 5 -4-2 -4 3 -4 0 -4-5 -4 1 -3-6 5-4 -3-4 1-2 16-10 -12-8 4-4 0-4 -8 2 -4-3 -2-3 3-4 -5-8 -8 2 -4-3 -3 1 3 1 10 11 -7 8 1 1 4-1 0 6 -4 2 -8-2 -3-2 4-4 -4-4 -13-4 -4-10 -6-2 1-4 5 2 3-2 -5-4 5-4 -4-4 2-4 -4 0 -5 7 -6-11 -10-1 -1-3 5-4 -4-7 -4 0 -7-9 -1-8 -4 0 9-8 2-8 4-4 -3-12 -12-6 -2-2 3-4 -4-4 7-3 6 7 14 4 -5 4 1 4 4-3 4 8 4 0 14-21 -6-1 -2-3 6-3 8-13 -4-7 -6 11 -14 8 -10-8 2-4 -4-4 0-4 4-3 4 3 4 0 -3-4 10-4 -3-4 -8-1 -4-5 -1 2 4 4 -3 3 -8-4 -8 0 -4-3 -4-10 -4 3 -5-5 1-6 4 6 4-3 4 1 6-2 6-13 1 5 3 1 4-2 4-7 5 4 3 7 10-11 -2-3 -4 5 -4-3 -8 1 -4-3 -8 0 -8 11 -4 0 -4-3 -8 1 -4 4 -3-26 7 0 4 6 8 1 7-7 0-4 6-8 -13 3 -4-5 -4 0 -3 2 4 4 -5 1 -4-5 4-4 -4-3 -8 6 3 9 -3 7 -4-11 -4-1 -3 5 3 2 0 3 -5-1 0-4 -7-1 -12 6 -8-13 -3 4 1 4 -13 4 2 4 -3 11 -5-3 3-4 -2-1 -4 2 -8-3 -5 2 0 12 5 2 16-5 4 2 4-1 20 14 1-4 4 0 3 6 4 0 8-7 4 0 4 9 -4 4 5 4 -1 3 -4-1 -4 5 -8 3 -8-7 -8 1 -4 4 -8-2 -8 5 -8-4 -5 9 8 8 -7 2 -8 6 0 4 -4 7 -4-6 -8 14 -4 0 -4 5 -2 8 2 4 2-4 -2-4 4-3 4 3 -3 8 -5 12 -12 13 -7-1 0-4 -4-4 -5 0 -6-4 3-4 -1-3 -4 2 -4-3 7-4 -3-1 -8 11 -6 2 0 4 6 6 0-6 4-4 11 12 3 8 -2 4 -4-2 -1 2 1 7 4 1 -12 8 -20-4 -4-5 -4 1 0 2 -1-2 -7-1 -5-7 3-4 -2-5 -16-9 1-6 -5-8 -4 1 -4-2 -4 8 -8 7 -4 9 -8 6 -1-9 -3-2 -4 4 -9 2 3 4 -2 8 -4-4 -14-4 -4 8 -1 12 2 4 -7 10 -4 0 -4-2 2-4 -3-4 3-4 -3-8 4 0 1 2 0-2 -8-17 -4-5 -4 0 -2-6 -9-8 3-4 -16 7 -4-6 -6-1 -2-16 4-2 0-5 -8 10 -4-3 -4 2 -8-3 -3 1 -10 8 4 12 -9 4 -10 9 -4-1 1 8 -14 4 -2 12 3 8 -2 4 -6 5 -8 0 -4-3 -1 2 -1 4 3 8 7 8 4-7 4-2 2 5 -6 7 -4-3 -3 4 4 8 -1 4 6 28 -6 8 -6 4 0 4 -2 4 -4-4 4 6 4 2 -7 8 3 5 4-4 1 3 -1 6zM611 502l6-4 -3-12 9-12 -3-4 2-4 -4-5 -1 5 -3 1 -6-1 -2-4 -4 3 -4-2 -3 3 4 4 -1 8 -3 4 2 8 -3 7 -5 1 9 5zM635 466l-2 0 1 3zM498 478l-2-8 -3 0 -4 8 5 2zM680 490l6-3 0-3 -17-2 5-13 -14 13 -2 4 4 5 16 2zM618 477l-3-3 3-2 3 2zM655 478l4-4 -6 4zM683 478l7-4 -4-3 -4 2 -1 5zM427 478l-1-1 -2 1zM635 482l-3 0 2 3zM662 489l-4-3 4-2 2 2zM566 602l5-4 -1-2 -4 5 -1-7 13-4 4 0 1 8 3 3 20-12 8 7 4-1 4-17 4-2 6 2 2 8 8 1 9-5 15-16 -4-3 -1-5 5-2 6-14 -6-7 -4 2 -3-3 3-6 9-2 0-4 -5-4 0-8 4-7 1 3 7 3 3-3 -3-11 -4 1 -8 8 -4-9 -4 3 -8-7 -4 1 -4-3 -2 1 4 4 -2 3 -4 2 -4-1 0-9 -7 5 6 4 -5 4 6 8 4-1 -1 5 6 8 -1 1 -12-4 -4 4 -4-2 -4 6 -8-9 -8 1 -4 4 -12-2 -4 6 -4-2 -1 5 -7 2 0 3 8 0 4 3 -4 8 1 4 -5 4 -3 12 3 1 2 3 -6 6 -4-4 -2 2 1 8 -3 3 -4-4 -5 5 1 13 8 6zM623 498l-3 0 2 1zM646 499l-3-1 3-2 2 2zM692 498l-2-2 -1 2 1 1zM683 538l0-8 3-2 4 6 8 2 4-1 4-5 4 2 2-2 -6-1 -8 4 -1-3 6-8 0-8 -1-4 -7 0 3-3 4 3 5-8 -5 0 -8 7 -8 2 -2 3 3 8 -6 12 1 5zM614 510l6-4 -2-2 -3 2zM632 514l-6-6 -1 2 5 8zM752 566l-9-8 2-4 5-2 4 4 1-2 -3-4 3-4 -3-4 2-4 -7-4 -1-4 4-4 -8 7 -2-3 0-12 -2-1 -4 5 -4 0 -1 4 0 16 5-2 1 6 4 4 -6 8 9 0 8 9zM634 533l0-8 2 1zM646 532l0-7 2 5zM638 546l-6-8 2-4 4 0 4 4zM738 535l-1-1 1-1 2 1zM765 534l-3-2 -3 2 3 2zM1132 534l-2-2 -2 2zM1265 534l-3-2 -1 2zM1265 550l-11-15 -3 3 5 8 6 5zM666 548l-3-2 3-5 4 5zM708 550l-2-12 -4 1 -2 3 5 4 -1 4 2 2zM1154 546l0-6 -4 2zM582 546l-2 0 4 0zM675 562l11-3 2-1 0-4 -14-1 -2 1 3 4 -2 4zM1159 562l-3 0 2 2zM1191 562l-3 0 2 1zM1243 570l-2-4 -7-6 -6 2 -2 3 -1 5 5 4 4-6 8 3zM569 566l-8 0 1 2zM1684 606l4-4 0-4 -3-4 4-8 -1-4 -14-8 -4 4 -8-8 -5 4 5 4 4-2 3 2 6 28 3 4zM1151 594l4-4 -3-4 -2-9 -6 5 1 4 -3 3 -8-5 -4 1 -3-3 3-8 8 6 1-2 -5 0 -4-7 -4 2 -4 5 2 4 -2 3 -4 0 -4 3 -8 0 -1 2 9 1 4 3 8-10 8 5 4-3 3 4 -3 4 4 1 4-3zM1653 582l-11-8 -9 8 9 2zM481 630l-6-4 3-6 4 4 1-2 0-4 -5-4 10-4 0-4 3-4 -3-8 6-6 2 2 -1 4 5 0 0-4 6-8 -8-5 -11 1 6 4 -11 9 -4 0 -5 7 0 4 8 8 -3 4 -4-2 0 2 -8 4 -1 8 -6 4 3 2 8-4 4 0 4 4zM498 583l-2-1 2-1zM518 590l0-5 -5 1 -1 4zM544 586l-2-2 -3 2zM1162 590l4-4 -4-3 -2 7zM1150 593l-3-3 7 0zM1650 606l10-8 1-8 -3-2 -4-1 -12 7 -1 4 2 8 3 3zM1570 598l7-4 -3-3 -10 7zM1182 610l2-4 -14-9 -1 1zM1682 602l-7-4 7-3 3 3zM482 607l0-5 4-2 3 2zM557 606l-3-2 -3 2zM1522 626l-4 0 -4-7 -4 3 -4 0 -2-4 5-4 2-8 3-3 3 3 -2 4 3 3 4 0 7 5 0 4zM1107 618l3-2 0-4 -4 2 -1 4zM1341 638l1-4 -3-8 3-5 6-3 -6-5 -16 1 0 8 8 1 3 3 -4 4 5 0 4 4 -6 4 2 1zM1130 646l-4-4 8-2 4-5 9-1 -9-1 -2-3 2-6 -4 1 -2-3 -14-6 -5 6 5 12 -3 4 7 6 4-1zM1554 627l-6-5 6-8 8 4 -6 4zM1570 631l-4 1 -6-2 4-8 -1-4 4 0 6 12zM1722 627l-7-5 15-5 4 5 0 2 -4-1zM1842 626l0-4 -5 4 1 2zM755 630l4-4 -5 1 -4-2 2 5zM1126 628l-2-2 2-1zM1130 635l-3-5 3-3 3 3zM1217 634l-2-4 -5-2 -3 6 3 3zM1224 630l-2-2 -2 2 2 3zM1328 634l1-4 -3-2 -1 6zM1418 640l0-6 3 4zM1646 643l-8 1 -2-2 2-9 4-1 6 6zM1710 635l0-2 4 1zM2576 638l-2-5 -5 5 5 2zM1630 657l-10-7 -1-8 3-4 4 0 7 4 0 12zM1378 647l-2-1 2-7zM1434 646l-3 0 3-4zM1674 652l-4 1 -12-7 1-4 3-3 8 1 5 6zM1706 653l-2-11 2-4 3 12zM1115 650l3-4 -5 0zM1335 650l-1-5 -1 5zM1125 650l-3-2 -1 2 1 2zM1144 674l4-4 -2-8 8-4 4-7 4 3 -4-4 -4 3 -4-4 -4 4 -4-1 -13 14 1 1 8-3 2 10 2 2zM1374 653l-4-1 -1-2 5-3zM1558 655l-4-1 4-6 4 1zM474 662l-3-8 -5 0 1 4zM1207 654l-1-1 -1 1zM1710 654l-2 0 2-2zM1810 665l-1-7 3-4 6-2 4 2zM789 730l1-7 -3-5 3-4 -4 3 -4-1 -9-10 5-4 4 7 2-3 0-8 -4-4 0-8 -4-8 5-4 -3-5 -5-3 1-3 4 2 4-3 -8-2 -8 0 -4-4 -4 5 -8 4 -12-5 -8 4 -4-3 -2 1 6 8 -5 4 -1 8 9 8 -2 4 2 8 -4 4 5-3 16 5 1 6 -3 4 2 1 8 0 4-4 4 2 4-1 7 6 -1 4 2 2 4-6 3 4 -3 4 4 3zM1292 666l-2-4 4-1 2-3 -2-2 -8 10zM762 664l-3-2 3-2 2 2zM1406 672l-8-6 8-4 2 8zM1366 674l8-4 -3-4zM1394 669l-2-3 2-2 4 2zM1303 670l-1-2 0 4zM1798 677l-4-3 0-5 5 1 1 4zM2439 674l0-4 -2 0 0 4zM2470 673l-4-3 4-1zM2567 682l1-8 -6-6 -14 10 6 5 4-4zM770 675l-2-1 2-1 2 1zM1128 678l2-4 -6 4 2 2zM1378 678l6-4 -2-2 -4 0 -2 2zM478 686l-1-8 -3-3 -2 11 2 2zM1164 682l-2-2 -2 2 2 2zM1350 710l12-16 -4-8 -16 8 -8 8 12 10zM1403 686l-1-3 -2 3 2 2zM2012 690l-2-5 -4 5 4 2zM1383 690l-2 0 1 2zM1886 702l0-12 3 4zM742 700l-2-2 2-7 3 7zM1155 698l-1-3 -1 3zM1158 706l5-4 -1-4zM1383 702l-10-4 5 8zM2462 701l-2-3 2-3zM463 702l-2 0 1 3zM475 706l-1-5 -2 5 2 2zM487 782l4-16 0-16 -3-8 3-8 6-4 -3-4 8-12 -4 2 -3-2 -1-8 4-4 -4-2 -4 6 3 8 -3 4 -4-5 -4 13 -6-8 2-4 -4-3 -4 0 -2 3 -3 8 7 8 -2 4 -4-2 -1 2 6 12 -1 2 -8-8 -4 10 8 1 8 7 -4 5 0 5 8 6 4 7zM1128 710l2-4 -4 2 -2-6 -2 0 -2 4 3 4 3 1zM2234 711l-2-5 2-5 5 5zM2434 707l-4 2 -4-4 4-3 4 2zM490 706l-4-2 -1 2zM1116 706l-3 0 1 2zM1144 706l-2-2 -2 2zM803 710l-1-2 0 4zM1335 710l-1-2 -1 2zM1370 714l6-4 -2-1zM835 722l-4-4 3-5 -5 5zM849 726l-2-8 -3 0 2 11zM856 722l-2-5 -3 5 3 4zM807 738l3-7 4-1 -12-11 -5 3 4 8 -5 4 2 3zM2044 730l0-4 -6-5 -9 5 9 6zM2558 735l-8 2 -3-3 -2-12 5-2 4 3 6 11zM891 734l-5-7 -6-1 2 5zM899 726l-1-2 -2 2 2 3zM2150 747l-3-1 -2-12 2-8 3-3 4 3 0 6 4 2 -5 12zM836 746l0-4 6-7 4 4 1-1 -9-8 3 4 -11 11 -4-3 -2 4zM862 730l-4-3 -3 3 3 3zM2828 730l-2-2 -2 2 2 2zM474 735l-4-1 4-3 2 3zM1375 734l-1-3 -4-1 0 6zM2310 735l-1-1 1-2 3 2zM743 742l4-4 -4 0 -2 4zM821 742l-3-7 -4 3 4 6zM2114 741l-4-3 4-3 2 3zM2838 746l0-4 -4-5 -3 5 3 7zM879 742l-5-2 -6 2 2 2zM2162 746l0-6 2 2zM2550 746l-5-4 1-3 4-1 2 4zM2770 754l-5 0 -1-8 2-6 6 6zM410 750l7-4 -3-3 -4-1 -4 8zM422 754l4-4 0-7 -8 10 -4 1zM486 751l-4-5 4-3 3 3 0 4zM2342 751l-5-1 2-4 3 0zM2693 754l1-4 -4-7 -12-1 -2 8 6 2 4 5 4 1zM2070 761l-3-3 3-5 2 5zM2154 768l-4-1 -6-9 6-1 6 9zM928 786l3-12 -5 2 -4-1 -2 3 2 7 4 4zM2782 775l-12 1 -2-2 14-1 2 1zM2518 786l2-4 -2-4 -6 4 2 4zM936 786l-2-2 -3 2 3 4zM2605 790l-3-4 -4 0 -3 4 3 3zM934 986l12-11 4 1 3-2 -3-9 -10-3 -3-8 -3-3 -4 0 -6-9 -5-24 3-7 14 3 2 6 5-2 0 8 3 6 4-3 3 1 5 8 4 1 3 3 -1 4 10 3 4 0 2-3 -4-4 6-4 -2-4 7-12 -1-3 -4 1 -4-3 -11 1 0-4 -3-4 6-1 3-3 -1-8 4-4 -3-4 2-4 -1-5 -4-4 -2 9 -6 4 -5-4 3-4 0-16 6-2 4 5 1-3 -3-8 6 0 0-8 -6-8 -1-12 -3-4 1-4 -7-6 -9-2 0-12 -7-9 -12-1 -4 5 -8-8 1 5 4 4 2 8 -7 0 0-6 -4-1 -12 6 -4-2 -4 7 -16 8 4 4 -4 4 -4 11 3 5 -9 8 2 2 4-3 5 9 -2 4 2 4 -5 6 -4 3 -4-3 -4 0 -1-2 4-4 -1-4 4-4 -6-12 -3 8 -5 4 0 4 -5 4 5 8 8 5 8 0 3 7 5 3 4 5 4-1 2 1 6 12 3-4 7 0 0 4 -6 0 -4 5 -4-1 -4 3 -8 1 -8-13 -9 5 1 2 7 2 -3 8 7 8 5 20 4 6 8-1 4-4 8-3 6 6 6 18 4 3 4 7 4-1 0 4 -4-3 -1 4 5 8zM2582 790l-8 0 4 3zM422 799l-4 0 -2-5 2-1zM410 808l0-6 2 4zM719 982l2-4 -15-20 2-8 -4-4 0-4 6-12 -4-2 -8-10 1-4 -3-4 14-6 4 5 4-3 4 1 8 7 0 5 2-1 -2-4 16-6 4 2 0 13 4-1 4-10 4 2 2-12 -6-4 0-6 -4 3 -1-5 -3-2 -4 4 -2-2 1-4 -8-28 1-4 -2-4 3-4 -3-12 2-3 8 2 6-7 -2-4 4-2 2-6 -2-4 -5 0 1-9 -12 1 -2 12 -7 8 -1 4 5 4 -7 12 -8 0 -8-6 -4 3 -4-2 -5 5 1 5 -5 3 1 4 4 0 -2 4 4 4 -5 4 3 8 -2 8 3 4 0 4 -6 4 -7 2 -9-6 -4-24 4-4 -1-8 -5-8 -2-8 1-4 -4-9 -4 8 -5 1 -1 12 -8 4 -10 14 -4-2 -10 12 6 8 1 8 -1 2 -4-2 -4 4 6 4 0 4 3 4 -11 16 5 4 0 8 3 4 -2 4 4 8 8-3 5 3 -1 4 -8-4 -4 4 4 3 8-2 0 3 5 4 -4 4 3 2 4 0 4-4 8-1 4-3 4 8 4 1 4 5 -2 4 2 4 4 1 12-7 4-7 8 1 4-3 2 7 4 4 1 4 1 2zM956 802l-2-3 -2 3zM382 810l0-7 6 3zM822 838l4-7 4 7 8-4 -8-6 -8 4 -2-2 0-8 6-4 5-8 -1-2 -8 3 2-5 -2-2 -7 6 4 4 -5 3 -1 5 3 4 -1 4zM394 811l-3-1 3-1zM390 815l-4 1 0-4 4 0zM430 821l-3-3 3-2zM774 866l8-12 1-4 -3-4 4-8 -6-12 5-8 -5-3 -5 7 3 4 -7 4 2 8 -2 8 3 8 -3 4zM2590 827l-5-1 0-4 5-5 4 1 0 4zM398 849l-16-3 0-27 10 3 -2 3 -4 1 8 15 8-2 5 3zM1350 827l-2-1 1-4zM2527 826l-1-4 -1 4zM2994 825l-2-3 2-2zM1318 826l-6 0 2-3zM3006 832l-5-2 -3-4 8-1zM712 830l-6 0 4 2zM2444 830l-2-3 -4 3 4 3zM2562 831l-4 2 -3-3 3-2 4 1zM430 836l-1-2 4 0zM854 834l-4-2 -2 2 2 2zM631 842l3-4 -5 4 1 3zM813 838l-3-3 -2 3 2 2zM512 842l-3 0 1 3zM857 842l-4 0 1 3zM2574 850l-4-1 -2-3 2-4 4-1zM3006 850l-4-8 4-3zM639 846l-1-3 -2 3zM460 850l-2-3 -3 3zM1151 854l-2 0 1 2zM555 858l-1-2 -2 2 2 4zM630 858l-5 0 1 2zM942 872l-4 1 -5-7 9-3 3 3zM634 872l-3-2 3-2 2 2zM650 871l-3-1 3-1zM755 870l-1-2 -1 2 1 2zM1049 870l-3-2 -3 2 3 3zM567 890l3-11 4 3 -4-4 4-6 -10 6 -2 4zM1114 877l-2-3 2-2 2 2zM856 882l-6-6 -4 1 -2 5 6 2zM874 879l-2-1 2-2 2 2zM1110 879l-3-1 5 0zM1164 882l-6-6 -2 2 6 7zM583 886l-1-7 -1 3zM1330 888l-3-2 3-5zM1306 887l-4-1 6 0zM1294 892l-5-2 5-1 2 1zM1310 893l-2-3 2-3zM621 894l-3 0 0 2zM1012 898l-6-5 -2 1 6 5zM843 898l-1-4 -2 4 2 3zM910 899l0-2 3 1zM1322 900l0-4 2 2zM758 909l-1-7 1-3zM870 908l0-4 2 2zM1322 912l-7-2 7-7 3 7zM774 914l7-4 -3-2 -3 2zM1326 918l0-6 2 2zM954 926l-2-4 2-5 2 5zM1088 918l-2 0 0 1zM1294 920l-3-2 3-2 2 2zM1314 924l-4 1 1-7 9 0zM1179 922l-1-2 -2 2 2 2zM2438 935l-12 1 -4-6 4-2 4-8 8-1 6 3 -2 6 -3 2zM939 930l-1-5 -1 5zM1098 928l-4-2 4-2zM1298 927l0-3 2 2zM2422 930l0-5 3 1zM970 940l-4 1 -3-3 -1-4 4-6 3 2 0 4 3 4zM1290 932l-2-2 2-1 3 1zM1306 941l-1-11 5-4 2 4 -6 4 2 4zM566 935l0-2 3 1zM634 935l-4 1 -1-2 5-2 3 2zM1130 936l-2-2 2-1zM1167 934l-1-1 0 3zM1318 939l-6-1 2-5 7 5zM638 944l-3-2 3-8 3 4zM1126 943l-4-1 4-7 3 3zM882 943l-2-1 2-1zM1334 948l-4-2 0-2 4 1zM774 954l0-5 -4-1 -5 2 5 6zM2390 1004l-4 1 -6-3 3-4 -1-4 3-8 8-12 5-4 -2-4 6-13 4-4 4 1 10 12 -6 4 1 12 -9 9 -6 11zM2426 954l-4-4 6 0zM947 958l0-4 -3 0zM2418 955l-1-1 1-1 4 1zM934 960l-3-2 3-1 4 1zM1114 963l-8 0 0-1 4-5zM640 970l1-4 -7-6 -2 6 6 6zM771 966l3-4 -4-3 -1 7 1 2zM1298 965l-3-3 4 0zM880 970l7-4 -9-4 -1 8zM930 966l-4 2 -4-2 8-1zM737 974l5-4 -4-1 -5 5 1 1zM837 970l-3-2 -3 2 3 3zM861 974l1-4 -8 0 -2 4 2 3 4 1zM1014 971l-2-1 2-2 2 2zM1110 970l-3 0 3-2 1 2zM796 974l-3 0 1 1zM906 978l0-8 -4 0 -4 3 -4-2 -5 3 5 4 8 2zM959 974l-1-2 -3 2zM1094 991l-12-9 4-4 8-4 6 12zM1286 981l-2-3 2-3 2 3zM1280 994l-6-4 3-8 -3-2 -2 2 2 4 -1 8 5 2zM1286 987l-2-1 2-1zM695 990l-1-2 -2 2 2 3zM715 998l2-4 -3-3 -2 3 2 5zM928 994l-2-4 -4 4 4 2zM670 1010l6-12 -2-2 -9 10zM861 1006l-11-10 -2 2 6 10zM933 1006l-7-7 -2 3 6 7zM1022 1005l-4-3 4-2 3 2zM1082 1029l-6-3 -2-8 1-4 7-5 8 5zM2366 1030l-6-16 22-5 2 1 -2 8zM948 1014l-2-3 -2 3zM750 1060l-5-2 -3-7 -5-5 3-8 0-4 6-12 9 4 -1 8 3 12 -2 8zM2358 1040l-8 2 -3-4 7-7 7 7zM934 1039l-4-1 4-2 3 2zM906 1046l-4 2 -5-6 5-4zM1255 1062l2-4 -3-2 -3 2 3 7zM1314 1078l-8 1 -4-5 -6 0 2-13 4 2 4-4 4 0 4 4 3 7zM698 1074l0-1 3 1zM2330 1108l-16-5 -3-9 3-6 4 1 8-11 4 0 13 20 -13 4zM826 1088l-3-2 3-2 2 2zM962 1097l-8-7 8-1 1 1zM1114 1124l-4 1 -4-3 6-4 -2-2 -4 6 -6-4 2-4 -4-12 4-12 6 4 2 18 4-2 3 8 0 4zM1247 1090l-1-2 0 4zM1174 1097l-2-3 2-3 3 3zM802 1109l-4-7 4-7 4 1 1 6zM1206 1104l-4 0 0-4 4-2 4 4zM2262 1143l-3-1 -2-4 17-8 -2-4 2-5 8 0 -2 5 2 1 8-9 8 6 0 4 -4-1 -9 11 -11 1 -4-3zM2246 1148l-2-2 2-8 2 4zM2258 1147l-2-1 2-3 2 3zM1170 1166l-8 4 -3-4 -3-8 3-4 -3-4 2-2 4-2 12 4 0 12zM998 1206l-4-1 -12-12 -12-6 -9-1 -6-8 0-8 7-4 4 0 4-4 -1-4 9-8 17 4 5 8 -1 8 2 8 10 8 -3 4 1 4 -3 4 -4-3 -1 7zM1146 1162l-2 0 2-1zM1218 1176l-5-10 5-6 4 6zM1142 1175l-8 0 -4-5 1-4 11-3 3 7zM1138 1179l-2-1 2-3 1 3zM1222 1195l-4 1 -2-2 2-4 4 2zM622 1200l-2-2 3 0zM1010 1211l-4 2 -5-3 7-8 -1-4 3-1 6 5zM1022 1200l-4-3 6 1zM1094 1247l-12-2 -8 4 -8-7 -8 1 -8-6 -12-4 -17-15 4-8 1-8 4-3 2 3 -1 4 3 4 -3 4 3 1 4-4 8-2 4 2 4 3 -4 4 4 6 2-2 -1-8 7-2 4-6 8 1 4 4 4-4 8 7 0 6 4-4 3 2 -7 12 6 4zM714 1218l-4-4 -4 1 -1-5 13 0 3 4 -3 4zM738 1227l-8-1 0-8 4-5 5 5zM1134 1216l-4-1 -4 2 -1-3 9-1 2 1zM1106 1246l-7-8 2-4 -1-8 2-3 5-1 -6-4 5-2 5 2 8 12 -5 6 -8-4 -1 2 4 8zM1158 1297l-6-3 -6-17 -8 9 -4-2 -4 1 -8-3 -3-4 0-4 -5 0 -5-4 3-4 -7-8 1-5 8-2 4 5 9 2 -2-8 -7-4 -4 3 -2-3 0-4 10-11 6 7 -4 4 2 2 4-3 8 4 4-5 5-2 0-4 3-2 1 2 2 4 -3 9 -4-1 -4 3 -4-2 -4 3 1 4 7 3 4-6 8 2 13 13 -4 8 2 8 -2 8zM1166 1238l-5 0 7 0zM1170 1251l-3-9 3-4 4 0 2 8zM1266 1256l-4 1 -2-3 2-2 4 1zM1250 1279l-2-1 1-4 -7-1 -3-7 3-7 4-2 5 1 2 8zM1090 1357l-4-5 -2-6 2-2 4-1 4 7z"/>
<path fill="#F86464" d="M1258 1139l-8 2 -5-3 0-8 3-4 0-16 2-4 1-8 4-4 -1-2 -4 3 -1-1 -2-8 -2 0 -2 4 2 4 -5 4 -2 5 -4-4 -8 5 -4-3 -4 2 -9-5 3-4 -2-5 -8-1 -3-2 4-4 -5-2 -6-10 -2-2 -4 5 -8-9 -2 2 -1 12 3 2 4-2 8 8 -4 4 -4-4 -4 3 -8-3 -4 1 -6-9 6-8 -6-12 3-8 -9 2 -4 5 -3-7 -8-4 0-4 -5-12 -4-5 -4 1 -3-12 5-4 3-8 11-8 8 0 4-6 4-2 0-5 4 5 1-8 4-4 0-8 -3-4 10-16 0-5 -6-3 1-8 -3-2 -8 3 -2-5 5-4 -3-1 -8 7 -8-1 0-5 -8 0 0 4 -8 2 -6-2 -2-8 1-4 7-2 4-6 8-2 4 3 4-2 4 12 4-5 8 1 4 4 3-3 -7-4 4-5 -6-3 3-4 0-12 5-8 -2-4 -15-4 4-4 -1-2 -4 5 -5-3 6 8 -2 4 7 12 -2 3 -9-3 -9-8 4-4 -4-4 -2-11 -28-5 0-4 -8-4 3-4 -3-2 -4 2 4 4 2 8 -8 4 -2 6 -4-1 -8 5 -4-1 -12 5 -6-10 -2-1 -4 4 -4-4 -8 5 1 4 -4 4 1 4 -14-2 -16 6 -5 8 9 8 4-2 4 2 -5 4 2 4 -2 4 5 15 4-2 2 3 -2 3 -4-1 -1 2 6 8 -2 4 1 4 -4 5 -4 0 -1-5 -7 0 6 8 -6 11 -4 1 -5 8 -4 12 1 2 4 0 1 2 -3 8 -10 11 -4 0 -5-7 -7-4 -1-4 1-9 -8-1 -8 9 -12 3 0-4 4 0 2-2 -10-3 -4 1 -2-2 14-14 12 0 4-2 1-4 -9 1 -5-17 -3-2 -8 0 -11-10 -3-12 2-4 -3-8 2-4 3 0 7 8 -1 9 7 3 2 4 9 0 -1 4 6 4 -1 4 14-2 2 2 0 4 2 3 8-8 -2-7 5-4 1-4 -3-4 5-8 -1-4 -5 0 -8-4 0-4 4-4 -3-8 3-8 -6-12 3-4 -4-12 4-4 0-8 -5-8 -1-12 -4-4 2-4 -3-4 6-4 -6-4 1-4 -8-8 -1-4 6-3 4-6 -4 4 -10 1 -14-21 -8-4 -4 4 -4-7 -4 5 -5-1 -1 8 7 8 -10 16 -3 2 -8-5 -9 3 1 4 -4 6 -4-1 -4 6 -7 1 0 8 5 4 -4 12 2 4 -4 5 -9-5 1-5 -4 0 2-15 -6-6 -12 5 -4-4 -4 0 -4-3 3-4 -3-7 -8-1 -9 8 1 4 -3 8 1 8 -5 8 3 4 8-6 7 10 -4 4 5 5 11-1 7 8 -2 4 3 4 -4 12 3 4 -6 12 2 4 -3 4 1 1 4-2 6-11 -1-4 3-1 4 4 4 0 8-7 8 4 -4 3 0 3 16-2 7 8 0 4 -7 7 -8-1 -2-2 -2-8 -4-3 -4 3 -4 0 -2 4 1 4 5 2 -2 6 8 8 2 12 5 12 7 4 8-2 6 2 -6 2 0 5 13 1 -5 0 -4 7 -8 0 -12-15 -4 3 2 13 14 12 2 4 -6 8 -3-4 3-5 -4 2 -1 3 4 4 -7 4 0 5 -8-6 -4 1 -7-8 3-4 -4-4 8-4 -1-8 -11-4 -8 8 -2-8 -4-4 2-6 -4 4 -8 2 -3 8 7 8 4 12 -5 12 7 4 -1 4 -5 3 -8-9 -4 4 -8-5 -4 4 -4 0 -2-9 -6-3 -4-5 -16 7 -9-15 2-12 8-8 -4-4 1-12 10-7 5 3 3 16 -2 8 2 4 -5 8 5 3 6-7 -4-4 5-4 -2-4 4-4 -1-5 -5-7 1-12 -4-7 -4 3 -4 7 -4-1 -8 7 -4 0 -6 7 3 8 -5 12 0 6 -4-1 -4 3 -13-4 3-4 2-10 -12 10 -8 0 -4 5 -9-13 -3-14 -5-6 7-12 -12-12 2-5 4-4 4-1 4 3 4-2 8 3 4 9 5-7 11-4 4 16 8-3 2-5 4-4 3-12 -5-4 2-4 -5-8 6-4 -9-8 1-4 1-2 4 4 4-1 1-5 3-1 1 5 3 2 3-2 1-6 4 3 2-1 -4-4 6-8 -2-8 2-4 1-8 -5-8 0-4 5-4 -5-4 2-4 -6-2 -10 18 -7 4 3 4 -6 3 -4 5 4 1 4-3 5 2 -1 12 1 8 -1 4 -4 3 -7-7 -1-5 -4 13 1 4 -5 2 -4-6 -2-20 2-5 5-3 -4-4 11-11 12-5 1-4 -6-8 2-4 -9-8 -8-4 -4 1 -4 4 -12-6 -1 5 6 8 -3 4 4 4 -5 4 -1 6 -4 5 -4-2 -4 2 -12-8 -4 9 3 4 -7 7 -8 14 -5-1 0-8 -9-8 3-8 -9-7 -12 11 0 10 -12 0 -5-10 5-8 -3-4 7-13 -4 1 -4-2 -4 1 -8 14 -16 7 -1 4 3 4 -2 4 7 4 -3 2 0 6 -6 4 2 8 6 4 -2 8 4 0 1 4 -5 12 4 8 -1 8 3 8 -1 4 6 8 -2 4 4 12 -1 8 6 4 -2 12 4 8 0 4 4-1 4 2 2-1 1-4 5-4 4 3 2-3 -2-3 -4 2 -7-3 7-1 16-7 9 12 1 8 6 3 4-2 4 7 -4 5 -12-4 -3 7 -5 4 -5 0 -1 4 7 4 3 6 4-2 -1-4 5-9 8-1 4-5 4 2 3-7 -4-4 5-13 8-1 8 6 -5 16 3 4 -3 4 4 4 -3 3 -4-1 -5 6 2 4 -5 3 2 5 -2 4 1 8 -1 8 -8 5 -4-1 -8-8 -1 4 3 4 2 16 4 4 -2 4 7 8 -2 4 6 28 -7 8 -10 7 -3-3 3-4 -13-16 -3-4 0-5 -4-5 -2-6 3-8 -3-8 -6-4 -1-4 -3-1 -12-18 -13-21 -4-12 -17-20 -1-8 -5-4 -3-8 -10-8 -9-20 2-7 -4-8 -4-2 -5 5 0-8 -5-4 -2-16 -4 0 -7-8 9-8 2-7 1 3 7 1 3 7 5 4 0-11 4 2 4-3 -6-4 4-4 -2-8 -4 3 -3-3 -6-16 1-4 -4 3 -12-4 -5 1 -7-5 -20 0 -3-3 4-4 -1-2 -4 4 -4-3 -8 1 0 8 4-1 3 1 0 4 -8 4 1 4 -4 3 -4-1 -2 2 -1 8 -4 4 12 8 -1 8 -10 8 4 8 0 16 -2 1 -9-13 1-8 -3-4 -9-6 -7-10 -3-8 4-4 -8-8 10-8 -4-7 -8 8 -12-5 6-4 -6-8 4-1 1-3 -3-4 2-2 4 2 5-4 -4-8 1-4 -6-4 -4 1 -9-9 -1-4 -6-4 9-8 -1-2 -4 5 -4-3 9-12 1-4 -4-12 4-12 -4-4 2-5 4 2 4-4 4 1 4-3 0 5 9 4 -5 2 -8-3 -1 1 1 6 6 2 0 4 -4 4 2 9 4 0 4-3 3 2 1 7 4-1 4-5 2 7 -1 4 3 3 4-2 4 8 5 3 0 4 11 5 8 9 1-2 -5-4 -1-4 -6-4 0-4 4-4 -3-4 0-20 4-8 -3-8 1-5 4-1 4-5 -4-5 6-12 -7-4 6-12 -5-4 -8 6 -4-4 -8 2 -3-4 7-3 8 0 1-5 -1-7 -4 1 -1-6 1-3 4 5 0-2 -8-10 -4 0 4-4 8 2 -5-12 -8-4 1-3 4-2 2-7 7-12 -1-4 7-4 -3-4 4-12 8 5 2-1 -3-4 9-6 4 2 2-4 0-4 -2-4 -8 6 -4-1 3-5 -5-4 2-3 4 1 1-2 -9-3 -7-5 3-6 4 6 4-4 -8-5 -4 3 -4-4 -8 0 -2 2 2 1 8 3 -7 8 -1 5 -3-5 -2 0 -2 4 4 4 -6 4 4 4 -12 8 3 4 0 8 -14 24 5 8 0 12 -4 4 1 4 -4 12 0 4 6 5 8 0 -1 11 -11 10 -4 0 -2-2 4-8 -1-4 -1-2 -4 1 -3 5 1 4 -5 4 7 3 4 6 4-2 5 13 -1 3 -8 5 -8-3 -4 6 -4-3 -8 2 -4-4 -8 0 -8-7 -8 2 -4-4 -8 8 -4-2 0-4 5-3 -3-4 5-8 9-4 2-4 -6-6 -8 6 0-4 -4-1 0-34 8-8 5-1 1-8 -2-2 -4 2 -6-4 1-4 -3 0 0-268 378 0 -3 4 1 2 5-6 31 0 104 0 8 4 3-4 5 2 2-2 18 0 1521 0 -1 16 -4 8 -3 20 -4 12 -2 16 6 12 127 12 22-4 18-6 8 6 8-1 12 1 7-4 -3-8 1-4 3-2 5 6 0 4 7 4 -3 8 3 1 4-3 16 6 20 1 4-1 5-8 -1-11 -4-4 -8 1 -4-2 2-4 7-4 -17-11 -7 3 -1 6 -12 12 -3-6 10-12 -7-5 -8 2 -1 11 -3 3 -8-1 -8-8 -2 2 1 4 -3 4 -4 4 -4 1 -3 7 -5 3 -13-11 -3-7 12-1 -4 0 -3-12 3-8 -4-2 -1 10 -3 1 -8-4 -4 1 -5-2 1-4 4 2 4-7 10-3 2-4 -1-8 -5-4 2-3 4 0 8-9 4-12 11 0 5 2 8-2 364 0 0 436 -12-5 -5-7 -43-32 -12-6 -8-8 -27-10 -3-4 3-8 -2-4 -5 0 -6 8 -11-4 -1-4 7-8 -3-4 -8-4 -8-18 -8-1 -12-7 -9-2 5 12 -1 4 -4 8 -7 3 -2-3 1-4 -14-8 -1-4 5-4 -5-10 -4 2 -4 8 4 4 -4 3 -8-2 -2 7 -5 4 -1 11 -7 1 -3-8 3-4 -2-4 7-8 0-4 -6-4 4-4 -4-5 -4 5 -12-8 -4 0 -4 4 -2 4 -1 8 -5 9 -12-8 -4 5 -2 6 2 16 -2 4 4 12 -3 12 -7 10 -12 4 -12-7 -4-7 5-8 -1-3 -1 3 -7 2 -12-4 -10 14 1 8 -6 8 -1 8 4 3 1 5 -8 8 1 8 -14 13 -4 0 -8-8 -12-4 -4-9 -4-1 -16 6 -8 7 -2-8 -10-1 -2-3 2-5 8-6 2-9 10-2 4 3 2-1 1-32 -3-4 -8-1 -8-7 -8-24 5-4 -6-8 2-4 7-4 12-28 4 1 20-14 8 3 6-6 -8-8 0-8 -4-4 -2-6 -16 14 -12 2 -4 3 -8-2 -4 2 -4-1 -4-4 1-8 -5-2 -7 6 -1 8 -8 0 -4 2 -12 0 -4 2 -8-5 -4 2 -8-3 -12 3 -12-5 -8 5 -4 6 -16-6 -16 0 -4 0 -8 8 -12-9 2-4 -2-2 -8 7 -4 0 -2 3 2 7 4-6 8-4 0 7 -4 8 -4 1 -4-5 -8 2 -8-4 -6 10 -7 8 -3 8 -8 3 -8-1 -1-6 -3-2 -8 5 -4 0 -4-6 -12 0 -3 3 1 4 -8 8 2 12 -4 4 -12-7 -4 0 -8 4 -4-2 -5 1 -2-4 6-4 -7-2 -4 2 3 4 -3 2 -8 0 -8 7 -8-5 -12-2 -4-4 -15 2 -7 4 -2 5 -4 0 -4-1 -4-9 -4 5 -12 2 -4-2 5-4 -5-5 -2 5 5 8 -11 6 -4 0 -4-8 -16 3 -8-3 -8 6 -12 1 -4 4 -4-1 0 4 -4 4 -12-4 -8-8 -11-4 1-4 5-4 3-8 -6-8 0-4 -16-11 -8 2 -4-3 -6-8 2-4 -4 2 -4-3 -8 1 -8 4 -16 2 -8 6 -8-2 -4 2 -4 5 -5-1 -2-12 -5-3 -4 0 -4 3 3 4 -7 4 -20-4 -8-4 -4-7 -8 4 -4-4 -3 7 -9 5 -8-2 -4 13 -8 8 -3-8 -5 1 -2-5 6-4 10-12 -2-9 -12 1 0-8 -4-2 -12 9 -7-7 -2-4 2-4 -9-16 -8-8 -8 2 -14-10 -2-6 -8-6 -8-1 -12-11 -20-1 -4 11 -7 6 -9 12 -8 5 -16-1 -4-2 0-8 -12-1 -4-3 -1-6 -8-12 3-4 2-9 16-1 5-6 -1-4 -8-3 -4 0 -4 4 -5-1 -3-10 -12-10 -3-8 -5-1 0-8 -4-3 -4 1 -4-3 -4-10 -8 1 -12-11 -8 2 2 8 -2 2 -8-2 -1-4 -5 0 6 4 -4 8 0 8 -8-1 -8 6 -2-5 -6-1 -4-7 -8-2 -5 2 -1 4 4 4 -2 5 4 2 12-4 4 4 0 5 9 8 -1 9 -8-6 -6 5 3 4 -4 4 -13 1 -9-17 -1-12 -6-10 -4 1 -8 5 4 4 1 8 -1 4 2 8 -2 3 -4 1 -8-10 -4-1 -12 5 -8-9 -6 7 -2 11 -4-6 -12-6 3 5 -7 8 2 8 -2 2 -8-6 -6 0 -1 8 -5 10 -4 3 -2-5 4-4 0-4 -2-5 -4 0 -3-7 3-4 12 1 4-8 10-9 2-8 -4-2 -5 2 0 4 -3 7 -8-11 -12 11 -4-1 -4-6 -4 2 -8 0 -7 2 1 16 -11 8 -3 8 -8 3 -10-3 4-8 -2-4 -8-3 -5-5 -6 0 -2 4 1 3 4-1 3 2 -7 11 -4 0 -4-3 0-5 -4 1 -4 6 -1 6 -3 3 -4 1 -9-4 1-6 -8 3 -4-2 -1-7 -6-8 -1-8 2-8 -2-2 -4-1 -12 2 -8 14 -4-4 -4 0 -2-5 4-8 -4-4 0-4 9-8 -2-4 -9 1 -8-5 -4 3 0-7 -4-5 -8-2 -8 4 -3-1 -1-4 4-1 2-7 -2-1 -4 3 -4-9 -3 11 -6 8 3 4 -6 4 4 4 -1 4 -3 1 -4 6 -5 1 13 3 8-7 8 4 -1 4 -6 4 -2 12 -6 4 -1 5 -5 3 5 4 0 10 -4 1 -4-5 -4 2 8 6 4 0 0 2 -11 4 -1 5 -8-12 -4 1 -6 6 7 12 -1 10 -7 2 -5 7 -3-7 -10-12 -4-12 10-8 0-8 3-3 8 1 2-2 -3-4 -1-8 6-5 12-1 1-2 -1-4 -8 3 -5-3 1-3 8-1 -2-4 1-4 -3-2 -3 2 -1 8 -4 2 -10-2 -2-21 -2 5 -9 4 -5 8 -6 4 0 4 -4 4 2 2 12-5 2 3 -6 9 -28 3 -6 8 -2 8 0-4 -8-6 -4 7 -4-5 -8 6 -12 1 0 3 4 0 4-1 0 8 8 3 3 4 -3 2 -8-3 -5 1 -3 4 0 2 4-4 4 0 5 10 -5 3 -8 0 -4 5 -1 4 3 4 -8 8 2 16 -6 4 0 4 8 8 -1 4 4 4 -2 4 4 4 3 8 5 4 -6 4 -1 4 2 4 -2 4 4 8 -8 6 0 3 8-9 1-12 3-5 4 7 4-3 8 5 -8 8 -4-5 -3 13 -6 8 1 2 8-1 3 3 -4 4 5-3 4 1 2 6 -10 6 -4 5 -8-5 -2 6 2 0 4 7 4-6 12 10 4-5 4 8 6-6 -3-4 5-2 4 4 2-2 -5-8 3-3 6 7 2 1 4-2 2-7 -2-3 -4 3 -2-4 1-4 5 3 1-7 8-4 -5 0 -3-4 2-4 -14-8 3-4 4 0 -2-4 2-3 6-1 -6-7 -4 4 -4-4 -5-1 -2-8 5-4 -9-4 1-4 -2-5 -8-1 -8-8 -4 1 -4 6 -2-1 -3-16 5-3 8-2 4 3 8-8 8 5 8-1 4 5 4-8 4 1 4-6 6-2 0-8 -8-4 2-4 4-1 7 5 5 12 -15 12 5 4 -2 4 4 4 4-2 4 6 6-8 -5-4 2-4 -1-4 -5-4 3-4 16-1 3 5 5 1 4-8 8 4 4-3 16 11 4 0 4-3 0-10 -3-4 3-1 3-7 -1-12 18 5 4 6 11 5 9 13 8 1 12-5 4 8 8-1 2 12 -4 4 2 4 -3 12 -9 3 -4-1 0 4 4 0 4 7 8-12 4 3 -4 8 8 6 10 2 0 4 14 7 0 6 4 8 4-10 4-1 2 2 -3 4 1 6 -8 4 0 3 8 7 4-6 1 2 7 2 4-1 2 3 0 4 -6 6 -12-5 -4 2 -4-5 -12 5 -8 7 -4 1 -5-3 -7 8 -12 2 -8-3 -2 1 4 4 -2 2 -8-1 -4 3 -2 8 2 2 16 7 3-1 1-7 3 3 -3 4 4 2 4-2 8 0 3 0 0 4 -3 4 -4-1 -4 1 6 4 -1 4 -11 12 0 4 -12 0 2 4 -8 3 -4-3 -4 4 -4-4 -1 4 17 2 3 2 -3 4 4 3 4 1 4-1 5 17 -3 4 2 4 -4 7 -4 0 -4-3 5-4 -1-1 -4 4 -8-4 -6 9 4 8 -11 8 5-3 4 1 4-4 4-1 4 3 -13 8 1 6 3 2 0 8 -3 5 -13 3 7 4 -2 3 -4-2 -3 7 8 4 -4 8 7 3 -3 9 3 4 -4 8 -5 0 3 4 -5 4 8 16 -1 1 -4-5 -4 4 4 4 0 8 5 0 13 28 -3 4 -11 4 -4-1 -4 3 -4-6 1 8 -4 4 2 8 -3 4 -4-4 8 12 4-6 7 6 0 12 -7 4 0 4 2 4 -2 12 4 8 1-8 3-3 8 0 3 7 -7 4 -1 12 -7 12 2 4 0 8 -7 8 0 8 -7 12 1 4 -5 14 1 6zM2594 372l-4 2 -6-4 0-4 19-4zM495 370l-1-5 -4 1zM947 374l-1-4 0 7zM955 374l-1-1 0 3zM2582 379l-8 3 -3-4 3-6zM2598 398l-8-6 -4 0 -8 7 -4 1 -1-2 5-11 11-9 1-4 13 4 -2 4 -6 4 5 8zM2639 410l-12-12 10-12 -7-7 -6 7 2 4 -7 8 0 4 3 8 4 3 8 1zM2679 382l-5 0 4 2zM494 406l2-12 -6-1 -4 5 1 4zM456 410l-6-6 0 10zM743 410l-2 0 1 2zM496 414l-2-2 -2 2 2 2zM2658 414l-4-2 0 6zM936 422l-6-6 -3 2 7 6zM944 422l5-4 -3-2 -4 2 -2 4zM561 626l-2-4 7-8 4 2 4-9 4 5 4-3 8-2 4-9 8 4 4-4 5 8 3 1 3-1 5-12 4 1 8-1 -4-2 0-3 12 6 3-1 1-4 12-10 6-2 6-12 4-2 13 2 -1-4 5-4 1-4 -6-4 4-2 4 1 4-4 8 9 12-8 4 5 4-7 4 1 7 5 -3 5 -8 1 0 4 12 3 4-3 5 6 -1 3 -5 1 1 2 12-5 -3-5 6-8 -2-4 3-4 -3-4 3-6 4 1 5-3 -5-4 -8-2 -4-6 -4 5 -2-5 2-6 8 6 2-8 -16-16 -2-5 -8 7 -6-2 3 4 -3 4 3 4 -5 7 -4-1 -2 2 6 1 4 9 -4 1 -9-7 -1-12 2-1 4 1 2-4 0-4 -6 0 -4-8 -4 4 -8-3 -4-5 3-16 -2-4 1-4 -2-3 -4-1 0-4 -4-4 -4 2 -1 6 -3 3 -11-3 -1-4 4-4 -2-4 7-8 -5 3 -12-2 -4-7 -4 5 -4-3 2-4 -2-3 -6-1 -2-8 -4-2 -4 1 1 5 -3 4 2 3 8 7 8-2 4 4 -8 4 -1 4 -11 9 -4-2 -4 5 -4-2 -8 4 -4-4 -4 3 -4-2 -7 5 4 4 2 8 -3 4 0 12 -8 4 3 4 -1 4 6 8 -4 3 -4-6 -2 3 5 4 -7 4 -4-4 -4 2 1 6 -5 1 -5 11 1 4 8-5 5 1 -6 8 2 4 -5 8 -4-1 -4 5 -4-4 -2 4 4 8 -2 5 -8 3 -4-3 -8 9 0 3 6 3 -2 4 4 1 2-1 1-8 2 0 1 16 -4 4 5 4 0 4 5 8 -4 5 4 2zM2627 430l2-4 -3-5 -2 1 -2 4 -8 4 8 3zM491 434l-1-3 -5 3zM636 446l-10-10 -8 6 8 5 4-3 4 5zM1164 478l-6-4 5-4 -3-4 1-4 -3-8 -8-4 0-13 -5 9 1 4 8 8 -4 0 -3 4 3 5 4 2 4-2 3 3 -3 4 4 6zM1607 454l0-4 3-1 8 2 2-1 2-4 1-8 -18 8 0 8zM687 450l1-4 -2-3 -6-1 6 11zM411 446l-1-2 -1 2zM654 451l-6-5 2-3 5 3 1 4zM973 446l-3-2 -1 2zM1081 458l5-7 8 1 2-2 -2-3 -4 2 -4-5 -4 5 -4-3 -2 12 2 2zM1268 450l-2-2 -3 2 3 4zM658 457l-3-3 3-3 3 3zM654 468l-8-2 5-4 3-6 10 6zM1101 470l6-4 -3-8 -2 0 -1 8 -7 4 4 4zM1066 466l3-4 -3-2zM630 471l-2-1 2-5zM704 466l-2-3 -3 3 3 3zM1218 470l-4-6 -4 6 4 3 4-1zM1250 467l-2-1 2-2zM496 486l5-4 -1-12 -10-3 -1 3 1 4 -2 4 7 4 -3 4zM757 474l1-5 -6 1 2 7zM1266 482l-5-4 1-4 4 0 4-5 3 5 -1 4 -2 3zM1083 474l-1-2 -6 2 2 4zM1177 482l-3-9 -5 5 1 4 4 2zM1333 474l-3-2 -4 2 4 2zM1346 494l4-4 0-8 -4-4 0-4 -2 8 -7 8 5 6zM1630 482l-3-4 3-5 3 5zM428 478l-2-3 -3 3 3 2zM630 479l-5-1 1-2 5 2zM708 478l-2-3 -6 3 6 2zM1246 480l-4-2 4-4zM1523 498l3-4 12-5 3-3 -3-8 -4-2 -8 5 -4-2 -2 11 -3 4 1 4 4 1zM720 486l0-4 -6-1 1 5 3 2zM1073 486l-3-5 -4-1 -3 2 7 5zM1084 502l-1-12 5-4 -2-3 -8-5 -3 8 2 12 5 5zM438 494l-4-9 -5 1 5 7zM486 490l3-4 -3-3 -2 3zM508 486l-5 0 3 2zM1309 486l-3-3 -6 3 6 2zM1136 494l6-4 -4-1 -5 5zM1322 490l-9 0 9 2zM1682 515l-8 3 -1-4 -7-4 1-8 -9-8 -4 2 -1-6 17 0 3 12 5 4 5 0 2 4zM435 510l3-8 -8-4 -4 2 -2-2 0-4 -4 0 0 4 3 4 -1 4 4-2zM764 498l-2-3 -4 3 -4-5 -3 5 3 3 4-2 4 2zM1070 494l-8-3 -6 3 2 2zM594 509l-3-3 3-4 3 4zM742 514l-8-12 4-3 6 7zM1095 502l-5-2 -2 2zM1160 506l4-4 -2-2 -5 2 0 4zM1258 505l-3-3 3-2 2 2zM1355 510l-1-6 -4-2 -4 3 -8-6 -1 7 -4 4 13 3 8-1zM606 516l-8 2 -4-4 1-4 7-6 4 0 2 2 1 4zM710 509l-2-3 2-2 2 2zM1258 512l-4 0 -3-2 3-7 4 4zM1190 537l-7-7 2-4 -2-4 3-5 16-9 4 10 -4 3 -10 1 1 12zM1221 514l-3-6 -2 6 2 2zM1413 518l0-4 -7-7 -2 3 5 8zM1419 510l-3 0 2 2zM706 520l0-6 2 4zM1654 520l-3-6 3-2 4-1 4 3zM1228 518l-2-3 -3 3 3 3zM1518 519l-10-1 10-1zM783 530l0-4 5-4 -6 0 -1 4zM1666 534l-8 1 -1-5 13-9 2 5zM1398 595l-12 3 -8-7 -4 2 -8 0 -4-3 -8 8 -4-2 -4 2 -3-8 3-3 11 3 -5-12 4-12 2-4 4 0 5-4 -1-2 -8 6 -4-3 -2-5 2-3 8 3 12-7 4 1 2-2 -1-8 3-3 16 27 8 1 4 7 1-4 17-20 -1-8 6-8 -3-4 12 1 2 3 -4 4 -3 20 9 6 0 8 -8-7 -8 7 -8 3 -4 12 -4-5 -12 1 -2 3 4 8zM1422 531l-2-1 2-1zM1602 532l-4-3 4 0zM559 534l-3 0 2 2zM726 535l-2-1 2-2zM754 535l-4 1 -2-2 2-3 4 1zM1418 539l-4 1 -3-2 3-8 4 2 2 6zM722 542l-2-4 2-3 2 3zM1306 548l-5-6 1-5 6 5zM1554 553l-8-1 -7-6 0-4 7-7 4 1 0 6 5 8zM559 542l-1-2 -4 2zM763 542l-1-2 -1 2 1 4zM1374 544l-3-2 3-2 3 2zM1478 546l-4 1 -1-5 5-1zM1200 550l-2-2 -1 2zM1538 556l-4 0 -1-2 5-7 3 3zM750 561l-3-3 3-4 4 4zM1558 559l-4 0 2-5 6 0 -1 4zM1242 559l0-2 3 1zM1798 563l-5-1 5-6zM462 574l15-12 -6 0 -1 4 -4-2 -6 2 -3 8zM511 562l-1-3 -4 3zM1028 562l-3 0 1 3zM1166 564l-3-2 3-1zM1314 583l-8-7 -8 2 -13-12 5-5 4-2 4 4 8-4 7 3 -2 4 4 4 1 4zM1334 580l-10-6 -1-4 5-4 -2-6 8-2 10 4 -4 12zM494 571l-4-1 4-2zM570 572l-2-2 2-2 3 2zM1364 574l4-4 -2-2 -5 6 1 1zM1093 574l-3-1 0 4zM1142 580l0-4 2 2zM1206 585l-3-3 3-7 5 3zM546 584l-2-2 2-1zM1079 582l-1-2 -8 2 8 1zM1154 587l0-7 2 6zM1330 592l-3-2 3-2 3 2zM1106 595l-4-1 6 0zM1292 614l7-8 2-4 -2-8 -9 8 -1 4 2 4 -2 4 1 2zM1334 602l-7 0 3-5zM2674 602l0-4 -2 0zM1247 606l-1-5 -2 1 2 6zM1358 604l-4 1 -6-3 6-4 7 4zM1106 611l-2-1 -1-4 6 0zM1300 618l6-2 2-2 -2-2 -8 2 -2 4zM515 622l3-4 -12-2 -2 2zM579 618l-1-2 -2 2zM1187 618l-1-2 -2 2zM775 638l5-4 -5-4 4-4 -1-4 -4 0 -4-2 0 8 -6 2 2 2 8-1 2 3 -3 4zM1286 698l3-20 6-4 3-5 4 8 8-11 -4 3 -12-15 -4 0 0-10 -4-1 -8 10 -7-3 -3-4 4-4 -2-1 -4 2 -8-1 -8 4 -4-5 -13 1 -2-4 2-4 -1-8 -2-2 -4 4 -1-6 -3-1 -6 1 -2 3 -4 0 -4 5 -5-4 1 9 4 1 4 4 8-3 4 4 4-1 3 6 -1 8 -5 0 1-4 -2-2 -3 10 3 5 4-2 4 8 4 0 4-5 2 2 0 4 -8 4 10 2 1-6 3-2 4 6 -4 6 -4-2 -3 4 7 4 4-6 4-2 4 2 4-3 4 5 -5 4 1 2 4-5 4 5 2-2 -6-4 8-2 2 2 -3 12 5-3 3 3 -2 4 3 2zM2068 626l-2-4 -4 0 2 4zM858 758l20-4 -5-8 5-1 4-4 4 4 3-3 -2-4 3-2 4 2 6-4 1-8 -3-6 -4 4 -8 1 -8-1 -4-4 -4 5 -16-10 -4 2 -4-4 -8 4 -4-5 -8-4 -1 2 4 4 -2 4 2 8 5 8 -4 2 -8-4 -4 0 -7-6 7-6 2-6 0-4 -4-4 -6-2 -4 9 -4-8 -3 5 2 4 -3 2 -11-6 0-4 4-4 -1-2 -4 4 -4-10 1-20 4-4 -2-8 -13-8 3-4 -1-5 -4 7 -4-6 -3 0 5-4 -2-4 -4 2 -6-6 5-8 -3-3 -8 0 -4 6 -4 0 -4 4 -1 5 3 4 -10 10 -4-4 -4 10 -8-1 0 6 6 3 2 4 -4 3 -4-5 -2 2 5 4 1 8 9 12 -3 8 1 8 6 16 -1 4 4 5 4-5 4 3 8-5 4 1 3-7 13-4 4 6 -8 0 0 2 4 2 4-1 4 3 0 14 3-2 -2-4 3-1 4 4 4-3 12 3 4 0 16 14 4-4 16-2 4 1 4 6 1-2 -5-4 3-4 -3-4 -4 0 12-3 6 3 -4 12zM1295 634l-5-4 8-4 -4-1 -5 9zM1926 643l-5-9 5-8 4 16zM2075 626l-1-2 -2 2zM407 634l-2-4 -5 0 -1 4zM1350 641l-4 1 -2-4 6-11 2 3zM2687 634l-5-6 -2 6 2 2zM584 638l1-4 -3-3 -2 3 2 4zM698 642l0-8 -2 4zM742 655l-3-1 -1-4 9-12 -5-4 4-3 8 3 5 8 -5 6zM1263 634l-6 0 1 3zM1338 635l-4 2 -2-3 2-2zM402 662l4-1 4-8 8 2 4-3 2-6 -2-9 -4 3 -4-2 -4 2 0 6 -4 2 -5-6 -1 8 3 8 -1 4 -7 0 3 2zM742 640l-1-2 1-3 2 3zM1962 642l0-6 2 2zM2042 642l0-6 2 2zM474 644l0-3 4 1zM691 642l-1-3 -1 3zM1138 644l-2-2 2-4 2 4zM1103 646l-1-2 -2 2 2 2zM1337 650l0-4 -3-3 -3 3 -1 7zM1346 649l-3-3 3-4 3 4zM762 654l-6-4 6-4 2 4zM1918 650l-2 0 2-1zM482 656l0-4 2 2zM754 659l-3-5 3-3 3 3zM1208 654l-2-3 -2 3 2 2zM2103 658l-5-8 -4 0 -3 4 3 6 4 1zM770 658l-4 0 0-1zM392 666l-6-7 -3 3 7 5zM1099 670l5-8 -2-1 0 5 -8 4zM1274 664l-3-2 3-3 2 3zM2350 665l-5-3 5-4 3 4zM433 670l-3-5 -8 1 5 4zM458 668l-4-2 4-1zM1168 666l-2-2 -1 2zM1270 669l-3-3 3-4 3 4zM1278 680l-5-6 5-8 4 4 0 4zM1378 667l0-2 1 1zM2161 666l-3-4 -4 4zM482 670l0-2 2 2zM1126 675l-2-5 2-4 3 4zM2350 673l-3-3 3-2 3 2zM462 677l-2-3 5 0zM1220 674l-2-1 -1 1zM2322 679l-7-1 -1-4 4-4 4 5zM2762 675l-3-1 3-3 2 3zM2778 675l-4-2 4-1zM2806 677l-4-3 4-3 2 3zM987 686l-1-4 -8-5 -2 1 6 7zM1142 686l-8-3 -4-5 4-3 4 4 4 0 3 3zM1154 679l0-2 3 1zM2774 707l-12 2 -2-3 0-12 -10-4 2-8 -1-4 3-3 4 2 0 5 7 8 1 4 12 4 0 4zM1107 686l-5-6 -1 2 3 4 2 2zM1150 691l-3-1 -1-4 1-4 3-1 4 5 -1 4zM1223 690l-5-8 -1 4 5 6zM1308 694l2-8 -4-5 -3 5 3 12zM535 690l3-4 -4 4zM2886 686l-4-4 -5 4 1 4 4 0zM1142 693l-5-3 5-3 3 3zM1216 694l-2-2 -2 2 2 2zM1374 695l-4 1 -5-2 1-2 8-1 3 3zM1134 703l-5-1 5-7 3 3zM1146 700l-6-2 2-3 6 3zM382 708l0-3 4 1zM1266 714l1-4 -5-4 -3 4zM1366 707l-2-1 2-2zM742 711l-1-1 3 0zM912 710l-2-2 -2 2zM940 742l13-8 -4-4 1-3 4 1 7 6 -3 4 8-5 5 1 -5-5 -4 4 -8-9 -2-6 2-8 -5 0 -8 8 4 4 -3 4 0 8 -6 8 2 2zM1162 714l5-4 -3 0zM1226 730l8-4 2-4 -1-12 -5-3 -4 6 -3 1 10 4 -7 7 -4 1 -2 4 2 3zM1318 726l-7-12 7-6 4 0 3 2 -5 8 2 4zM1338 726l-8-4 -3-4 3-8 4 7 4-1 3 2zM2838 713l-4 1 -3-4 7-1zM746 716l-2-2 2-3 2 3zM810 724l-5-6 5-7 3 11zM1251 714l-3 0 2 3zM1350 722l-6-4 1-4 7 4zM891 718l-3 0 2 2zM1218 718l-4-2 -2 2 6 4zM742 724l-3-2 3-3 2 3zM750 724l-2-2 2-1 2 1zM842 729l-10-3 10-4 2 4zM858 724l0-4 3 2zM1159 722l-1-3 -2 3zM1163 734l7-2 6-6 -6-5 -2 5 -7 8zM1362 723l-2-1 2-1 3 1zM746 730l-2-4 2-2 2 2zM866 728l-6-2 2-3 6 3zM878 738l-10 0 -3-4 2-4 8-4 3 4 -2 4 5 4zM946 728l-3-2 3-2 3 2zM1127 734l1-4 -2-2 -2 6 2 2zM854 737l-6-3 6-3 3 3zM886 736l-4-2 4 0zM1342 743l-4-5 4-5 2 9zM402 759l-4-3 -8 2 0-4 -4-4 -4 2 0-16 12 5 5 9 8 4zM750 742l-1-4 -7-4 -3 8 3 3 4-4zM939 758l-1-4 5-4 -1-1 -4 5 -4-1 -3-7 -4-4 -1-6 -4-1 -3 3 2 4 -2 4 7 4 -3 4 3 1 4-4 8 8zM774 758l0-8 -4-8 -9 8 2 4 -2 4 1 2 8-5zM971 742l-1-2 -2 2zM1288 746l-2-4 -4 2 -4-3 -5 5 1 3 4-5 4 3zM758 754l-8-4 -5 4 1 2 4-6 4 7zM766 751l-2-1 2-1zM454 756l-3-2 3-3 2 3zM426 769l-10-7 4-4 6-2 4 2 -2 4 1 4zM439 762l1-4 -2-2 -3 2zM466 761l-3-3 3-3 3 3zM688 762l-2-3 -4-1 1 4zM394 778l-8 3 -4-1 0-15 16-4zM523 766l-5-5 0 3zM871 770l-1-8 -6 0 2 8 4 2zM402 767l-3-1 3-1zM2494 767l-4-1 4-4 1 4zM1244 778l-11-8 0 4 5 7 4 0zM1253 774l1-4 -6 4 2 2zM2486 774l-6-4 6-2 3 2zM615 778l1-4 -2-4 -5 4zM2474 780l-3-2 3-2 3 2zM2490 825l-8-7 -4 0 8-12 -8-3 -6-5 2-14 4 2 4-5 16 2 4-8 8 13 15 10 1 5 2-5 9-4 -6 8 0 4 3 2 4 1 4-9 3 2 -3 8 -8 6 -8-2 2-4 -2-1 0 5 -4 1 -8 1 -8-3zM723 786l-9-4 8 8zM2470 783l-5-1 5-3 2 3zM1022 810l16-16 0-4 -4-5 -4 2 -4 7 -2 4 1 4 -9 4 1 4zM702 790l-9 0 5 2zM897 790l-3-2 0 5zM1001 790l-4 0 1 2zM2474 820l-4 0 -2-2 1-4 -3-1 -20 1 -12-10 0-9 8-3 4-4 12 0 4 4 5 2 -2 4 3 8 4 8 6 4zM663 802l-2-4 -11-4 -3 4 7 4 4-2zM831 798l1-4 -2-1 0 7zM1030 801l-4-7 8-2 4 2zM496 806l-6-4 0 5 4 2zM872 802l-2-3 -1 3zM771 806l-1-2 -2 2 2 2zM1004 814l-1-4 -6-4 -2 4 3 4 4 2zM434 812l-2-2 2-2zM703 814l3-4 -4 0 0 7zM723 810l-1-1 0 2zM962 816l-4-2 4-3 2 3zM1302 816l-3-2 3-2 3 2zM446 818l0-1 2 1zM634 824l-1-2 1-4 2 4zM762 819l-2-1 4 0zM2454 827l-5-1 -1-8 6-3 2 3zM834 827l-2-5 6-3 3 3 -3 4zM850 827l-2-1 2-4zM2462 864l-3-2 3-8 -1-4 3-4 -4-12 6-5 4 4 8 0 5 5 -16 16 -1 7zM506 841l-2-3 2-2 3 2zM2530 840l-4-1 0-4 4 0 2 3zM1162 846l0-4 -2 0 2 5zM1283 842l-1-3 -2 3 2 2zM838 848l-2-2 2-3 3 3zM638 857l-4-2 -1-5 7 4zM1151 858l5-4 -2-5 -8 5 2 4 2 1zM558 857l-3-3 3-3 3 3zM846 856l-7-2 7-3 2 3zM562 878l-4 2 -3-2 -1-5 -12 1 2 4 -2 3 -8-11 -1-8 1-2 8-4 4 2 -1 4 5 5 4 2 4-10 3 3 0 4 7 8zM686 883l-5-1 8-16 -4-4 5-6 0 10 3 8 -3 7zM1164 858l-2-2 -2 2zM550 864l-2-2 2-2 2 2zM942 871l-4 0 -3-5 7-2 2 2zM966 887l-4-1 -2-8 2-12 4-1 6 9 -4 4zM1276 874l-6-4 4 5zM581 890l5-4 -4-11 -4 7 2 4 -3 4 1 1zM791 886l6-4 1-5 -7 5 -1 3 -7-3 1-4 -2-2 2 10 2 2zM1130 881l0-4 2 1zM592 882l-2-3 -4 3 4 4zM600 890l7-4 -9-4 -2 8 2 2zM827 882l-1-2 -1 2zM2438 907l-3-1 -2-8 1-5 4-4 1-7 3-2 5 2 1 4 -5 8 -1 9zM1158 888l-3-2 3-2 2 2zM686 890l0-1 1 1zM1014 892l-2-2 2-1zM466 895l-3-1 3-2 1 2zM783 898l2-4 -3-3 -3 7 3 2zM1010 895l0-4 3 3zM1142 905l-3-3 3-4 3 4zM1082 927l-8 0 -8-7 -4 4 -4-2 2 4 -2 2 -4 0 -4-6 -4 2 -12 1 -4 5 -4-5 -4 0 -4-11 5-8 0-4 11-4 5 4 19 3 8 6 4-3 4 5 4 0 4-4 4-1 3 2 -5 8 0 8zM789 914l1-5 -4 4 -4-6 -8-3 -6 10 2 2 8 1 4-3zM2434 911l0-4 2 3zM595 918l3-3 4 1 3-2 -3-2 -11 2zM823 914l-5-2 -2 2 6 3zM1177 934l4-4 -3-4 3-4 -7-8 -2 0 2 4 -4 3 -4-2 -3 3 9 4 -1 4 1 4zM771 938l5-4 -5-4 3-4 -4-4 -4-1 0 2 4 0 4 3 -6 4 2 11zM820 922l-2-2 -3 2 3 2zM2430 935l-3-1 3-9 8-3 2 4zM609 926l-3-2 -2 2zM823 930l-1-1 -3 1zM794 938l0-5 2 1 0 4zM1026 941l-3-3 3-4zM1150 959l-4 2 -9-7 2-4 -4-4 2-4 5 3 7-3 -3-4 8-2 4 2 4-8 2 4 -3 8 3 4 -10 11zM2386 1004l-4-2 4-16 13-16 -2-4 5-10 4-4 4 1 0 5 4-1 3 5 -4 4 0 8 -3 8 -4 2 -9 14zM1162 967l-2-1 5 0zM886 971l-1-1 3 0zM1130 984l-12-5 3-5 -3-4 4-2 4 8 10 2zM730 976l-3-2 3-3zM872 990l-2-8 5-4 -1-4 -4-1 -3 1 3 8 -2 8zM958 1039l-8 1 -12-4 -4-4 -8 1 -5-3 -3-4 5-4 -5-7 -8-3 -6-6 4-12 -1-8 3-15 11 15 -1 8 -4 4 0 4 9 4 1 6 12-1 8 6 4-2 8 3 2-4 -3-4 5-2 5 6 1 8 -4 4 1 8zM850 990l-4 2 -6-2 4-4 -3-8 1-2 4-2 4 3 2 9zM1094 990l-4-1 -7-7 7-6 4 0 5 10zM1002 986l-2-4 2-2 2 2zM2400 982l-4 0 2 2zM1138 996l-4-2 0-10 4 3 4-2 1 1 -1 7zM1270 995l-3-1 3-1zM718 1001l0-4 3 1zM815 998l-5-3 -2 3 2 4 4-1zM1163 998l-1-2 -1 2zM714 1004l-2-2 5 0zM938 1003l-4 0 0-2 5 1zM942 1012l-2-6 2-3 3 3zM826 1011l-2-1 2-2 3 2zM822 1015l-4 1 -1-2 5-2zM1082 1028l-5-2 1-4 -3-4 2-4 5-4 7 4zM2374 1023l-8 2 -3-7 3-3 8 0 4-3 4 2zM826 1040l-9-14 9-6 2 2zM676 1030l-2-3 -8 3 8 3zM750 1058l-6-4 2-4 -6-8 6-14 4 0 5 14 -2 12zM2354 1039l-5-1 5-6 3 6zM679 1038l-1-3 -4 3 4 4zM1249 1042l-3-4 -4 4 -4-4 8 6zM822 1054l-4 0 1-12 3-3 3 3zM902 1047l-4-5 4-3 2 3zM1255 1070l2-8 3-4 -10-10 -9 6 1 3 4-1 3 2 -1 8zM1314 1075l-4-1 -4 1 -6-5 6-7 4-1 6 8zM694 1071l0-5 4-1zM2326 1106l-11-4 -2-8 1-4 4 1 8-11 4 1 10 13 -1 4 -9 2 -1 6zM826 1087l-2-1 2-1zM962 1096l-2-2 2-4zM802 1100l0-3 2 1zM1102 1109l-2-3 2-9 4 9zM802 1108l-2-2 2-3 2 3zM1106 1112l-3-2 3-3zM1218 1114l-2-4 2-2 3 2zM1214 1135l-4 0 -1-5 -6-4 7-11 4-3 3 2 4 8 1 8zM1106 1120l-4-3 4-1zM2278 1135l-2-5 2-3 8 0 4-6 1 1 -1 10 -8 0zM674 1148l-3-6 3-4 0-10 7 6 0 8zM682 1132l-2-2 2-4 1 4zM2266 1139l-4-1 3-4 3 0zM670 1141l0-5 4 2zM678 1158l-4 0 4-10 4 5 4-3 0 4zM1166 1168l-6-2 -3-8 5-8 8 1 2 3 0 8zM998 1204l-4 0 -2-6 -10-8 -6 0 -6-5 -5 1 -5-4 3-4 -4-4 11-9 3-3 -1-4 6-6 4 0 4 6 7 4 -9 4 6 1 4-3 5 18 8 4 1 8 -2 2 -4-4zM994 1161l-2-3 2-2 2 2zM998 1164l-2-2 2-1zM1218 1174l-1-4 -3-4 4-5zM1138 1171l-4 0 0-4 4 2zM958 1179l0-3 2 2zM987 1186l-6 0 1 3zM1218 1195l0-3 3 2zM1010 1207l-2-1 2-1zM1090 1246l-4-2 -12 4 -5-6 0-4 -7 0 -4 4 -5-4 -3-4 1-4 6-8 1-7 8-5 4 3 9 1 3 6 4-1 3 7 -3 4 9 8zM718 1216l-4 1 -3-3 3-3 4 1 2 2zM734 1226l-4-4 4-8 4 4 -1 4 0 4zM1046 1233l-4-1 -10-6 -3-8 9-5 8 3 7 10zM1050 1216l-2-2 2-1 1 1zM1072 1222l-2-1 0 3zM1114 1231l-5-1 1-2zM1102 1240l-2-2 2-2 2 2zM1174 1247l-4-1 0-6 4 4zM1134 1282l-4-2 -4 2 -4-2 -1-2 1-6 -10-2 2-4 -6-4 -1-4 3-2 16 4 3-2 1-5 11 5 4 8 0 8 -3 5 -4-1zM1150 1259l0-2 2 1zM1250 1273l-8-1 -2-6 2-6 4-2 6 8 1 4zM1158 1296l-4-3 -4-7 -2-8 3-4 -5-4 1-4 7-8 8 3 3 5 -7 12 4 0 1 4 -1 8zM1090 1356l-4-10 4-2 3 6z"/>
<path fill="#FC3232" d="M1250 1140l-3-2 -1-8 3-4 2-8 -2-8 3-12 4-4 -5-8 4-4 0-4 3-4 1-12 3-1 0-3 -10-8 0-8 -3-4 -3-2 -4 3 -4-5 0-6 -4 4 -1 2 7 8 -3 4 1 3 3 1 -1 4 3 8 0 4 6 4 2 8 -1 4 -4 0 -4 4 0 8 -4 7 -4-4 -4 4 -4 0 -8-4 -5 1 -1-8 -8-4 -1-4 -5-4 -4-8 1-4 -1-5 -8 8 -4-4 -8-4 -2 1 3 4 -2 8 -7 3 -1-3 3-4 -5-12 1-8 -2-2 -8 1 -4-5 -4 4 -5-2 0-4 -11-21 -4 0 -2-3 0-4 5-4 5-10 4-1 4-4 10-1 2-5 8 1 3-12 4-4 1-8 -5-4 10-16 1-4 -6-4 -1-4 1-1 4 4 8-2 1-5 -2-12 -7-6 -4 1 -6-3 3-4 -4-4 3-12 -2-4 10-7 4-1 -8-2 -7-6 3-3 4 2 2-7 -4-4 8-8 -6-7 -4 6 -2-3 2-8 -4 2 -4-6 -8 10 -8 2 -4-5 -4 0 11 9 -3 4 -4 0 -4-5 -2 1 6 4 -4 2 -8-4 -4-6 -12 3 -10-11 -10 1 -4-2 -1 1 8 8 3 12 -14 11 -12 2 -16-7 -4 3 -4-6 -5 1 0 4 -3 2 -8-1 -8 9 -16 5 -3-3 1-4 -2-3 -3 3 4 12 -3 8 12 16 -1 4 5 12 -3 12 5 4 -13 8 5 8 -5 8 -6 4 -4 8 -3 12 3 8 -1 4 -8 9 -4-1 -4-4 0-4 -4 2 -2-2 0-12 -9-8 3-8 -1-4 2-8 3-3 8 5 2-2 -1-4 5-8 0-8 3-4 0-4 -3-4 5-8 -1-4 -12-4 -1-4 4-4 -1-4 1-12 -6-12 3-4 -3-8 2-8 1-12 -5-4 0-12 -3-4 1-4 -1-4 3-4 -4-4 -1-8 -6-4 10-16 -6 0 -2 5 -8-8 -4 0 -2-5 2-2 4 2 3-4 -1-4 -12-8 6-8 -4-8 8-4 8 5 8 2 2-3 -1-4 4-4 -1-4 3-4 -3-2 -4 4 -4-2 2-4 -2-2 -3 2 3 4 -4 2 -5-6 0-12 -15-6 -2 2 4 4 -5 8 3 4 -4 11 -4-7 -8 1 -2-9 2-2 8 8 0-2 -1-4 -7-5 -8 9 -4 9 -4 0 -3-1 -1-6 -4-2 0-4 -11-4 -8 4 3 4 -4 1 -16-10 2 5 -6 2 -4-6 0-4 -4 2 -4-3 -12 6 -12-11 -14-2 8-8 -10 6 -9 2 -3 9 -4 0 -1-9 5-4 -8-6 -4 4 -1-2 1-12 -2-8 5-4 -2-4 4-4 -1-2 -4 1 -5-3 -5-12 -5-4 7-3 4 3 -3-4 3-4 -3-4 3-8 -7-4 0-4 -5-6 -4 2 4 0 3 4 -4 4 -2 8 -8-4 2-4 -6 0 0 4 -5-2 -12 8 -10 2 0 4 4 4 -1 4 -5 2 -7-2 -1-4 -8 1 -5-9 -3-1 -17 9 0 4 10 12 0 4 10 8 -3 5 -8-5 -5 4 11 12 0 4 6 4 -8 4 -4 0 0 7 -3 9 5 0 6-11 8 2 4-2 2 3 -2 4 9 8 -3 4 6 5 1 7 14 16 -5 4 2 2 4-4 3 10 -8 20 -7 6 -4 1 -12-7 -4 8 -8-9 -4 7 -4 0 -4-2 5-4 2-12 -3-2 -4 0 0-2 7-4 1-3 4 1 3-2 -2-8 -9-4 -4 4 -8-5 -1 1 5 7 4-3 3 8 -3 2 -8 0 -1 6 -6 4 3 5 4-4 2 3 2 4 -7 4 3 4 0 5 4-2 2 1 -1 4 9 12 3 12 -4 20 -9 14 -12-10 5-4 -3-8 -5-4 4-4 -1-3 -7-5 11-4 -5-4 2-4 -11-4 3-4 -3-4 0-4 -6-4 -4 4 -16 0 2 4 -2 4 4 1 0 5 -16 11 -7 11 1 4 -2 1 -9-5 4 4 -3 5 -5-1 0 4 -4 4 2 4 -1 3 -8 6 -6-5 0-4 5-4 -3-6 -4 6 -9 0 6 8 -9 6 -12-7 -4 5 -3 0 2-4 -3-2 -4 3 -3-1 -1-4 -7-4 1-12 -14-13 0 10 4 4 8 3 -4 4 1 4 -9-7 -7 7 -1 5 -5-1 4-4 -3-4 -8 2 -4-2 -9 4 2 4 -2 12 -7 8 -8-8 -4 3 -8-6 -4 0 -4-6 -9 5 -5-12 1-4 1-1 4 4 4 1 1-4 5-4 -12-12 2-4 -15-8 3-4 -8-8 -5 0 5-5 5 1 -3-4 3-4 2-12 2 0 3 4 8-2 8 6 4-2 8 9 4-2 4 7 0 4 4 3 5 1 -1 14 8 7 4-1 7-12 -4-4 2-4 -10-4 1-3 4 2 1-3 -4-8 3-3 4 4 5-5 -1-2 -4 6 -8-12 2-4 0-8 6-12 -2-4 3-4 0-4 -2-4 5-8 0-9 -4 2 -3-1 7-12 -12-8 -1-4 1-3 8 1 4 2 4-4 -4 4 -3-4 3-13 -5 1 5 4 -4 1 -4 5 -2-2 0-4 -4-4 3-12 -6-12 -1-12 2-2 4 5 4-2 2-1 -2-5 4-3 4 0 4 6 3-2 6-12 -7-4 1-4 -3-2 -8 3 -1-5 1-3 8 1 1-6 3-4 6 0 2-8 -4-5 -6 1 2-12 -6 0 -1-4 6-4 -3-5 -4 2 -3-1 -1-4 -8 1 -8-5 -15 8 -9 1 -7-5 7-3 4-7 -4 5 -7-7 -1-6 -4 5 -8-3 -4 3 15 9 -1 12 -3 8 12 20 1 16 -1 4 -12 16 1 12 4 4 -8 16 1 8 -1 4 -4 2 -8-16 -6-2 7-4 0-8 3-6 -4 4 -2-2 0-4 -6-3 -3-5 -1-12 -4-8 -9-4 2-8 -9-4 3-8 5-4 5 0 2-4 0-4 -7-4 8-6 1-2 -4-4 2-4 -3-2 -3 2 5 8 -6 8 -4 1 -2-5 5-4 -3-5 -16-5 -8 0 0-24 4-4 4 0 4 7 4-7 4 3 8-4 4 4 4 1 24-14 0-8 4-6 12 0 6-6 -2-2 -8 5 -8 0 -12-14 -8 7 -2-4 5-4 -11-12 3 4 -3 4 -4 3 -3-3 1-8 -4-4 4-4 -2-1 -4 2 -4-2 -7 9 4 4 -1 2 -4-1 -2-5 -2-1 -4 1 0 3 -4-8 0-7 0-92 20 0 4 4 8-1 2-3 12 0 -4 4 1 4 -5 4 6 8 8 4 8 0 4 4 7-4 -10-8 3-3 4 5 4-2 -6-4 4-4 2-6 5-2 25 0 10 11 6-11 7 0 -6 8 1 3 4-1 9-10 3 0 236 0 -5 8 9 5 8-13 90 0 2 6 6-2 -1-4 35 0 8 11 4-6 4 2 6-7 85 0 0 8 1 2 4-2 4 8 -2 4 2 4 4 1 6-9 -8-4 7-4 -4-8 11 0 5 12 10 8 1 9 8-5 4 2 3 6 -1 4 -10 4 -4 4 -1 8 -14 12 2 4 4 0 1-3 4 10 0-3 9-4 -3-4 2-6 4 2 4-2 4-11 4-3 8 0 6 4 1 4 -3 12 8 3 4-2 3 3 -11 14 -9 2 -3 4 0 5 -8 2 -8-4 -4-7 5-4 -1-3 -4 6 -8-7 -8 8 4 9 12-3 3 2 -5 4 9 4 5 16 -4 4 2 4 -14 8 8 1 8 7 0-4 8-1 12 7 12 2 0 2 3-6 0-4 -7-1 -2-3 6-11 12-7 1 2 -5 12 12-2 4 4 4 0 3 6 -11 6 0 4 6 6 -6 8 -4-2 -2 2 -2 7 -8-3 4-9 -5 1 -7 10 -7 2 7 17 4-7 8 2 -2 8 -7 4 -3 10 -5 6 3 8 -5 4 2 4 -3 2 -4-1 -1 3 5 4 4-2 4 3 -1-5 5-8 3 4 3 12 -7 4 0 4 10 8 -2 4 2 4 -1 3 -4-2 -2 7 6 2 4-3 2 9 4 4 -6 6 -2-10 -2-1 -4 4 -7-7 1-4 -2-2 -1 2 1 6 7 6 5 9 4 0 3 3 -3 5 -4-3 -4 6 0 4 -8 8 12-4 1 4 -4 8 3 4 -5 8 0 4 9 12 -4 2 0 5 5-3 -1-4 4-1 4 7 4-6 3 4 -1 4 2 3 4-5 4 3 4-2 4 16 8 2 3 3 -3 4 4 2 4-2 -3-8 3-3 8 6 4-3 4 1 3 11 -3 3 -10-3 -4 4 2 2 12-1 8-5 4 5 3-1 1-4 4 4 7-4 -4-4 5-6 6 6 0 4 2 3 6-7 -5-4 -1-8 5 0 1 4 7 4 2 12 -3 8 3 4 -2 4 3 10 4-1 8 3 3 8 4 4 1 4 4 2 14-14 -14 2 0-3 4 1 6-8 0-4 -6-4 1-4 -4-4 2-4 -7-4 -4 2 -1 10 -7 7 -1-3 -6-4 1-4 2-5 6-3 2-6 4 5 4-3 -10-8 3-8 7-7 2 7 6 3 0-3 4-1 16 1 -4 4 2 4 -1 4 9 12 2 21 4-1 4 4 -8 2 -4 14 3 4 -3 5 4 0 4-4 4 7 -5 8 -1 8 -7 8 1 2 4-4 4 3 4 0 2 7 4 4 -6 4 -4-11 -6 3 2 10 6 2 -10 2 3 6 -2 4 -7 8 12 12 -6 1 -2 3 2 5 8 1 2 2 -10 8 5 4 -7 4 4 4 1 8 -4 4 3 12 10 8 5 16 -5 8 -12 2 -8-9 -2 7 3 4 -3 8 3 4 -1 3 -4-2 -1 3 2 4 -1 8 4-2 4 4 4-7 5 5 1 12 -10 4 0 4 5 4 -2 12 5 9 2-1 0-8 2-2 8 1 1 5 -7 4 -1 12 -5 9 0 15 -12 24 -4 28 -4 3zM1198 459l-8-2 -4-6 -4 0 -8-8 -4 4 -4-1 -4 4 -4-2 -1-2 5-2 4 2 4-7 12 2 4-3 2-8 -6-2 -4 4 -8 2 -7-8 -1-5 -4 5 -4 0 -9-8 1-3 15-1 -3-1 0-8 -4 0 -4 3 -8 0 -4-3 -3-7 0-4 -5-4 -8-11 -4 7 4 10 3 2 1 12 -4 3 -2-3 -3 0 -3 7 -8-8 -8 7 -5-6 3-8 -6-4 -8 2 -1-2 20-4 -11-1 -4-12 -8-3 3-8 6-4 -1-3 -9-1 50 0 -2 4 1 8 8 9 4-5 4 0 -8-4 3-4 -6-4 0-4 20 0 1 16 6 7 6-7 -5-8 2-4 0-4 89 0 -4 8 -4 3 -3-3 6-4 -3-2 -4 2 -5 4 1 4 -7 4 6 4 -6 4 2 4 -1 4 2 7 4-4 4 3 3-2 -9-12 10-11 12-1 4-7 4 0 6-5 32 0 -4 8 4 8 1 12 4 8 -4 8 -3 1 -4-2 -8 4 5 5 -5 7 -4 3 -12-18 0-4 -2 0 2 4 -9 4 3 4 -2 5 -8 0 -2 3 1 4 -11 9 -4 1 -4-5 -8 5 -4-4 -4 4 -4 1 -8-6 -4 3 -4-1 -1 1 2 12 5 8 -2 4zM1422 451l-4 2 -16-7 -2-4 8-12 -2-1 -4 5 -12-1 2 5 -2 4 -8 3 -12-17 -3 2 3 8 -4 9 -4-2 -4 2 -3-5 -5-2 -12 1 -4-3 0-15 4 0 4-6 15-11 2-8 3-2 8 2 9-8 -3-28 17 0 -5 20 2 10 4 2 4-4 -8-12 16-10 4 1 4 7 8-3 0 5 12 8 0 5 1-5 3-1 4 4 4-3 2 4 -2 4 -12 4 4 3 4-2 12 3 -12 10 -4 1 -12-7 8-4 0-4 -4-3 -4 1 0 6 -9 8 9 8 2 8 -5 4 -1 6 -8 2zM1474 390l-12 2 -8-6 -1-8 -4-4 23-8 -6-2 -4 4 -4 0 -1-6 35 0 -2 5 -4 0 -4-3 -6 2 -1 4 5 4 -2 4 7 4 -3 3 -4-1zM1546 439l-8 2 -8-7 -10-4 -2-3 -6-1 3-8 -2-4 1-8 8-12 1-8 6-4 3-8 -6-5 -2 5 -6 3 -8-2 -6-5 -2-5 4-2 4 2 3-3 19 0 2 2 38-2 -2 12 -4 3 -8-7 -4-7 -12 5 -7 14 2 8 -2 4 5 4 -2 5 11-5 5-10 4-2 -4-1 -2-7 6 1 4 6 8-6 4 1 8-4 12 10 12 2 15 18 -7 3 -4-4 -8-1 -8-9 -3 3 2 4 7 4 -6 4 -12 2 -1 10 -3 3 -6-7 1-8 -2-4 -9-5 -4 9 -1 12 -10 8zM1618 378l-5-8 2-8 15 0 5 4 -5 7 -8 0zM3006 791l-52-36 -20-16 -12-24 -5-5 1-40 -8-3 -8 4 -11-9 7-4 8 0 -16-10 -6 2 6 5 -2 7 -14-5 -4 3 -8 0 -4-8 -8 4 -20-12 -4-1 -4 6 -3-3 2-4 9-4 -4-7 -8 0 -4-3 -20 11 -8-3 -1-6 -7-3 -8 3 -12-3 -5-5 -1-8 2-4 -4-9 -5 1 0 8 -3 5 -3-5 -6-4 1-8 14-8 -1-12 3-3 1-5 -9-3 -12 1 -3-2 3-6 -4-2 -7 8 7 1 2 3 -2 6 -4 2 -8-8 -8 10 -12-1 -8-7 -8 2 -4 5 -4-1 -6-4 0-4 -6-1 -6 1 7 4 2 4 -3 4 -6 0 -3-4 0-4 -11 1 -8-11 -8-2 -7 4 4 4 -1 6 -6 6 -6 1 -3-5 2-8 -3-4 -9 4 -3 5 -8 0 -8 4 -4-1 -4-8 -2 4 -12 4 -2 9 -6 7 -10 5 -4-1 1-4 -6-4 1-3 4-1 3-4 -3-5 -4 0 -7 5 2 4 -11 0 -8 7 -4-3 -8 5 -20-7 -7 2 -1 3 -16 2 -12-5 0-4 0 4 -12 5 -24-10 -4 2 -4-1 -4-4 -16 4 -4 3 -8-5 -8 6 -3 0 -2-8 -3-1 -5 9 4 4 -7 6 -8 1 -4-1 -3 2 1 4 -2 7 -4 1 -8 10 -4 1 -32-30 -7 3 -1 8 -4 8 -20 10 -10-10 2-5 -6 1 -6-8 -4-2 -10 2 2-8 -4-2 -4-1 -7 7 3 5 8 3 -16 9 -4-4 -4 3 -4-9 -12-2 -13-5 -5 4 0 8 1 4 4 4 -7 7 -4 0 -3-3 1-4 -2-3 -4 0 -6-9 -10-5 -2 1 1 4 -3 4 1 4 -5 2 -16-5 -8-11 -8-2 -8 3 -12-5 -20 7 -20 11 -8-1 -3-3 1-4 -6-7 -8 2 -8 10 -12-5 -12 2 -8-5 -13-1 -6-8 1-4 6-3 0-3 -8-3 -4-4 -16 19 -4-1 -3-5 -5-1 -4-6 -5 3 -5 0 -2-11 -8-13 -8-5 -4-5 -4-1 -4 10 -4 2 -4-3 -8-1 -4-11 -20-13 -8 0 -8-5 -4 2 -8-10 0-8 -8-2 -6-6 4-12 -2-4 -8-5 -6 1 -2 4 -4-2 -4 4 -4 0 -8-12 -8-1 -4-2 -8 1 -5-4 -11-1 -2-3 3-8 -5-8 0-8 -4-7 -8 0 -2-5 2-4 12-8 -4-8 -8-3 -8 6 -2-7 2-5 -4 2 -12-5 -4 8 -4 0 -6-8 -2-7 -4 5 -4-1 0-4 2-1 -5-4 2-4 5 0 4-11 5-1 -10-8 -1-4 19 0 7 6 10-6 18 3 0-3 9 0 -5 7 -5 1 5 4 4-3 4 7 0 5 -6 3 5 4 -2 8 9 16 6 3 0-7 4-9 12 5 4-7 4 1 0-7 -2-3 1-4 5 1 4-8 4-1 1-12 -2-4 695 0 -14 76 2 8 3 4 55 8 28-1 52 6 36-4 12 4 24-1 12 3 40 5 12-1 8-5 1-18 -13-28 -3-16 -4-4 -6-20 -9-16 322 0zM808 366l-2-2 -1 2zM957 382l5-2 5-6 -1-2 -4 6 -8-10 -4-2 -4 1 -4-4 -6 3 2 3 4 1 -5 4 9 11zM963 366l-2 0 1 4zM1066 383l-4-13 -4 4 -4-2 -4 5 -3-3 3-6 12 1 4-6 9 7 1 4 -6 0 -3 4 3 4zM1199 366l-1-2 -1 2zM1254 367l-4-1 7 0zM1606 368l-4-2 6 0zM442 377l-4 1 -6-4 0-4 2-1 4 2 4 0 3 3zM487 382l-5-8 -4-1 -4-5 -4 1 -4-1 0 6 3 4 2 0 0-4 3-2 6 6 -4 4 2 1 4-4 4 5zM523 370l-2 0 1 3zM776 378l0-4 3-4 -1-1 -4 4 -4-1 -1 2 1 6 4 2zM1490 376l-3-2 3-2 3 2zM1687 382l1-4 -6-7 -4 3 1 4 7 5zM475 422l6-4 -2-4 7-6 4 6 -5 4 5-4 4 4 4-2 2-6 -3-4 9-10 3 2 0 4 2 0 -1-8 4-5 -4 4 -4-3 2-4 -2-1 -8 7 -8-3 -4 6 -4-2 -2 1 0 4 -6 12 -4-5 -4 1 -3-4 0-8 3-3 6-1 -10-13 -1 5 4 4 -1 4 -2 2 -4-2 -4 5 -7 3 -8 12 -1 4 8 1 4 4 12-4 2 3 -4 4 2 2 4-4 4 5zM747 382l4-4 -1-1 -6 5 2 2zM1498 384l-2-2 2-4zM515 382l-2 0 1 2zM949 402l-4-4 3-8 -2-3 -4 4 -4-4 -4 1 -3-6 -2 0 -1 16 -3 4 1 1 4-3 12 0 4 5zM980 382l-2-2 -2 2zM1188 386l2-4 -9 4 5 1zM1626 390l-4-4 4-6 3 2 1 4zM920 398l2-12 -4-2 -8 1 0 5 -5 4 5 1 4 6 4 0zM987 390l0-4 -4 0zM1003 390l4-4 -5 2 -8-5 -2 3 2 5 4 1zM1256 402l4-4 1-4 -2-8 -4 0 -1 11 -3-3 3-8 -4-2 -4 1 0 4 4 5 -6 4 1 4 4 0 -2-4 3-4 4 4 -3 4zM1490 405l-3-3 2-4 -4-8 1-5 4 3 4-2 2 4 0 8zM754 426l0-4 -4-1 -5-7 2-8 -4-4 4-8 -1-5 -1 5 -7 4 7 8 -6 4 1 8 6 9 4-3 4 5zM1318 400l-4 1 -2-3 -1-4 3-7 6 3 1 8zM1166 398l5-4 -1-3 -8 3zM1506 398l-5-4 5-2 3 2zM983 402l-1-7 -4 0 -4 3 0 6zM634 402l0-3 0 5zM1389 422l17-8 1-4 -1-8 -4-3 -3 3 1 4 -6 6 -4-3 -12 1 6 12 2 2zM446 411l-4-5 4-3zM932 426l6-3 4 2 11-7 3-4 -4-4 2-4 -5 4 2 4 -1 1 -6-1 -6-5 -4 2 -4-2 -4 2 -8-1 -6-4 12 12 6 10zM1130 408l-2-2 4 0zM1378 410l-4-1 -4-6 -2 3 5 4zM1454 431l-4 1 -8-12 4-5 4-2 4 1 2-4 10-5 6 5 -3 8 -11 12zM1498 409l-2-3 2-1zM466 410l-2 0 2-4 3 4zM1218 418l5-4 -1-5 -8 5zM1314 431l-4-1 -5-8 5-13 8 9zM1545 430l-7-22 -4 2 -8-4 -3 4 11 8 2 4 -1 8 3 1zM1551 414l-1-4 -4 0 4 5zM1650 411l0-5 3 4zM470 415l0-5 3 4zM1134 458l-7-8 6-8 -2-4 2-4 -7-4 -8 4 5 4 -1 4 -8 3 -8-3 -2-8 -6-2 -5-6 9-5 4 2 4-3 8 4 0-5 -2-1 10-8 4 1 3 3 -4 4 6 4 -2 4 6 0 3 8 -4 1 -4 7 4 12zM1201 418l-7-1 -4-4 -4 2 -4-2 -4 5 -4-3 -4 3 4 3 8-6 4 6 4-2 4 3zM1506 429l-8 1 -8-8 6-4 2-5 3 5 6 0 5 4zM590 638l-1-4 3-4 -2-4 -7-4 8-8 0-4 3-2 4 3 8-7 8 6 16-2 2-6 6-6 7 2 1 6 4-4 13 6 -4-4 -1-17 4-2 4 3 4-7 4 6 8-6 4 1 1-2 -4-8 9 0 -3-8 5-7 4 0 4 6 4 1 8-4 4 2 4-6 1 4 7 8 12-3 3 3 -6 4 3 5 12-6 2-3 -3-4 9-8 -4-4 4-2 4-8 4-1 5-5 -1-2 -4 5 -8-9 -4-2 -2-4 2-5 4 1 3 4 4 0 -7-4 12-5 4 1 -1 4 3 4 -2 3 -4-1 -2 2 6 1 4 5 4-3 5 1 3-4 -4-6 -4 1 -6-3 -1-8 -5-6 -4 6 -4-4 -2-4 3-4 -5-10 -4 5 -4-4 -8 3 -6-6 6-13 5 1 -3 4 2 3 8-2 5-5 -3-8 -10 2 -2-2 3-20 -1-4 -7 0 5 4 -6 4 -4 9 -5-5 -3-12 -4 0 -4 0 -8 7 -4-1 -4 8 -4-2 -4-8 -5-4 3-4 -2-4 -4-3 -8 8 -4 1 -4-4 -4 2 -4-7 -8 5 -3-6 -5 1 -7-5 -1-5 -8-7 -8 12 0 7 -10 9 12 8 0 4 -18 8 -4-3 -4 2 -4-2 -13 11 1 5 7 7 -6 4 5 4 -1 4 -8 4 4 4 -5 15 -4-1 -4 1 -4 6 -17 11 4 4 -4 4 5 2 3-2 1-11 2 11 2 2 4 0 0 6 -12 5 -4-2 -4 12 -5 1 -4 8 2 4 -5 1 -1 7 5 4 -2 4 2 3 7 1 -4 4 1 6 -8 2 9 4 3 12 -5 4 0 4 9 7 4-7 4-2 8 1 4-4 1 5 7 7zM938 420l-4-3 4-1zM1674 430l-4-4 4-4 -4-3 -7-1 13 0 -2 4 4 4zM409 450l5-3 4 3 5-8 -1-2 -4 4 -2-6 -6-7 -6-1 6-8 -4 4 -5 0 3 8 -1 4 3 4 -5 4 5 6zM666 426l0-4 -5 0 1 5zM999 434l-3-4 4-4 -6-4 1 4 -3 4 6 5zM1032 442l-9-8 2-4 -11-4 2-4 -2-2 -3 2 7 15 4-2 3 3 1 5zM1078 422l-4-4 -3 4 3 2zM1365 430l0-4 -3-4 -6 4 3 4zM456 426l-2-2 -1 2zM1009 430l0-4 -5 0 0 4zM1063 426l-1-2 -1 2zM440 434l3-4 -1-2 -8 0 -4 2 4 5zM480 430l-6-2 0 2 0 2zM500 438l-5-4 -1-5 -4-3 -6 8 2 3 8-2 4 5zM948 430l-6 0 4 3zM1266 439l-4 1 -5-2 2-8 3-3 4 2 10 1zM1707 430l-1-2 -2 2 2 3zM514 434l-4-3 -3 3 3 3zM1166 437l-1-3 1-4 4 4zM947 442l3-4 -4-3 -1 7 1 1zM1114 438l-4-3 -2 3 2 3zM1282 443l-3-1 1-4 2-1 2 5zM514 446l-4-6 -5 6 1 2 4-5zM940 442l-2-2 -1 2zM975 450l4-8 -5 0 -4-4 -5 12zM504 454l-6-4 -4-6 -2 2 6 4 -4 4 4-4 4 7zM674 459l-2-9 2-4 4-1 -3 9 3 4zM999 474l7-4 0-4 4 0 5-8 7-3 5-5 -13 1 -8-3 -11 10 -1 6 -1-6 -3-3 -4 4 -4-2 4 7 8 3 3 3 -1 4zM1122 484l-1-2 -7-4 0-4 4-1 4 2 4-1 -2-12 -12-8 6-7 4 0 8 7 -2 4 2 2 8-6 4 4 -1 16 -7 6 -8-1zM829 458l1-5 -9 5 1 2zM1006 460l-3-2 1-4 6 0zM1166 455l-2-1 2-3 1 3zM730 458l-4 2 -1-2 1-2zM967 470l-1-8 -4-5 -4 0 0 2 7 3 -4 4 3 4zM471 506l11-11 8-1 4-4 12 0 3-4 -5-4 3-4 -5-10 -7-2 3-2 8 0 2-2 -2-3 -11 3 -1 2 -1-2 -7-2 -1 2 2 16 -7 8 4 4 -2 3 -4-3 -4 6 -4-5 -3 3 5 4 -2 2 -8-2 -5 4zM738 480l-4 1 -4-7 -8-3 -2-5 2-2 8 2 4-3 6 7 -3 4 4 4zM406 471l0-3 3 2zM590 474l-2-4 2-2 2 2zM1186 472l-2-2 2-2 2 2zM959 482l-4-4 1-4 -2-3 -2 3 2 5zM382 488l0-11 8-1 6 6 -10 2zM418 485l-3-3 3-8 3 8zM1003 490l3-3 0-6 -4-1 -2 2 1 4 -5 4 2 4 4-1zM1049 486l3-4 -2-3 -5 7zM394 509l-7-7 3-5 4-1 0-2 -4-4 12-6 8 2 3 8 -2 4zM426 492l-7-2 3-6 4 2 2 4zM734 491l-2-1 2-5zM976 486l-2-4 -2 4 2 2zM490 494l-1-4 1-2 4 2zM726 495l-2-1 2-5 3 5zM974 510l-2-4 2-3 8 3 9-4 -9-3 -4 2 -12-6 0-8 -1 3 -8 8 0 4 1 1 4-3 4 0 2 6zM1158 494l-4 4 -6-4 6-5zM442 496l-1-2 1-4 2 4zM750 495l-2-1 2-4zM1734 505l-4-3 -4 1 0-6 10 1 1 4zM512 514l3-4 -5-9 -4 5 -4-2 -3 2 11 1 3 3 -4 4 1 1zM1130 510l0-4 3-4 7 0 -1 4zM382 521l0-19 3 8 0 8zM414 512l0-7 2 1zM451 506l-3 0 2 2zM489 510l-7-4 -4 0 -3 4 7 2zM606 512l-2-2 2-4zM426 511l-5-1 5-1 2 1zM464 510l-2-2 -4 2zM576 510l-2-3 -2 3zM598 514l-1-4 4 0zM762 512l-5-2 5-3 2 3zM439 530l2-4 6 0 -1-11 -4 5 -4-5 -4 8 -5 3 5 5zM498 542l4-5 4 2 4-1 -3-4 5-4 -6-10 -4 2 -1 4 5 1 2 3 -2 3 -8-2 -4 2 -4-5 -3 2 6 4zM790 527l0-2 4 1zM1063 526l-2 0 1 2zM968 530l-2-1 -1 1zM1000 558l-5-8 3-3 4 2 2-3 -6-2 -8-6 0-10 -2 2 5 12 0 8 -3 4 4 4zM1082 538l-4-9 -9 1 2 8 3 3 4 1zM1034 566l-4-4 4-4 -4-5 -4 0 -7-7 3-3 0-5 -4-5 -6 1 5 8 0 4 -9 4 -2 8 4 4 12-8 6 4 -4 4 2 6zM1052 534l-4 0 2 3zM482 546l1-4 -5-7 -4 11 4 3zM984 538l-2-2 -2 2zM726 553l0-5 4 2zM1063 554l-5-6 0 4zM702 555l-2-1 2-1zM706 561l-2-3 2-1 2 1zM2603 562l-1-2 -2 2 2 3zM1011 570l-6-4 5 8zM390 572l0-4 2 2zM550 572l-2-2 2-2 3 2zM678 572l-2-2 5 0zM1081 582l-7-8 -2 4 -6 0 0-8 -4 3 -9-3 2 12 7-2 8 5 8 1zM386 618l-4-3 0-40 4 5 10 2 -3 12 -4 4 6 8zM442 594l-4-8 8 0 -4-8 -4 2 -4-4 -8 6 -5-4 0 8 -3 4 4 3 4-3 4 1 8 5zM2776 578l-2-2 -5 2 5 3zM2793 610l5-11 4-1 3-4 -5-8 -2-8 -4-1 -7 5 4 12 -9 8 4 8 4 3zM426 589l-2-3 2-4 2 4zM1166 592l0-3 2 1zM654 599l-3-5 3-4 3 4zM1186 741l-10-11 3-4 -1-3 -4-2 -2-7 -9-8 6-12 -3-4 8-8 -8-4 1-4 -4-4 6-4 -3-4 -4 7 -5-3 5-4 -4-4 8-4 -8-9 -4 5 -3-12 -2-4 -6-4 -9-22 -4 2 0 8 -4-7 -6-5 2-4 8 2 0-6 8-1 4 4 4-2 5 7 3 1 3-1 -2-4 3-3 19 15 -4 4 9 2 4 0 6-6 -5-4 7-7 4 6 4-1 1-6 4-4 -2-4 5-1 6 5 8 0 1 12 -3 3 -8-1 -12 10 -4-7 -3 3 2 4 -4 8 1 2 4-2 2 4 -2 4 6 4 -2 17 4-1 4-6 10 10 -7 8 3 4 -2 4 2 4 -2 8 -5 4 9 8 4-4 4 3 1 9 -5 2 -4-3 -8 9 -8 2 -4-2 -2 4 2 12 -4 3 -4-1zM1278 611l-4 1 -4-4 -1-6 -4-8 5 0 4 4 -1 4 4 4 3 4zM1150 601l-2-3 3 0zM1190 604l-2-6 2-4 6 4zM1202 601l-2-3 2-2 1 2zM2526 599l0-3 4 2zM2706 624l-8-2 -4-6 -10-6 2-2 12-1 8-3 3-2 1-4 8 2 2 2 0 4 -9 8zM437 622l7-8 -6-1 -2-3 2-5 -8-3 -1 8 -7 4 0 4 4 1 4 5zM1238 609l-2-3 2-1zM1114 615l0-6 5 1zM586 616l-1-2 3 0zM619 626l-5-8 7-4 -3-3 -4 0 -1 3 1 4 -4 3 -4-4 -2 1 5 4 -3 4 4 2 4-3zM639 614l-5 0 4 2zM2158 622l-4 1 -3-5 3-6 4-1 3 3zM2678 619l0-6 2 1zM600 618l-2-2 -3 2 3 2zM2722 695l-1-5 -14-12 -1-11 -4-5 4-5 4 1 6-4 -2-5 -12-1 -3-2 1-12 6-6 4-1 4 6 8 2 11-17 5-3 8 15 8 1 8 7 4 0 8 5 2 3 -2 5 4-2 4 2 4-7 12 2 2 4 -2 3 -8 5 5 8 -5 1 -4-1 -3-4 -1-6 -4-2 -8 2 -8-4 -4 2 -8 1 -8 8 -8-9 -4 4 1 8 -5 8 -4 12 2 8zM506 623l-1-1 2 0zM647 622l-1-2 -1 2zM1270 623l-4 1 -1-2 1-3 7 3zM2916 634l2-3 4-1 4 3 4-1 5-6 -3-4 -2-2 -9 2 -3 4 -8-7 -2 3 1 12 5 2zM510 628l-2-2 2-2 3 2zM770 642l-4-7 -4 1 -1-2 1-2 11 2zM1334 694l-4-1 -4 2 -8-5 -3 0 6 4 -7 2 -4-1 4-5 -3-8 4-4 -1-1 -4 4 -4-3 0-4 6-8 -6 0 -1-4 3-4 -1-8 -6-8 5-6 4 5 8-8 6 5 1 8 4 8 9-3 8 8 4-4 4 11 5 4 -7 8 6-1 3 5 -23 3 -2 1 2 3 4-1 1 2zM2146 640l-3-2 -1-4 4-3 3 7zM2646 741l-8 0 -4-3 -1-8 5-12 9-4 -1-4 -4 0 -4 3 -4-2 -8 1 -4-2 -4-4 4-12 -7 0 3 13 4 3 -4 0 -4 5 -4 0 -13-9 -2-4 3-3 4-1 -12-5 -2-3 2-6 12-6 3-24 3-4 9-4 5-6 4-1 8 4 5-1 3-5 12-3 4 5 10 3 4 12 10 8 3 8 -1 8 -5 8 2 12 -3 8 -8 8 2 4 -2 2 -8-4 -8 10 -8 4zM2674 641l-4 1 -2-4 2-5 4-2zM563 642l5-4 -2-3 -5 7zM1294 640l-3-2 3-1zM746 644l0-3 2 1zM1218 644l-4-2 4-2 2 2zM2745 646l-3-2 -1 2 1 2zM554 650l-4-2 -1 2zM793 654l-3-1 0 3zM1118 661l-1-3 1-6 2 6zM1302 657l-3-3 3-3 2 3zM1346 656l-2-2 2-2 2 2zM2826 659l-5-1 5-1zM595 666l3-4 -4-1 -2 5 2 2zM950 662l-8 0 4 4zM984 666l-6-4 4 6zM554 666l0-2 0 4zM1110 667l-4-1 4-1zM1118 670l-2-4 2-3 2 3zM536 674l6-4 -4-2 -8 6 4 2zM676 670l-3 0 1 2zM992 698l5-8 -3-1 -8 3 -4-2 8-6 8-1 0-1 -12-2 -3-2 -1-4 -4 0 -8-7 -2 7 2 5 4 1 8 10 0 4 -3 4 3 4zM1114 678l-3-4 3-4 2 0zM1218 670l0-2 2 2zM966 710l4-2 2-10 -2-9 -8 3 -8 0 0-3 4 0 3-3 -3-4 -4 2 -4-4 -4 1 -4 3 -6-6 1-4 -3-3 -4 5 -1-2 -5 0 8 8 -4 4 0 8 -6 7 -4-2 -4 2 -8-7 -6 4 8 8 -4 4 6 3 16-14 4-2 4-12 4 5 4-1 11 5 -5 8 2 3 8-2 4 9zM613 682l2-4 -5 0 -2 4zM1230 694l-4-4 2-4 -2-7 -4 3 -7-4 7-3 12 3 -1 4 6 4 -8 4zM1302 684l-5-2 1-4 5 4zM924 682l-2-2 0 4zM1106 704l-6-6 4-4 4-8 -3-4 1-4 4 1 7 11 0 4 -3 7 -4-3zM1378 685l-4 0 -2-3 7 0zM539 694l-1-11 -6 7 6 7zM1254 692l-1-2 1-4 3 4zM1294 688l-4-1 0-2 4-1 2 2zM2706 690l-4 0 4-4zM714 697l-4-7 4-3 3 3zM924 690l-2-2 0 4zM1218 693l-4-3 4-1zM406 695l0-2 3 1zM966 697l-2-3 2-4 3 4zM1174 694l-3 0 3 3zM1242 700l-4-6 4-2 4 2 0 4zM1298 695l-8-1 4-2 8 2zM2698 704l-4 1 -7-3 7-2 4-7 3 5zM414 701l-5-3 1-3 4 0 2 3zM1254 701l-2-3 2-1zM2594 699l0-4 2 3zM910 705l-2-3 2-3 3 3zM966 704l-2-2 2-3 3 3zM2664 702l-3 0 1 2zM422 712l-12 0 -3-2 0-4 7-3 4 7 4-2 2 2zM534 718l4-2 1-6 -5-7 -3 7 3 4 -6 4zM790 708l0-3 3 1zM914 707l0-2 2 1zM1238 711l-2-5 2-2 9 2zM2718 718l-5-4 -1-4 2-4 10 4 1 4zM822 728l-1-6 1-14 2 14zM1158 716l-3-6 3-2 3 2zM850 715l0-3 2 2zM1166 726l-3-4 3-9 3 1zM1282 715l-2-1 2-1zM717 726l-15-11 -10 7 6 4 12-2 4 3zM1146 732l-4-2 -2-8 2-3 12-1zM1222 719l0-2 2 1zM754 749l-3-3 4-8 -4-4 4-4 3-7 4-1 11 12 -1 4zM1116 722l-2-2 -3 2 3 3zM1190 726l0-5 -4 0zM842 727l-2-1 2-2zM1214 727l0-3 2 2zM2718 731l-8-1 8-5zM691 730l-5 0 4 2zM826 731l-2-1 2-2 3 2zM874 732l-2-2 2-2zM1129 734l1-4 -4-3 -3 7 3 3zM1158 733l-2-3 2-4 2 4zM2618 731l-5-1 5-1zM539 746l5-8 0-4 -2-1 -4 4 -4 0 -4-6 -2 3 1 4 -3 3 -4-2 -1 3 5 3zM854 735l-2-1 2-1 1 1zM1174 735l-2-1 2-1 1 1zM662 742l-4-5 0 3zM906 798l-4-2 -2-2 0-4 -6-4 -4 7 -8-6 -3 3 2 4 -7 3 -5-3 7-4 -6-8 -1-4 5-4 1-8 7-10 4 0 2-2 -2-4 6-8 10-7 7 7 -5 4 6 8 -2 4 6 4 -4 12 -4-2 -1 2 5 8 5 4zM934 739l-1-1 1-2zM1178 740l-2-2 2-3 2 3zM498 743l0-2 2 1zM538 745l-2-3 2-3 4 3zM830 995l-8 2 -12-5 -13-2 0-4 5-2 5-6 -3-4 -2-12 2-4 1-12 -5-4 2-4 -2-8 -4-4 2-4 -8-3 -4 3 -3-4 7-1 3-7 -9-8 6-12 9 4 -2-8 3-4 -2-6 -4 2 -4-3 -4 1 -2-2 6-1 4-6 9 3 -1-6 -8-6 -4 2 -1-2 3-4 -3-8 5 2 1-2 4-12 -5-8 3-4 -7-4 -4-9 -12-5 -6-6 10-9 2-3 -2-6 -4 1 -4-4 -4 0 -8-9 -4-2 -4 2 -3-2 11-9 1 5 3 3 4-1 4-6 7 4 -5 4 2 4 5-8 -1-14 8 0 4-7 16 7 4 7 4-2 3 5 -3 4 8 14 4-13 4-1 -2-4 2-3 16-2 -1 9 5-1 4 3 4-1 3 3 1 8 -3 4 3 4 -4 7 -4-5 -2 2 6 4 0 5 -4 3 -1-4 -15-4 -4 3 -4-1 -4 7 -8 4 -4-1 -1 12 -4 8 0 4 -7 12 8 5 4 0 14 15 0 4 14 8 -3 12 0 12 -4 4 3 4 -3 4 7 5 4-5 0-8 4-4 8 5 3 3 -2 4 4 12 8 8 7 24 -5 8 1 8 -4 4 -4 0 -14-8 0-4 -12-12 2-8 -4 1 -2 7 4 4 -12 12 -3 8 3 4 -2 6 4-2 2 4 -5 4zM854 746l-6-4 7 0zM1259 742l-5-3 -1 3zM2650 782l-9-4 -2-8 -4-4 2-8 -2-4 3-8 4 1 4-5 4-1 5 5 -1 10 -4 2 4 0 4 8 -4 14zM438 750l-5-4 1-2 4 0zM547 762l-9-8 -4 0 4 5 4-1 4 6zM826 756l0-3 3 1zM934 759l-4 1 0-6zM1246 765l-7-3 -1-4 4-3 7 7zM531 798l11-12 5 0 1-4 -2-5 12-1 4 4 4-3 4 2 2-1 1-4 5 1 1-5 3-2 8 3 1-5 -9-3 -8 6 -8-3 -4 4 -12-2 -4 4 -6-2 -2-7 -12 15 -6-4 2-4 4 0 2-4 -2-4 -8-2 -1 2 2 4 -7 4 14 16 3 0 -3 4 -8-4 -4 7 -4-8 -1 5 4 4 -3 4 16-8 2 8 2 2zM1055 766l-1-5 -4 5zM1148 762l-2-2 -1 2 1 3zM1205 762l-3-2 -1 2 1 2zM2606 765l-6-3 6-2 3 2zM686 767l-2-1 5 0zM1015 818l-7-8 6 0 8 6 2-6 10-5 9-11 -1-12 -5 0 5-3 2-5 -3-4 3-4 -2-1 -5 5 2 4 -5 7 0-7 -4-2 -4 4 -4-2 -4 4 4 4 4 0 -13 20 -7 6 -5-2 4-16 -7-2 -2 2 6 12 -10 4 4 12 2 1 8-5 4 0zM1216 774l-4-4 5-4 -3-3 -13 7 5 3 4-1 4 3zM2598 769l-2-3 2-3 3 3zM394 771l-2-1 2-3zM618 778l2-8 -6-3 -5 7 5 6zM1087 770l-5-2 0 2zM1135 770l-1-1 0 3zM1167 770l-1-2 -1 2zM430 779l-2-1 2-5 2 1zM758 775l0-2 3 1zM1062 778l-4-7 -1 7zM538 788l-8-2 2-4 -6-4 8-3 3 3 0 4 4 4zM914 780l-2-2 2-1zM1082 778l0-2 -6 2 2 3zM555 786l2-4 -3-3 -1 7zM1127 782l-1-2 -1 2zM1197 786l1-5 -6 5 2 2zM1294 785l-4-3 4-1 2 1zM706 788l-2-2 2-3 3 3zM954 787l0-3 2 2zM1286 801l-6-11 6-6 5 10zM714 827l-2-5 -6-4 5-4 -9-8 4-16 4-4 10 4 4 12 -2 3 -4 1 2 8zM1144 826l10-7 4 4 9-9 -5-3 -4 1 -4 2 -4 8 -10-4 7-4 -3-4 2-3 8 2 2-3 -6-3 -4 2 -2-3 6-8 -4-1 -8-6 -7 3 2 4 -3 3 -4-3 3 4 0 4 5 4 -1 4 5 4 -1 4 5 9zM1246 792l-3-2 3-3 3 3zM766 797l-2-3 2-2 3 2zM1142 798l0-7 4 3zM1191 794l-1-2 -1 2 1 1zM1195 806l5-4 0-4 2-4 -8 4 0 10zM2498 814l-4 2 -4-2 -1-4 6-4 -1-4 -6-4 6-5 12 0 5 5 0 4 -5 4 -5 0zM434 801l-3-3 3-4 4 4zM494 802l-3-4 3-1 2 5zM762 802l-2-4 2-2 3 2zM870 844l-4-2 1-8 -5-4 -1-4 3-4 -2-4 -8-6 -8 0 -4 3 -1-5 -7-3 -2-5 2-6 8 6 12 2 8-4 12 9 4 0 -8 1 -2 4 2 4 -3 4 7 4zM842 802l-2-4 2-1zM2454 804l-4 1 -5-3 1-4 8-4 4 4zM638 803l-2-1 2-3 1 3zM1062 806l2-4 -2-2 -2 2zM666 808l-2-2 2-3zM1251 806l-1-3 -2 3zM2522 807l-4 2 -2-3 2-2 4 1zM646 844l-6-6 4-12 -1-4 11-16 8 5 5 7 -9 8 -9 16zM1138 813l-2-3 2-2 2 2zM1055 826l5-4 -3 0 -3 3 -4-3 1-8 -4 0 -1 4 6 8zM1286 818l-2-4 2-2 1 2zM722 824l-3-2 0-4 3-2 2 6zM790 824l-2-2 2-3zM754 837l0-5 2 2zM1080 834l-2-2 -3 2zM754 852l-4 0 -6-6 6-5 6 5 1 4zM1094 843l-1-1 1-3 2 3zM586 866l-6-4 -2-8 8-6 4 1 6 9 -6 3zM606 851l-8 1 -2-2 2-3 4 1 4 0 2 2zM1158 852l-2-2 2-4 2 4zM486 891l-8 2 -8-11 -4 1 -5-5 -2-8 3-4 -4-12 4-3 8 1 8 9 8-3 1 4 -5 8 4 6 6 2 0 4zM494 855l-4-1 4-2 2 2zM762 861l-3-3 3-4 2 4zM1114 855l-2-1 2-2 1 2zM1166 856l-2-2 2-3 2 3zM550 870l-4 3 -8 0 -4-11 8-4 0 4zM750 864l-4 2 -2-4 6-5zM1154 860l0-4 2 2zM786 864l-2-2 2-1 2 1zM838 865l-3-3 3-2 2 2zM1146 862l-5 0 9 0zM1166 864l-4 1 -2-3 6-2 2 2zM566 874l-4 2 -5-6 1-8zM578 868l-2-2 2-2 3 2zM790 868l-2-2 2-2 3 2zM942 868l-2-2 2-1zM966 884l-4-1 -2-5 2-4 0-4 4-4 4 8zM590 872l-6-2 2-4 4 3zM1146 872l-1-2 1-1zM1274 871l0-2 1 1zM774 901l-9-11 1-4 6-4 -4-4 0-4 10-2 2 2 1 16zM1030 877l-3-3 5 0zM828 882l-2-5 -3 5 3 3zM1026 880l-3-2 3-3 3 3zM686 1122l-8-1 -12-15 -3-16 -5-2 2-10 -3-4 0-4 -6-4 -1-5 -5-3 -3-8 -20-28 -6-16 -5-4 -1-6 4 2 1-4 -9 1 -4-5 -1-8 -6-4 -2-8 4-4 -3-2 -4 3 -4-1 -3-4 -9-20 3-8 -4-4 2-4 -1-2 -8-1 -8-7 1-6 -4-4 1-4 -6-1 -5-7 5-3 2 3 3 0 0-8 3-2 4 1 2 5 6 5 8 3 4-5 8-1 6 6 -1 4 6 8 -13 4 6 5 9-1 2 4 -4 4 0 4 9-2 8-5 3 3 2 4 -1 4 3 24 5 1 0 3 -4 12 4 1 2 7 6 4 1 4 5 0 -6-4 8-2 2-6 7 0 2-4 -2-4 3-2 8-3 6 9 0 4 -2 4 4 4 -2 8 -6 6 -8-3 -1 5 1 4 6 4 -3 4 1 2 5 2 -2 12 9 4 0 9 5 7 -1 4 4 12 3 4 -3 4 8 8 -1 4 5 28zM578 888l-2-2 2-2zM822 934l5-8 -4-4 3-4 -3-8 2-8 -2-4 -5-5 -11 13 3 3 0-7 8-7 2 7 -6 10 -4 0 -5 10 5 0 2 4zM866 895l-5-1 5-2zM482 912l-1-6 -3-4 4-5 4 0 1 5 -3 4 1 4zM606 903l-4 0 -3-5 3-2 7 6zM886 912l-9-2 -1-8 3-4 7-2 6 6 -1 4zM590 906l-1-4 -4 0 1 4zM770 906l0-6 3 2zM1062 923l-8-6 -4 3 -8 0 -4 3 -16-2 -1-11 5-6 8-4 4 6 12-2 4 2 0 3 4-2 11 7 -5 4zM580 914l0-8 -2-1 -1 9 1 2zM610 916l-5-6 9 0 0 4zM1146 924l-4-4 -8-1 -4 6 -8 0 -1-11 5 3 2-7 6-3 3 3 -3 5 8 0 4-3 1 2 2 8zM750 976l-6-2 3-4 -1-4 4-4 -4-5 -8 9 -4 2 -8 0 -4 4 -2-6 -6-6 -2-10 3-4 -6-4 4-12 -11-12 8-7 8 3 8-1 4 11 8-10 8 1 4 13 9-2 3-8 2 0 -1 4 3 4 -1 8 4 8 -6 8 1 12 -2 3 -4-4 -1 1 0 4 -4 4 1 4zM1082 918l-3-4 3-3 3 3zM818 918l-4 0 0-1zM843 922l-1-4 -4 0 4 7zM926 920l0-4 2 2zM1082 923l-4 1 -4-4 -4 2 -2-4 2-2 8-1 4 3zM1170 919l-2-1 2-2 2 2zM930 926l-2-4 2-1zM1058 926l-5 0 1-6zM786 927l-2-1 2-3zM1030 928l-2-2 2-3 2 3zM2438 926l-4 3 0-3zM942 948l-4 0 -10-6 -2-12 4-4 4 7 4 1 2 4 6 4 -1 4zM1150 940l-1-2 3 0zM1146 959l-7-5 3-7 8-5 4 2 4-3 4 5 -8 10zM750 946l-1 0 1 1zM786 991l-8 2 -6-11 1-12 6-4 1-4 -2-14 8-4 2 2 -1 4 4 4 -3 12 3 4 -4 8 4 4zM950 951l-2-1 -1-4 3-1 2 1zM1138 947l0-4 3 3zM958 967l-4-5 -2-8 10-4 4 1 3 3 0 4zM846 961l0-4 2 1zM886 960l-1-2 3 0zM2394 999l-4 1 -4-2 -1-4 5-12 10-12 -1-4 7-11 7 7 -2 8 -2 8zM894 967l-4 0 -3-5 3-3 5 7zM758 972l-2-2 2-2zM690 1050l-4-1 -7-7 1-4 -3-8 2-4 -8-8 7-11 4 2 3-7 5 6 8-17 4-5 -4 3 -2-3 1-8 5-4 3 0 7 4 -7 20 2 4 -3 4 1 4 -6 4 -2 8 2 4 -2 4 0 16zM878 986l-2-4 2-6 2 6zM914 996l-5-6 5-12 4 8 0 8zM954 995l-15-9 7-9 8-1 4 2 -1 4 5 4zM1094 989l-4 0 -6-7 2-3 8-2 0 5 4 4zM1130 982l-5 0 5-5 3 1zM2395 986l6-4 -3-2 -4 2 -1 4zM1138 993l-2-3 2-1 3 1zM1165 998l-3-7 -2 7zM910 1011l-4-5 4-9 6 9zM954 1040l-8-2 -16-8 -4 2 -4-1 -3-5 4-4 -3-8 2-5 4 5 12-2 4 5 8 0 12 4 1 13zM1082 1026l-6-8 6-7 6 3zM2370 1022l-4 1 0-5 6 4zM750 1055l-5-1 4-4 -1-4 -4-4 2-10 4 4 3 10zM2354 1038l-1-4 1-1zM902 1045l-3-3 3-2 1 2zM1246 1050l-3 0 3-1zM1246 1061l-4-3 6 0zM1314 1072l-8 0 -4-2 4-5 8 3zM1254 1075l-2-1 4 0zM2326 1103l-9-1 0-4 0-4 9-12 12 12 -3 4 -5 0zM1250 1091l0-3 2 2zM1214 1133l-7-7 7-11 6 7 1 4zM678 1127l-1-1 1-2 2 2zM674 1146l-2-4 6-10 2 10zM982 1164l-4-5 -4-1 4-4 5 0 1 8zM1166 1168l-5-2 -3-8 4-5 4-1 4 2 1 4zM998 1198l-10-4 5-4 -7-6 -6 2 -2 4 -12-8 -5-8 5-6 4 4 4-1 4-4 4 6 4-2 8 6 2 5 5 4 -5 4 4 4zM994 1171l-4 3 -3-4 7-1zM994 1203l0-4 4 3zM718 1215l-4 2 -2-3 2-2zM734 1225l-3-3 3-4zM1034 1225l-2-7 6-2 2 2zM1074 1247l-3-9 -4-4 3-4 1-4 6-4 -9-4 10-1 1 5 7 0 -1 8 8 8 -3 4zM1046 1230l-6-8 6-3 3 3zM1058 1240l-4-3 -2-7 14-10 0 14zM1038 1227l-2-1 2-2 4 2zM1042 1231l0-5 3 4zM1134 1278l-12 0 1-8 -5-1 -8-9 8-2 8 3 8-4 5 1 5 8 -1 8 -1 3zM1162 1270l-4 4 -4-1 -5-7 5-7 4 1 4 3zM1250 1272l-8-1 -2-5 2-5 8 4 2 5zM1154 1291l-3-5 0-8 3-3 8 7 -4 7zM1090 1354l-3-8 3-1 2 5z"/>
<path fill="#FF0000" d="M986 1009l-6-3 -2-6 -5 2 0-12 -3-5 -5-3 5-8 -3-4 7-6 4 1 7-11 3-20 -2-4 4-8 -1-4 -7-4 -4 0 -2-4 4-4 -1-8 3-4 -8-16 4-4 -4-8 5-20 -7-4 1-12 -2-4 1-12 -4-4 1-4 -5-8 6-6 -2-6 6-8 -4 3 -11-3 -2-4 1-10 -5-2 1-4 -4-4 2-4 -1-4 5-4 2-1 4 4 9 1 9-16 -1-4 5-4 -2-3 -4 3 -5-12 1-7 4-2 4 3 4-2 4 4 2-4 8-4 -4-4 5-4 -3-12 4-5 -4 5 -8-1 -8-7 -5 0 1-5 4 5 4-3 -4-5 4-4 -4 3 -8 0 -6 5 -4 8 3 4 -1 2 -4 1 -4-3 -12 1 -4-2 -2-3 2-4 4 1 6-9 -6-2 -4 1 -4-3 0 7 -4-1 -4 6 -12 6 -8 16 -12 1 -4-2 -5 3 1 3 6 1 3 4 -2 4 4 4 -3 5 -4-3 -8 0 -8 5 -8-2 -6-5 3-4 -1-1 -4 3 -12-1 -4 3 -8 2 -8-11 -7-3 3-8 -4-4 4 4 -12 6 -12-15 0 3 7 6 -3 5 -4 2 -4-8 -4 2 -6-1 2-4 -4-8 0-4 6-4 -2-4 4-4 4 5 4-5 -4 3 -4-3 -1-4 2-4 -5-4 5-4 -12-8 2-4 -3-4 5-4 -9-8 4-3 0-4 -4 7 -6-8 2-5 -8 3 -2 6 -2 2 -8-1 -4-5 -4 4 0 3 4 1 -4 0 -8 6 -4-2 -4 4 -8 0 -4 3 -6-7 1-4 -3 0 -8 10 -8 0 -4 5 -4-3 -4 2 1 10 9 12 -6 13 -4-2 -11 5 1 4 -2 4 4 6 4-6 4 0 4 6 8-2 0 7 -8 5 -4-5 -4 3 -4-1 -2 3 6 4 0 8 4 4 -2 4 3 4 2 16 8 4 -3 3 -8-2 -2 3 4 8 -6 13 -4 2 -8-1 -12 8 -4-3 -3 1 3 4 -4 4 -4-2 -6 2 -6 6 -4-1 -4 6 -4-1 -4 6 -4-1 -3 13 3 2 4-1 0 7 -20 12 -4-4 -4 6 -5-2 1-7 4-2 4 1 2-8 6-4 -8-8 1-12 -5-8 4-1 1-3 2-8 -4-4 6-8 -1-2 -12-1 0 7 -8 9 -8-6 -16-2 0-7 4 3 4-5 -6-8 4-8 -10-12 -6 4 2 4 -4 0 -4 4 -1-4 4-4 -3-2 -4 4 -4-3 0 5 -6 12 4 4 -6 8 3 4 -5 4 1 4 -3 2 -4-1 -6 3 -2 6 -2-2 0-4 -3-4 2-4 -2-8 7-12 -1-4 3-4 -3-8 4-4 0-12 -3-4 3-8 -4-4 1-4 6-6 4 3 0-1 -4-5 -5 1 5-16 -8 2 -3-2 5-4 -8-8 6-6 9 6 -5-4 -2-8 2-4 4 2 6-6 2-5 1-11 -4-4 3-4 -5-4 -1-4 2-5 8-3 1-8 -8-8 1-8 -6-4 6-4 -2-4 -8-2 -4-6 -6 0 2-6 19-6 -7-4 4-4 -6-8 6-5 1-7 -3-4 3-4 -7-8 2-3 4 1 2-10 -6-1 -5-7 6-16 -4-4 1-8 2-1 4 3 4-2 -3-8 3-8 -4 1 -10-9 2-3 13-1 -1-6 -8-3 -3-3 7-2 3-6 -4-4 2-4 0-4 7-7 6-1 -6-11 -3 3 2 8 -3 3 -4-6 -4 1 -2-2 8-12 8 0 2 2 1-2 19-1 59 1 1 2 2-2 30 0 3 4 -2 4 -9-2 -1 6 -5 4 2 8 5 8 0 8 3 6 4-2 -3-16 -4-4 6-4 1-3 1 3 6 0 -2-8 2-4 -1-8 73 0 7 4 -6 3 -4 0 0 2 8 1 4-4 8 7 4-4 4 7 -1 8 -7 8 2 16 3 4 -1 4 5 8 -1 3 -4-1 -4 11 -4-3 -4 3 -4-2 -8-8 -3 5 8 8 -5 3 -8 0 -6-3 1-4 -5-4 -2-7 -8-1 2 4 -6 7 -4 0 -4-4 -4 3 -4-16 -8 0 0 7 -8 2 -16-17 -5 2 1 4 -16 24 10 12 -10 3 -4-4 -4 4 -8 1 -13 12 1 6 5 6 -6 4 5 4 -16 13 -4 7 8 4 -8 4 -1 4 -17 12 -2 4 4 7 4 1 -1 4 -3 2 -5 10 -6 4 -8 12 6 20 -5 12 2 5 4-2 4 4 1 5 -5 2 -1 6 -4 4 9 8 -6 4 2 3 4 0 4 5 -2 4 3 12 -1 3 -5-7 -7-1 -11 13 1 4 -2 6 4-3 1 9 5 4 -4 4 -3 8 1 4 -4 2 0 3 4 2 8 0 7-3 -3-4 4-8 6 8 1 8 3 0 2-4 4 8 8 5 5-1 2-4 -3-7 -4 5 -2-2 2-7 4 2 2-3 -4-4 2-2 8 2 8-2 3 2 -14 20 0 4 5 8 3 0 -5-4 4-5 4-1 4 6 4-7 4 1 4-4 4 1 1-3 -5-4 0-16 -6-8 10-7 2 3 -4 4 2 2 5-6 -5-4 4-3 12-1 0-6 -4 4 -4-1 0-2 4-3 -15-4 -3-4 3-4 -1-4 -4 5 -4-1 3-4 -3-3 -4-2 -8 1 4 1 1 3 -3 8 16 4 2 4 -4 1 -4-3 -2 2 0 4 3 4 -2 4 2 4 -9 8 -6-16 6-8 -4-3 -8 1 -12-9 -8 1 -1-2 1-2 4 2 12-3 6-5 -6-3 -8 5 -9-6 1-4 4-1 4 5 3-8 5-5 11 5 1 5 1-9 11-9 8 3 4-4 4 0 7-6 0-8 9-5 4 7 8-2 8 9 1-9 -5-1 -5-7 9-6 8 1 4 10 4-5 4 0 4-4 0-6 -4 3 -7-5 7-3 1-5 3-2 8 2 6-4 -2-4 4-4 -3-4 3-2 4 4 6-6 -2-4 4-2 4 2 8-5 4 5 14 4 2 8 4-3 8 4 2-5 10 1 -2-5 1-8 9-4 -2-8 2-5 6-3 0-4 6-7 4 3 4-3 4 2 7-7 -7-9 -4 3 -3-2 0-8 3-4 -4 3 -4-1 -7-10 -1-8 -7-8 2-16 -7-2 -6-6 -1-4 3-3 5-1 -4-4 0-8 -1-2 -8 1 -2-3 2-2 8 1 1-3 -1-11 -4-1 1-12 -5-4 2-4 2-16 8-4 4-5 4 1 0 8 -4-1 -8 5 4 3 8-7 7 8 0 4 5 2 4-2 1-8 6-4 -3-2 -4 5 -4-3 6-8 -4-8 -5-4 22 0 5 1 4 6 9-3 -9-4 47 0 5 9 4 3 5-4 -3-8 9 0 5 3 5-3 2 4 -6 4 3 1 4-4 12-2 7 9 8 4 -3 4 -6 0 1 4 -3 1 -4-5 -1 12 11 4 -3 4 5 8 8 9 4 0 6 11 9 4 -2 8 6 4 1 4 6 0 -1-4 7-8 -3-4 2-4 -10-4 15-7 2 3 -6 4 5 12 -1 5 4-1 0 8 -4 4 -4-4 4 4 -2 4 5 12 -3 3 -4-5 -2 2 -1 4 2 16 -4 4 6-4 2-4 5 2 2 2 -9 8 3 8 10 12 1 4 -3 4 -4 0 1 4 3 2 8 0 8 9 4-4 5 5 0 8 -6 4 1 4 8 4 -6 4 1 4 -3 2 -4-6 -4 13 4-4 4 1 9-6 -3-4 2-4 4-1 12 15 3-2 -3-8 2-4 10-6 3 2 -3 8 4 5 20 0 2 11 6 5 12-3 12 10 9 0 5 12 0 8 2 3 5 1 -4 8 -1 8 0-4 -4-4 -5 12 1 5 6 3 -2 5 4 1 4-3 2 5 0 4 -4 4 0 4 -7 8 5 8 0 8 2 4 -2 4 6 4 2 4 -1 12 9-3 6 3 -7 4 4 4 5 12 4-2 8 5 4-3 8 11 8-1 1 2 -16 12 -4 12 3 8 -4 1 -4-7 -2 2 -1 4 4 4 -9 9 -8-5 4-6 4 2 3-8 -11 0 -4-4 -4 6 -4 1 -4-8 -12-9 -4 6 -12-8 2 4 -2 2 -8 0 -1-6 -3-3 -8 5 -8-2 -5 4 0 4 -3 1 -2-1 -2-5 -3 1 1 4 -6 4 -2 4 2 4 0 9 -8 0 -12-5 -4 4 1 8 -5 8 3 4 1 10 3 2 -5 4 6 8 -2-4 5-4 -1-4 6-2 4 5 4-2 4 1 4-4 4 1 2-3 -2-8 5 0 3 8 8-10 1 10 -2 12 5-2 8 1 13-11 -1-6 -4 1 -2-3 17-12 1-7 4 5 0-5 -3-5 3-2 4 6 4 1 4 21 6-2 -2-4 4-1 4 7 6-2 -4-4 2-4 4 2 4-3 4 5 6 0 -3 4 5 4 4 0 0 7 -5 5 2 4 6 4 0 4 -11 2 -2-2 4-4 -2-2 -4 1 -4 8 -4-1 -8-8 -8-3 -2-3 2-5 -16 0 -10 9 0 4 2 5 12 0 6 7 -2 4 2 4 -10 14 -12 0 -16-5 -4 2 -4-5 -8 2 -4 3 -15 1 -1 8 -6-4 -2-5 2 13 -6 2 -2-2 1-4 -3-8 -8-1 6 13 -2 4 3 4 -2 8 2 8 8 8 0 4 -3 4 4-2 1 6 4 4 -5 8 3 8 -8 8 1 4 -1 8 -2 4 -6 4 -3 12 -4 4 3 16zM730 369l-2-7 4 0 1 4zM938 362l-4 3 -3-3zM1190 368l-9-6 11 0zM3006 645l-12-10 -8 5 -8-3 -3-3 3-4 -4-3 -3 3 1 4 -2 1 -4-1 -4-6 -12-2 -3-12 -3-4 2-4 -1-4 -10-8 3-2 10-14 -2-6 -4-2 -1-4 -3-1 -8 21 4 8 -3 4 5 4 5 8 -7 4 -4-4 -8-1 -5-19 -15-5 -15 5 -6 8 -12 8 8 8 -3 3 -7 1 -4 4 11 0 4 4 -2 12 -2 2 -4-2 -8-11 -3 11 1 4 -14 3 -5-3 9-18 4 3 8-5 -8-9 -12-1 -8 3 -6 3 -2 7 -4 0 -8-4 -5 1 3-16 -1-8 1-8 2-2 4 1 1-3 0-4 -5-2 -1-6 4-12 13-2 3-2 1-4 4 1 2-13 8-12 -2-4 -12-7 -16-3 -12 1 -4 5 -4-4 -1 4 -3 1 -8-3 -16 10 -4 9 -8-2 -16 2 -4-8 -8 3 0 4 -4 4 -8-12 -4 2 -4 6 -8-4 -5 0 -3-4 -4-2 -4-8 -4 2 -8-2 -8 7 -4 15 -4-1 -4-8 -12-4 -8 4 -4-3 -8 2 -12-1 -4-9 -4-4 1-4 -5-2 -2 2 0 4 4 4 -3 4 -7 4 -8-3 -4 1 -8 15 -4 1 -12-7 -4 5 -4-1 -16-12 -4 0 -10 5 -1 8 4 8 -13 9 -7-5 -3-12 -6-6 -12 7 -4 6 -8 0 -4-4 -3 9 -9 1 -8-4 -8 9 -8-4 -1 10 -7 2 -13-10 4-4 -3-2 -4 1 -5 9 -11 1 -8 5 0-6 -2-4 -8-4 0-4 2-4 12 2 4-2 2-4 -2-8 -8-1 -16 11 -20-12 -12 6 -8-9 -5 1 -18 12 -9 2 -4 4 -4-2 -6 8 -1 4 4 4 -5 7 -4 1 -10-4 -6-5 -4 4 -4-10 -8 2 -5 9 2 4 -8 8 -1 8 -12-4 -8-5 -8-1 -4-3 -5-11 -15-13 -10 5 -2 16 -4 3 -4 0 -16-7 -12 4 2 4 -2 3 -4 1 -4-3 -12 2 -8-8 -4 2 -2-1 0-4 10-4 8 3 2-3 -10-6 -12 4 -2 10 -3 0 -2-4 0-8 -9-9 -5 5 3 12 -10 1 0-6 -8 0 -8 5 -4 9 -4 3 -4-1 -4 4 -4-1 -8-6 6-4 1-4 -3-3 -12-2 -8 5 -4-1 -15-11 -1-4 -4-4 -4-1 -8-8 -8 3 -16-1 -8 4 -4-1 -4-6 -4 0 -12-8 -4 1 -20-15 -4 0 -8 7 -33-7 -3-8 4-9 4 3 8-1 2 3 -1 4 3 2 5-6 -7-4 2-8 -8-7 -5-1 -7 13 -4-3 -6 2 -2 8 -4 3 -5-3 4-8 -3-2 -4 2 -4-1 -3-3 2-4 21-10 8 1 5-11 7-5 2-7 -10-10 -13-2 4-8 -2-8 -7-12 -6 0 0 5 -8 0 -3-1 -1-9 -4 1 -4 4 -4-1 -4-4 -8 0 -8-8 -1 1 3 4 -2 3 -4 1 -12-8 -1-4 5-2 8 0 8-9 4 5 8-8 0-3 -7-3 -5-5 -6-11 27 0 -3 4 6 12 -2 4 2 3 8 6 8 1 4 6 3-4 -2-4 2-8 5-8 -1-8 -4-4 400 0 -4 8 9 8 -1 8 5 2 12-5 4 5 4-1 2-5 -2-2 -4 4 -4-3 -3-3 1-4 -2-3 -12-9 32 0 -1 4 5 4 -4-4 5-4 30 0 1 3 1-3 10 0 1 4 -8 1 -2 3 8 8 -4 20 6 14 -4 0 -12-13 -4 2 -1 17 2 4 0 4 -14 4 1 5 4 0 1 3 11 0 4-1 8 2 4-1 -2-4 7-4 -10-4 5-12 12 3 5 5 11 4 4-15 8 4 8-5 11 8 -7 8 4-3 12 1 8-5 4 8 4-1 0 8 5 4 -1 4 8 2 7-2 -3-4 0-9 4-2 7 3 -5 4 -1 8 15 10 16 5 56 6 20-2 56 8 20-3 24 5 8-3 16 0 32 7 12-1 16 4 12-3 5-5 3-24 -1-8 -13-28 -1-12 -6-8 -3-8 0-4 -4-8 6-8 82 0 4 10 3-2 -2-8 215 0 0 59 -2 5 2 2zM2354 369l-4 0 -4-3 -5 0 -3-4 25 0 -5 1zM2434 373l-5-11 6 0 2 8zM2698 362l-4 2 -2-2zM382 375l0-12 5 3zM462 370l-4-4 4 0zM1226 370l-1-4 4 0zM2287 370l-1-6 -2 2zM2322 370l0-8 5 4zM922 371l-2-1 2-2 2 2zM970 371l0-2 2 1zM994 376l-3-6 7-4 2 4 -2 4zM2187 382l3-3 9-1 -2-4 -7-4 -4 5 -1 7zM2258 370l-6 0 2 3zM2398 372l-2-2 2-1zM802 378l6-4 -2-3 -4 7 -4-7 -2 3zM930 379l-2-1 2-7 3 7zM1843 374l-5 0 4 2zM2354 375l-4 1 0-5 4 1zM414 392l-4-6 -4 1 -2-1 -1-8 3-2 3 2 1 8 4-2 1 2 1 4zM634 379l-3-1 6 0zM970 379l-3-1 5 0zM2342 407l-8 1 -3-2 -4-8 5-4 2-15 4-1 8 6 4-1 3 7 -3 8 -6 4zM386 383l-2-1 2-1zM494 385l-3-3 4 0zM914 383l-3-1 3-3 2 3zM1218 390l-4-4 -4 1 -4-2 -2-3 2-3 8 6 4-1zM2266 386l0-6 -6 2zM482 388l-2-2 2-1zM490 386l0-2 2 2zM502 387l-2-1 2-2zM1106 387l-3-1 5 0zM1858 386l-4-3 -4 3 4 3zM426 392l-3-2 3-2zM906 391l-3-1 3-4 2 4zM962 403l-5-1 1-12 4 0 4 2 4-1 2 3zM390 399l0-5 3 0zM422 400l-5-2 5-8 3 4zM430 436l-8-4 -4 0 -4-2 3-4 -3-7 -9 3 1-4 -4-2 -4 5 -4 0 -4-3 -2-12 2-2 20-6 6 4 2 4 7-4 3-8 6-4 8 5 0 4 -4 2 -4-1 -4 14 -4 3 -8-11 -3 4 5 8 6 4 4-2 2 2 1 4 -6 4 5 4zM922 397l0-5 2 2zM994 402l-8-2 0-6 4-3 8 7zM2181 434l2-4 6-4 -4-4 1-2 8-1 4 4 2-1 -1-4 -9-16 -8-4 0-5 -16-2 -3 3 -1 12 13 16 -5 3 -1 5 9 5zM2406 411l0-5 -5-4 0-4 5 3 2-7 6-4 10 8 -2 8 -4 2 -8-2zM1178 402l-5 0 1-4zM1202 398l-2 0 4 0zM1831 410l-1-8 -3 8zM922 408l-3-2 3-3 3 3zM966 417l-5-7 5-5 2 5zM990 416l-2-6 2-4 4 4zM1006 419l-6-9 10-7 4 3 -5 4zM506 417l-4-3 1-4 3-3 3 3 0 4zM663 414l-5-8 0 6 4 4zM690 414l0-6 -2 2zM1014 412l-3-2 3-3 2 3zM386 415l-4 1 0-5 6 3zM714 414l0-4 -4 4zM1066 416l-2-2 2-2 3 2zM1887 414l-1-2 -1 2zM454 492l-12-6 -4-8 -8 0 -1-4 -8-8 4-4 -1-8 -4-4 1-4 5-6 4-1 4 5 2-2 -3-4 5-2 4 3 4-5 -4-8 -7 0 1-4 6-4 4 7 4-2 1 3 -5 8 4 2 3-2 1-4 1 4 5 0 2-8 4 3 4-1 5 14 3 3 4-13 0 6 4 3 5 1 -1 6 -5 2 4 4 -9 8 4 16 -1 4 -5-2 -12 6 -4-3zM1030 418l-1 0 1-1zM2230 426l2-4 -2-4 -4 0 -2 8 2 3zM498 432l-3-10 3-2 6 6zM966 423l0-3 2 2zM982 423l0-2 2 1zM1230 423l-2-1 2-1zM1766 428l-3-2 3-5zM662 431l-1-1 2 0zM1078 443l-8 3 -8-8 4-4 0-5 8-3 11 4 0 8zM502 435l-2-1 2-1zM966 438l0-7 4 0 1 3zM1851 438l-5-5 -7 1 0 4 11 2zM2294 436l0-3 3 1zM2393 434l-3-3 -3 3 3 3zM382 440l0-3 3 1zM386 455l-4 2 0-14 8 0 -3-5 11-1 0 5 -10 8zM506 443l0-6 1 1zM742 440l-1-2 1-2 3 2zM978 438l-3 0 3-3 2 3zM994 440l-4 0 0-6 5 4zM402 443l-4-1 4-2 2 2zM797 446l0-4 -5 0 2 5zM998 446l0-4 1 0zM1902 450l0-4 -7-4 -5 0 8 10zM1054 448l0-3 2 1zM1066 451l-5-1 5-5 4 1zM398 459l-3-1 0-8 3-3 3 7zM414 453l-2-3 2-2 2 2zM820 466l11-8 -1-9 -3 5 -7 4 1 4 -4 4zM990 492l-8-8 -4 1 -4-7 -9-4 5-4 0-7 4 3 4-4 0-4 -4-4 -8 3 -8-3 4-4 4 3 8 1 4-5 2 1 -2 12 8 7 5 1 1 4 -4 4 4 4 0 8zM1122 457l-6-3 2-5 6 1 1 4zM986 456l-2-2 2-2 2 2zM390 461l-3-3 3-2 4 2zM418 463l-3-5 3-4 2 8zM490 459l-2-1 2-2 2 2zM610 460l-3-2 3-3 3 3zM1030 462l-3-4 3-1 2 1zM1834 468l-3-6 3-4 8-3 3 3zM1050 568l-12 1 -6-7 3-4 -1-3 -4-5 -6 0 4-4 -8-12 -2-9 -3 5 -7 0 5-4 -3-4 -8-4 2-8 -5-8 0-4 8-8 3-16 12 3 0-4 -7-3 3-4 12 4 0-8 4-3 13 3 -2 8 2 4 -9 4 2 8 7 4 -5 4 11 4 0 4 5 5 4-2 4-6 4 4 16 3 8 8 0 4 -5 8 -15 0 -4-5 -8-3 -9 12 -12 4 5 10 8 0 2 2 -2 7 -4-3 7 8 -4 4zM834 474l0-8 -4-2 -1 2zM1892 470l-2-1 -3 1zM962 481l-2-3 2-4 3 4zM418 483l0-3 1 2zM482 491l-1-1 1-1zM766 492l0-3 3 1zM974 494l-5-4 1-3 8 3zM1102 495l-8 1 -3-2 3-7 4-1 4 8 2 0zM506 504l-4-5 -4 5 -2-2 2-4 -5-4 13 2 2 2zM856 502l1-4 -3-2 -2 6zM863 502l3-4 -4-2 -2 2 0 4zM482 533l-5-3 -11-12 -4 2 -2-2 2-4 4 4 8-4 4 8 6-8 6 0 2-4 -7-8 5-4 8 16 -4 6 -10 6zM582 512l-4 1 -1-7 5-4 2 8zM1098 515l-4-1 4-9 4-1 -1 10zM1822 515l-4 1 -4-2 0-12 7 8zM446 511l0-3 2 2zM510 512l-4 1 -4-3 4-2 4 0 1 2zM1010 546l-4 1 -6-5 -2-7 -4-1 -4-9 -8 0 -4-5 -4 5 -4-12 4-1 4 3 0-6 16-1 6 6 2 8 9 16 -4 4zM2737 510l-3-2 -3 2 3 2zM450 517l-2-3 2-2 3 2zM502 518l-4-4 4-3 2 3zM778 522l-4 0 -7-4 3-2 4 0zM873 518l-3-3 -1 3zM2578 522l2-4 -2-1 -4 0 -7 5 3 4zM1062 523l-3-1 3-3zM2913 526l1-4 -4-3 -3 3 2 4zM2918 526l2-4 -2-2 -4 2 1 4zM2941 526l-3-6 -7 6 7 3zM494 527l-4-1 7 0zM766 530l-1-4 5-1 -1 5zM1070 527l-2-1 2-3 4 3zM2856 526l-2-2 -2 2 2 2zM774 531l-3-1 5 0zM978 532l-2-2 2-2 2 2zM1066 544l-8-2 -4-9 8-1 5 6zM430 543l-5-5 9-1zM879 542l-1-5 -2 5zM2879 542l-5-6 -1 6zM1036 546l2-4 -4-2 -2 2 2 6zM2354 561l-9-3 -10-8 -5-8 0-4 12 4 4 4 8 8zM961 546l-3-1 -2 1 2 2zM2188 550l-2-5 -3 5 3 4zM2248 550l-3-4 1 7zM2456 546l-2-3 -6 3 2 2zM2896 558l2-4 -4-9 -6 5 0 4 2 5zM967 554l4-4 -8 4 3 2zM980 554l-2-4 -3 4 3 2zM1074 568l-4-2 -6 0 -3-4 1-2 4 2 3-4 -1-4 6-5 6 5 2 8zM2272 554l2-4 -4-1 -5 5zM2806 553l-2-3 2-2 2 2zM2822 554l-4 2 -3-2 1-4 6-2 3 2zM426 555l0-4 3 3zM2215 566l3-5 8-3 -8-8 -2 8 -7 4 1 5 4 1zM2864 558l2-4 -5 0 1 4zM434 571l-4 0 -4 3 -2-4 0-4 6-7 4 0 6 7zM2810 567l-8 2 -2-3 2-6 4-1 6 3zM694 567l0-2 3 1zM2871 570l-1-5 -4 0 0 6 4 2zM2178 571l-3-1 3-2 3 2zM1082 576l-2-2 2-2 2 2zM2833 578l-3-5 -4 1 -4 4 8 2zM528 578l-2-4 0 6zM768 578l-4 0 2 1zM2098 585l-4-1 0-4 4 0zM2930 586l-4-7 -4 8zM678 588l-1-2 3 0zM1098 599l-4 1 -3-2 3-8zM450 607l-5-1 0-8 1-4 4-3 5 7zM662 598l-2-4 2-3 3 3zM2866 598l3-4 -3-2zM2898 597l-5-3 5-2 4 2zM2906 595l-3-1 4 0zM1134 606l-2-4 2-2 3 2zM1158 605l0-4 2 1zM542 607l-4-1 4-3 3 3zM893 610l2-4 -1-2 -5 6zM1194 721l-4-7 -12 6 -4-2 3-4 -3-5 -9-3 1-2 8 0 4-6 -4-6 -4 0 -2-2 8-8 -2-3 -5-1 0-4 -5-4 6-2 4 2 -7-12 -1-7 -11-9 -1-8 -4 0 -5-4 -6-12 2-4 -7-8 4-3 16 5 8-5 6 7 4 8 10 5 6-1 5 12 10 12 -3 4 0 8 2 3 7 1 -1 4 6 8 -2 4 3 4 -9 12 12 12 -4 3 -4 0 -4 5 -8 2zM634 611l0-5 3 4zM610 617l-4-3 4-2zM770 616l-4-2 4-2 2 2zM2782 619l-7-1 0-4 3-3 6 3zM766 624l-3-2 3-6zM1190 620l0-3 2 1zM2894 632l-4 1 -12-7 -4-4 2-4 6-3 4 2 9 9zM602 627l-4-1 4-6 4 2zM660 622l-2-2 -2 2 2 3zM2798 630l-4-1 -2-7 2-4 7 4 0 4zM710 628l0-3 1 1zM782 629l0-4 1 1zM506 638l-3-4 3-6 2 6zM606 632l-1-2 1-1 2 1zM722 633l-3-3 3-4 2 4zM798 634l0-6 -2 2zM686 635l-2-1 2-4 1 4zM1098 639l-4-5 4-2 3 2zM1198 635l-2-1 2-1zM1330 692l-4 1 -12-5 -2-6 4-4 -3-8 1-4 -7-4 3-6 4-2 -3-4 11-7 8 13 8-2 8 6 4-3 1 9 3 4 -1 4 -7 4 -4-3 0 7 -4 2 -5-2 -4 4 5 4zM2662 691l-8-3 -8 0 -16-11 -4-2 -4 1 -2-2 7-20 19-4 4-6 4 2 -2 4 2 4 17 4 3 5 5 3 0 4 -5 3 -4 0 -12-10 -2 3 1 4 4 4 -5 8 9 8zM786 659l-5-5 1-4 4-3 4 3zM2722 676l-4 0 -4-10 12-18 2 14zM2978 655l0-6 2 1 1 4zM1106 656l-3-2 3-1zM1162 660l-2-2 5 0zM1218 663l-2-1 2-1zM2786 664l-1-2 1-3 4 3zM2998 669l-12-3 8-7 8-1 1 4zM633 670l-8-4 5 7zM942 670l-3-4 4 0zM2974 676l-5-2 1-7 4 4zM3006 675l-4 1 -3-6 3-3 4 1zM554 696l-13-2 -1-16 2-4 11 8 -8 4 2 4 10 4zM554 681l-3-3 3-4 2 4zM1310 679l-2-1 2-6 4 2zM2652 674l-2-3 -5 3 5 4zM1094 681l-3-3 3-2 3 2zM2626 687l-4 0 -11-5 2-4 5-2 10 10zM2978 751l-4 2 -17-3 -3-8 3-4 1-24 -8-15 -14-9 2-4 4-1 12 4 8-3 6 8 -4 4 2 4 4 0 12-13 4 1 4 5 4-1 3-8 -3-4 4-5 3 1 -2 4 7 3 0 9 -3 4 3 7 0 8 -8-3 4 16 4 1 0 18 -7-3 1-8 -2-4 -12 1 -6 7 1 8zM578 687l-2-5 2-1zM918 684l-3-2 3-1zM610 688l0-2 2 0zM851 686l-2 0 1 2zM1110 689l0-6 2 3zM1334 689l-2-3 2-2zM562 710l-8 3 -11-11 13-4 2-3 4 3 4-1 4-8 4 4 4-2 8 10 3 1 -7 2 -12-4 -4 2zM1114 699l-7-5 7-5zM2634 699l-2-1 2-9 8-2 1 3 -5 2zM918 695l-5-1 5-2zM2670 694l0-2 3 2zM818 700l0-3 2 1zM946 699l-2-1 2-3zM529 702l-3-2 -2 2zM934 706l-4 4 -4-4 -1-4 5-1zM1222 708l-3-2 3-5zM542 708l-2-2 2-3 3 3zM602 710l-7 0 7-7 3 3zM902 707l-2-1 2-1zM1008 714l-6-10 -5 2 2 4 -1 4 -7-4 -1-4 -6 8 2 2 4-3 4 4 8-5 4 4zM2975 714l-5-11 0 11 4 2zM926 710l-4 2 -2-2 6-2 2 2zM862 718l-2-4 2-3 2 3zM970 718l-5-4 5-1 2 1zM714 720l-4-2 4-3 2 3zM666 746l-4-12 2-4 -3-4 2-4 -1-2 -4 1 -6 5 0 8 6 11 4 2zM1130 727l-2-5 2-1 3 5zM1186 728l-4 1 -2-7 2-2 5 6zM766 739l-8 2 -5-7 4-4 1-5 4-1 7 10 1 4zM1194 729l-2-3 2-2zM2984 726l-7 0 5 3zM594 732l-2-2 2-2 2 2zM698 739l-4-1 -2-4 4-4 6-1 1 1zM730 779l-4-3 -4 3 -4-3 -12 1 -4-2 -4 1 -1-2 1-6 4 4 2-6 -6-4 8-1 3-7 1-12 -4-3 0-3 12-9 4 1 8 7 5 11 -5 0 -8 19 -5-3 9 11 4 1zM1007 734l-6-4 5 5zM1142 739l-4-1 7 0zM603 754l3-2 8 2 2-4 -6-11 -2 7 -9 4 2 4zM546 749l-3-3 3-2zM1254 748l-3-2 5 0zM1250 1138l-3-8 3-4 -1-4 5-8 -4-4 8-19 -4-5 9-28 -5-7 -5-1 1-8 -4-6 -7-2 3-4 -4 3 -3-7 -6 0 -1 8 6 8 -2 4 5 20 1 3 4 1 -6 4 6 4 -2 4 -5 4 1 8 -10 6 -16-6 -1-4 -15-14 -2-6 1-4 -3-5 -8 4 -12-5 -4 1 -4-3 5-4 -5-2 2-6 -10 3 -8-7 -6 4 -14-28 0-8 3-4 -1-4 10-5 4 1 4-2 4 3 4-4 4 5 5-2 -3-4 6-4 -4-2 0-10 4-2 5 6 3 1 4-5 -10-4 -1-20 6-8 0-4 -3-4 4-2 4 1 5-11 -2-4 3-4 -14-7 -9-1 3-4 -3-4 2-12 -2-4 9-6 4 1 7-7 -3-3 -4 5 -7-2 10-8 -6-4 7-5 6 1 -1-4 -8-4 1-4 -6-1 -5-7 -7-1 -1-3 -2-8 7-8 8 5 2-1 -5-4 0-4 4-4 -5-1 -3-3 3-4 8-3 3 3 -1 4 2 3 4-3 -3-4 3-6 5 10 -1 8 4 3 3-3 -1-4 6-4 9 4 -4-4 7-3 0-1 -7-4 13-8 -2-4 -4-2 -8 4 -5-6 1-3 8 1 4-3 8 4 12 1 -2 8 -4 4 18 5 2 3 -3 4 -1 4 2 1 4-2 4-3 -2-4 2-4 -3-4 12-12 -7-4 3-4 -1-4 -5-4 1-6 -3-2 11-14 8 3 4 11 3 16 -5 16 2 8 -4 4 9 16 -1 3 -4-1 -4 2 3 4 -7 8 -2-8 -10-4 4 6 8 6 4-4 4 4 -1 8 2 4 -3 8 3 4 -1 4 -8 8 5 4 -2 4 4 4 -1 8 4 4 -6 6 -4 0 0 4 4 2 -5 4 9 4 -5 4 5 1 2 3 -4 4 -1 8 9 8 2 6 8 10 0 4 -8 8 -8 0 -8-10 -3 2 1 4 -3 4 4 4 -1 4 -2 3 -5 1 3 4 2 18 8 1 4-6 4 4 0 11 -8 2 -4-2 2 8 4 4 1 12 10 16 -2 8 -4 4 0 16 -12 24 -5 28zM542 751l-8 0 -4 2 -7-3 19-2 2 2zM894 753l-2-3 2-2 2 2zM980 750l-2-2 -4 2 4 4zM1250 751l-1-1 1-2 2 2zM738 768l-9-6 5-9 5 5zM890 791l-15-13 3-8 5-4 -2-4 9-10 4 2 8-2 2 2 -5 4 12 4 -3 8 -4 4 2 4 -8 7 -7 1zM975 766l0-4 7-4 -12-6 4 16zM1178 797l-4-7 1-4 -5-2 -4 2 -5 8 -1-8 3-12 7-2 2-10 6-12 9 4 3 6 4-8 4 1 2 1 -2 4 -6 8 4 12 -6 2 -4-3 -6 1 2 4 -4 4 10 4 -2 3 -4-1zM1206 758l-2-4 2-1 2 1zM530 761l-7-3 7-3 2 3zM802 819l-4 1 -8-4 -4-8 -11-6 -1-4 6-4 2-9 8-1 4 10 5-8 -1-11 -4-3 -4 4 -3-2 3-16 4 3 16 0 4 9 -1 8 -3 4 -4-5 0 3 4 2 4 0 4-3 4 1 3 2 -3 2 0 3 7-9 1-4 8 0 3-4 -4-4 5-4 6 4 -6 4 4 1 4-1 4 2 2 2 -2 4 -4-3 -4 8 -4-3 -8 5 -10 13 -6 3 -5-3 -7 0 5 4 -3 4 3 8zM1015 762l-1-2 0 3zM1158 765l-4-2 0-2 4 0zM620 782l7-12 -1-4 -12-4 -6 12 0 8 2 3 4-4zM726 767l-2-1 2-2zM1038 767l-2-1 2-3zM1162 768l-3-2 3-2zM1198 768l-2-2 2-3 2 3zM2650 768l-2-2 2-1zM988 778l2-6 -8 2 4-4 -4-2 -3 2 5 8zM1054 771l-4-1 4-1zM1154 772l-2-2 2-3 3 3zM490 852l-8 0 -4-6 -4 5 -4-5 -9-4 1-7 -5-5 9-2 0-4 -4-3 -4 1 -4-4 -1-12 -7 0 -4-3 -5-1 5-4 -6-4 4-4 -7-8 9-10 12 2 16 9 4 0 1 7 9 12 2 12 8 4 5-4 7-10 4 2 12-5 3 1 1 4 8-10 4 0 6-6 6-2 1 2 -3 4 4 4 2 9 8-11 4-1 3 3 -3 4 4 8 5 4 -9 3 -8-4 -8 2 -4 3 -8-2 -12-10 -2 4 3 12 -5 7 -4 2 -4-2 -4 0 -4 2 -8-2 -8 4 4 5 -1 4 -5 4 3 4zM510 776l-2-2 2-2 2 2zM526 775l-2-1 2-1zM786 779l-4 2 -3-3 1-4 5 0 3 4zM818 776l-3-2 3-1zM1050 781l-4-7 4-4 3 8zM1066 778l-4-4 5 0zM1078 775l-2-1 2-4 2 4zM1086 780l0-6 2 4zM1158 775l-2-1 2-2 2 2zM514 785l-2-7 2-2 4 1 0 4zM674 786l-5-4 1-4 4 4 2 4zM794 783l-1-1 1-5 2 5zM1142 779l-2-1 2-1 3 1zM1154 783l-4-5 4-3 3 3zM502 790l0-8 3 4zM726 783l0-3 1 2zM1066 797l-20-2 0-4 4 2 3-3 -3-4 4-7 4 2 8-3 4 11 4-1 2 2 -6 0zM1094 783l0-2 2 1zM1106 785l-2-3 2-1zM906 795l-5-1 1-4 -4-4 4-3 7 3zM1102 799l-5-9 5-7 9 11 -5 0zM434 792l-2-2 2-2 3 2zM714 820l-3-2 1-4 -2-3 -6-5 4-16 2-3 8 4 3 11 -4 4 1 4zM834 791l-3-1 3-3 1 3zM1170 792l-2-2 2-2 4 2zM554 795l0-2 2 1zM618 797l-4-3 4-3 2 3zM686 844l-6-6 3-4 -4-8 3-4 2-8 -3-4 0-4 5-12 7 8 3 16 -5 20zM574 802l-2-4 2-2zM1006 801l-2-3 2-4 2 4zM1166 801l-2-3 2-2 3 2zM1250 798l0-1 2 1zM1046 806l-4-4 4-2 3 2zM862 815l-2-9 6-2 2 2 0 4 -2 4zM1054 807l0-2 2 1zM646 843l-4-5 5-12 4-4 -3-4 6-9 8 5zM450 814l0-1 3 1zM1150 820l-5-2 5-5zM866 820l-2-2 2-4 2 4zM1058 820l-4 1 0-5 4-1 3 3zM1188 818l-2-2 -4 2zM1199 826l3-4 0-5 -6 5 2 6zM550 834l-4 1 -2-5 2-10 10 2 0 4zM566 824l-3-2 3-3 3 3zM678 825l-2-3 2-3 4 3zM866 830l-2-4 2-2 3 2zM1086 832l-2-2 2-6zM1138 827l-2-1 2-3zM1068 830l-2-3 -1 3 1 2zM1094 833l0-5 2 2zM1154 837l-6-3 -1-4 3-2 4 2zM458 839l-2-1 4 0zM454 843l-2-1 2-3zM826 993l-12-2 -7-5 1-8 -3-12 2-20 -5-4 0-16 -3 0 1-4 -6-5 -1-3 2-4 -4-4 -2-8 1-3 8 1 5-2 -3-4 3-4 -6-12 1-2 4 0 2-2 0-8 -7-4 1-4 -4-4 7-8 5-2 17 14 -1 13 4-3 3 2 1 5 4-3 4 2 -2 24 -6 1 -3-9 3-8 -4-3 -4 7 2 4 -14 8 0 4 -8 8 4 12 -3 4 16 12 3 7 4-3 -2-4 6-3 2 3 -2 3 -3 1 7-2 1 2 -1 8 -4 3 -4-2 -2 3 9 4 -7 7 -2 9 2 4 -3 8 5 8zM750 849l-3-3 3-2 3 2zM1130 846l-4 0 4-1zM990 854l0-5 -2 1zM478 892l-5-6 3-4 -10-2 -2-2 -2-8 1-8 -3-8 2-2 5 2 11 9 4-1 -1 8 4 8 -3 4 5 4zM984 854l-2-4 -2 4zM1174 860l-2-2 2-2zM546 872l-8-1 -3-9 3-1 8 5 3 4zM1038 867l-2-1 2-2zM778 883l-7-5 7-2zM966 880l-4 1 0-6 4-1zM490 883l-2-1 2-2zM574 921l-8 0 -2-3 2-2 0-4 -4 5 -3-3 2-4 -4-8 -7-2 -4-6 4-1 4 3 3-2 1-9 4 2 4 6 12 8 4-5 4-1 3 3 -7 6 -4-1 -2 7 2 8zM774 897l-3-3 0-8 3-3 5 7zM482 905l-3-3 3-3 3 3zM870 969l-9-3 -3-4 -2-4 2-5 -4 3 -9-6 -2-4 2-8 -3-6 -4 2 -8-4 4-3 8 1 1-2 -1-11 -6-1 6-1 7-7 -2-4 3-3 4 0 6 3 -2 4 3 16 9 4 2 4 5 20 -5 8 1 8zM886 911l-8-1 -1-8 5-4 9 4zM1050 919l-8-1 -8 3 -8-3 -1-8 9-8 4 5 8 1 12 6zM594 911l-3-1 3-4 3 4zM1058 913l0-4 2 1zM1134 911l-4 1 0-2 4-1zM578 929l-3-7 7-10 4 10zM710 924l-6-6 6-6 5 2zM1066 915l-4 1 -3-2 3-2 5 2zM734 966l-12-1 -7-7 1-4 -2-4 3-4 -5-4 2-8 1-16 3-1 4-1 3 2 -2 4 7 11 1-7 7-11 8 3 4 11 12-3 5 16 -6 8 0 8 -7 4 0 3 0-3 -8-7zM830 930l-3-8 3-7 4 0 4 9 -4 1zM1058 919l0-5 3 4zM1130 921l-3-3 3-3 3 3zM1146 921l-4-3 -7 0 3-2 4 2 4-3zM686 1121l-8-1 -11-14 -3-8 0-8 -4-4 1-8 -3-4 0-4 -6-4 -2-7 -5-1 -2-8 -15-20 -11-24 -4-4 5-8 -11-4 0-4 -10-8 -3-8 5-4 -5-4 -4 3 -4-2 -9-17 -2-4 4-12 7-4 0-4 4-3 6 3 2 9 4 1 4-3 4 1 4-3 7 7 3 24 3 4 -5 16 4 4 4-2 8 11 8-1 7 4 2 12 5 4 3 20 8 4 3 12 3 4 -3 4 6 4 4 12 -2 4 7 8 2 12 -1 12 2 4 -3 8zM618 929l-2-3 2-2 2 2zM751 938l2-4 -3-3 -2 3 2 5zM731 942l-1-4 -4 0 1 4zM938 943l-8-1 4-6 6 6zM750 950l0-6 -5 6 1 2zM1154 955l-4 2 -8-2 -1-5 5-5 8 1zM782 968l-2-14 2-2 4 0 3 2 0 4zM958 965l-4-11 4-2 8 6zM2406 978l-4 3 -6-3 10-22 5 10zM750 975l-3-1 3-10 4 2zM666 999l-4 0 -7-5 -1-7 -4-1 8-12 8-5 5 9 -2 4 4 4 -3 8zM782 992l-4-1 -4-9 0-10 4-3 8 2 2 3 -2 4 2 4 -3 8zM706 985l-8 0 0-4 4-4 5 1 1 4zM954 992l-4 0 -7-6 3-7 9-1 0 4 5 4zM1094 988l-4 0 -6-6 6-4 7 8zM2394 998l-4 1 -4-5 4-8 4 2 5-2 -1 8zM702 1011l-4 2 -3-7 3-12 4-6 3 2 -5 12 3 8zM694 1049l-8-1 -7-6 1-16 -7-8 5-8 6 0 2-5 2 5 9 8 1 8 -2 4 1 12zM954 1039l-6-1 -6-6 -12-3 -7 1 -2-4 3-4 -2-6 8-3 8 1 4 5 8 0 11 3 1 8zM1082 1025l-6-7 6-7 5 3zM1126 1019l-1-5 3 0zM1286 1044l-4 2 -2-4 2-5 7 1 1 4zM2326 1101l-6-3 -1-4 3-4 8-2 4 6zM1214 1130l-6-4 6-10 6 6 0 4zM678 1143l-4 1 -1-2 5-4 0-5zM1166 1167l-4-1 -2-4 2-6 4-3 4 5zM982 1161l-2-3 2-3zM998 1186l-4 3 -8-6 -8 4 -13-9 1-3 12-5 4 9 4-3 4 2 1 4zM714 1216l-2-2 2-1 3 1zM1046 1226l-2-4 2-2zM1058 1238l-4-4 8-9 2 9zM1082 1243l-8 1 -2-6 -3-4 5-10 9 2 7 12zM1054 1234l0-5 4 1zM1114 1263l-1-1 3 0zM1138 1275l-12 2 -1-3 2-4 -9-3 0-3 2-2 6 0 8-4 8 8 -3 4 3 4zM1158 1273l-8-7 4-6 5 2 3 4zM1250 1271l-4 1 -4-2 0-7 4 0 4 3zM1158 1286l-4-4 4-2 3 2zM1154 1289l0-6 3 3z"/>
<path fill="#E8B8B0" d="M522 364l-4 0 -1-2 6 0zM522 582l-4-4 -1-8 -4-4 5-4 0-7 -4 1 -6-2 -6-8 4-4 14-4 -2-4 -5 0 3-4 -2-6 -4-2 4-1 1-3 1-8 -2-4 4-8 -2-4 3-12 -10-4 1-8 -1-4 5-8 8 0 -4-8 -4 0 4 0 4-8 -4-4 8-12 -4 2 -8-2 -6-4 6-2 4 1 2-3 -1-12 -3-4 3-4 -2-12 5-5 8 0 1-3 -4-12 2-4 9 0 4 4 -4-4 46 0 2 7 4-6 2 7 -2 8 12 4 3-4 -5-4 14-2 5 6 -7 4 6 1 4-1 1 4 5 4 3 8 -2 4 3 8 -5 4 -5 8 1 4 -5 6 -7 2 4 4 -2 4 1 4 6 4 -6 6 -4-5 -4 4 -8 2 -12 11 -4-3 4 13 4 4 -4 1 -2 3 2 4 -4 4 -4 1 -8 13 -5-2 4 4 -3 12 -18 16 7 12 -8 12 -5 4 -7 0 4 4 -1 4 -4 2 -4 1 -8-7 1 4zM630 363l-4 3 -7-4zM734 436l-4-3 -4 4 -4-1 -4-8 -4 0 -4-5 -2 3 1 4 -7 4 -7-8 -5-2 -8 2 4 4 -4 6 -4 0 -4-4 -4 1 0-7 -6-8 1-4 -4-4 1-9 -6 5 0 4 2 4 -3 8 1 4 -6 1 -5-5 -1-8 -5-4 2-4 -3-4 -1-12 -3-4 4-1 12 2 4-4 4 8 1-5 7-6 7-2 -10-4 7-8 -4 1 -5-5 34 0 3 8 4 3 8-1 5 2 3 6 12-6 3 4 0 4 3 4 -4 8 2 16 3 4 -1 4 2 4zM990 848l-4 2 -14-8 4-12 -4-4 1-12 -4-4 1-4 -2-8 3-8 -2-4 9-10 8 3 5-1 -1-8 -7-4 1-8 -7-16 3-8 10-10 4-1 4 2 4-2 9 3 -6-8 6-4 -4-4 1-8 -4-4 0-8 3-4 -5-2 -2-6 7-8 -5-4 -4 4 2 4 -2 2 -8-4 -1-6 -5-4 4-4 -6-4 -8 5 -12 12 -6-5 8-8 -10 4 -4-4 -8 1 -4-4 -8 14 -8 4 -4-1 -12 18 -8 1 -4-3 -7 6 7 8 0 4 -4 5 -4-3 -8 5 -4-1 -4-6 -4-2 -4 2 -4-5 -4 4 -8 1 -4-4 4 4 -8 4 -1-4 -5-4 3-4 -1-3 -4 4 -2-1 1-8 -4-4 -3-2 -4 7 -8-4 -8-7 -8 9 -5-7 0-8 9-5 6-7 -8-8 1-8 -9-8 -3-8 7-4 -6-4 4-1 0-6 -4 1 -4-7 -3 1 -1 4 -2-4 0-4 4-4 -1-4 4-4 -1-4 -4 3 -4-3 3 8 -1 4 -9 4 -7 8 -4 0 -2-5 -8-4 2 5 -4 4 0 4 -2 2 -8 0 -4 3 -8 1 -4 2 -3-4 5-4 -10-3 -4 3 0 4 -4 0 -10 4 -2 6 -4-4 -7 2 2 8 -2 4 6 8 1 4 -3 4 2 4 -3 1 -4-1 2-4 -2-5 0 5 -8 4 -4 10 -4 2 -8-3 -8 10 -8-4 -4 3 -3-6 7-4 -1-8 -3-4 -4 7 -4-3 -4 3 -4 9 -4 0 -8-4 4-12 -3-4 -13 0 -2-4 2-4 -2-4 6-5 8 1 4-3 4 1 4-7 3 1 1 5 1-1 -1-4 4-13 8 6 4-2 4 1 8 8 4-3 4 0 3-5 -3-4 4-1 8 4 2-3 -2-4 1-4 6-8 -3-9 8 1 3-4 9-4 -2-4 14-14 4 0 2 2 2 9 3-1 -3-4 2-4 8 0 1 4 -3 4 2 4 -7 8 1 1 4-4 8-3 8 4 12-12 3 2 -2 4 7 3 4-7 4 3 5-3 -9-1 -3-7 4-4 1-4 5-4 -3-4 3-8 7-4 -2-4 4-4 12 10 1-2 -4-4 3-4 4 0 4-7 4 3 1-4 -5-1 -8-9 -6 2 -1-4 5-8 -6-7 0 7 -4 0 -5-8 0-4 -4-8 5-4 -7-8 -1-12 -4-2 -4 3 -5-5 1-5 8-3 -6-8 2-4 -3-4 1-16 -4-4 3-8 -4-4 -1-8 4-4 8 0 12 7 6 1 2 7 3-3 -2-4 4-4 0-8 3-1 4-7 0-4 -6-4 0-4 5-4 2 0 2 4 -3 4 0 8 4 9 8-5 -2-4 10-7 4 9 5-10 5-4 -1-4 8 0 -3 4 2 1 4-3 4 1 6 5 0 4 7 4 3 1 4-4 8 0 7 7 -1 4 2 1 3-1 1-3 8 10 4-1 8 11 4 1 2 2 -2 5 4 1 15 14 -1 4 5 4 0 4 4 4 1 7 4-1 4 5 8-3 5 4 -1 11 -4-4 -5 5 7 0 -3 8 3 8 -2 6 -1-2 -4 0 2 4 -2 4 0 8 3 0 2-4 4 1 4 16 4-1 4 4 -7 8 1 4 -3 8 4 4 -6 4 3 4 -1 8 1 2 4-3 4 2 4-6 4 6 4-1 6 4 -9 4 4 4 -3 8 2 4 4-5 4 2 8-6 8 4 4-2 5 3 3 4 2-8 -4-8 2-4 4-2 8 13 8 1 0 4 4 1 8 7 4-2 8 5 8-3 12 11 8 0 5 9 -2 4 3 8 -2 3 -4 0 -5 9 1 2 4-3 0 5 -4 4 4 6 4 2 -2 4 2 4 5 0 -3 4 2 8 -5 4 -1 8 -3 4 5 0 3 4 2 8 -3 4 7 4 1 16 11 8 -1 5 4 1 4 7 16 4 2 3 -3 4 8 4 -8 4 -3 13 -4-2 -12 7 -8-4 -8 6 -6-8 -1-8 -5-5 -2 1 2 8 -6-4 -2-8 -4 2 -4-3 -4 5 -20-5 -4-5 -4 2 4 5 4-1 6 4 -10 5 -4-4 -8 10 -4-5 -8-1 -4-6 -4 5 -4-1 0 2 4-1 2 4 2 12 -4 8 -12-1 -5 5 0 8 -4 8 3 4 -2 4 3 8 -3 4 7 8 -4 4 0 8zM818 373l-3-3 3-8 8 0zM846 364l-2-2 4 0zM866 363l-1-1 4 0zM2226 523l-12-3 -8 5 -4-1 -4-3 -8 2 -8-5 -20 7 -8-4 -5 1 -3-3 4-13 -8 3 -20 2 -16-9 -3 0 -1 4 0-4 -8-1 -6-7 -6-2 -20 6 -4-2 -4 4 -4 0 -2-2 2-8 -1-4 -7-8 -4 4 -8 0 1 8 -7 8 -2 6 -4-10 -4-3 -8 9 -12-3 -8 2 -2 3 4 4 -1 4 -5 4 -12-6 -4-9 -8-1 -1 4 4 8 -3 7 -4-1 -4 6 -12-2 -4 4 -12-2 -10-12 0-8 -8-8 -1-8 19-12 2-8 6-7 20-9 5-4 -6-8 1-5 4 5 4-4 4 0 4 3 4 0 4-3 12 0 8-4 8 1 12-5 -20-7 -8 5 -10-6 3-8 1-12 -2-8 3-28 190 0 -5 11 -12 13 -27 16 -5 11 -16 5 -4 7 -4 3 -13 2 1 4 4 2 4 0 8-4 16 1 8-4 1 5 3 1 52 13 12-5 24 5 24-5 20 5 16-1 16 6 12-4 16 5 12-5 12 10 8-6 12 6 20-7 20 2 16 9 4-2 4 1 4 5 4 0 4 5 24-6 12 3 8 0 4 4 4-2 1 3 -5 2 -4 16 -8 7 -4-5 -7 4 -3 4 -2 12 -8 0 -6-8 -2-12 -4-5 -5 1 -14 20 -5 3 -8-12 -8 2 -8-5 -4 1 -4 5 -4-3 -4 3 -12-1 -16 5 -4-6 -12-6 -7 6 -1 5 -7-5 0-4 3-5 -4-3 -4 6 -4-12 -4 2 -4 8 -4-2 0 2 2 4 10 4 2 4 -2 4 -8 1 -20-5 -8-8 -12 3 -4-2 -6 3 -2 7 -8 11 -4-4 -8 0zM2742 370l-4-2 -2-6 16 0zM598 372l-3-6 3-3 3 3zM850 369l-2-3 2-3 3 3zM3006 389l-8-2 -5-5 0-4 -5-8 2-4 5 0zM854 372l-1-2 1-2zM886 372l0-3 2 1zM518 379l-2-5 2-2zM654 376l-3-2 3-2 3 2zM894 389l-6-7 0-8 2-2 4 5 4-1 2 2zM701 382l1-4 -4-1 -2 5 2 3zM906 379l-2-1 2-2 3 2zM831 382l-1-3 -1 3 1 2zM693 386l-3-4 -2 4 2 4zM822 390l-4-3 -2 3 2 2zM690 418l3-8 -3-4 3-12 -3-4 -4 6 -4 2 7 8 -3 4zM711 394l-1-2 0 4zM994 399l-4 2 -3-3 3-4zM2974 395l-4 3 -2-4 2-3 4 1zM824 398l-3 0 1 2zM800 446l-2-6 -4 0 -4 2 -8-4 2-20 -9-8 -1-7 -1 19 7 8 1 8 5 8 4-4 4 7 4 1zM819 406l-3 0 2 2zM715 414l-1-5 -4 0 0 7 4 1zM791 410l-3 0 2 2zM410 415l0-4 4 3zM422 428l-5-6 1-4 6 4zM778 425l-3-3 3-4 3 4zM1082 439l-4 2 -8 0 -2-3 0-4 2-3 12-2zM1918 431l0-3 1 2zM2073 430l-6 0 3 2zM466 435l-2-1 2-1 2 1zM438 440l-1-2 1-1zM450 487l-8-5 -4-6 -6-2 -8-8 5-4 -3-4 2-4 6-7 4-1 2-4 6-5 8 2 8-3 7 6 1 5 4-4 13 11 -9 8 3 8 0 4 -3 4 -4 3 -4-5 -4 2 4 5 -4 0 -4-2 -8 2zM470 440l-2-2 2-3 2 3zM710 441l-5-3 5-2 4 2zM763 438l-5 0 4 2zM934 441l-2-3 2-3zM430 447l-6-1 6-6 2 6zM486 447l0-2 2 1zM808 446l-4 0 2 2zM836 474l0-8 -6-4 3-4 -1-8 3-4 -13-1 -5 5 2 12 -3 0 -2-3 -2 3 6 6 8-4 5 6 0 4 3 2zM422 451l0-4 2 3zM822 453l0-6 2 3zM1122 455l-2-1 2-4 1 4zM856 462l-2-2 0 6zM2442 470l-3-4 3-1 1 1zM2514 504l-4-4 2-10 -5-4 0-4 5-8 0-4 6-1 24 1 4 3 20 3 8 5 8-1 16-6 24 6 24-4 8 6 -2 8 -6 1 -4 3 -8-1 -4-5 -12 7 -5-5 -15-7 -12 6 -8 0 -4-2 -12 5 -16-5 -4 4 -12-4 -12 4 -2 3 2 8zM982 480l-4-2 4-8 2 8zM1034 485l-6-3 -3-8 1-2 8 3 2 7zM1038 475l-2-1 2-2zM2826 482l-8 0 -2-4 6-4 4 0 2 4zM1030 540l-4 1 -5-7 -3-11 -4-4 -8-1 4-4 -9-12 0-4 8-8 1-6 4 2 -3-4 2-4 13 6 4 4 4-1 8 10 8 1 12 12 1 4 -3 4 -10 12 -12 4 -4-1zM2446 478l0-2 -2 2zM2834 491l-8-5 0-4 4 0 8-5 4 5zM2970 481l-4 1 0-6 4 1zM2982 484l-2-2 2-2 2 2zM986 486l0-2 2 2zM2338 490l0-4 -7 0 0 4 3 3zM2461 498l-1-8 -6-5 -3 9 7 6zM2770 491l-5-1 5-6 2 6zM2966 490l-2-4 2-4 3 4zM1094 495l0-5 4-2 0 6zM2389 490l-5 0 2 1zM865 502l2-4 -5-5 -4-1 -7 6 0 4 3 3 4-4 4 3zM2167 502l-5-9 -5 1 1 9 4 3zM514 498l0-1 2 1zM1082 525l-8-1 -8-6 4-4 -5-8 1-6 4 5 16 3 5 6zM2203 506l0-4 -5-4 -5 4zM876 522l1-8 -5-8 -2-1 -8 6 -8-3 -4 2 4 2 4-1 2 3 6 1 4 5zM932 514l2-4 -4-5 -2 1 1 4 -4 4 5 2zM2842 510l0-6 4 0 4 2zM870 512l-2-2 2-3 2 3zM1002 542l-4-13 -4 2 -4-7 -8-5 -1-9 9-1 7 5 9 20zM2183 514l1-4 -2-4 -4 4 4 7zM2270 519l-5-5 5-2 3 2zM2414 515l0-2 2 1zM935 530l4-4 -1-4 -5 8zM786 536l-2-2 5 0zM982 555l0-5 -4-1 -4 3 -7-6 -3-4 1-8 9 1 14 15zM884 546l-6-11 -5 7 1 4zM1042 544l-2-2 2-2zM2862 547l-10-1 2-4 4-1 4 1zM1046 569l-8-3 -3-4 0-8 7-6 4-1 10 11zM881 562l-3-4 4-4 -5 8zM2910 579l-4 2 -12-1 -1-2 2-4 -4-8 5-4 5 0 10 16zM758 579l-2-1 5 0zM514 767l-4-2 -8 4 -3-3 2-4 -2-8 3-4 5-16 -3-8 4-4 -2-16 10-20 -2-4 -7-4 4-12 -1-4 -4 1 -6-5 2-3 4 1 4 6 4-8 -5-4 2-8 8-8 1-16 -3-4 2-4 -5-8 3-4 5 1 4-15 8-3 2 5 -2 5 5 7 -6 8 5 11 4 1 -3 12 -9 4 0 3 8 1 3 4 -2 4 2 4 -3 4 7 8 -3 2 -8-1 -1 7 -8 8 -1 8 4 8 -6 8 7 4 -4 12 4 4 -5 4 1 4 -7 12 4 4 -4 4 -2 4 4 4 -5 4zM880 590l6-3 0-3 -8 2 -1 4 1 2zM2822 621l-3-3 0-8 11-10 4-10 4-4 4 0 8 16 -12 7 -12 3zM765 590l-3-2 -2 2 2 2zM895 618l2-12 -6-4 4-4 -1-5 -1 5 -3 4 -6 0 1 4 -5 4 1 4 5 0 4 7 4 0zM771 598l-1-2 0 3zM1094 598l0-3 2 3zM890 607l-2-1 2-4zM1182 715l-6-5 4-12 -6-8 -4 0 4-2 3-6 -5-20 -6-13 -4-1 -7-10 -1-6 -4 1 -3-3 -7-12 3-4 0-4 3-2 12 1 4-4 8 13 16 8 9 12 -1 5 4-2 3 5 -4 4 2 8 -1 5 4 0 9 11 -1 4 2 4 -7 12 3 4 -3 8 3 4 -2 2 -8-4 -4 5 -8-1zM658 618l-6-4 2-3 5 3zM666 616l-2-2 2-2 4 2zM770 615l-2-1 2-1zM890 616l-3-2 6 0zM654 624l-2-2 2-2zM702 627l-2-1 2-4zM803 638l-5-11 -4 3 -1 4zM1326 689l-12-4 3-7 -1-12 -7-4 13-17 1 5 7 7 16 4 4-2 1 3 -2 8 -7 4 -3 8 -5-2zM786 653l-2-3 2-2 2 2zM542 657l-2-3 2-2 2 2zM582 656l-2-2 2-4 2 4zM951 654l-2 0 1 3zM606 660l-3-2 3-3 3 3zM1098 659l-2-1 2-3zM2634 666l-2-4 2-2 3 2zM794 669l-2-3 2-2zM911 670l-1-5 0 5zM954 675l-3-1 0-4 3-2 2 2zM638 697l-4-2 -4 2 -4-3 4-8 0-6 4 3 4-4 2 3 0 4 3 4zM852 686l-2-2 -3 2 3 4zM650 692l-2-2 2-2 3 2zM1330 691l-3-1 3-2 2 2zM666 701l-3-3 3-4 2 4zM1110 695l0-2 3 1zM622 703l0-4 2 3zM654 704l-3-2 3-2zM670 708l-3-6 3-2 2 6zM1210 705l-4-3 4-3zM858 707l-3-1 3-2 3 2zM662 712l-2-2 2-2 2 2zM898 713l-2-3 2-1zM982 712l-2-2 2-2zM634 719l-4-1 4-5 4 1zM658 719l-4-5 4-2 2 2zM674 764l-7-2 -3-4 2-5 -3-3 10-12 -3-2 -4 1 -2-3 2-8 -2-8 6-4 8 1 2 3 3 16 -8 4 6 8 0 4 -4 12zM626 761l-5-3 3-4 -4-4 2-4 -3-4 -3-16 2-5 4-3 8 0 2 4 6 4 4 4 -3 4 5 4 -10 8 0 5zM1110 719l-4 3 -2-4 6-1 2 1zM762 732l-3-2 1-4 2-1 2 5zM714 775l-8 1 -3-2 3-7 6-5 -2-4 5-4 -3-4 3-12 4-4 -1-5 4 1 7 8 -6 12 -1 11 -4-1 -3 2 7 8zM1008 742l0-8 -6-6 -8-1 0 4 8 3 2 8 2 2zM1040 734l2-4 -4 1 0 5zM562 737l0-5 2 2zM574 766l-4-5 -7-3 -1-8 0-4 12-5 7 5 0 8zM590 751l-3-5 3-1 2 1zM970 779l-8-2 -3-3 0-12 -4-8 3-10 4 4 4-1 4 3 -3 8 9 16zM1013 750l-3-2 -3 2 3 2zM1270 789l-6-3 5-4 -9-4 3-4 -6-8 -1-8 1-4 5-6 4-1 5 3 1 16 3 8zM606 804l-9-2 1-3 4 1 1-2 -5-7 -4 0 -2-9 3-20 7-4 7 8 -4 4 2 4 -4 4 5 8 -3 4 3 4zM634 768l-4-2 4-9 5 5zM894 762l-2-4 2-1 2 1zM1074 764l-8-6 4-3 7 7zM1182 775l-4 1 -5-6 2-8 7-6 7 10 -1 4zM734 763l0-2 2 1zM894 783l-4 0 -7-5 4-4 -5-4 8-8 8-1 7 5 -3 11zM978 768l0-4 3 2zM442 776l0-3 2 1zM882 775l0-5 1 4zM482 850l-8-9 -4 4 -7-3 5-8 -2-4 3-4 -7-10 -4 0 -2-2 2-5 4 3 0-4 -3-2 4-4 -1-1 -3 1 -1 3 -8-6 -2 3 -3 0 -1-4 -5-4 3-3 4 0 4 5 0-2 -16-12 4-5 4 2 4-4 8 0 4 6 5 1 3 5 4-2 3 1 0 4 7 8 4 16 2 3 5 1 -3 4 4 8 -4 4 3 4 0 4 -5 0zM810 814l-8 3 -8-4 -4 1 -8-11 -4-1 8-13 6 5 -4 4 2 1 4-3 5 2 -2-4 4-8 1-8 4 6 6 2 -1 8 -5 1 -2 3 4 4 -3 4zM614 792l-3-2 3-6 2 2zM818 800l-3-6 3-10 3 6 5-2 1 2 -1 5zM902 788l-2-2 2-1 3 1zM1058 791l-2-5 2-2 4 0 2 2zM1114 791l0-5 2 4zM714 818l-3-8 -5-4 4-17 8 5 1 4zM1226 790l-4 1 0-2zM1262 793l-2-3 2-2 3 2zM1102 796l0-4 2 2zM1270 796l-7-2 3-2 4 0zM1258 1134l-8 3 -2-7 3-4 -1-4 6-8 -4-4 0-4 6-12 0-16 5-20 -8-12 0-4 -9-15 -8-5 -4 0 -3 4 1 4 -2 4 6 8 -1 4 5 16 -3 12 5 4 0 4 -4 4 0 8 -8 5 -16-8 -8-7 -8-10 0-2 4 1 0-6 -8-7 -8 2 -4-5 -4 3 -7-2 1-4 -4-4 3-4 -1-4 -4 2 -4-2 -4 5 -8-6 -4 4 -15-27 3-17 16-4 8 5 8-2 3-2 -2-4 4-4 -2-4 1-8 1 4 7 2 4-2 1-4 -9-4 -3-4 1-8 6-8 0-12 5-4 6-12 0-4 4-4 -10-4 5-4 -2-2 -4 4 -12-3 -3-7 2-4 -3-12 4-1 4-4 4 1 4-5 4 1 1-4 -4-4 0-4 2-4 10-4 -13-8 2-4 -2-5 -9 1 -3-10 -4 3 -2-1 5-8 -1-4 6 3 16-7 3 4 -1 4 6 6 4-2 3-12 -7-8 20 2 2-2 -5-4 -1-8 4-4 8 1 13 7 -3 8 5 8 2 12 8 0 -8-4 3-3 8 1 3 10 5-1 4 3 5-2 0 28 -7 8 7 12 -1 3 -4 1 0 1 4 0 1 3 -1 4 -4 3 -1 13 6 4 -3 4 2 4 5 0 -4 4 -2 12 9 6 3 6 8 8 0 4 -7 7 -8 0 -10-11 2-4 7-4 -3-1 -15 13 3 3 4 1 -8 16 4 4 4 20 4 2 4-2 4-6 4 7 0 5 -8 2 -4-3 -1 3 7 24 10 16 -2 8 -3 4 -1 16 -5 8 -1 7 -7 9 1 4zM1262 800l-4 2 -2-4 6-4 3 4zM546 814l-8-1 -7-7 3-7 16 0 1 3zM686 836l-4-10 7-16 -5-4 2-8 5 4 0 8 2 12zM1270 828l-4 0 -12-8 -8 1 -3-3 2-4 9-5 4-6 4 0 4-3 6 10 -3 12 3 4zM522 826l-4 3 -8-2 -4 3 -15-4 3-5 4 3 -2-6 10-10 8-4 8 4 3 14zM866 811l-1-1 1-2zM1070 822l-1-8 9-8 5 8 -1 4 -4-2zM602 819l-4 2 -4-3 0-6 4-1 4 3 1 4zM654 821l-3-3 3-4 4 0zM1102 823l-6-5 6-1zM1174 818l0-2 2 2zM1215 826l-1-12 -2 8zM986 1008l-4-2 -4-7 -4-1 0-8 -6-8 3-8 -3-4 6-5 5 1 10-16 0-16 -2-4 4-8 -1-4 -13-8 3-4 0-8 3-4 -8-16 4-4 -4-8 3-16 1 4 3 2 4-2 0-3 4 8 4-11 6-6 -2-4 8-14 2 2 0 4 10 9 8-9 4 3 1-3 -3-4 10-6 1 10 3 2 8-2 8 4 -8 4 4 1 4-5 8 0 8 7 12-1 5 6 0 8 -9 13 -32-4 -4-4 -12 5 -4-2 -8 2 -4-2 -4 5 -4-5 -3 4 -1 8 -4-11 -8 0 -2 3 1 8 6 4 -2 4 1 16 11 16 -4 4 1 3 6 5 -3 8 2 8 -1 4 -6 4 1 4 -3 10 -6 6 -5 12 -5 3 0 2 4 3 -1 4 3 4zM650 834l-2-4 2-6 4 2zM1018 836l-5-6 1-4 6 4 0 4zM1118 827l-4-1 4-2 2 2zM1062 831l-4 3 -2-4 6-3zM1179 834l5-4 -2-3 -3 3 -1 6zM480 834l-2-2 -1 2 1 1zM1009 838l-3-2 -2 2zM810 893l-4-3 -6-16 5-4 1-8 -7-4 0-4 -3-4 10-8 10 8 6 18 4-2 1 4 -5 7 -3 9zM474 848l-2-2 2-2zM482 888l-4 0 0-6 -12-4 -2-8 2-10 4-1 10 7 0 4 3 8 -5 4 7 4zM546 872l-8-2 -1-8 9 5 2 3zM834 892l-4-1 -1-5 3-8 -2-4 4-3 2 11zM1178 875l-5-1 5-2zM962 880l0-3 3 1zM1006 879l0-5 2 4zM802 891l0-2 3 1zM574 919l-6-1 -1-4 3-4 3 0 -8 0 -4-4 1-4 -12-3 0-3 4 1 8-6 15 11 -2 4zM806 899l-4 2 -4-3 7-4 1-3zM482 904l-2-2 2-2 2 2zM870 968l-4 0 -6-6 -2-11 -4 2 -8-3 1-12 -4-8 3-4 -3-12 8-8 -1-5 8 1 -1 12 3 4 -2 9 8-1 5 4 4 20 -3 4 0 12zM886 910l-8-4 1-4 3-3 8 3zM798 909l-2-3 2-2 2 2zM1038 918l-4 1 -4-5 0-8 4-2 4 4 17 6 -5 4 -12-5 -2 1zM802 916l-7-2 7-5zM710 922l-4-4 4-5zM578 927l-2-5 6-5 1 5zM734 965l-8-2 -4-3 -5-2 4-12 -7-4 1-4 3-15 4 1 4 10 -1 8 1 3 4-1 4-18 4 0 -2-8 6-2 3 2 2 8 -1 8 4 7 8-10 4 1 0 10 2 4 -4 4 -2 7 -4 2 -5-5 3-8 -2-3 -4 1 -2 6 1 4zM830 924l0-6 2 0 1 4zM686 1121l-8-2 -10-13 -3-8 0-8 -4-8 1-4 -3-8 -6-4 -3-10 -10-10 -11-16 -9-16 -2-8 -4-4 5-8 -9-4 -8-11 -4-1 0-4 -3-4 4-4 -5-5 -4 3 -2-2 -11-16 3-16 7-4 3-5 5 1 3 11 4 0 4-3 4 2 4-4 7 6 2 28 2 4 -3 4 -1 8 5 5 4 0 8 10 4 0 4 3 4-2 3 4 1 11 4 2 3 7 1 12 10 8 3 12 -1 8 4-1 5 13 -2 4 7 8 2 12 -1 12 2 4zM822 990l-12-4 -3-4 2-4 -3-12 2-20 -4-8 2-11 10 7 6 12 -4 0 -1 4 5 1 3 3 -3 16 2 4 -3 8zM834 931l0-2 2 1zM860 934l-2-3 -1 3zM1178 940l-2-2 2-1 2 1zM830 946l-5-4 9-2 0 3zM860 946l-3 0 1 2zM1150 955l-2-1 2-7 3 7zM786 961l-2-7 2 0 2 4zM958 963l-2-5 2-5 3 5zM2402 978l-5 0 9-20 3 4 0 8 -3 6zM666 998l-9-4 -2-4 2-8 4-4 -1-4 6-3 4 7 -2 4 4 4 -3 8zM782 990l-6-8 1-4 -2-4 3-3 8 3 -3 4 2 4zM706 983l-5-1 5-2zM950 991l-6-5 6-6 8 6zM1094 988l-4 0 -5-6 5-3 6 7zM1183 990l-1-3 -1 3 1 1zM2394 997l-4 0 -3-3 3-3 4-1 3 4zM694 1048l-8 0 -6-6 2-4 0-12 -7-8 3-6 8-2 9 8 1 8 -1 4 2 12zM1082 1023l-5-5 5-6 5 2zM954 1038l-12-8 -16-1 -4-3 8-12 8 1 4 5 16 1 2 9 -2 2 -8-7 -1 1 5 4zM1286 1043l-4 1 0-6 6 0 0 4zM2322 1097l-2-3 2-2 3 2zM1218 1127l-8-1 4-8 5 4zM1166 1166l-6-4 6-7 2 7zM970 1178l-4 0 7 0zM986 1182l-8 2 -3-2 -1-4 4-2 4 5 4 0zM994 1187l-2-1 2-1zM1082 1243l-7-1 -4-8 3-9 8 2 4 7zM1062 1234l-4 2 -2-2 6-5zM1130 1275l-4 0 4-5 -8-4 12-5 6 5 -10 4 2 4zM1158 1272l-7-6 3-4 7 4zM1250 1270l-7 0 -1-5 4-1zM1158 1285l-3-3 3-2 2 2z"/>
<path fill="#CC9084" d="M530 568l-4 1 -3-3 -5-16 1-8 4-4 -1-7 4-1 -8 1 -2-5 1-16 6-16 -1-9 4 3 0-5 -3-1 5-4 -10-6 -4 3 -1-5 5-6 4-1 6 7 3 0 -8-8 3-4 -6-12 6-4 -6-4 6-4 2-8 -6-5 -1-7 5-4 -8-8 6-12 -2-4 4-3 12-1 -6-8 0-4 6-4 4 2 2-2 -1-4 35 0 -4 4 4 0 4-2 3 6 -4 4 5 2 1 2 -6 12 9 3 6-3 -2-3 -8-1 4-4 8 2 8-4 8 5 4 0 4 5 5 0 1 20 -6 9 -4 1 -2 10 -7 0 -1 8 4 8 -6 8 -4 2 -4-1 -10 7 -2 5 -5-5 -3-2 -1 2 6 8 0 4 -1 4 -5 0 1 2 4-2 3 4 -3 7 -4-4 -5 5 2 4 -2 4 -9 8 3 8 -4 8 -17 16 5 8 -1 9 -4 5 -12 4zM2006 363l-3-1 5 0zM2054 419l-5-1 -3-9 -4-4 -8 4 -4 6 -20-5 -8-6 -8-2 -6-16 10-18 4 0 8 5 11 13 2 0 3-4 8 10 8-9 4-1 -1-4 -3-4 -4 2 -8-2 -4-12 -9 0 134 0 -1 10 -6 2 -22 17 -8 3 -14 16 -10 3 -12-3 -8-7 -12 7zM682 375l-4 1 -3-2 3-6 6 6zM1114 775l-8-5 -8 6 -3-6 3-5 -4 1 -4-7 -8-6 -8 1 -3-8 -6-4 5-8 -8-1 -2 1 3 4 -5 1 -8-7 -4 4 -3-2 1-4 -6-5 -3 5 6 16 -3 1 1 7 -3 8 -6 4 -4-4 -6 0 -9-8 4-4 -5-8 2-4 -7-8 1-2 9-2 -7-8 10-8 -4-12 -4 2 -1-2 5-8 -3-4 4-8 -9-13 -4-1 -4 2 -4 6 -2-2 3-8 -5 2 -3-2 2-4 -7-5 -8 0 -4 8 -8-6 -4 4 -4 0 -4-7 -8 6 -4-5 -4 2 -4 12 -8 4 -12-8 -3 7 6 4 -3 8 -8 7 -12-4 0 5 -4 3 -4-2 0 8 4-2 5 5 -1 5 -4-2 -4 3 -4 1 -12-7 -4 2 -8-8 0 6 -8 1 -4-3 -4 1 -9-15 -7-3 -4 4 -4-2 -4 0 -5-3 2-4 -1-2 -10 6 0 4 -3 0 -3-8 15-16 -1-4 -6-4 2-4 -2-6 -5-2 1-4 13 4 -6-12 3-8 -2-1 -4 4 -6-7 -1-8 -1-1 -4 5 -4-6 -4 0 0-3 4-2 4 1 2-2 -7-4 3-4 -2-8 -4 6 -6-6 -1-4 6-4 -14-4 4-4 -1-4 4-3 4 7 9 0 -9-19 -4 1 -2-2 2-2 8-3 4-5 4 6 -7 4 3 7 11-15 -5-4 2-2 4 0 4-5 7-1 -3-8 -4 1 -4-5 0-8 -5-8 -15-12 0-4 4-2 0-2 -5-4 1-4 5 0 1-4 -2-5 -4 1 -4 7 -2-3 2-12 4 3 2-3 -2-3 -4 3 -4-4 4-5 4 4 7-7 5 2 4-5 4 7 -6 4 3 0 3-3 12 5 4-1 1 3 -2 4 4 4 -3 4 4-3 4 3 4-2 4 2 0 4 -8-4 -2 4 6 3 4-3 7 4 5 6 4 3 1-1 -5-8 0-12 -5-4 2-8 -2-4 4-4 -2-4 3-2 0-3 -6 1 -2 4 -9 0 -5 4 -2 9 -3-1 1-4 -2-4 -14-8 1-4 -3-3 -3 3 3 4 -4 2 -6-2 4-4 3-8 1-16 -6-4 4-17 4-2 4 2 8-4 2 5 6 4 0 6 4-3 3 5 -7 3 3 5 -3 4 8-12 8 2 2-2 1-4 -14-4 7-8 4 0 2-8 -3-4 9-7 3 3 1 7 4-3 12 8 4-5 8-1 2 6 0 8 14-1 1 5 11 7 4 5 4 0 -2 4 2 4 4 1 4 8 8 2 -1 5 5 4 7 16 5 2 4 6 -1 8 5 4 4 12 -4 1 -2 3 1 4 -4 8 1 4 4 3 4-1 3 2 4 12 0 16 -3 4 4 4 -4 4 4 23 8 5 -3-4 7-3 7 3 -3 8 4 6 4-1 7 7 12-4 1-5 4 3 8 0 8-11 2 5 6 5 8-3 8 7 4 0 16 8 4-3 4 2 4 7 4-3 3 4 3 4 -2 9 3 3 -5 4 -4 8 4 4 -3 4 6 8 4 16 -6 8 1 8 -3 4 8 4 1 8 -6 4 12 4 0 4 -9 8 9 2 16 22 18 8 -3 8 -4 4 1 2 4-3 0 7zM2078 382l4-8 -6 0 -2 3 0 4zM730 380l-2-2 2-1zM814 379l-4-1 4-2zM826 386l-4 0 -3-4 7-6 2 2zM678 429l-9-7 -4-12 0-8 -3-2 -8 6 3 8 -3 6 -4 1 -3-3 -9-24 4-6 8 0 8 7 4-9 12-5 4 1 -2 4 8 4 -3 8 1 4 -1 4 5 8 -1 4 -5 4zM686 388l-1-2 1-1zM726 435l-4-1 -4-9 -5 1 -1-4 4-4 1-8 -7-8 5-4 -4-8 3-3 12-4 5 3 0 12 4 16 -5 8 4 4 0 5 -4 0zM852 394l-2-8 -1 4 -3 4 4 2zM702 430l-10-8 3-12 -3-8 3-4 0-8 7-3 2 3 -3 4 1 1 4-1 4 8 -4 4 1 16zM814 393l-2-3 2-1zM543 394l-3 0 2 2zM774 447l0-5 -6-8 0-4 -5 0 -5 4 -1-12 3-4 -7-4 3-8 -4-8 2-5 8-1 9 6 0 8 -5 4 4 3 0 4 -5 5 9 3 6 9 -4 4 -2 4 2 4zM990 399l0-2 2 1zM876 418l-3 0 1 3zM514 423l-2-1 4 0zM686 423l0-4 1 3zM786 428l0-4 2 2zM871 434l0-4 -5-4 4 4 -2 4zM879 426l-1-2 -2 2 2 3zM682 434l-2 0 -2-4 4-2 2 2zM882 434l0-2 0 4zM1078 439l-4-1 -3-4 7-2 3 6zM450 485l-6-3 -6-9 -5-3 2-8 -6-4 13-14 8 0 4 3 4-9 9 4 3 6 4-2 8 8 -5 8 3 8 -6 9 -4-4 -4 0 -4 5 -4-2 -4 2zM766 448l-2-2 2-5 2 5zM2106 469l-3-3 2-8 -3-4 -12 12 -16 1 -4 2 -4-5 -5-2 -2-8 1-4 10 1 4-2 12 7 10-6 14-4 4 0 4 4 0 4 -2 4 -9 4 3 4zM618 451l-4 1 -1-2 5-1zM857 466l4-8 -4-4 1-4 -6 4 1 4 -4 8 5 2zM950 459l-2-1 2-5 2 5zM2134 461l-6-3 2-3 9-1zM518 479l-2-1 2-2 1 2zM1026 538l-4-4 1-8 -15-16 -3-8 2-4 -2-4 9-5 4-5 4 4 4-1 3 3 -5 4 2 2 8-4 3 2 -1 4 14 3 8 9 -6 4 6 4 -13 8 0 4 -7-1zM578 492l-2-2 2-3 3 3zM879 522l-1-4 5-8 -8-8 -1-5 -2 5 -4 0 1-4 -4-4 3-4 -10-2 -12 5 -5 13 5 1 0 3 8 4 0 7 4-5 8 2 8 7zM939 534l4-4 1-4 -3-4 -10-4 6-8 -4-4 3-4 -10 1 -2 11 6 4 5 8 -4 4zM1024 502l-2-2 -3 2 3 2zM866 507l-4-1 4-4zM878 511l0-3 2 2zM1082 523l-8-1 -3-4 0-8 7-2 8 2 2 4zM790 515l-4 2 -1-3 5-3 2 3zM994 528l-4-6 0-4 -5 0 0-4 5-2 5 2 4 8zM1033 522l-6 0 3 3zM883 562l4-4 -1-2 -7-6 10-4 -10-12 -1-6 -8-1 -3 3 3 4 -4 4 -6 0 2 4 8-2 4 10 4 2 1 2 -4 8 3 2 4 0zM851 534l-1-3 0 5zM982 546l-8 3 -5-3 -3-8 8-2zM954 546l-4-4 -4 4 4 2zM510 553l-5-7 9-3 3 3zM942 554l1-4 -3 0zM1046 567l-8-5 -2-4 6-7 12 7zM774 564l-3-2 3-3 2 3zM974 563l-2-1 4 0zM1018 569l-5-3 5-3zM896 626l3-4 -3-4 2-10 8 0 1-2 -10-4 2-4 -5-9 -4 8 -6 1 -6-4 10-8 -2-18 -9 10 -1 4 -1 8 7 8 0 8 -4 4 1 4 3 3 5 1 -3 4 10 7zM706 575l-2-1 2-2zM718 576l-2-2 2-3 4 3zM702 580l-3-2 3-3 3 3zM714 584l-4 1 -3-3 3-5 6 5zM990 589l-4-7 4-5 2 1zM882 582l0-1 1 1zM506 767l-5-1 2-16 3-7 7-5 -4-4 -3-8 3-4 -1-16 4-12 2-2 4 2 -2-4 1-8 -6-4 -2-4 3-4 1-12 5-8 -4-4 4-2 4-9 3-1 -6-4 1-16 -3-12 1-2 4 2 4-8 1-8 7-3 -2 23 9 16 -3 7 -11 5 0 4 9 4 2 8 -2 4 5 8 -8 0 -1 8 -9 8 2 16 -4 8 5 4 -2 12 3 4 -4 4 0 4 -7 12 3 4 -4 8 3 4 -4 7zM682 627l-3-13 4-4 -4 0 -5 5 -2-5 9-8 5-9 8-5 8-3 4 3 8 1 4 5 8-5 12 1 8-2 4 2 -1 4 4 4 -3 7 -4-1 -2 2 2 4 -8 7 -4 0 -8 6 -3-1 0-4 -10-4 -2-4 3-3 4 3 -4-9 -5 1 3 4 -5 4 0 4 -9-4 -13 8 6 4zM707 594l-1-2 -1 2zM770 602l-12 2 -3-6 3-7 8 4zM2838 604l-3-2 3-6 4 2zM930 606l0-5 -6 5zM876 614l1-4 -3-1 -1 5zM1190 712l-9-6 1-7 5 3 -1-5 -8-4 -1-3 1-8 4 0 -3-4 -4-12 0-8 -5-1 -4-9 -4-2 -6-8 2-8 -8 2 -2-2 1-4 -8-8 5-8 4-1 12 5 4-1 4 9 4-1 4 5 8 3 3 5 0 4 5 8 3 0 -2 4 2 12 1 4 7 4 2 8 -3 20zM1162 614l-2-4 2-3zM698 616l-2-2 2-3 2 3zM916 614l-6-3 0 4zM924 614l-2-2 -3 2 3 4zM614 671l-5-1 3-12 -2-4 -4-3 -10-1 2-5 8-2 4-4 4 0 4-6 4 5 4 1 0-5 4-5 4-1 4 3 8-3 4 3 4-1 4 1 4-9 4-1 4 3 4-4 2 2 1 4 -2 4 3 8 -4 1 -1 3 1 3 4-1 2 2 0 4 -4 4 -1 4 -8 4 -1 4 -4 4 -4-4 -12 4 -2-4 0-4 -14-9 0 5 -10 4zM907 622l-2 0 1 2zM638 628l-1-2 1-1 3 1zM514 646l-2-4 2-2 2 2zM899 646l-1-1 0 3zM999 650l2-4 -3-1 -4 0 -2 5 2 1zM1338 681l-8-9 -4 4 -2-2 1-4 -7-2 -6-6 10-11 10 7 -2 4 4-4 10 4 2 8 -5 4zM818 678l-6 0 2 2zM1010 680l-3-2 3-3 3 3zM1326 688l-11-6 3-5 4-1 7 6zM844 694l2-4 4 2 2-2 1-4 -3-3 -4 2 -1 5 -5 4 2 3zM830 696l0-4 2 2zM1202 707l-1-1 1-3zM1010 711l0-3 2 2zM1042 714l2-4 -2-2 -9 6zM678 737l-8-8 -3-7 3-3 8 0 2 3 1 12zM1006 784l-11-2 -3-12 -6-4 4-4 -3-4 0-8 -1-4 -6-4 5-12 5-4 1 4 8 8 5 12 -1 12 6 4 2 8 1 4zM630 740l-4 1 -4-6 0-8 8 4 3 7zM722 747l-5-1 1-9 3 1zM1050 751l-2-1 0-8 2-6 4 10zM674 762l-5 0 -3-12 8-8 5 4zM574 758l-8-2 -1-2 0-4 5-4 4 2 4-1 1 7zM1066 752l-2-2 2-1zM970 778l-10-4 1-12 -3-9 4-1 3 2 -2 4 5 4 5 12zM1062 755l-4-1 4-3 3 3zM1134 755l-2-1 4 0zM714 760l0-3 3 1zM1270 779l-4-3 -3-6 2-8 -5-4 2-3 4 0 5 7 -1 8 3 4zM602 775l-4 2 -2-3 2-4 0-8 4-1 3 5zM898 779l-8-7 1-6 3-3 6 3 2 8zM1182 772l-6-2 2-6 4-2 3 8zM710 773l-3-3 3-3 2 3zM450 790l-4-3 -4 0 -3-5 7-4 4 1 4-3 2 2 -2 8zM602 791l-5-5 5-6 3 6zM990 846l-5 0 -7-8 0-8 -4-4 0-12 -4-4 2-4 -2-4 2-12 -2-4 8-7 4 3 4-2 6 2 2 3 -4 9 1 4 -3 8 3 4 -3 4 2 8 -2 4 7 8zM474 838l-2-4 2-8 -6-4 -1-4 2-4 -5-8 0-4 -2-3 -4 2 -5-3 1-5 8-9 4 5 4-1 8 10 1 8 4 4 -1 4 -12-9 -2 1 13 16 -7 4 3 4zM710 795l0-3 3 2zM714 809l-6-7 6-7 3 7zM794 810l-4 1 -4-9 8-4 4 2 4 0 2 2 -2 3 -10 1zM1218 807l-1-9 10 0 -1 6 -4-5zM542 812l-9-6 2-4 11 0 -2 8zM518 826l-18 0 3-12 11-8 9 12 1 4zM1266 825l-8-3 -1-8 5-9 8 5zM1254 1135l-4 0 -1-5 4-4 0-8 4-4 -4-8 7-12 -2-12 6-24 -3-8 -5-4 -8-16 -2-12 -4-6 -3 2 1 4 -2 1 -4 0 -4-3 1 6 -3 4 3 4 -3 4 6 8 1 12 4 8 -3 12 2 8 -3 12 -5 4 -8-5 -4 0 -12-10 1-5 -4-4 0-8 -29-18 -4-7 -4 2 -4-2 -4 4 -4-4 -4-1 -4 4 -4-6 0-8 -10-12 3-16 15-3 8 5 4-3 12 1 -5-8 3-4 0-4 8 0 -1 4 3 5 4-7 6-2 -6-3 -1-5 -13-8 4-12 3-4 1-12 16-24 -11-12 -15-1 -2-3 2-4 -1-4 5-11 4 2 4-5 5 2 2-8 -4-8 11-8 -8-8 -1-4 4-4 -5-6 -4 2 -1-4 5-6 4 2 4-1 4 5 8-4 -2-4 2-3 4 0 4 5 3-2 -1-8 6-9 4-1 5 2 3 9 4-1 4 13 8 1 4 6 4-2 4 3 4-1 3 4 -4 4 5 8 -4 8 1 4 -5 4 2 8 4 4 -5 4 1 4 -2 8 2 4 0 8 4 4 -4 16 -5 8 13 4 1 4 -11 5 -2 7 -8 4 5 8 -1 8 -4 4 2 8 4 3 3 13 4 4 0 12 4 4 2 12 10 16 -1 8 -4 4 -1 16 -5 8 0 5 -8 11 1 4 -3 4 -1 16zM598 819l-2-5 2-1 2 5zM1210 818l-3-4 3-1 2 1zM1246 819l0-2 2 1zM482 831l-2-1 2-6 1 2zM686 828l0-4 2 2zM1034 831l0-6 3 1zM1254 830l-3-4 3-1zM1227 834l0-4 -3 0zM486 836l-2-2 2-2zM1010 835l-5-1 1-1zM470 843l-4-1 0-4 4-3 4 3zM482 840l-3-2 3-2 2 2zM1082 865l-20-1 -16-6 -12 4 -8-2 -4 3 -4-2 -8 0 -4 4 -10-11 0-4 6-7 4-2 8 2 4-3 4 2 -2-4 6-4 8 4 4-4 4 0 12 6 4-3 7 1 5 5 16-2 4 13zM478 843l0-4 2 3zM978 843l-4 0 0-3 4-1 2 3zM482 848l0-4 2 2zM810 891l-6-17 4-12 -8-4 1-4 -3-4 8-3 4 0 4 3 7 20 -3 13zM990 977l-8-7 -1-4 10-16 -2-20 3-4 -2-11 -4 0 -8-5 5-8 -2-4 3-4 -2-8 -5-8 3-4 -3-4 1-14 12 6 1 12 5 4 -1 8 2 4 -2 4 12 20 -3 4 1 4 5 8 -2 16 -5 4 2 4 -4 8zM474 868l-4-2 -2-4 4 0 3 4zM998 863l-2-1 2-2 2 2zM542 867l-4 0 0-2 5 1zM474 878l-6-4 2-3 8-2 1 5zM546 871l-2-1 2-2zM834 884l-2-2 2-3zM570 908l-8-9 -9-1 13-2 4 4 4 1 2 1zM854 909l-2-3 2-4 2 4zM886 908l-6-2 2-5 6 1zM870 967l-4 0 -5-5 -1-8 5-4 -3-9 -10 9 -3 0 -2-4 1-8 -2-4 1-8 -2-12 5-7 8 11 -2 16 2 2 3-2 2-4 3-2 4 3 3 15 -3 8zM1038 912l-5-2 1-3 6 3zM570 917l-2-3 2-3 4 3zM1042 915l0-2 2 1zM734 963l-8-2 -5-7 0-4 5-1 4-3 6-12 -1-4 5-4 -3-8 5-1 4 9 -6 12 5 4 -2 12zM686 1120l-8-2 -6-8 -6-12 1-8 4-4 -5 3 -4-5 1-6 -3-8 -6-4 -1-12 -12-8 -16-24 -9-20 3-8 -15-12 -8-12 4-4 -2-3 -4-3 -4 1 -12-15 0-8 4-9 4 0 4-3 4 2 3 6 13 5 -1-5 5-4 6 4 3 32 -3 4 1 8 17 17 4-1 7 8 4 8 6 4 1 4 -2 5 2 7 10 8 4 12 -2 4 1 4 10 12 -2 4 6 8 2 12 -2 12 3 4zM722 942l-5-4 1-10 4 1 2 5zM818 987l-8-3 -2-2 3-8 -3-8 1-20 -4-8 5-7 6 7 -3 8 2 4 7 2 2 6 -4 12 3 8zM754 956l-3-14 3-3 4 0 4 7 -4 4 0 4zM1259 946l-1-1 0 2zM1282 967l-8 0 -4-5 -1-8 9-4 7 4 3 4zM2406 973l-4-3 4-10 2 6zM986 1007l-12-12 1-5 -4-8 1-8 -2-4 8-2 4 2 4 8 -1 8 3 4 -2 4 4 4zM666 978l-3-4 3-1zM2402 975l0-4 3 3zM1245 978l-3-1 -1 1zM666 997l-8-4 -1-3 3-8 6-4 5 8zM778 983l0-2 3 1zM950 985l-2-3 2-1zM1094 986l-4 1 -5-5 5-2zM954 988l-3-2 3-2 2 2zM2394 995l-5-1 5-1zM650 1000l-2-2 2-1zM1183 1002l-1-3 -2 3 2 1zM1274 1012l-2-2 2-6 2 6zM694 1047l-8 0 -5-5 2-16 -6-8 1-4 4-2 4 0 8 6 1 4 -2 8 3 12zM1082 1022l-4-4 4-5 3 1zM946 1029l-8-5 -4 5 -4-1 -4-4 1-6 3-3 8 1 4 6 4 2zM1286 1042l-4 0 4-3zM1178 1057l-3-3 3-3 2 3zM1166 1164l-5-2 5-4zM1082 1234l-2-4 2-1zM1082 1242l-5 0 0-4 -3-4 4-4 4 4zM1130 1268l-6-2 6-2 2 2zM1158 1271l-5-5 1-2 5 2zM1246 1271l-3-5 3-1 2 5z"/>
<path fill="#B4685C" d="M530 566l-4 0 -5-8 5-9 -4 2 -2-5 2-5 4-3 4 2 5-6 -1-2 -8 6 -2-4 3-4 -9-3 2-9 -2-8 2-4 0-4 6-8 1-12 3-4 -6-4 2-3 4 2 6-7 -6-5 -5-7 5-8 -5-8 5-4 -2-4 2-6 4-2 -8 0 -3-4 0-4 4-4 0-4 -1-2 -6-2 1-4 1-2 4 5 5-7 -7-8 2-1 12-1 4 2 -2-4 4-4 -2-1 -4 3 -4-6 2-4 6-1 4-3 -2-4 4 0 6 6 2-2 -5-4 24 0 -3 4 2 1 8 0 1 3 -4 4 5 4 0 4 -5 4 -1 7 -4 1 8-1 8 3 9-10 7-3 4 1 4 3 4 0 8 7 0 16 -8 6 -4 9 -6 5 -2 8 4 8 -1 4 -3 3 -4-3 -4 4 -4-2 -8 8 -8-1 -2 3 6 8 0 4 -4 1 -2 3 0 8 -4 4 -1 8 -8 8 -2 8 3 4 -10 12 -11 4 7 12 -1 8 -7 6 -8 2zM553 374l-3-2 -2 2zM838 400l-11-6 -2-4 8-4 1-8 4-6 2 6 6 5 2 7 -2 2 -5-6 -3-1 -3 1 9 8zM846 381l-2-3 2-1 3 1zM1118 772l-8 0 -4-3 -8 4 -1-3 3-4 -2-3 -16-11 -6-2 -8-8 4-4 -2-5 -4-3 -8 5 -4-1 -3-4 -3-4 2-5 -1-11 -7-5 -5 1 1 4 -6 4 9 4 3 4 0 4 -2 1 -4-4 -5 7 5 16 -2 12 -2 4 -4 2 -7-6 -1-4 -5-4 1-4 -5-4 1-4 -3-8 7-4 -7-8 11-12 -3-4 -1-6 -5-2 3-4 -3-8 3-4 -4-4 -1-8 -5-5 -4 1 -10-4 0-4 10 2 4-6 -4-5 -4-2 -4 1 -8 9 -12-2 -8 4 -4-3 -4 5 -8-7 -8 5 -4-4 -8 2 -4-3 6 8 -1 4 -1 4 -8 4 -11-8 -1-4 -4 2 -4-5 -1 7 5 2 0 6 5 4 -2 8 -7 5 -12-5 -3 4 -1 5 -4-3 -2 10 6 4 -4 4 -4 1 -7-5 1-4 -2-1 -8 6 -7-9 -2-8 -3-4 -6 4 -6 11 -6-7 -2-6 -5-2 -3-6 -11 2 3 3 6 1 -2 1 -9-1 -2-8 6-4 -3-3 -4 6 -12 8 -1-3 13-15 4 1 3-2 -3-4 4-4 -4-4 0-14 -4 1 -2-3 3-4 -1-8 -7-4 -5-10 -10-10 1-8 -6-8 8-8 -3-8 4-4 -5-4 12-16 -1-3 -5-1 5 0 4-5 8-1 3-2 -9-12 4-4 -2-2 -4 3 -4-9 4-4 4 5 0-3 -3-2 1-8 -2-1 -4 3 -8-3 -4 1 -2-4 7-4 -5-1 -7-7 8-4 -1-8 -7-12 3-3 4 5 4 1 4-1 4 3 4-4 4 1 10 10 -2 5 4-2 2 1 -2 4 4 5 8 1 7 6 -3 5 4-4 4-1 4 3 3-3 -3-4 -2-8 0-8 -5-4 3-4 0-8 5 0 -5-14 -16 3 -4-2 -1 5 -3 3 -14-7 -8-12 2-20 -5 0 0-4 9-11 13 3 5 8 -3 4 -1 8 2 2 4-2 8 7 4-6 4-1 -3-8 3-2 8 3 4-1 -3-8 3-2 4 1 3-3 1-11 12 0 4-1 -3-4 3-1 0 13 4 2 8-2 14 12 2 5 4 3 0 4 16 12 7 12 -4 4 5-3 2 3 3 8 9 8 0 8 6 8 -3 16 -5 11 -8 1 -4-5 -4 1 -2 4 3 4 -1 4 1 4 8 8 -3 8 2 6 4-2 6 4 4 8 -7 4 9 13 4 0 4-5 2 4 0 8 -6 4 8 3 4-2 4 0 4-4 2 7 6 7 4 0 2 5 6 2 4-4 4 1 12-4 4 1 12-6 4 4 8-2 12 9 4 0 12 6 4-3 7 8 6 0 4 8 -8 20 1 8 6 8 3 16 -6 8 2 8 -4 4 1 4 8 0 -3 8 -5-2 -1 2 9 9 4-2 2 1 0 4 -10 8 12 5 24 33 4-5 2 3 -5 8 2 4zM850 384l-3-2 3-3 3 3zM670 423l-3-21 -7-4 2-9 4-4 8 2 7 7 -3 12 4 4 0 4 -4 7zM650 419l-6-9 1-12 -3-4 4-4 4 0 5 4 -8 4 3 3 5 1 -5 8 6 4zM722 432l0-6 -6-4 8-4 -6-1 -2-3 2-4 -4-8 2-4 -3-8 9-4 4 0 4 4 -1 8 4 8 -4 8 2 4 -5 4 6 4 -2 3 -4-2zM542 406l-3-4 5-4 1-4 -3-2 -5 2 4 4 -5 4zM702 427l-7-5 0-8 3-8 -4-4 4-11 8 11 -2 4 1 12zM766 415l-4 2 -8-3 4-4 -1-8 -3-4 3-4 5 0 8 8 0 4 -4-1 -2 5zM822 410l0-5 2 1zM859 414l1-4 -2-1 -1 1zM826 415l0-2 2 1zM883 438l0-8 -7-8 2-4 -4-2 -10 10 3 4 -3 4 10 4 4-3 4 5zM770 429l-12-2 0-6 4-1 4 5 4-1 3 2zM543 426l-5-2 -2 2zM854 430l6-4 -3 0 -3 4 -4 0zM874 427l-5-1 1-2zM682 432l-1-2 1-1zM774 436l-4-2 4-6 3 6zM823 430l-2 0 1 4zM874 438l0-5 3 1zM462 479l-4-3 -8 0 -4 6 -7-8 0-4 -4-4 0-4 -4-4 6-8 5-4 4 4 4-2 4 0 3-2 1-4 4 4 4-4 4 8 4-2 2 2 3 8 -3 4 2 10 -4 4 -1-2 -7-1zM526 448l-4-2 4-2 4 2zM790 452l-8 0 -2-2 6-1 4-5 2 6zM891 638l-3-4 2-3 4 1 4-5 13-1 -5-6 -4 2 -6-4 6-7 4 0 8 8 12 3 4 7 2-3 -6-4 3-4 -7-8 -8-1 -8-6 -6-1 -2-12 -7-8 4-4 1-4 -6-1 -2-3 3-4 -3-12 3-8 4-4 -1-4 -2 0 1 4 -3 3 -9-11 -2-8 7-8 -4-1 -1-3 4-4 -6-8 5-4 -2-4 -4 7 -6-11 -13-4 7-5 1-7 4-4 -5 2 -5-2 5-6 -2-6 3-4 -4-4 -5-1 -4 1 -4-2 -4 6 5 4 -3 8 7 4 3 5 7 3 -9 8 -9 0 -5 12 -6 4 6 8 10 4 2 10 4-5 4-1 7 4 -4 8 4 4 -10 4 3 6 4 1 4-2 3 7 4 4 -4 8 7 4 -3 4 2 4 -5 4 0 8 -5 4 5 6 5 2 0 4 -1 2 -4-4 0 6 -4 4 4 7 4-1 1 2 -5 4 4 5 4 2 4-5 2 2 2 4 -5 4zM572 466l0-8 4-4 -2-2 -5 6 0 8zM602 455l-4-1 4-4 2 4zM862 455l0-2 2 1zM522 473l-3-3 3-4 3 4zM530 467l-2-1 2-3 3 3zM822 471l-2-1 4 0zM535 478l-1-2 -3 2 3 2zM450 483l-4-1 4-2zM582 486l-3-4 3-2 2 2zM1010 510l-2-4 2-12 8-5 4 3 -1 6 -3 3 -4-5 -4 2 4 8zM1042 528l-12-8 -8 3 -12-13 8-3 4 6 2-3 -3-4 9-9 7 5 -3 2 0 3 5-1 0-4 3-1 8 2 2 3 -4 16zM946 525l-11-7 4-8 -2-4 5-3 10 7 -5 4 7 4zM1082 520l-8-2 1-8 7 0 4 3zM895 518l-1-2 -4 2 4 4zM994 526l-2-4 2-6 3 6zM950 540l-4 2 -5-8 9-12 4 1 1 3 -1 3 -3 1 3 1 1 3zM851 538l2-8 -3-1 -2 1 -1 8zM859 530l-1-3 -3 3zM1026 535l0-8 4 1 2 2zM815 534l-2 0 1 4zM974 547l-7-5 7-4 3 4 -1 4zM835 542l-1-2 0 5zM510 552l-2-2 1-4 5-2 2 2zM950 554l-4 3 -2-3 2-3zM1046 566l-7-4 -1-6 8-2 5 4zM886 564l0-3 3 1zM782 578l-17-4 5-6 4 5 8-1 3 2zM857 578l-7-6 -2 2 4 4zM844 582l-3 0 1 2zM530 599l-4-1 2-12 6-1zM791 586l-1-2 0 4zM686 615l-1-5 -5-4 14-12 1-4 3 0 7 8 -3 8zM967 590l-6 0 1 2 4 0zM730 619l-4 1 0-2 -8-4 1-12 -5-3 -7-1 3-3 8 1 8-5 8 1 14 10 -6 4 3 4 -7 5 -4 0zM932 594l-2-2 -3 2 3 3zM762 602l-4 0 -2-4 2-3 9 3 -1 3zM855 606l2-4 -7-5 -4 5 0 4zM530 632l-4-2 -4 2 -2-2 2-16 -2-8 6-8 5 8 4 12 4 4 -1 6zM850 604l-3-2 3-2 2 2zM931 606l-1-7 -7 7 3 3zM786 607l-7-1 3-1 5 1zM674 612l0-3 2 1zM1190 711l-6-5 7-4 -6-8 3-4 -7 0 -1-4 3-4 -6-12 -1-12 -6-3 -4-9 -9-8 0-4 3-4 -6-2 -12-10 8-8 8 3 12 11 4-1 11 7 0 4 6 8 4 12 -6 4 5 1 3 7 5 3 4 5 -4 24 -6 4 -1 4zM794 620l0-5 3 3zM869 622l-3-3 -2 3 2 2zM674 628l-3-2 3-3 1 3zM662 666l-4-2 -4 3 -8-7 -13-6 -3-16 4-6 4 1 8-4 8 6 6-1 2-5 4 4 4-5 2 2 3 4 -6 4 2 4 -1 2 -4-1 -4 7 -4-4 -5 0 5 5 4 0 4-4 8 3 -2 8 -7 4zM868 642l-2-4 2-4 -6-6 -3 2 7 4 0 11zM1150 631l0-3 3 2zM518 680l-5-2 0-16 6-12 -1-4 4-10 10 6 6 16 -7 4 0 8 -5 5 -4-2zM952 638l-2-2 -2 2 2 2zM622 659l-4 2 -4-1 -8-13 -5 3 0-4 5 0 4-5 4 1 4-3 11 3 0 8 -5 4 2 4zM646 650l2-4 -2-3 -3 3zM806 648l-4 1 -2-3 2-2 4 1 2 1zM900 650l-2-7 -2 3 1 4zM1002 651l0-2 3 1zM806 657l-4-3 4-3 3 3zM1330 669l-4 0 -3-3 -1-5 -4 3 -3-2 1-4 6-3 6 3 2 7 3 1zM1334 665l-2-3 2-2 3 2zM827 670l-5-6 -2 2 6 6zM1338 680l-8-10 8-8 4 1 3 7 -5 4zM1318 683l0-2 2 1zM1326 686l-3-4 3-1zM522 698l-4-8 4-3 2 7zM518 738l-8-4 -2-8 3-4 -3-4 1-12 4-4 -2-4 3-4 8 4 -2 4 5 4 -1 16zM846 696l0-3 4 1zM1195 694l-4 0 3 4zM850 700l-2-2 2-4 1 4zM1032 698l-2-2 0 5zM1046 718l-2-4 2-2 4 2zM678 729l-8-4 -1-3 9 0zM1046 733l0-6 3 3zM678 735l-2-1 2-3 2 3zM998 782l-7-16 2-4 -4-4 0-8 -5-8 1-8 5-4 6 8 -3 4 5 2 3 6 -4 4 3 4 -5 4 7 5 4 0 4 11 -4 3zM510 763l-4 1 -2-2 -1-12 7-9 4 0 2 5 -2 6 -4 2 6 4zM1118 744l-2-2 3 0zM674 760l-4 1 -2-3 0-8 2-3 4 0 3 3zM894 771l-2-5 2-1 3 1zM962 768l0-4 3 2zM966 773l-2-3 2-3 2 3zM598 775l0-2 2 1zM1270 776l-2-2 2-1zM446 784l-2-2 2-2 2 2zM990 843l-4 2 -5-7 0-4 -7-16 1-4 -4-4 2-4 -2-4 1-16 6-5 4 2 6-1 4 4 -6 24 3 12 -2 4 5 8zM470 803l-4 2 -4-7 0-4 4-3 4 0 5 7zM714 807l-3-5 3-3zM794 803l-4 1 -1-2 5-2 3 2zM542 810l-2-4 2-2zM518 825l-16-1 1-6 7-9 10 5 2 8zM1262 812l0-3 2 1zM1262 1111l-4 1 -5-6 8-12 -2-12 3-4 0-8 3-12 -3-9 -4-3 -9-16 -2-12 -5-7 -8 2 -4-4 -2 1 1 12 -4 4 4 4 -3 4 4 4 -1 4 6 8 -2 4 2 8 -6 8 7 8 0 8 -6 11 -8-6 -4 0 -11-9 1-4 -3-4 -1-8 -5-4 -1-4 -12-2 -12-10 -1-4 -3-2 -8 0 -4-3 -12 6 -3-5 0-8 -10-12 0-4 4-4 1-8 8 5 -3-5 3-1 4-1 4 5 4 0 4-3 16 0 -6-8 2-7 7 11 -3 4 4 4 1-8 4-4 -1-4 9-4 -17-14 -5-2 7-16 1-12 5-9 6 1 2-4 4 0 -4-8 4-4 -7-8 -1-6 -12-2 -4 3 -4-2 2-5 -2-8 4-4 8 1 8-3 -1 10 5 6 1-2 -5-8 8-4 -7-4 -2-4 3-4 -2-4 4-4 -1-4 4-4 -6-20 3-2 4 1 4-4 10 1 -6-8 4-1 4 4 4-2 8 10 3-7 -7 0 -4-4 -1-8 5-6 4-2 5 4 2 8 5 3 4 8 8 1 4 5 5-1 5 8 -2 5 4-1 2 4 -7 12 0 12 3 4 -3 4 0 8 2 8 -1 12 2 4 -2 12 -5 8 1 3 4 0 5 5 -5 2 -4-6 -2 4 2 4 0 8 -1 0 1-4 -4-4 -2 4 -2 15 -4 1 4 0 4-3 2 3 -2 8 -12-3 -2 3 10 2 4 12 4 4 2 10 4 4 1 12 3 4 2 12 10 16 -1 8 -4 4 1 8 -7 16 1 4 -9 12zM470 823l0-6 2 5zM1266 823l-6-5 2-4 4 2zM1190 837l-3-3 3-2 3 2zM1022 840l0-3 3 1zM1082 864l-12 0 -4-3 -4 2 -4-3 -4 0 -8-3 -8 2 -12 0 -4 3 -4-3 -8 1 -4 3 -6-5 -2-8 8-7 8 2 4-3 8 4 -3-4 3-4 16 0 8 3 8-1 12 3 12 0 6 7 1 4zM1266 843l-3-1 3-1zM814 882l-7-8 0-8 2-4 -3-3 -5-1 2-4 -1-4 8-2 2 2 -3 4 5-1 3 5 3 16zM990 974l-7-4 -1-4 11-20 -2-4 0-12 4-4 -4-12 -5 0 -6-4 6-8 -4-4 2-4 -1-8 -5-8 4-4 -4-4 0-8 4-4 6 4 2 8 0 7 4 5 -1 4 3 4 -3 4 1 4 12 16 -2 8 4 8 0 12 -5 8 1 4 -6 9 -5 3zM1190 870l-3-4 5 0zM810 884l0-3 3 1zM814 886l-2 0 2-3zM886 907l-5-1 1-4 4 0zM570 907l-1-1 1-2zM850 949l-2-3 2-8 -3-4 2-8 -2-12 3-6 6 10 -1 16 7 4 -4 4 -5 0 1 4zM570 916l0-4 2 2zM742 929l-2-11 2 0 2 8zM686 1119l-8-2 -9-15 -1-8 4-8 -2-4 -4 5 -4-5 3-4 -4-8 -5-4 -1-12 -13-8 -20-32 -4-12 2-8 -4-4 3-4 -5 2 -9-6 -4-16 -2-4 -9-3 -11-13 3-15 12-1 2 4 6 2 8 6 1-8 3-3 5 3 2 20 -4 12 3 12 18 18 4 1 9 13 6 4 2 16 11 10 3 10 -2 4 1 4 8 8 2 4 -2 4 6 8 3 12 -3 12 3 4zM730 959l-4-1 12-24 0-5 3 1 -2 8 5 4 -3 8zM1190 932l0-2 3 0zM722 937l-2-3 2-1zM814 939l-4 1 -3-2 3-5zM866 937l-2-3 2-3 2 3zM870 948l-7-6 7-6 2 6zM1245 946l2-4 -5-5 2 5 -3 4zM754 953l0-12 6 5zM1206 958l-7-8 0-4 4-4 -1-1 -4 4 -1 9zM818 984l-8-2 2-8 -2-16 8-4 4 0 1 4 -5 12 3 8zM866 962l-5-8 5-3 4 7 -1 4zM1278 967l-4-2 -3-7 7-7 4 1 5 6 -5 8zM870 966l-2 0 2-4zM978 996l-3-2 1-4 -4-8 1-8 5-5 6 9 2 12zM666 996l-8-6 4-7 4-1 4 4zM1090 986l-4-4 4-2 2 6zM1178 989l-2-3 3 0zM986 1001l-4-2 0-3 6 2zM1224 1006l6-8 9 4 -5-6 -12 9 0 3zM694 1046l-8 0 -4-4 3-16 -7-8 4-5 8 3 5 6 -3 8 3 4 1 8zM1082 1021l-3-3 3-5 2 5zM934 1028l-6-2 -1-4 3-6 9 2 0 4zM1254 1135l-2-1 -1-4 3-4 0-8 4-1 1 9zM1078 1237l-2-3 2-2 3 2zM1158 1268l-4-2 4 0z"/>
<path fill="#9C4030" d="M554 363l-1-1 3 0zM530 563l-4 0 -3-5 4-8 -1-3 -4 1 -1-2 5-7 8 3 2-8 -2-4 -4 5 -5-1 3-4 -6-4 -1-12 6-4 -1-4 -4 1 -1-5 5-7 8-1 -7-4 3-9 4 5 3-8 -3-4 -8 0 4 0 4-4 10-4 -2-2 -4 2 -10-8 1-8 4-4 -4-4 0-4 7-4 -7-4 1-4 4 0 7 4 1 4 4-12 -4 2 -8-4 -8-1 -2-5 5-4 1-4 -3-4 3-6 4-2 4 2 0 4 -5 2 1 4 4-2 4 4 0-6 4-4 0-4 -4-3 -8 3 -4-3 0-3 4-2 8 3 0-7 12-7 8-9 -3-4 9 0 6 6 8 2 -6 4 -1 12 -5 0 1 8 7 3 4-2 8 5 11-14 9-1 13 9 1 16 -7 4 -3 9 -7 7 -2 8 -4 4 1 2 4-4 1 2 1 8 -2 2 -4-4 -4 2 -4-1 -4 8 -8 2 -5-5 1-4 -4-8 -4 6 -2 18 9 8 -4 8 2 4 -4 4 -1 6 -8 6 -3 12 3 4 -2 4 -10 9 -10 3 4 4 0 4 5 8 -2 4 -5 5 -8 1zM538 378l-3-4 3-3 8-3 4 2 -4 7 -4-1zM838 383l-4 1 -1-2 5-4 3 4zM582 383l-1-1 1-4zM1118 771l-8 0 -8-5 1-4 -10-4 1-5 -4 2 -12-5 -6-8 3-4 -9-9 -12 3 -3-26 3-8 -4 0 -1 8 -3 2 -4-6 -5 0 -3-9 -4 2 -4-4 -4 3 -4-3 -3-5 2-8 -3-4 6-8 -5-4 -1-5 -12 1 8-12 -4 2 -4-4 -8-2 -8 8 -12-2 -8 5 -4-7 -4 9 -8-7 -4 4 -8-3 -4 3 -4 0 -4-4 0 5 4 5 -4 10 -4-1 -12-10 -4 1 -2-4 1-4 -10-12 3-9 14-3 -6-7 -8 0 0-3 4-2 4-2 4 6 12 9 4-2 1 5 7 8 4-6 4 7 3-1 -3-10 -4 0 -10-6 3-4 -6-8 7-4 2-7 4 1 0-4 -4 1 -4-7 -4 3 -8-1 -2 2 2 5 8-3 1 2 0 4 -9 6 -12-9 -4 2 -2-7 4-4 -12-8 6-8 -9-4 4-4 -4-8 3-12 2-2 4 2 -2-8 -5-4 -1-1 -4 5 -6-12 2-2 8-1 4 4 5-5 -5-7 -4 2 -3-3 0-4 -4-4 4-4 -5-10 -4 6 -4-10 -7-6 2-8 3-4 -5-4 -1-8 3-4 -4-4 1-6 -4 4 -4 0 -7-10 0-4 3-2 5 6 11-1 8 6 4 0 4-5 -1-8 -7-8 1-4 -5-2 -4 2 -4-4 -4 3 -2-3 1-4 -3-3 -4 11 4-2 8 6 -4 4 -4-2 -4 4 -6-2 0 8 -6 7 -4-6 -8-1 -4 1 -1-5 -5-4 0-4 2-1 4 3 4-6 4 0 1-8 3-3 8 1 4-8 4 4 1-2 -5-4 8-7 0-5 4-3 6 3 2 6 8 1 4-1 12 10 7 12 16 12 7 12 -3 4 11 12 2 7 9 9 2 8 -7 21 -8 2 -4-5 -10 2 -2 4 3 4 -3 4 4-1 9 13 2 4 -2 4 1 4 -3 4 5 1 4-3 9 10 -7 4 7 12 11 8 -5 4 1 2 12 7 0-5 8-3 5 11 11 7 4 0 4-4 4 6 4-1 -1-4 9-3 4 1 12-8 4 4 8-1 12 9 4-1 12 7 4-2 5 6 7 1 2 11 -4 4 1 4 -3 12 1 4 4 4 5 20 -6 8 2 8 -4 4 4 8 -5 4 11 12 -6 4 1 4 13 7 8 13 7 4 0 4 7 8 3 12zM678 401l-4 1 -8-5 -2-7 2-3 8 1 4 3 2 3zM726 418l-8-2 -1-2 2-4 -3-4 2-8 -3-8 3-2 10 2 0 8 4 8zM834 394l-7-4 11 0zM846 391l-1-1 1-3zM814 443l-12-5 0-4 -8-8 -1-4 5-12 -6-12 6-6 12 4 3 6 -3 12 9 16zM842 396l-3-2 3-2 2 2zM698 399l0-3 2 2zM762 405l-7-7 3-3 8 7zM846 400l-1-2 3 0zM670 405l-1-3 1-4 3 4zM702 422l-4-1 -2-7 5-8 -1-4 2-3 2 15zM678 416l-4-3 -4 2 -1-5 5-7 6 7zM608 414l-2-3 0 6zM654 415l-4 1 0-2 4-1zM674 419l-3-1 3-2 3 2zM818 422l-4-4 4-2 3 2zM866 422l-3-4 3-4 4 4zM722 423l-2-1 4 0zM730 427l-2-1 2-1zM770 427l-2-1 2-1zM862 434l-6-4 6-4 3 4zM891 438l-1-3 -3 3 3 2zM850 446l-4 0 1-4 3-2 3 2zM462 476l-4-3 -8 1 -4 3 -6-3 1-4 -7-12 4-3 0-5 4-3 4 4 8-1 12-6 4 7 4-1 4 8 -3 4 3 8 -4 3 -8-1zM896 450l1-4 -7-3 0 5 4 4zM574 451l-2-1 2-1 3 1zM874 454l4-5 -4 1 -2 4zM778 458l-2-4 2-2 2 2zM850 484l-9-10 2-8 -7-4 4-8 2-1 7 5 -2 8 3 4 8 7 4 1zM878 700l-8-5 -4 4 -3-1 -1-4 -4 0 -4-9 -4-3 -4 0 -8 11 -5-3 -3-14 -4 4 -2-2 4-8 -6-7 -4 6 -2-3 -1-4 5-4 -8-8 2-4 4 3 2-3 -2-3 -4-1 -4-8 -4 2 -1-2 4-4 0-8 -8-4 -11-16 3-12 -3-8 -4 7 -5-7 7-8 -2-8 4-2 3-6 -2-8 7-6 4 4 1-2 -1-6 -4 1 -2-3 2-3 4-1 4 1 4-4 4 18 4 1 -3-8 6-4 -3 0 -14-16 2-3 7-1 0-4 -3-1 -4 3 -4-6 -4 2 -2-6 2-2 4 6 2-16 -6-3 -4 3 -10-4 6-4 -4-4 -4 2 -3-6 7-3 -2-5 3-4 -8-8 7 2 4-3 4 6 4 1 1-2 -2-4 6 0 2 8 13 16 4-2 4 2 1 4 -2 8 13 11 4 7 8 3 4 11 -12 4 4 2 -2 6 6 3 4-6 3 3 0 4 6 4 -2 4 1 2 5-2 3-5 5 9 -6 8 6 8 -3 16 -7 4 5 4 -2 4 -6 5 -12-7 -6 6 2 6 4 1 4 0 4-6 4 4 8-8 2 3 0 4 -4 4 2 6 -9 2 0 4 3 4 -11 8 1 1 4-5 7 4 -1 8 2 5 4-1 -2-8 6-5 4 4 4-3 4 2 2 2 -2 4 4-2 5 6 1 4 -3 4 1 1 4-2 2 1 0 8 10 12 -2 8 -6 4 -4 0 -8-8 -4 6 -13 2 5 4zM903 462l-9-6 -5 2 9 5zM574 468l0-8 1 6zM578 473l-3-3 3-2 3 2zM902 482l6-4 -4-4 4-4 -2-3 -5 7zM880 478l-6 0 4 3zM582 484l-2-2 2-1zM816 486l-6 0 4 4zM838 499l-4 3 -4-4 0-4 8-6 5 6zM814 498l0-8 -3 4zM1018 499l-3-5 3-2 3 2zM946 513l-4 0 -3-7 3-2 7 6zM1010 508l0-5 2 3zM1046 523l-4 2 -4 0 -4-5 -8-2 1-12 3-3 4 6 12 2 2 3zM1050 508l-5-2 5-1zM821 510l-3-2 -2 2 2 3zM1078 519l-2-1 0-4 2-3 4 0 3 3zM946 522l-8-5 4-3 8 4zM1044 518l-6 0 4 2zM849 522l-3-2 -2 2 2 2zM866 535l-4 0 -4 2 -3-3 5-4 -2-9 9 1 -3 8 3 4zM950 528l-2-2 2-2 3 2zM950 539l-5-1 -2-4 3-3 7 3zM844 566l3-8 -4-4 1-8 -6 0 -4-8 -1 8 8 4 -2 4 6 4 -3 3 -4 1 0 4zM974 545l-6-3 2-2 4-1 2 3zM803 554l-1-1 -2 1 2 2zM946 556l0-4 2 2zM786 559l0-2 2 1zM1046 565l-4-1 -4-6 4-3 7 3zM843 586l7-5 9-3 -1-14 -5 2 2 4 -9 4 2 4 -2 2 -7 2zM770 575l-3-1 3-3 2 3zM782 575l-7-1 7-1zM817 574l-3-3 -2 3 2 2zM922 582l-4-2 -5 2 5 3zM530 595l0-10 2 1zM966 594l1-4 -1-1 -8 1 4 5zM730 618l-9-4 -1-12 -3-4 9-5 8-1 12 10 -5 4 2 4 -9 3zM698 606l-4-3 -1-5 9-2 2 2zM766 599l-4 1 -4-2 4-2zM530 631l-8-5 1-12 -3-8 6-6 8 14 -4 3 0 3 8 2 0 4 -4 1zM690 612l-8-6 4-4 5 4 2 4zM838 614l-5 0 1 2zM1198 699l-2-1 2-4 -3-4 -12-4 1-4 -6-12 1-4 -3-4 2-4 -8-4 -4-9 -8-7 -1-4 4-4 -6-4 1-4 -10-1 -3-3 7-7 16 9 2 2 -2 4 8-2 8 6 4 8 -5 4 5 1 6 7 0 4 -5 4 7 3 2 5 9 8 -4 12 1 8zM922 624l-3-2 3-1zM870 631l-4 0 0-3 4-4 4 1zM522 631l0-4 2 3zM934 632l-2-2 2-3 2 3zM642 640l-3-2 3-4zM662 647l-4-3 -8 1 -3-3 3-4 -1-4 17 4zM670 635l-2-1 2-3 2 3zM518 677l-2-3 -2-12 6-12 2-12 11 8 2 12zM634 639l0-4 3 3zM954 638l-4-3 -4 3 4 3zM979 638l-1-3 -2 3zM1000 638l-2-2 -2 2 2 4zM614 656l-5-6 3-4 6-5 4 2 5-1 -1 7zM638 645l-3-3 3-4 2 4zM634 652l0-9 3 3zM662 664l-12-1 -6-5 10-10 8 7 4-6 3 1 0 8zM840 658l-2-4 -3 0 0 4 3 1zM657 658l-3-2 -2 2 2 2zM1318 662l0-5 2 1zM1326 668l-3-2 1-8 2 0 4 8zM806 670l0-5 2 1zM1338 679l-7-9 7-7 4 1 2 6 -5 4zM802 671l0-1 3 0zM886 674l-4-5 -1 1zM818 674l-8 3 -1-3 5-3zM1032 686l-6 0 0 2zM514 702l-2-4 2-3 4 3zM1034 760l-4 1 -7-3 -8-20 5-12 -6-8 8-8 4 2 2-2 -8-12 2-4 4 1 4 11 4 0 1 4 -4 4 8 4 -6 12 4 16zM1190 699l0-3 2 2zM518 736l-4 0 -3-2 1-4 -3-4 4-4 -4-4 3-4 -2-8 8-8 5 8 -2 16 -5 8 3 4zM874 703l-2-1 2-3 3 3zM994 758l-3-4 0-4 -5-12 4-6 3 6 -1 4 7 8zM510 763l-4-2 -2-7 0-4 6-7 3 7 -4 4 6 4zM670 759l-1-9 5-1 1 1 -3 8zM1002 778l-4 1 -3-5 -1-9 4 0 8 6 0 6zM1102 771l-2-1 2-4zM986 843l-2-5 1-4 -6-4 -3-8 -1-8 -3-4 2-4 -2-4 2-4 -1-12 5-3 4 1 4-2 4 4 -5 24 2 24 3 4zM470 801l-4 1 -2-4 2-5 5 1 2 4zM518 824l-15-2 7-12 8 3 3 5 0 4zM1258 1110l-4-4 8-11 -2-13 7-8 -4-4 2-12 -3-11 -4-2 -7-15 -3-12 -5-8 0-8 -11-8 3-4 -5 3 -8-4 -5 5 5-1 6 5 -8 8 8 16 -4 4 3 4 -4 4 11 16 -3 12 2 4 -5 4 6 8 1 8 -5 10 -8-6 -4 0 -10-8 -4-16 -6-9 -12-3 -10-8 -2-9 -12 2 -4-3 -4 1 -4-5 -4 1 -12-15 0-5 8-6 6-1 -2-5 4 0 4 5 8-2 12 0 8 3 2-1 0-8 6-8 5 0 2-4 -19-15 -4-1 4-4 0-8 3 0 1-16 4-7 8 0 6-5 -3-8 5-4 -10-8 0-8 4-4 -4-4 2-4 4 2 1-2 -1-6 -6-2 -1-4 3-4 0-12 4-4 -3-8 1-4 6-10 14-2 -3-4 5-2 9 10 4-8 -1-3 -8 2 -3-3 -1-8 8-7 4 3 2 8 10 12 5 0 7 5 4 1 5 6 -2 4 -1 20 2 12 -2 4 0 8 3 8 -1 24 -7 12 1 4 -4 8 -3 16 -7 8 -4 0 1 4 11 4 12 28 8 29 9 15 -1 8 -4 4 1 8 -6 16 0 4zM1262 819l0-2 2 1zM1235 838l-1-2 -2 2zM1082 863l-12 0 -4-4 -4 3 -4-4 -4 1 -4-3 -12 2 -12-1 -4 3 -4-2 -8 1 -4 3 -5-4 -1-8 6-5 4 2 12-2 4 2 -2-5 2-2 12 1 4-2 8 3 32 2 6 6 0 4zM814 879l-7-9 3-8 -3-4 7-4 2 4 3 16zM982 882l-2-4 3-4 -4-4 1-8 2-3 4 3 2 16zM994 964l-3-2 -2-8 5-8 -2-4 -1-8 5-8 -5-12 -10-4 7-8 -4-4 0-12 6-5 1 5 5 4 -4 4 2 7 8 9 0 12 4 8 1 8 -1 8 -4 4 1 4 -5 8zM1174 903l-3-1 2-4 -2-8 3-3 12 3 4 9 -4 1 -4-2zM1182 902l0-1 2 1zM850 928l-2-10 2-4 4 8zM1239 922l-4 0 3 2zM854 937l-4 0 -2-3 6-7zM618 984l-8 0 -3-2 -4-12 0-4 4-4 -1-2 -4 5 -4-5 -8-3 -8-8 -2-3 2-14 12 1 4 3 4 1 8 9 4-4 -2-8 2-2 4 2 2 20 -1 8 -1 2 -5-2 6 12 2 8zM734 955l-2-1 0-8 6-8 5 4 -3 8zM858 939l-3-1 4 0zM1247 946l2-4 -7-6 -5 6 1 4zM870 946l-6-4 2-3 4 0zM1208 958l-4-4 2-4 -4 3 -2-3 1-4 5-4 -4-4 -4 4 -2 12 6 5zM1262 947l0-5 2 4zM850 948l-1-2 1-3 3 3zM866 960l-4-6 4-1 2 5zM1282 965l-4 1 -4-3 -2-5 6-6 4 1 4 5zM818 969l-4 1 -3-4 1-8 6-3 4 3zM990 972l-5-2 1-8 4 4zM978 995l-2-9 -3-4 2-4 -2-4 5-4 6 16zM1254 974l-2-4 2-2zM814 982l-2-4 2-6 4-1 2 7zM1246 976l-3-2 3-3 4 3zM1090 985l-2-3 2-1zM686 1118l-8-2 -9-14 -1-8 5-8 -16-20 -1-12 -19-16 -15-25 -2-11 1-8 -3-4 4-6 24 18 4 8 8 7 0 13 12 12 2 8 -2 4 10 12 0 8 8 20 -3 12 3 4zM662 992l-3-2 3-3 3 3zM666 995l-1-1 1-3zM1178 1000l-2-2 2-2zM1234 1011l-4-4 -4 0 4-6 4 0 8 5zM690 1047l-7-5 4-16 -8-8 3-5 8 3 4 6 -4 8 4 4 2 8 -2 3zM1082 1020l-2-2 2-4zM934 1027l-5-1 1-9 7 1zM1150 1039l-4 3 -2-4 2-3 6 3zM666 1084l-2-2 2-2 2 2zM1258 1128l-3-6 3-3zM1254 1134l-2-4 2-3 3 3z"/>
<path fill="#FFB0DC" d="M562 365l-2-3 6 0zM538 559l-7-1 3-2 0-3 -8 8 -1-7 3-4 -1-4 8-4 2-8 -3-5 -4 4 -1-3 -6-4 -1-12 5-4 0-4 -5-2 0-2 4-6 8 0 0-3 -7-3 1-4 2-4 4 5 4-17 8-4 -4-4 -4 3 -9-7 1-8 5-4 -6-4 1-4 4-3 9-1 3-4 1-8 -1-1 -4 2 -8-4 -8-1 -1-4 9 1 0-4 -4 1 0-4 4 2 4-5 4 4 5-15 -5-4 0-8 12-6 12-14 11 8 -3 4 0 6 -5 6 1 8 8 4 4-2 8 6 4-8 4-2 4-1 4 3 -4-4 8-4 12 8 2 16 -8 4 -10 16 -1 8 -5 4 5 4 -7 3 -4-1 -4 8 -8 2 -4-2 1-6 -4-8 4-4 -5-4 4-4 -4 4 -4 8 1 4 -4 12 2 4 -2 4 9 8 -7 12 1 8 -6 4 -6 8 1 8 3 4 -3 4 -9 9 -8 0 -3 3 5 4 -1 4 5 8 -6 8zM546 374l0-5 2 1zM542 376l-4 1 -2-3 6-3 4 3zM838 383l-4-1 4-2 2 2zM1118 770l-4-1 -4 1 -7-4 1-4 -10-10 -4 2 -9-4 -8-8 2-4 -3-4 -6-5 -12 2 -3-17 4-16 -5-1 -2 5 0 4 -2 1 -3-5 -5-1 -2-3 -2-6 -4 2 -3-4 7-4 -8-2 -1 6 -3 2 -4-2 -3-4 4-4 -2-12 4-4 -7-10 -8 1 -1-3 5-4 1-4 -5 1 -7-5 2-4 -3-3 -12 14 -4-3 -4 3 -4-2 -4 4 -4 0 -4-6 -4 7 -10-6 6-8 -4-3 -4 0 -4-9 -4 2 -9-6 2-4 -4-8 6-4 1-5 4 0 1-3 -1-3 -4 1 0-6 -16 1 -3 3 3 6 4 0 4 2 -8 5 -12-10 -4 3 -1-6 5-4 -13-8 5-7 4-1 -12-4 3-4 0-4 -4-4 3-12 2-2 4 3 1-1 -3-8 -4-4 -2-1 -4 4 -5-11 9-2 4 4 5-6 -5-8 -4 2 -3-2 1-4 -3-4 3-4 -6-11 -4 5 -6-10 8-8 -6-2 -1 6 -3 3 -2-3 0-4 5-8 -6-4 0-8 3-4 4 1 5-5 -1-2 -4 1 -4 5 -4-4 2-12 2-1 8 7 6-2 2-3 4 3 0-8 -8-6 -4-6 2-4 -6-3 -4 1 -4-3 -4 3 -2-2 2-4 -4-3 -5 11 5-1 4 3 3 2 -3 3 -4-1 -4 2 -4-4 -8-1 -5-7 1-6 8 1 4-7 4 2 2-2 -5-4 7-5 1-7 3-2 4 2 4 7 8 1 4-2 11 10 7 12 16 12 8 12 -4 4 10 12 3 8 9 8 3 8 -7 20 -8 2 -4-5 -12 3 -1 4 0 8 9 5 6 11 -3 4 3 4 -4 4 2 2 4 0 4-4 8 10 -13 0 5 1 8 15 -1 4 9 10 12 8 2-6 6-1 4 9 12 8 4 0 4-5 4 6 5-1 0-4 7-3 4 2 12-8 4 4 8-1 12 9 4-1 4 4 8 3 4-1 4 4 8 2 2 10 -6 4 2 4 -3 12 1 4 5 4 0 8 4 4 -1 4 2 4 -2 4 -4 2 -1 6 -4 4 6 12 -5 4 10 8 1 4 -6 4 2 4 13 8 7 12 7 4 0 4 9 12 1 8 -4 4zM534 393l-4-3 4-3 3 3zM678 401l-4 0 -8-7 -1-4 9-2 6 6zM722 416l-5-2 2-4 -2-4 1-8 -2-8 2-1 9 1 -1 4 6 12 -2 6zM830 392l-2-2 4 0zM814 442l-11-4 -1-5 -8-9 5-14 -7-12 6-5 4 1 -1 4 5 5 1-1 -5-4 4-2 4 2 2 4 0 8 -3 4 4 4 -2 4 6 12zM842 395l-2-1 2-1zM530 405l-2-3 2-6 4-1 4 2zM758 400l-2-2 2-2 3 2zM670 404l0-4 2 2zM762 404l-2-2 2-3 3 3zM607 418l0-8 3-4 -4-2 -1 10 0 4zM678 413l-8-2 4-7 6 6zM702 421l-4-1 -2-6 6-7 2 7zM818 420l-2-2 2-1 2 1zM866 421l-3-3 3-3 3 3zM830 425l-2-3 2-3 4 3zM842 440l-4-6 -8-2 -4 2 -3-8 3-1 4 2 8-9 9 12zM538 434l-8-5 4-2 6 3zM598 434l7-4 -3-2zM862 433l-6-3 6-3 2 3zM854 440l-2-6 2-1 2 5zM886 437l0-6 4 3zM862 447l-6-1 2-7 8 3zM462 475l-4-3 -12 1 -4 3 -2-2 1-8 -4-4 2-12 3-2 4 4 8-2 12-5 8 9 3 16 -3 3 -8-2zM911 482l-6-8 4-4 0-4 -9-8 -3-8 1-4 -8-4 -2 4 2 3 4 4 3 1 -7 1 0 6 4 0 4 3 7 2 -5 8 2 11 4-4zM606 451l-2-1 2-3zM850 483l-9-9 3-8 -7-4 5-8 6 4 0 12 11 8zM810 494l-8-1 -4-2 -4 2 -4-2 -3-1 4-4 -2-4 -3-3 -4 5 -1-2 -1-4 6-1 1-3 -2-4 2-4 -3-4 4-4 3 0 3 6 4 0 4-5 2 7 8 8 5 8 -8 4 4 4zM564 466l-3 0 1 2zM578 472l-2-2 2-2 2 2zM866 698l-4-6 -4 1 -4-10 -4-2 -6 1 -6 9 -5-1 -3-16 -5-8 1-5 -4 1 -4 5 -1-1 -1-4 6-4 -4-8 -5 0 1-2 4 2 3-4 -2-4 -5-1 -2-3 -2-16 -8-4 -10-16 -1-8 4-4 -4-8 -4 0 -1 5 -5-5 7-8 1-8 5-7 4 3 5-8 -1-3 -3 3 3 4 -4 4 -7-12 7-4 4 3 3-11 5-6 1 2 -2 8 5 8 5 0 -3-4 1-4 7-4 -6-1 -13-15 1-2 4 0 8-5 4 0 0-5 -4-2 -4 6 -7-4 -3-4 6-11 5 3 0-8 7-9 2 1 0 12 5 4 1 4 8 4 4 7 6 1 2 3 2 9 -6 3 -3-3 7-4 -4-2 -4 5 -8-10 -1 3 7 8 3 12 7 3 4-5 3 6 4 4 -3 7 -8 1 4 3 12-5 4 2 -2 8 2 6 5 2 -4 16 -6 4 2 8 -13 1 -4-4 -7 7 3 6 4 2 4-1 4-4 4 3 8-7 1 1 -4 8 2 4 -7 0 -4 4 -1 12 -6 4 3 2 4-5 6 3 -2 4 4 9 5-1 11-11 4 2 -1 5 5-2 5 6 1 4 -4 4 2 2 5-2 1 8 9 12 -3 10 -8 1 -7-7 0-4 -5-1 -8-7 7 8 -3 5 4-4 3 3 -3 5 -14 3 6 5 0 7 -8-3zM574 486l-2 0 2-1zM838 499l-4 2 -3-3 0-4 7-5 4 5zM903 490l-1-3 -1 3zM911 490l-1-2 -1 2 1 1zM1018 499l-2-5 2-1zM946 513l-4-2 -2-5 2-1 7 5zM1046 522l-1-4 -3-2 -8 3 -7-1 5-4 -5-8 3-3 4 6 12 3zM837 510l-3-3 -2 3 2 3zM1078 519l-1-5 5-3 3 3zM946 519l-7-1 3-3 5 3zM866 535l-8 1 -2-2 5-4 -3-8 9 0 -4 8zM1042 524l-6-2 2-3 8 3zM950 538l-5 0 -1-4 2-2 6 2zM798 540l0-4 2 2zM845 566l3-8 -4-4 3-4 -2-4 -7-1 -4-9 -2 10 4 4 -9 4 6 4 -5 4 2 2 4-4 4 8zM526 545l-3-3 3-2 3 2zM974 544l-5-2 5-2zM522 548l0-4 3 2zM825 558l-3-4 0 7zM842 560l-7-2 3-3 4 1 2 2zM1046 564l-4-1 -3-5 3-2 6 2zM851 590l-1-8 9-4 -1-14 -8 2 2 4 -9 4 3 4 -8 4 4 5 4-3 3 2 -1 4 2 2zM946 570l-3-4 3-1 3 1zM823 578l-13-11 -2 3 6 7 4-3zM950 572l-4-2 4-4 3 4zM922 586l3-4 -16-4 5 6zM967 594l1-4 -2-1 -4-1 -5 2 5 5zM730 617l-8-4 -4-15 8-4 8-1 11 9zM702 599l-2-1 2-1zM762 600l-3-2 6 0zM530 630l-7-4 1-12 -3-8 5-4 7 12 -4 4 1 2 8 2zM698 605l-3-3 3-3 2 3zM690 612l-3-2 3-3 2 3zM742 611l-3-1 3-1zM842 614l-8-2 -4-3 4 7zM906 619l-3-1 0-4 3-2 3 6zM1198 692l-14-6 1-4 -7-12 0-12 -8-5 -4-9 -7-6 -1-4 4-4 -5-4 0-4 -13-4 6-6 16 8 1 2 -1 6 8-3 7 5 -2 4 6 4 -4 4 5 1 6 7 -1 4 -5 4 8 4 10 12zM898 619l0-2 4 1zM926 667l-20-11 0-6 -10-12 2-8 4-2 8 0 2-2 -3-4 1-3 16 11 7 8 2 0 3-5 8 9 -1 4 -3 3 -4 0 -4 3 -8-5 -1 3 5 8zM841 626l-6 0 3 2zM806 635l0-2 3 1zM979 638l-2-4 -2 4 3 2zM662 644l-8-1 -4 1 -2-2 3-4 7-2 6 2zM870 643l-1-5 5-3 2 3 -2 4zM518 676l-4-14 6-12 2-10 10 6 2 12zM618 653l-4-3 -1-4 5-5 4 3 4-2 0 6zM638 643l-1-1 1-2zM832 646l-2-2 -4 0 -2 2zM650 662l-3-4 7-8 4 4 -4 1zM946 652l-3-2 3-3 2 3zM614 655l0-5 2 4zM842 662l-4-9 -4 0 0 5zM878 658l-4-5 4 6zM662 663l-3-5 7-4 2 4zM1326 668l-2-2 2-8 3 8zM1338 678l-7-8 7-6 4 1 2 5 -5 4zM814 675l-4-1 4-2 3 2zM826 679l0-4 2 3zM1082 680l-3-2 3-4 1 4zM514 701l0-5 3 2zM1026 701l-4 0 -2-3 2-3 4 0 2 3zM518 705l-3-3 3-3zM518 735l-4 1 -2-2 2-4 -4-4 4-4 -5-4 4-4 -2-4 3-6 8 9 -1 9 -7 8 4 3zM522 709l-3-3 4 0zM1034 759l-4 1 -6-2 -8-20 4-12 -1-12 3-3 4 3 4-5 2 1 -1 4 7 4 -6 12 5 16zM990 747l-2-9 2-5 2 5zM506 758l-2-8 6-6 3 6zM670 755l-1-5 5 0zM994 756l-2-2 2-7 3 3zM510 762l-4-4 4-2 4 2zM1094 759l0-2 2 1zM998 778l-2-12 2 0 5 4zM986 831l-4 2 -3-3 -3-8 0-8 -3-4 2-4 -3-4 2-4 -1-12 5-3 8 0 4 3 -6 24zM470 799l-4 2 -1-3 1-4 4 0zM518 824l-14-2 6-12 4 1 7 7zM1226 828l-4 0 -3-2 0-8 7-6 3 2 2 8 -1 4zM1266 1098l-6-8 0-8 8-8 -5-4 3-12 -2-8 -11-16 -5-16 -5-8 0-8 -10-8 3-4 -6 2 -8-3 -4 2 -4-1 1 4 11 2 2 2 -8 8 7 16 -4 4 3 4 -4 4 10 12 -2 4 2 8 -2 4 2 4 -4 4 6 8 1 8 -5 9 -8-6 -4 1 -9-8 -4-16 -7-9 -11-3 -2-4 -8-4 -3-9 -4 2 -8 0 -4-3 -4 0 -4-5 -4 0 -12-14 0-4 15-7 -3-4 4 0 4 5 20-3 8 4 3-2 0-8 5-7 5-1 3-4 -23-16 3-2 0-8 5-2 -2-4 1-12 4-5 8-1 4-3 4 1 -6 8 -1 12 2 4 5 2 6-2 -3-4 1-6 -3-2 3-3 0-5 -4-4 -3-8 3-4 0-8 -4 2 -5-6 3-12 -4-4 2-3 4 2 2-3 -2-7 -5-1 2-20 3-4 -3-8 3-8 8-7 4 1 12-3 3 5 3 0 4-8 -1-4 3-1 6 9 10 2 13 10 -4 24 3 12 -3 4 2 4 -2 4 3 8 -2 12 1 12 -7 12 1 4 -5 8 -2 16 -6 7 -5 1 1 4 11 4 8 16 1 12 4 1 7 27 6 8 0 4 4 4 -1 8 -4 4 1 8 -7 16 1 4zM1218 834l-3-4 4 0zM1236 838l-2-3 -2 3 2 2zM1082 863l-12 0 -4-5 -4 4 -3-4 -5 1 -4-3 -12 2 -12-2 -4 3 -4-2 -12 4 -4-3 -2-8 6-5 4 3 12-3 4 2 0-6 12 1 4-2 8 3 32 1 5 6 1 4zM814 878l-6-8 0-4 3-4 -3-4 6-3 4 19zM982 873l-3-3 3-10 3 2 1 4 -1 4zM986 880l-4 1 -1-3 5-7 2 7zM994 964l-2-2 -2-8 5-8 -3-4 0-8 4-8 -4-12 -10-4 8-8 -6-4 0-12 2-3 9 7 -3 4 0 8 10 8 0 4 -5 4 7 8 3 12 -2 8 -3 4 -3 0 3 4zM1174 903l-2-1 1-4 -2-8 3-3 10 3 2 7 -4 0zM1239 902l-1-1 -1 1 1 2zM850 925l0-10 3 7zM1002 921l-2-3 2-3zM1240 922l-2-2 -4 2 4 3zM854 935l-4 2 -2-3 6-5zM618 983l-10-1 -4-12 4-8 -2-3 -4 5 -4-4 -12-7 -4-5 0-15 4-1 17 6 6 8 1 9 2-9 5-4 -3-1 -2-7 2-2 3 2 3 20 -1 8 -7 0 7 12 1 8zM1248 946l1-4 -1-4 -6-3 -5 7 1 4 4 2zM734 955l-1-9 5-7 4 3 -3 4 1 4zM870 945l-4-1 -1-2 1-2 4 0zM850 948l0-4 2 2zM1202 952l0-6 3 4zM1282 965l-4 0 -6-7 6-5 4 0 4 5zM818 968l-4 0 -2-2 2-8 4-2 3 2zM990 971l-5-1 1-6zM1211 970l-1-2 -2 2zM818 980l-4 2 -1-4 5-6 2 2zM978 978l-4-4 4-3zM1246 976l-3-2 3-2 3 2zM982 990l-4-5 -4-1 0-4 8 0 2 6zM1090 984l-1-2 1-1zM674 1086l-16-20 -4-20 -8 0 -8-8 -16-26 -3-22 3-5 9 5 11 12 4 1 3 7 9 8 0 13 11 11 3 8 -3 4 2 4 7 6 3 6 -1 4 1 4zM662 992l-2-2 2-3 3 3zM978 995l0-7 2 2zM1215 1006l-6-4 1 4 4 3zM1234 1005l-3-3 4 0zM1195 1006l-1-1 -3 1zM1230 1006l-2 0 2-2 3 2zM1238 1008l-4-2 6 0zM690 1030l-10-12 1-4 5 0 6 4zM934 1027l-5-1 1-9 6 1zM690 1047l-6-5 2-12 9 12zM1150 1038l-4 2 -1-2 1-2zM686 1115l-4 2 -4-1 -10-18 3-8 11-11 6 15 -3 12 2 4zM1258 1109l-4-3 2-4 2-3 6-1zM1258 1127l-2-5 2-2zM1254 1133l-2-3 2-2 2 2z"/>
<path fill="#FF80E0" d="M562 363l-1-1 2 0zM566 368l0-4 2 2zM538 534l-4-6 -4 3 -4-5 -3-12 3-2 4 5 1-3 -3-8 -5-4 3-5 8 2 1-5 -7-4 1-4 1-2 4 4 1-6 4-4 0-4 8-8 -5-5 -4 4 -3-3 -3-12 7-4 -8-4 0-4 3-2 8-1 8-5 -2-8 2-4 0-3 -4 4 -12-1 3-4 -2-4 3-3 8 6 3-3 -4-4 -1-4 4-8 -5-12 11-5 8-9 11 10 -5 8 2 11 7 1 0 4 5 4 -3-4 3-3 12 5 4-9 7 7 -1 12 -2 4 6 4 -12 12 2 1 4-2 3 1 -1 4 -5 4 3 4 -8 1 -4 8 -8 1 -4-2 2-4 -4-8 4-4 -4-4 2-5 -8 1 2 8 -2 2 -4-2 -5 4 5-3 2 3 0 12 -4 4 4 4 -2 4 8 8 -6 12 1 8 -7 3 -6 9 1 8 3 4 -2 4 -8 8 -8-1zM542 375l-4-1 6 0zM1110 769l-6-3 2-4 -4-1 -8-10 -10-1 -14-19 -4-3 -8 1 -2-3 -1-8 -3-4 3-16 -5-2 -4 6 -8-4 -4-8 9-4 1-4 -2-2 -4 4 -16-3 -2-3 3-12 -12-16 -1-7 -4 1 -3-2 -1-4 -8-6 -1 10 -7 5 -4-2 -4 3 -4-3 -4 5 -4-1 -4-5 -8 4 -3-2 1-4 5-4 -3-3 -8-4 -6-9 -9 0 6-12 -3-4 4-4 3-8 -7-6 -8 0 -2-2 3-4 -9-7 -4 4 -4-3 -4 2 10 8 2 4 -4 2 -4 1 -8-9 -4 1 -4-3 4-6 4 3 2-1 -2-6 -5-2 4-4 -6-4 0-4 3-4 -3-4 3-2 4-6 -4 0 -4-10 -4-1 -4 5 -1-6 5-4 4 4 6-8 -3-4 1-4 -4-2 -4 3 -2-1 1-4 -2-4 3-4 -2-4 -6-8 -4 3 -1-3 -1-4 5-8 -7-4 3-12 -5 0 1 4 -3 2 -2-2 2-8 10-8 -2-4 -8 6 -2-2 2-7 4 0 4 3 8-3 3 7 -1 8 2 6 7 2 -3 1 -1 3 1 2 4-1 1 3 2 12 -1 4 2 2 4-6 4 6 2-2 -1-12 -4-4 4-4 0-8 -1-2 -4 1 -7-7 0-8 -6-4 -3-10 -8-5 -3-5 2-4 -15-6 -14-14 8-4 0-8 2-1 4 2 4 8 12-1 12 11 12 16 9 5 3 8 5 4 -4 4 8 12 -1 4 15 12 3 8 -6 18 -4-2 0 4 -4 1 -4-5 -8 2 -4-2 -3 8 1 8 10 6 5 10 -6 4 6 4 -5 4 -8-4 3 4 -6 8 3 2 8-8 4 2 2 4 6 3 5 9 0 8 11 11 12 8 4-7 4 1 4 9 10 6 -1 4 3 0 8-7 4 5 4 0 4-6 4-1 4 2 8-5 16-1 8 8 8 0 4 4 4 0 4 3 4-1 4 4 8 3 -2 4 3 4 -7 4 3 4 -2 4 -1 12 6 4 -1 8 5 4 -1 4 2 4 -5 4 -7 12 4 8 -2 8 5 7 4 1 1 4 -5 4 4 7 4 1 -2 4 6 4 4 0 2 4 -2 5 4-4 4 5 4 0 1 6 3 4 -1 4 5 1 2 3 1 8zM534 391l-1-1 1-1zM614 413l-4-9 -7-6 4-4 -3-4 6-4 11 8 -3 16zM678 399l-4 1 -7-6 0-4 7-1 5 5zM530 403l0-6 6 1zM722 415l-4-1 2-4 -2-4 2-8 2-3 4 2 5 9 -1 5zM758 399l0-2 2 1zM794 399l0-2 2 1zM806 400l-2-2 2-1 2 1zM802 430l-7-8 5-8 0-4 -4-8 2-3 8 7 4 1 0 3 -4 4 5 4 -2 8zM850 419l-4 2 -7-7 7-3 4-7 7 2zM678 411l-6-1 2-4zM702 419l-4-2 -1-3 5-5zM610 415l0-2 2 1zM866 420l-2-2 2-2 2 2zM803 422l-1-3 0 5zM842 436l0-6 -8-4 4-6 5 6zM862 424l-8 0 -2-2 6-4 6 4zM895 422l-2 0 1 2zM534 431l-2-1 2-2 4 2zM814 435l-4-1 -4 3 -2-3 6-7zM834 432l-3-2 3-4 3 4zM862 431l-4-1 4-1zM862 446l-5 0 1-4 4-2 2 2zM474 472l-24-1 -12-8 0-3 5-2 -2-8 5 2 8 0 4-4 8-2 6 8 4 16zM555 450l-3 0 2 2zM810 492l-4-1 -4 1 -3-2 5-4 -3-8 -7-4 -4 3 -2-3 -2-4 2-4 -2-4 4-4 4 8 4 0 4 4 4-2 5 6 2 4 -6 8 5 4zM846 465l-3-3 -1-5 5 1zM565 466l-3-1 -1 1 1 3zM802 468l-2-2 2-2zM442 475l0-4 2 3zM850 482l-4-4 1-4 3-2 6 6zM794 490l-4 0 1-12 3-4 8 12zM870 482l0-6 2 2zM782 483l0-4 1 3zM552 490l5-4 -3 0 -5 4 1 2zM826 536l-8 0 -13-14 9-1 11-7 -1-4 -6-4 -8 6 -5-6 5-9 4 3 3-2 -1-8 2-3 10 11 -1 4 5 4 -2 4 3 4 1 12 4 4 -4 3 -6-3zM834 500l-2-2 2-4 3 0 0 4zM550 502l5-4 -5-1zM1030 509l-2-3 2-2zM946 511l-2-1 2-1zM1042 515l-4 1 -2-2 2-2 7 2zM1082 516l-4-2 4-2 2 2zM842 523l-3-5 3-3 4 1 2 2zM1034 518l-5 0 5-1zM1038 523l0-2 3 1zM862 531l-2-5 2-3 2 3zM838 536l-2-2 2-4 2 4zM908 534l-6-2 -1 2zM542 557l-4 0 -4-6 -4 2 -1-3 2-4 7-4 -2-4 2-3 5 3 -4 4 3 1 6 7zM830 551l-8 2 -5-7 2-4 11-6 0 10 2 4zM854 544l-2-2 2-5zM934 543l-8-1 8-5 2 5zM526 544l0-3 2 1zM846 545l-8-2 0-3 4-1 7 3zM866 697l-4-8 -4 1 -3-8 3-4 -4 3 -8-3 -2-4 6-4 -7-8 -5-11 -8-1 6-4 -6-5 -8 1 -8-3 1-5 -3-4 3-4 -2-4 1-4 -8 0 -13-16 -1-8 7-4 -5-3 -2-5 -6-4 8-15 4 1 4-4 4-18 5 4 1 4 -4 4 2 2 8-4 3 2 0 8 -3 3 -8 0 -5 5 1 3 4-1 4 7 4-3 4 4 3-2 -8-8 9-9 4 4 4-2 4 7 -3 4 9 4 -8 4 14 12 -4 4 -4 0 4 12 -4 3 -8-2 -2-1 2-4 -5 0 0 4 5 8 8-1 4 3 4-5 4 0 2 3 1 8 -7 9 4 3 4-4 6 0 -6 8 4-1 4 7 8 2 -1 4 5 8 1-4 -4-4 -2-8 6-4 3-6 4 2 -2 4 6 0 4 4 1 4 -4 4 3 3 4-1 1 6 9 12 -2 9 -8 1 -5-6 1-4 -8-2 -8-10 -5 8 1 2 4-4 6 6 -5 4 3 4 -8 2 -5-2 3 8zM850 550l-3-4 3-3 3 3zM858 550l-2-4 2-1 1 1zM798 552l-4 1 -2-3 6-1 2 1zM854 551l-4-1 4-2 4 2zM846 555l0-3 2 2zM894 556l0-4 2 2zM798 561l-3-3 3-3 3 3zM830 559l-2-1 2-1zM842 559l-4-1 4-1zM870 581l-10-11 -2-8 -8 3 -3-3 3-4 8 4 1-4 3-1 2 1 7 16zM1046 563l-5-1 0-4 5 0zM833 574l0-4 -3-2 0 9zM842 573l-4-3 4-2 4 2zM950 572l-3-2 3-2 2 2zM799 574l-5-2 -2 2 2 3zM862 596l-4-3 -4 3 -4-2 6-8 -5-4 7-2 4-5 4 3 -1 4 -4 4 3 8zM922 591l-3-1 5 0zM968 594l1-4 -7-3 -6 3 6 6 4 1zM730 616l-8-5 -2-13 14-4 8 8zM914 601l-5-3 1-3 4 1zM950 598l-4-2 -1 2zM1016 598l-2-2 -2 2 2 2zM922 603l-4-1 4-1 2 1zM959 602l-1-1 -3 1zM967 602l-1-1 -2 1zM1008 602l-2-2 -3 2 3 2zM1028 602l-5 0 3 3zM526 628l-3-6 1-8 -2-8 4-3 5 11 -3 4 4 4zM866 611l-4 1 -3-2 7-4zM1018 618l5-8 -1-3 -6 7zM846 616l0-6 2 4zM858 615l-2-1 2-2zM906 617l-2-3 2-1zM1150 615l0-1 2 0zM827 618l-8 0 3 2zM1146 619l0-2 3 1zM1154 620l-3-2 3-3 3 3zM1162 629l-3-3 1-4 6-1zM843 626l-5-2 -5 2 5 3zM926 666l-12-6 -7-6 0-4 -10-12 2-8 3-2 8 1 4-6 12 9 5 6 3 1 4-4 6 7 -2 6 -4-1 -4 4 -8-5 -2 4 5 8zM1198 689l-12-3 -3-12 -4-4 0-12 -9-6 -4-9 -6-5 -1-4 3-3 12-5 6 4 -3 4 6 4 -2 4 1 2 4 0 5 6 -1 3 -4 0 -1 5 9 5 10 11zM917 638l1-5 -5 5zM980 638l-2-5 -8 1 -1 4 9 4zM658 640l-3-2 5 0zM518 673l-2-11 10-20 6 4 -2 8 2 4 -6 8 -7 4zM650 643l0-2 2 1zM618 651l-3-5 3-2 8 2zM826 654l-3-4 3-2 4 2zM822 656l-2-2 2-2 3 2zM830 656l-3-2 3-4zM1010 655l-4-1 7 0zM666 659l-3-1 3-2zM838 690l-4-1 -3-15 -5-8 4-7 10 3 -3 4 5 4 0 12zM1326 667l0-6 2 5zM842 670l-3-4 3-2 4 2zM1338 676l-6-6 6-6 4 2 1 4zM814 675l-2-1 4 0zM886 681l-2-3 2-2 2 2zM1022 690l-7-4 3-3 4-1 3 4zM1030 692l-1-2 4 0zM1044 694l-4 0 2 2zM1026 700l-5-2 5-1zM518 704l-1-2 1-2zM518 724l-8-6 5-4 -3-4 2-3 5 3 1 4zM1030 759l-5-1 1-8 -4 0 -5-12 4-12 -1-4 2-9 1 5 9 8 0 12 4 8 -2 10zM1034 722l-4 0 -3-4 3-4 4 4zM514 728l-2-2 2-2 2 2zM514 735l-1-1 1-3 4 3zM506 756l-1-6 5-5 2 5zM510 760l-2-2 2-1 3 1zM998 773l0-5 1 2zM982 833l-5-11 -1-8 -2-4 2-4 -3-4 3-16 10-2 3 2 -6 24 2 20zM518 823l-13-1 0-4 5-7 4 0 7 7zM1226 827l-4 1 -2-6 1-4 5-5 4 9zM1266 1097l-5-7 0-8 5-2 3-6 -5-4 3-12 -5-14 -4-2 -5-8 -4-12 -1-8 4-4 -6 3 -2-3 1-8 -10-8 2-4 -23-2 -1 6 7 4 -6 4 -6 0 2 6 4 2 4-7 1 7 7 8 0 4 -4 4 -4-7 -2 3 6 4 -1 8 10 12 -2 4 2 8 -3 4 3 4 -7 8 6 1 3 3 1 8 -4 8 -8-7 -4 2 -6-7 -6-16 -8-10 -4-3 -4 0 -4-5 -8-2 -4-11 -4 3 -8 0 -4-3 -4 0 0-5 -8-2 -11-10 0-4 15-9 4 3 20-3 8 4 8-2 4 1 5-6 -9 3 -4-1 0-6 4-6 8-4 4 2 -2-4 -21-16 0-4 1-4 6-8 -3-4 0-8 7-5 4 1 4-2 -4 6 0 12 -5 8 9 11 2-3 -8-8 14-1 4-3 -4-4 2-4 -2-4 1-8 -4-4 -3-8 4-12 -6-6 -4 1 0-3 4-10 5 2 -2-12 -5-8 0-16 3-4 -3-8 3-8 7-6 12 1 4-2 4 5 4-2 4 3 4-3 0-4 12 3 12 9 -4 20 3 16 -3 4 2 4 -2 4 3 8 -3 8 3 16 -7 11 -4 1 -4-4 -4 0 -7 8 3 6 10 2 1 4 -3 7 -4-1 0 3 4 3 -3 4 -1 2 -4-2 -5 8 1 2 12 0 2 2 8 16 2 8 -2 4 6 4 8 27 4 5 0 5 4 3 -1 8 -4 4 0 8 -5 16 1 4zM1078 863l-4-2 -4 1 -4-5 -4 2 -4-2 -4 1 -4-4 -8 0 -4 3 -8 0 -4-2 -4 3 -4-3 -4 2 -4-3 0-3 -2 7 -2 1 -5-5 1-4 8 0 12-4 4 2 4-5 4-2 4 4 4-4 8 3 32 1 5 5 1 4 -6 7zM1217 842l-3-3 0 4zM814 862l-5-4 5-2zM982 872l-2-2 2-9 3 5zM814 877l-6-7 2-7 4-1 3 12zM1239 882l-2 0 1 3zM990 901l-5-3 1-14 9 6 -4 4zM1178 900l-6-6 0-4 2-2 8 2 2 4zM1194 895l0-3 3 2zM1240 902l-2-2 -2 2 2 3zM990 911l-7-1 7-6 4 0 2 2zM994 921l-1-7 5-6 3 6zM1244 910l-2-4 -3 4 3 4zM1240 930l-2-4 4-10 -4 3 -9-1 7 8 -2 4 4 3zM1002 949l-4 0 -5-7 -1-8 5-8 -3-4 4-2 5 6 1 4 -2 4 4 4 -3 4 2 4zM598 958l-8-3 -8-8 1-13 3-1 4 3 12 2 5 8 -1 8zM614 940l0-7 4 5zM850 936l0-4 3 2zM866 943l0-2 4 1zM610 965l-1-7 5-6 0-6 4-3 1 11zM738 951l-4 1 0-7 4 2zM994 963l-3-9 3-6 7 6zM1182 956l0-4 3 2zM1282 964l-4 0 -5-6 5-5 4 1 3 4zM818 966l-4 0 4-2zM610 982l-5-8 1-7 8 2 4 5 0 8zM1211 970l-1-4 -4 4 4 3zM818 978l-4 0 4-5zM982 989l-3-3 3-4 2 4zM678 1080l-4 1 -8-4 -3-7 -6-8 1-8 -3-8 -9-1 -16-19 -8-16 0-22 4 5 4-2 4 7 12 6 2 6 9 8 1 15 11 9 2 8 -3 4 11 12 1 12zM662 991l-1-1 1-2 2 2zM686 1023l-6-5 2-4 9 4zM934 1020l-3-2 4 0zM690 1028l-2-2 2-3zM690 1046l-4-4 0-7 4 0 4 4 0 5zM682 1116l-5-2 -8-16 2-8 11-8 6 12 -3 8 1 8zM1258 1107l-1-5 5-2z"/>
<path fill="#FF58EC" d="M538 532l-7-10 0-8 4-4 -1-1 -4 2 -1-5 -5-4 2-3 8 4 2-9 -7-4 0-4 5 3 2-7 6-4 -2-4 8-8 -2-4 -4-2 -4 4 -2-2 1-4 -3-8 6-4 -7-4 -1-4 10-2 10-6 -4-8 5-8 -1-8 -6-1 3-11 -5-12 6-3 4 3 3-8 5-5 10 9 -4 4 -2 8 2 4 -2 3 -9-3 3 4 -4 4 0 4 2 2 2-2 0-4 2-2 12-3 8 10 8-3 4 2 4-8 6 8 -1 8 -2 4 4 4 -7 4 -8-5 0 5 5 4 0 4 3 3 4-3 1 4 -5 4 1 4 -5 0 -4 8 -8 1 -5-13 6-8 -3-4 -6-3 -6 3 2 4 -10 8 5 4 1 9 -4 2 -8-9 -3 2 17 12 -2 4 -4-2 -2 2 2 4 4-3 7 7 -3 7 -2 1 -2 8 -4-5 -13-3 3 4 -4 4 2 4 8-7 4 0 4 3 -8 8 -8-3 -2 3 2 6 4-4 4 0 1 2 -5 4 0 3 -4-1 -2 2 6 0 5 8 -5 8 -12 2zM564 378l-2-2 -1 2 1 2zM614 410l-8-20 4-3 11 7zM674 399l-5-5 0-4 5 0 3 4 0 4zM886 426l-4 0 -2-4 2-4 -16-7 -13-13 9-2 2-2 -1-4 3-1 4 7 17 2 -2 4 5 0 9 12 -2 4 -3 3 -4-1zM726 411l-4 3 -3-8 3-10 4 2 4 8 0 3zM798 404l0-4 2 2zM802 414l-3-8 3-2 4 6zM538 413l-2-3 2-2 2 2zM846 420l-3-2 1-4 6-7 3 7zM542 417l-3-3 3-3 3 3zM798 424l0-8 3 2zM806 428l-3-2 3-9 2 9zM930 498l-4-5 -8 2 -4-3 0-5 4-1 -8-12 8-4 -4-1 -4-11 -4 0 -6-4 -1-8 -6-8 -3-8 9-8 0-4 3-1 4 6 8 3 4 9 4 3 -3 4 5 8 -1 4 3 6 14 10 1 4 -3 4 3 4 -1 4zM838 427l0-6 2 5zM862 423l-8-1 4-1zM810 432l-2-2 2-2zM566 444l-1-2 1-2zM862 443l-1-1 2 0zM874 448l-3-2 3-2 3 2zM898 535l-2-5 5-8 -3-4 1-4 -10-8 2-8 -5-3 -6-13 2-3 4 1 0-2 -10-4 -1-4 3-10 -7-2 7-4 3-4 -1-4 2-1 4 0 3 9 -1 8 6 11 4 1 -5 4 1 2 4 0 2 6 -1 4 3 3 4-6 5 7 1 4 -4 4 3 8 -1 4 12 4 5 8 -9 2 -4 4 -4-3 -4 3 -4-3zM474 471l-24-3 -7-14 7-2 4 1 4-4 8-2 5 7 1 4 -2 3 -4 1 8 4zM442 464l-3-2 3-2 3 2zM806 483l-4-6 -8-4 -4 2 -3-5 3-10 2 6 6 2 4 4 4-3 4 5 1 4zM870 467l0-6 2 5zM850 480l-2-6 2-1 4 5zM798 487l-4 1 -1-2 1-9 1 5 4 4zM942 481l-3-3 3-2zM933 486l-3-2 -2 2 2 2zM543 490l-1-2 -2 2 2 3zM802 491l-2-1 2-2 2 2zM810 491l-2-1 2-1zM566 495l-2-1 2-4zM810 511l-4-6 16-10 5 3 -1 6 3 2 -3 4 -8-5zM834 499l0-3 2 2zM526 522l-2-4 2-5 3 5zM822 537l-4-1 -8-10 20-13 1 13 -8 4 3 4zM842 520l-2-2 2-2 3 2zM834 531l-2-1 2-2 2 2zM914 577l-4-2 -4 0 -4-5 0-7 -4-1 -2-4 3-4 -2-4 6-8 -4-4 11-5 2 9 -3 4 5 4 4-5 4-2 4 1 8 7 4 7 0 4 -4 6 -12-10 3-8 -5 0 5 12 0 8zM918 535l0-3 2 2zM826 549l-3-7 7-3 0 5zM846 543l-6-1 6-1zM542 556l-4 0 -5-10 5-3 8 5 1 2zM810 550l-4-2 0-4 4 1zM530 551l0-2 2 1zM822 551l0-3 3 2zM830 618l-8-2 -12 1 -12-10 -4-8 0-6 9 1 -1-4 -7-4 -2-4 7-8 -10-4 12-8 4-8 7 8 -10 8 3 14 4-9 4 5 4-2 4 3 8-1 4-4 6 2 -5 4 12 12 -7 4 4 8 0 4 -2 1 -8-7 -8 1 5 9zM818 565l-4-3 1-8 3-1 2 9zM798 560l-2-2 2-2 2 2zM854 563l-6-1 2-2 6 2zM866 576l-5-6 -1-8 2-2 5 6 2 8zM1042 562l0-2 4 2zM826 578l-3-4 3-9 2 1zM834 568l-4-2 4-2zM842 571l-2-1 4 0zM930 572l-1-2 3 0zM954 599l-4-6 -4 2 -7-5 -5-7 -1 3 -6 0 2-4 -7-8 4-3 4 3 4 0 4-6 4 1 4 5 -1 4 12 4 -3 4 -4 0 0 2 4-2 4 8zM950 571l-1-1 1-1zM790 579l-2-1 2-7 2 7zM862 581l0-5 2 2zM858 584l-4 0 -2-2 9 0zM898 583l-2-1 2-4 2 4zM906 588l-3-2 3-6 4 6zM1110 767l-4-1 2-4 -6-2 -6-6 -2-7 -8 3 -16-20 -4-2 -4 1 -4-3 1-8 -6-4 1-5 4-3 -2-8 -2-3 -4 0 -4 5 -4-2 3-4 -3-2 -4 4 -1-6 8-4 0-4 -3-3 -4 3 -4-1 -8-7 -5-12 2-4 -9-6 -4-10 -4-1 -12-11 -6 8 4 4 -6 3 -4-1 -3-2 2-8 5-4 -4-1 -4 3 -4-2 -4 2 -3 6 7 4 -4 5 -8-3 -4 1 -4-3 4-3 7-1 -3-3 -4 2 -12-8 -2-7 5-4 -3-1 -4 4 -4-2 -4 2 -1-3 6-8 -3-4 6-11 4 5 4-1 4 5 8-2 -2-4 6 0 4-8 -7-4 3-7 4 2 4 8 4 1 -5 4 0 4 5 5 8-3 8-7 4 4 4 0 8-7 4 3 4-5 4 2 8-3 8 1 7 6 1 5 8-6 4 5 4-1 4 4 4 0 4 5 6 0 -1 4 3 4 -7 4 3 4 -2 4 1 4 -2 8 7 4 0 4 -2 4 5 4 -1 4 2 4 -6 4 -7 12 6 8 -5 4 1 4 11 12 -5 4 6 8 -1 12 4-4 3 4 -4 4 1 1 4-5 4 7 4-4 4 4 4 0 0 5 3 4 -3 4 9 4 0 8zM862 592l-6-2 2-2zM910 591l0-4 2 3zM831 598l-1-5 -1 5zM978 600l-3-6 3-4 3 4zM730 615l-4-1 -3-4 -1-9 12-7 3 4 3 8zM1012 610l-6-4 4-7 4 3 3-4 -3-3 -12 4 -2 3 8 8zM1022 618l0-4 8-12 -8-4 -2 4 2 4 -7 8 3 6zM968 602l-2-4 -4 4 4 2zM526 627l-3-5 2-8 -2-8 3-2 3 6 -1 8 2 4zM959 610l-5-1 -1 1zM854 630l-4-7 -3-1 3-6 5 2 1 8zM878 682l-4 1 -8-5 -4 3 -4-4 -4 4 -7-3 0-4 4-4 -7-8 -6-12 0-4 7-8 -3-2 -4 9 -6-3 2-4 -4 2 -8-3 -4 2 -3-1 -1-8 4-7 4 4 -2-5 6-1 12 10 4 0 4-9 4 15 7 5 -3 4 4-3 4 0 4 6 6 1 0 4 -6 8 4-2 4 1 0 16zM842 624l-10-2 10-3 4 3zM926 665l-12-6 -6-5 0-4 -4-4 0-4 -5-4 2-8 9 1 4-4 1 7 -3 4 2 2 4 0 4-10 5 4 3 7 8-4 5 5 -1 5 -4-1 -4 4 -4-6 -6 2 0 8 4 4zM1198 686l-4 2 -7-2 -3-12 -4-4 0-12 -10-6 -4-11 -5-3 -1-4 2-2 12-5 4 3 -2 4 6 4 -2 4 2 3 4-1 2 2 1 4 -3 2 -2 6 10 6 9 10zM862 635l-2-1 2-1zM882 643l0-6 2 1zM518 669l-2-3 7-12 -1-4 4-5 4 0 0 13 -4 7 -4 0zM906 682l-8 1 -3-9 -9-4 -10-16 -1-8 3-2 4 3 4-3 4 2 3 4 -4 4 4 4 1 5 4 0 9 11 1 4zM978 647l-2-1 2-2 2 2zM826 652l-2-2 2-1 2 1zM834 669l-4 0 0-8 6 5zM1338 674l-6-4 6-5 5 5zM838 688l-4-1 -2-5 0-8 6-5 2 1 1 12zM882 675l-4 2 -4-3 4-4 5 4zM1044 674l-2-1 -2 1 2 2zM1026 680l-3-2 3-4 4 4zM858 686l0-5 2 1zM866 696l-4-9 -4-1 8-4 4 8zM1022 689l-6-3 6-3 2 3zM514 712l0-3 2 1zM518 723l-7-5 3-3 4 1zM1030 720l-1-2 1-2 2 2zM1022 725l0-5 3 2zM1026 758l1-8 -5-3 0-5 -4-4 8-15 4 4 0 11 6 8 -2 7zM506 754l0-4 4-3 1 3zM982 832l-5-10 -2-20 3-15 8-2 1 9 -5 16 -1 8 4 4 0 8zM518 823l-11-1 -1-4 4-6 4 0 6 6zM1226 827l-4 0 -1-5 5-8 3 8zM1194 1002l-4 2 -3-2 3-9 8-3 6 0 1-4 -15-7 -1-5 -7-4 0-7 4-7 4 2 -3 8 5 4 0 4 2 1 4 0 4-4 9 3 1-4 -2-6 -4 3 -3-5 8-4 -4-12 1-8 -4-4 -2-8 4-12 -5-4 1-4 -4-1 -2-3 2-4 4 2 2-6 -7-20 0-12 3-4 0-4 -3-4 5-4 -2-4 6-5 4 1 4 6 6-2 2-5 4 4 8 1 8-5 8 1 10 8 -1 16 -2 4 0 8 -5 4 2 1 4-4 1 3 1 4 -2 3 -5 1 6 4 -2 4 2 8 -3 8 4 8 1 8 -7 9 -4 2 -8-8 -2-3 6-16 -1-4 -7-7 -3 3 5 4 -2 4 2 4 -2 3 -12 1 -4-9 -1 5 9 5 2 3 0 8 5 4 1 4 -4 4 -2 8 8 8 3 8 -1 4 -4-3 -4 3 -1 8 1 4 -4 4 -12 2 -11-2 3 1 2 7 5 4zM1078 863l-12-6 -12 0 -4-4 -4 2 -4-2 -12 3 -4-3 -4 3 -7-6 7-3 4 2 8-7 4 6 8-5 4 2 4-1 12 2 16 0 4 4 1 4zM1006 857l-4-3 4-2 2 2zM1014 855l-2-1 2-3 3 3zM814 860l-2-2 2-1zM1224 858l-2-2 -1 2zM982 871l0-9 2 4zM814 875l-5-5 1-5 4-2 2 3zM1228 882l-2-3 0 5zM1238 890l3-8 -3-2 -7 10zM990 899l-3-1 1-4 -3-4 1-5 8 5 -3 4zM1178 899l-5-5 -1-4 2-2 7 6zM990 911l-6-1 6-4zM1215 914l-1-5 -1 5 1 1zM994 920l-1-6 5-4 1 4zM998 925l-2-3 2-1 2 1zM1002 948l-4 0 -2-2 -3-12 5-7 4 0 1 3 -2 4 4 4 -4 4 3 4zM602 956l-8 0 -8-6 -2-4 2-12 4 10 4-5 4-1 8 8zM614 939l0-5 2 4zM850 935l0-2 2 1zM1190 957l-5-7 -1-8 6-5 4 9 -3 4zM618 956l-3-2 1-8 2-2zM998 956l-4 1 0-8 6 5zM1242 953l-5-3 9 0zM1246 959l-3-1 3-6zM614 959l-2-1 2-2zM1282 964l-4 0 -4-6 4-4 4 1 3 3zM1235 962l-1-2 -1 2zM618 979l-8 2 -4-8 0-4 6 1 6 7zM1246 1012l0-10 -10-8 2-4 -8-4 8-6 10 2 8 20 1 4 -3 4 -4-1zM982 989l-3-3 3-3 2 3zM666 1058l-8-6 -4-8 -8 0 -7-6 -1-4 -7-8 -6-12 1-8 -4-7 0-7 1 2 7 0 2 4 6 1 8 7 0 4 9 8 3 16 4 1 6 7 2 8zM1218 1087l-10-13 -1-8 6-4 -11-1 -4-6 -8-3 -4-6 -4 0 -4-2 -1-6 -3-4 -4 3 -8 0 -4-3 -4-9 -12-1 -6-6 0-4 14-7 8 1 16-2 12 5 4-4 4 2 4-5 8-2 4 8 7 4 -4 4 1 8 6 0 0 8 11 12 -2 4 1 8 -4 4 3 4 -9 8 5 8zM1222 1023l-2-5 2-4 2 4zM1270 1074l-5-4 1-9 3-3 -7-16 -8-8 -5-16 1-4 4-3 8 4 2 15 9 20 4 4zM690 1019l-4 3 -5-4 5-3zM1154 1034l0-1 3 1zM694 1043l-4 2 -4-5 0-4 4 0 4 4zM678 1078l-8 1 -4-3 -2-2 2-4 -9-8 1-4 4-2 8 3 8 6 1 5zM1230 1092l-8-6 5-4 0-4 3-2 2 10zM1266 1097l-5-7 1-9 6 5 0 8zM1270 1083l-3-1 3-3zM682 1115l-4-1 -4-6 -4-14 6-8 6-3 5 11 -3 8 2 8zM1258 1105l0-4 2 1z"/>
<path fill="#FF28F4" d="M554 394l-4-7 -4 0 -1-5 5-2 4 3 3-1 1-8 4-3 9 7 -4 4 -1 5 -4-1 0-4 4-4 -4-4 -3 4 2 12zM610 394l-3-4 3-2 2 2zM566 395l-3-1 3-2zM614 405l-3-11 7-2 2 2zM674 398l-2-4 2-1zM554 408l-7-6 3-6 5 6zM538 530l-6-8 0-8 5-4 -3-4 -4 2 0-2 4 0 3-12 -3-3 -4-1 0-4 4 3 4-9 4 0 -1-6 5-3 4-9 4 4 -4-4 -12-4 8-4 -4-3 -4 5 -2-6 6-4 -8-5 -1-3 16-4 4-4 -4-8 6-12 7-4 3 8 3 0 1-4 -7-4 0-5 12-3 4 7 4 3 4-1 4 5 8-10 4 2 -1 6 2 4 -3 4 3 4 -1 1 -4 2 -4-4 -4 0 -1 5 -7 5 -8-7 -4 4 -4-2 3 8 -10 8 5 4 -1 4 2 4 -3 2 -8-8 -4 2 4 4 13 8 -1 3 -4-1 -3 2 3 6 8-1 2 3 -10 9 -4 1 -8-4 -3 2 4 4 -5 7 -4-7 -3 4 3 9 4-4 1 7 5 4 -4 4 6 1 2 11 -6 5 -8 0zM722 411l-2-5 2-9 4 2 3 7zM886 424l-4 1 -1-3 4-4 -3-4 -16-4 -8-9 8-7 4 4 4-2 5 2 -1 5 4-4 4 5 4-1 8 11 -4 6 -5-2zM590 410l-2-4 2-1 2 1zM542 416l-2-2 2-2 2 2zM576 414l-2-3 -1 3 1 1zM850 416l-3-2 3-4 2 4zM930 495l-4-3 -8 2 -4-4 5-4 0-4 -4-4 -1-4 6-4 -6-4 -1-8 -12-4 -1-8 -5-4 -3-8 0-4 10-12 4 7 8 2 2 3 4 8 -2 4 5 8 -2 4 5 8 13 8 -3 8 4 4 -2 6 -8-4 -3 2 7 3zM806 427l-2-1 2-6 1 6zM586 454l-2 0 -6-12 12-13 3 5 -4 4 7 4zM602 439l-4-1 4-2zM874 447l-2-1 2-1zM470 467l-12 2 -8-3 -6-12 6-2 4 2 4-4 4 1 4-2 5 9 -1 2 -4-2 -3 4 9 4zM906 531l-6-5 4-8 -8-8 9-8 -7-1 -4 8 -3-3 3-8 -8-4 -3-8 5-8 -6-4 -4 0 -2-4 7-12 -1-4 4-3 2 3 -1 8 7 12 -2 4 2 4 4 0 1 4 -3 8 2 2 4-3 4 3 4-1 1 3 -5 4 4 8 -2 4 6 3 6 1 -6 8 -4-5 -1 1zM874 459l-1-1 4 0zM442 463l-2-1 2-1 2 1zM538 463l-2-1 2-3 2 3zM810 478l-4 2 -4-6 -8-2 -4 2 -2-4 2-4 8 3 4 5 4-4zM882 484l0-4 2 2zM558 497l-4-3 1-4 7-2 3 2zM822 505l-6-3 6-5 3 1 0 4zM554 504l0-3 3 1zM814 508l-3-2 3-3 2 3zM526 520l0-6 2 4zM547 522l-1-4 -4 4 -4 0 8 2zM826 527l-4 2 -6-7 14-7 0 7zM922 525l-2-3 2-3zM822 536l-4-1 -6-9 2-2 8 7 3 3zM914 576l-8-3 -2-3 -1-12 -4-8 5-8 -4-4 2-2 8 4 1 2 -5 4 7 4 -1 4 4 0 2-7 2 11 4 4 -2 4 -4-2 -2 2 6 4zM542 555l-4-1 -3-8 3-2 8 5zM922 548l-4-2 4-2 4 2zM930 562l-6-4 2-7 4-1 5 4 1 4zM806 566l-2-4 2-5 4 5zM818 564l-3-2 3-8 2 8zM898 560l0-3 3 1zM798 572l-3-2 3-4 4-2 4 2zM866 575l-4-5 0-3 4 0zM802 589l-7-3 2-8 5-6 3 14zM826 576l-2-2 2-3zM926 577l-2-3 2-2 2 2zM946 592l-6-2 1-4 -7-5 -7-3 15-7 3 3 -1 4 11 4 -5 0zM830 614l-4 2 -4-1 -12 1 -12-12 -2-6 2-4 4 3 3-3 -2-4 7-10 8 2 8 10 2 2 -2 7 8 1 -8 0 0 8zM822 583l-4-1 6 0zM970 587l-6-1 2-6 4 2zM842 610l-5-4 -4-12 -5-4 2-7 8 2 0 5 6 4 -6 4 5 8zM906 587l-2-1 2-4 2 4zM1114 764l-14-6 -4-4 -2-9 -8 3 -16-19 -11-3 2-8 -7-4 5-8 -2-8 -3-4 -4-1 -4 1 -7-4 7-3 4 2 0-8 -7-3 3-4 -4-3 -3 3 3 4 -4 3 -6-3 0-4 -6-3 -4-9 3-4 -11-7 -4-10 -4-1 -12-11 -4 5 -8-8 -4 5 -4-5 -8 11 -4-4 -4 2 -7-5 -3-8 8-4 -10-3 -4 4 -4-1 -2-4 5-4 -2-4 3-9 4 4 4-1 2 2 2 4 -3 4 10 4 1 6 4-9 5-1 -1-4 -8 5 -7-5 11-1 3-3 -2-4 3-6 4 10 4 1 8-2 4 1 4-3 4 2 6 5 -2 5 8 0 8 10 4 0 4-7 -1-4 7-8 -18-8 4-5 4 3 4-3 8 0 2 1 1 4 5 1 0 3 4 2 8-6 2 4 6 0 4 4 4 0 7 12 -4 4 4 4 -3 4 2 4 -4 8 9 4 0 4 -3 4 7 4 0 8 -6 4 -1 5 -4-1 1 4 -4 4 5 4 0 4 -4 4 1 4 11 12 -4 4 5 8 -3 12 8 7 4-6 4 8 4-5 4 4 5 0 -3 4 4 4 -3 4 9 4 1 4 -1 4zM1010 597l-3-3 3-3 4 3zM730 614l-6-4 -1-8 7-6 4-1 5 11 -8 4zM1043 606l-4-4 -3 0 6 5zM526 626l-2-4 2-17 3 17zM1018 611l-10-5 10-4 3 4zM1078 608l-1-2 2 0zM1037 618l-5-4 3-4 -1-2 -8 6 8 7zM850 621l0-4 2 1zM971 622l3-4 -5 0 0 4zM854 629l-2-3 2-5 2 5zM830 639l-8-4 -4 3 -1-4 9-12 16 12 -4 4 -4-2zM846 637l-4-3 4-4 0-5 2 9zM946 628l0-5 4 3zM926 663l-12-5 -4-4 -1-4 -5-4 1-4 -5-4 2-8 4 0 4 4 1 4 11 8 0 8 5 4zM1194 687l-5-1 -3-12 -5-4 0-12 -11-8 -3-8 3-6 -4 4 -4-2 0-5 12-5 3 2 -2 4 6 4 -1 4 2 4 5 0 -4 12 19 16 0 4zM926 642l-4 4 -3-4 3-10 4 2zM986 636l-2-2 2-1 3 1zM834 643l0-3 3 2zM854 645l-8 0 -2-3 2-3 4 0 6 3zM934 648l-3-6 7-3 4 3zM962 643l-4 1 -2-2 2-2 6 2zM970 645l-2-3 2-1 2 1zM990 642l-10 0 2-3zM842 653l-2-3 2-5 4 5zM862 665l-4-5 -4 1 -4 5 -4-2 -4-10 8-7 4 0 4-3 4 1 4 4 5 1 0 4zM902 683l-4 0 -3-9 -8-4 -3-4 -7-12 0-8 5 2 4-3 2 1 2 4 -3 4 19 20 0 7zM526 664l-3-2 2-8 -2-4 3-3 4 0zM1055 666l-1-4 -1 4 1 2zM518 668l0-6 3 4zM834 667l-2-1 2-2zM870 680l-4-3 -4 2 -4-3 -4 4 -6-2 10-15 4 6 8-7 3 4 0 12zM1338 673l-4-1 -2-2 6-4 4 4zM838 687l-4-1 -1-4 0-8 5-4 2 12zM878 676l-2-2 2-2 4 2zM866 694l0-8 2 4zM1022 688l-5-2 5-2zM514 719l-2-1 2-2 3 2zM1030 753l-6-7 -3-12 5-9 4 5 0 11 5 5zM1090 731l-2-1 2-2 1 2zM986 788l-2-2 3 0zM982 831l-1-5 -3-4 -2-24 1-8 5-2 5 6 -8 20 1 4 4 4 0 8zM518 822l-9 0 -3-4 4-5 4-1 6 6zM1226 826l-4 1 -1-5 5-4zM1226 986l-11 0 -1-5 -8 4 -4-6 -4 4 -3-5 7-6 12 5 4-6 4-1 -4-2 -4 4 -1-2 -3-8 1-8 -3-8 1-8 -4-4 4-8 -5-4 4-4 0-4 -5-4 0-4 -6-4 7-4 2-8 -7-12 -1-16 3-8 -4-4 6-4 -2-4 5-4 4 1 4 6 12-3 12 0 4-5 12 4 5 5 0 16 -4 4 1 8 -6 4 4 2 4-4 1 2 -1 6 -5 2 5 4 0 12 -4 8 5 8 1 8 -10 10 -8-8 -1-2 2-4 7-8 -4-8 -8-8 -3 4 3 12 -12 2 -4-8 -2 2 2 7 9 5 0 8 6 4 0 4 -7 11 3 5 -3 4 2 4 -2 4 2 4 1 12zM1034 855l-6-1 2-9 4-1 4 6 -1 4zM1046 849l-3-3 3-2 3 2zM1078 862l-12-6 -12-1 -7-5 7-6 12 3 15-1 5 4 1 4zM1022 854l-5-4 5-2 7 2zM1042 852l-4-2 4-3 3 3zM1225 858l-3-4 -2 4 2 2zM810 871l0-5 4-2 0 5zM1235 874l-2 0 1 4zM1239 890l3-8 -4-3 -8 2 -4-4 -5 1 7 12 10 3zM990 894l-4-4 0-5 7 5zM1178 899l-4-5 0-5 7 5zM1216 914l0-4 -2-2 -2 6 2 3zM1224 926l-2-3 -4 3 -4-2 -3 2 11 2zM1002 948l-4 0 -3-6 -2-8 5-4 6 8 -4 4 3 4zM602 954l-8 1 -6-9 10-6 6 6 -2 4zM1190 950l-4 0 -1-8 5-3 4 7zM1282 963l-4 0 -4-5 8-3 2 3zM1238 966l-3-4 3-3 2 3zM1182 968l0-3 2 1zM1234 969l-4-3 4-3 4 3zM1186 973l-3-3 3-3 4 3zM614 979l-5-1 -1-4 2-3 7 7zM1254 1008l-7-2 0-4 -10-8 3-4 -9-4 3-3 4-2 9 1 9 20zM982 988l-2-2 2-3zM1210 999l-4-2 -12 4 -3-3 -1-4 4-1 4 2 12-6 4 9zM666 1055l-8-4 -1-5 -3-2 -8 0 -4-4 -11-14 -5-12 2-4 -5-12 3-3 12 5 7 6 1 5 8 7 3 16 5 2 5 6 3 8zM1218 1065l-4-4 -12-1 -8-9 -4-1 -2-4 2-4 -8 2 -4-1 0-5 -4-5 -4 4 -8-2 -8-11 -4 1 -8-1 -5-6 0-4 5-1 4-3 4 9 5-5 -5 0 -4-4 4-2 12-1 8 3 4-3 12 5 4-4 10 6 -2-8 8-3 2 7 -5 4 11-2 2 2 -7 8 5 6 4-2 1 8 11 12 -2 4 1 8 -3 2 -4-1zM1270 1072l-4-2 0-4 5-8 -1-3 -4-3 -3-10 -8-8 -5-14 0-4 4-3 4 0 4 3 0 14 4 4 10 20zM686 1021l-4-3 4-2 3 2zM1217 1034l-3-2 -5 2 5 3zM694 1043l-4 0 -4-5 4-2zM670 1078l-5-4 3-4 -6-3 -4-6 12-1 8 5 0 11zM1210 1076l-1-10 9 1 4-3 3 2 -7 7 -4 0zM1218 1082l-6-4 2-3 4 0 2 3zM1222 1084l-4-2 4-2 2 2zM1262 1084l0-3 2 1zM682 1114l-4-1 -7-15 2-4 0-4 5-6 4 0 5 10 -3 8 1 8zM1226 1087l-2-1 2-1 2 1zM1266 1096l-4-6 4-5 2 9z"/>
<path fill="#E0C0E8" d="M550 384l-4 1 -1-3 5-1zM558 392l-4 1 -3-3 0-4 7-3 3 3zM610 392l-1-2 1-1zM618 396l-4-2 4-1zM894 419l-4-3 -4 1 -3-3 4-4 -1-2 -4 5 -8-1 -12-6 -3-4 7-6 4 3 4-2 3 1 -1 4 2 3 4-4 4 4 4-1 7 10zM550 403l-2-1 2-3 3 3zM574 409l-8-1 -3-2 3-4 8-2 4 6zM726 407l-4 2 -1-3 1-4 4-2zM598 424l-4-5 -4 1 -4-2 6-4 0-4 6-6 4 2 -3 4 3 4 -3 4 3 4zM558 453l-4-6 -4 3 -8-8 -8-4 16-2 3-2 3-4 -6-8 8-12 4-1 4 7 4-3 4 5 7-4 -5-4 2-2 4 1 4-2 3 3 -3 8 2 8 -6 3 -6-3 -2-6 -2 6 -8 0 4 8 -6 5 -7-1 7 8zM559 422l-3 0 2 2zM886 422l-5 0 5-1zM938 486l-8-3 -4 3 -4-4 -6-8 5-4 -5-4 1-8 -14-4 -2-8 -5-4 -4-8 1-4 9-10 4 7 8 0 2 3 2 8 0 4 3 8 -1 4 4 8 5 4 0 4 8 0 -2 8 4 4zM590 436l-3-2 3-3 2 3zM586 451l-7-9 7-7 4 6 4 1zM538 452l0-3 3 1zM546 453l-4-3 4-3 3 3zM458 468l-8-3 -4-11 4-1 4 3 4-3 4 2 2 3 -5 4 3 4zM466 457l-3-3 3-4 3 4zM558 483l-4-5 -8 4 -2-4 -1-4 3-1 4-9 4 4 2-2 -6-5 -10-3 6-2 4-5 4 5 13 6 -8 4 3 7 8-1 1 2zM886 458l-2-4 2-2 1 2zM886 475l-4-3 -4 0 -1-2 5-10 4 1 4 9zM794 471l-4-1 7 0zM806 478l-3-4 3-3 2 3zM894 493l-8-1 -2-6 6-10 3 6 6 4zM554 524l-4 1 -4-8 -4 3 -4-4 -4 1 -1-3 5-4 -3-4 2-4 -1-12 2-9 3 1 -3 8 2 8 10 8 -3 4 8 4zM546 491l-1-5 1-3 3 3zM930 493l-4-2 -8 2 -2-3 6-7 10 7zM562 491l-4-1 4-1 1 1zM558 496l-3-2 3-4 2 4zM822 505l-4-3 4-4 2 4zM894 507l-2-1 2-5zM902 515l-5-5 9-6 2 6zM902 526l0-4 4-6 5 2zM822 527l-6-5 10-2 2 2 -2 4zM914 524l-2-2 2-3 2 3zM822 535l-4 0 0-4 4 1 2 2zM902 539l0-2 4 1zM910 542l-4 1 0-4zM538 552l-2-6 2-1 3 1zM922 547l-2-1 4 0zM906 558l-5-4 1-7 9 3zM914 574l-8-2 -3-10 7-7 4 2 4-4 0 5 4 4 -4 0 -3 4 4 4zM930 560l-5-2 1-5 7 5zM934 556l-2-2 2 0zM806 564l0-4 1 2zM818 563l-1-1 1-4zM938 584l-7-6 11-5 0 6zM802 588l-6-2 6-9 2 9zM946 589l-3-3 0-4 3-1 2 1zM966 587l-1-1 1-5 3 5zM818 616l-8-1 -6-5 -1-4 0-8 8-4 -6-4 5-7 4 4 4-4 4 8 4 3 -2 12 -3 8zM834 593l-4-4 0-4 8 1zM1038 600l-4 2 -12-7 -4 0 -1-5 3 0 2 3 4-3 8 1 1 3 6 4zM838 597l-3-3 3-2 3 2zM1010 595l-2-1 2-1 2 1zM726 611l-2-9 6-5 4-1 4 10 -8 1zM1082 743l-12-15 -10-2 3-8 -7-4 4-8 -4-12 -4-4 -2-12 -4-7 -4-1 -4 4 -8-1 -3-3 -3-8 3-4 0-4 -5 1 -7-5 -2-8 -7-4 2-4 -14-5 -4 3 -8-8 -4 6 -6-8 3-4 -3-8 2-4 12-4 12 2 4 2 -2 4 2 13 2-1 -1-8 7-2 8 10 5 0 3-6 6 6 2 5 4-9 8 8 -12-12 1-8 3-1 4 5 2-4 -2-4 8-6 4 2 0 9 2-1 -2-4 8-3 4 5 4-1 2 3 -2 4 6 4 -6 8 3 4 -3 4 3 4 -4 4 5 5 5-1 -2 8 1 3 4-1 2 2 -1 8 -9 6 0 6 -5 4 6 4 -6 4 3 8 -2 4 0 2 4-4 6 6 -5 4 3 1 5 11 -2 12 9 8zM842 608l-4-2 0-4 4 3zM942 616l-4 1 -1-3 5-4 0-6 8-3 3 5zM1018 610l-8-4 8-2 2 2zM1030 610l-4 2 -1-2 5-6 4 2zM526 625l-2-3 2-16 3 16zM826 615l-3-1 3-3 3 3zM958 617l-8-3 4-2 4 1 1 1zM966 637l-4-6 -4 2 -4-3 1-4 -4-4 7-3 2 3 4 0 -1-4 2-4 5-2 4 2 -5 4 -2 4 5 4zM1074 625l-4-3 4-2 2 2zM830 637l-7-3 -2-4 5-7 7 7 0 4zM946 627l0-2 2 1zM1074 633l-4-3 4-3zM1182 659l-12-9 -2-4 0-4 3-4 1-8 2-1 1 5 5 4 -1 4 6 8zM846 636l-3-2 3-3 1 3zM906 642l-4-4 0-4 4-2 4 6zM922 643l0-10 2 5zM1166 639l-4-5 7 0zM854 643l-4 1 -5-2 5-2 4 1zM918 659l-13-13 5-8 12 12 0 8zM934 646l-2-4 8 0zM842 652l0-6 2 4zM862 663l-4-5 -8 7 -4-2 -3-9 15-9 3 1 -1 4 5 4 2 4zM894 672l-6-2 -4-8 -2-1 -4-7 0-7 4 1 5-2 2 4 -4 4 6 4 3 6 4 2 0 4zM526 662l0-8 -2-4 2-2 3 2 -3 4zM870 655l-3-1 3-2zM1063 658l-2 0 1 1zM1056 666l-2-6 -2 6 2 3zM1194 686l-4 0 -3-12 -6-4 2-8 3-2 15 14 0 4zM518 667l0-3 1 2zM858 675l-5-5 5-6 3 6 -1 4zM870 679l-7-5 3-8 4-3 2 3zM1338 671l-5-1 5-2 2 2zM838 686l-5-4 2-8 3-2 2 10zM902 683l-4-2 -1-3 1-8 4 0 5 8zM854 679l-5-1 5-2zM1038 680l-5-2 5-3 2 3zM1046 692l-4-2 4-2 2 2zM1026 745l-4-11 4-7 3 7 -1 8zM1114 763l-3-1 -1-5 -4 3 -4-1 -5-5 0-4 -3-5 -4 1 -3-4 7-10 1 6 3 1 4-3 9 10 -3 4 2 3 6 1 2 4zM1030 752l-4-6 4-3 4 3zM1086 746l0-2 2 2zM982 804l-5-6 5-7 4 3zM514 822l-4 0 -3-4 3-4 4-2 5 6 -1 3zM982 831l0-5 -4-4 4-2 2 2zM1222 825l0-3 2 0zM1218 924l-5-6 4-4 0-4 -7-4 -6-8 6-12 -4-1 -6-7 -2-12 4-12 -4-4 7-4 -4-4 5-2 4 0 4 6 12-3 12 1 12-4 5 2 4 8 -2 4 1 7 -5 5 2 8 -5 0 -1 4 5 3 4-3 0 5 -4 0 -2 3 5 4 -2 16 -5 7 -3-7 -8-8 -1-4 4-8 0-8 -6 0 -2-6 -4 7 -8-3 -3 2 8 12 11 4 -4 8 0 12 -9 0 -3-14 -3 10 2 8zM1030 847l0-1 3 0zM1046 848l-2-2 2-1 2 1zM1082 858l-4 4 -5-4 -19-4 0-2 -6-2 6-5 4 0 8 3 13-2 7 6zM1022 853l-3-3 6 0zM1034 855l-4-1 4-8 3 4 -1 4zM1042 851l-2-1 2-1 1 1zM1229 858l-6-4 1-4 -2-1 -2 9 2 3zM1238 854l2-4 -2-2 -5 6zM814 868l-3-2 3-1zM1212 866l-3 0 1 2zM1215 886l-1-2 -4 2 4 2zM990 891l-2-1 3 0zM1174 893l0-4 2 1zM1178 898l-3-4 3-2 2 2zM1202 903l-4-1 6 0zM1210 915l-6-5 2-6 4 3zM1250 935l-8-9 4-8 8-7 5 7 1 8zM1210 924l-4 0 0-5 7 3zM1230 925l-4 0 -2-3 6-1zM1230 985l-12 0 -2-3 0-8 9-4 -5-4 -6-1 -2-3 -1-12 -3-4 4-4 -6-8 4-5 4-2 3 3 1 5 4-4 4 4 4-4 6 3 0 4 -7 8 2 8 -2 12 4 16zM1226 933l-3-3 3-3 3 3zM1002 947l-5-1 -3-13 4-1 5 6 -4 4zM598 953l-7-7 7-5 5 5zM1190 949l-3-3 3-4 3 4zM594 954l0-2 2 2zM1282 963l-4-1 -2-4 6-2 2 2zM1238 965l-2-3 2-3 2 3zM1234 969l-3-3 3-2 3 2zM1186 972l-2-2 2-2 2 2zM1206 977l-4-3 4-1zM1198 981l0-4 2 1zM1210 984l-4 1 -3-3 7-5 2 1 0 4zM1254 1007l-6-1 0-4 -8-8 1-4 -3-3 -6-1 2-2 13-2 8 20zM982 988l-1-2 1-2zM1198 999l-4 2 -3-3 1-4 2-1 8 5zM1210 998l-4-2 -4 2 -2-4 10-2zM666 1054l-7-4 -1-4 -4-3 -8 0 -6-5 -4-8 3-4 -1-2 -4 4 -7-14 2-4 -6-12 3-2 12 5 6 5 2 7 7 5 -7 5 8-4 2 15 2 3 4 0 5 5 2 8zM1206 1011l-4 2 -2-7 6-2zM1214 1060l-12-1 1-5 -5-1 -8-7 0-5 -8 1 -2-4 -6-6 -4 4 -8-2 -8-12 -1-4 3-4 -2-2 -4 0 -2-2 14-2 4 3 12-1 8 3 4-4 6 5 14 4 -2 4 2 4 -4 8 7 4 5 0 9 8 -1 8 -4 4zM1150 1024l-8-1 -4-5 0-4 8 1 8 7zM1214 1015l-3-1 3-1zM1266 1048l-2-6 -8-8 -6-15 5-5 3-1 4 5 -1 12 4 4 3 8zM686 1020l-3-2 5 0zM1164 1018l-6 0 4 2zM1191 1030l-5-8 5-4 -1-2 -5 10 5 7zM1203 1026l-1-2 -1 2zM1214 1031l-2-1 4 0zM690 1041l-3-3 4 0zM1207 1046l-1-1 -1 1zM1270 1053l-4-3 4-4 2 4zM1274 1061l-2-7 2-1zM678 1075l-8 2 -4-2 0-3 4-2 -8-4 -1-4 5-3 12 7zM1270 1066l-2-4 2-2 3 2zM1218 1072l-8-2 4-2 4 0 2 2zM1218 1080l-5-2 5-2zM1222 1083l-2-1 2-1zM682 1113l-4-1 -6-14 3-4 -2-4 5-5 4 0 4 9 -3 8 1 8z"/>
<path fill="#FFFFFF" d="M558 391l-4 2 -2-3 0-4 6-2 2 2zM882 412l-8-1 -13-9 5-4 4 3 5-3 0 8 3 0 4-4 3 4zM726 405l-2-3 2-1zM574 409l-10-3 2-3 8-1 3 4zM598 410l0-5 2 1zM894 418l-4-3 -4 1 -1-2 4-4 -2-4 3-1 4 5 2 4zM586 413l-4-3 4-2 2 2zM594 417l0-7 3 0zM562 439l-7-5 4-4 -1-2 -4 0 -2-6 6-11 4 0 4 6 4-1 2 2 -8 8 4 8zM586 428l-9-2 -1-4 2-3 4-3 4 3 2 3zM590 420l-3-2 3-2 4 2zM598 424l-2-2 2-4 3 4zM561 422l-3-2 -3 2 3 4zM918 455l-4 2 -10-3 -3-8 -4-4 3-4 -6-1 0-7 8-9 4 9 8-2 1 2 2 12 3 8zM590 435l-2-1 2-2zM558 452l-4-6 -4 3 -8-11 12 1 7 7zM586 449l-6-7 6-6 3 6zM546 451l-2-1 2-2 2 2zM450 463l-2-9 2 0 8 4zM466 457l-3-3 3-3 3 3zM558 482l-4-7 -4 3 -3-4 3-8 4 3 3-3 -11-8 4-6 4 5 13 5 -5 1 -4 3 0 4 6 8zM462 459l-3-1 3-1zM934 483l-8 2 -3-3 3-4 -8-4 4-4 -6-4 2-6 4-2 1 4 5 4 0 4 6 3 3 9zM458 468l-4-2 4-3 3 3zM882 471l-4-1 4-8 4 1 2 3 -2 3zM806 476l-2-2 2-2zM546 480l0-5 3 3zM894 492l-4 1 -6-7 6-7 8 7zM922 488l0-3 2 1zM558 495l-2-1 2-2zM822 504l-3-2 3-3 2 3zM554 523l-4 0 -4-8 -4 3 -4-3 -4 0 0-2 6-3 -4-4 2-4 8 3 2 1 -2 4 8 4 -2 4zM902 514l-3-4 7-5 1 5zM818 523l0-2 3 1zM826 523l-2-1 2-1zM822 535l-4-1 4-2zM906 557l-4-3 1-4 3-2 4 2zM914 572l-8-2 -2-4 0-4 6-6 7 6 -4 4 4 4zM946 588l-2-2 2-4zM802 587l-5-1 1-2 4 0zM810 589l-2-3 2-2 2 2zM818 615l-4-2 -4 2 -5-5 -1-4 4-4 -2-4 7-4 -2-4 7-6 7 14 -1 8zM1038 599l-8 0 -7-5 3-3 4 1 10 6zM734 607l-8-2 -1-3 5-5 5 1 -1 4 3 4zM1086 739l-4 3 -16-18 -4 3 -2-1 4-8 -6-4 -1-4 4-4 -2-16 -5-1 -8-20 -4 0 -4 4 -10-3 3-4 -5 1 0-5 4-8 4 1 2-1 -6 0 -3-4 -5-2 -4 3 -2-1 -2-8 -4-4 0-4 8-4 -4-2 -8 4 -12-4 -4 3 0-5 -8-4 -4 6 -5-6 4-4 -4-8 2-4 15-3 8 7 4 14 3-2 0-8 5-2 2 6 -4 4 2 2 4-5 4 5 12-3 0 5 8 4 1-4 3-1 4 3 2-2 -12-12 0-4 2-3 4 6 3-7 -1-4 6-5 2 1 1 8 5 1 3 3 -1 4 2 1 1-5 -7-8 6-1 4 5 4-2 1 2 -3 4 7 4 -9 8 5 4 -5 4 -4-6 0 6 4 0 5 4 -3 4 5 4 -1 4 4 4 2 6 4-3 1 1 -1 8 -8 5 -2 3 2 4 -6 4 5 4 -6 4 4 8 -2 8 10 8 2 8 -3 4 4 4 -2 4 2 4 6 4zM950 609l-4 1 -3-4 7-4 2 4zM998 609l-2-3 2-1zM1018 608l-5-2 5-1zM1030 608l0-3 2 1zM826 615l-2-1 2-1 1 1zM938 616l0-3 3 1zM958 614l-4 2 -3-2 3-2zM970 615l-3-1 3-1 2 1zM526 625l-2-3 2-6 2 6zM966 622l-2-4 2-4 2 4zM966 636l-4-6 -4 2 -3-2 1-4 -4-4 6 0 4 2 4-2 4 4zM1038 625l0-5 1 2zM1074 624l-3-2 3-2 1 2zM826 629l0-5 3 2zM1074 632l-2-2 2-2zM846 635l-1-1 1-2zM906 640l-3-2 3-5 3 5zM1166 637l-3-3 4 0zM1182 657l-12-8 -1-3 -1-4 6-8 5 4 1 8 4 4zM910 648l-4-2 4-7 3 3zM1051 646l-1-4 -3 0zM858 649l0-4 2 1zM886 661l-4-1 -4-10 8-4 2 4 -3 4 4 4zM526 653l0-4 2 1zM850 664l-4-2 -2-8 2-2 4 3 2-1 0-4 5 0 0 8zM918 659l-2-1 -1-8 3-3 3 3 -1 8zM862 657l-4-3 4-2 2 2zM1064 658l-2-2 -2 2 2 2zM894 671l-4-1 -3-4 -1-4 4-4 6 8 0 4zM1063 674l4-4 -1-4 -4 6 -4-2 -4-11 -3 7 3 4 4 0 4 6zM1194 683l-4-2 -3-3 0-4 -5-4 2-8 2-1 9 9 -1 6 4-4 2 2 0 4zM858 673l-3-3 3-5zM870 678l-6-4 6-9zM898 679l0-8 4 0 2 3zM838 685l-4-3 4-8zM1038 678l-3 0 3-1zM1078 704l-4-2 4-2zM1072 718l2-4 -5 4zM1026 742l-3-8 3-5 2 5zM1106 759l-4 0 -5-5 2-4 -5-6 -4-1 0-2 4-3 4 2 4-2 8 16zM1030 751l-2-5 2-2 4 2zM1114 763l-3-5 3-4 3 4zM982 804l-4-6 4-3 1 3zM518 820l-8 1 -2-3 6-5 5 5zM982 825l-3-3 3-2zM1250 912l-11-18 4-8 -1-11 -4 3 -4-7 -4 6 -12-5 -4 3 -1 7 -7 2 -4-4 -3-14 5-12 -4-4 6-4 -4-4 8-1 4 5 -1 12 4 4 -1 4 2 3 3-3 -2-4 7-2 4 2 3-4 5-2 4 2 -4 5 5-5 -4-4 3-4 -4-4 -4 6 -5-2 2 4 -1 2 -4 0 -2-2 2-4 -4-3 -4 7 0 8 -2-4 1-12 9-2 16 2 3-4 5-2 4 2 4 8 -2 4 2 4 -4 4 -6 0 6 8 -4 3 -2 5 2 3 6 1 -5 4 6 4 -3 7 -4 1 5 4zM1078 861l-12-6 -10-1 -3-8 8 0 1 4 12-4 8 2 4 6zM1022 851l-2-1 4 0zM1034 855l-3-1 3-6 1 2zM1213 866l-3-2 -2 2 2 3zM1254 874l-2 0 2-4zM1234 911l-4 1 -3-2 -5-12 -4 7 -8 0 -5-7 5-9 4 1 -2 4 4 0 -2-4 4-8 4 1 4 9 10 2 -2 6 -6 2 2 3 4 1zM1178 897l-2-3 2-1zM1206 910l0-2 2 2zM1254 917l-2-3 2-2 2 2zM1218 921l-2-3 2-3 2 3zM1250 935l-7-9 1-4 6-5 4 2 4-2 2 9zM1210 922l-5 0 1-1zM1226 969l-4-3 0-6 -4 4 -4-2 -2-12 -3-4 6-4 -6-8 5-6 2 2 -1 4 3 4 4 1 12-7 2 2 -1 4 -7 8 2 16zM1002 946l-4 0 -3-12 3-1 4 5 -4 4zM1222 937l-2-3 2-2 2 2zM598 951l-6-5 6-4 3 4zM1190 948l-3-2 3-3 2 3zM1282 962l-4-1 -1-3 5-1zM1238 964l-2-2 2-2zM1234 968l-2-2 2-2 2 2zM1230 984l-12-1 -2-5 1-4 3 0 2 4 4-6 4 3 2 7zM1210 983l-4 1 -2-2 6-4zM1234 987l-2-1 2-2 4 2zM1254 1006l-4 0 -2-4 -5-4 -1-8 -4-4 4-4 4 0 9 20zM1198 998l-4 2 -2-2 1-4zM1206 995l-4 1 -1-2 7 0zM626 1002l-2-4 2-2 3 2zM654 1043l-8-1 -5-4 -4-8 3-4 -2-4 -2 4 -3 0 -2-8 -4-4 3-4 -4-8 4-3 8 2 5 5 2 8 7 4 -8 4 2 4 8-6 2 14 -3 4 4 4zM1206 1008l-4-2 4-1zM1214 1059l-12-1 2-4 -9-4 -5-10 -8-2 -8-7 -4 5 -3-2 -1-7 -4 5 -6-10 2-2 4 1 3-3 -7-1 -4-7 -5 0 13-2 4 4 12-1 8 3 2 4 -5 4 0 4 7 8 0-8 -3-4 7-8 14 4 -2 4 3 4 -5 8 6 4 8 1 9 11 -5 6zM1190 1016l-4-2 4-5 4 5zM1202 1011l0-4 2 3zM686 1019l-2-1 3 0zM1150 1024l-8-2 -2-4 6-1 7 5zM1176 1018l-2-2 -7 2 3 3zM1266 1045l-9-11 -5-12 1-4 5-4 4 5 -2 11 6 7zM1204 1026l-2-3 -2 3 2 2zM666 1053l-5-3 -3-12 4-1 4 5 2 8zM1209 1046l-3-4 -2 4 2 2zM1270 1053l-3-3 3-3 2 3zM674 1076l-8-2 5-4 -9-4 1-4 3-2 4 1 8 5 -1 8zM1270 1064l0-3 2 1zM682 1112l-4-1 -3-5 4-8 -5-8 4-4 4-1 4 9 -3 8 1 8zM674 1100l-2-2 2-2 3 2z"/>
</g></g>
<g fill="none" stroke="#000" stroke-width="3.8" stroke-linejoin="round" stroke-linecap="round">
<path d="M199.2 213.1 L210.0 216.4 L217.8 219.2 L229.0 220.3 L235.7 219.5 L242.4 220.3 L245.8 225.1 L250.3 230.7 L251.4 236.3 L250.3 243.3 L243.6 247.5 L239.1 248.9 L241.3 243.3 L248.0 240.5 L252.5 234.9 L252.5 226.5 L251.4 216.7 L248.0 211.1 L249.2 202.7 L243.6 196.0 L243.6 195.7 L861.2 195.7 L861.2 185.0 L865.7 185.6 L868.6 186.7 L871.8 199.0 L871.5 201.8 L876.9 204.1 L881.4 205.2 L890.3 206.0 L899.3 208.3 L901.5 206.3 L910.5 206.3 L917.2 211.1 L923.9 217.3 L931.7 215.3 L941.8 221.7 L948.5 221.5 L957.5 217.0 L959.7 220.9 L974.3 220.9 L978.7 224.0 L987.9 223.4 L977.6 227.9 L965.3 232.1 L954.1 239.1 L945.2 246.1 L936.2 253.7 L929.5 258.5 L931.7 260.1 L940.7 259.6 L949.6 255.6 L957.5 252.8 L959.7 255.1 L957.5 260.7 L964.2 263.5 L967.1 263.8 L974.3 261.5 L981.0 257.3 L992.2 255.9 L998.9 251.7 L1007.8 245.3 L1016.8 239.7 L1026.9 238.6 L1023.5 243.3 L1015.7 248.1 L1011.9 253.1 L1010.7 258.2 L1015.7 255.1 L1023.5 254.5 L1030.2 256.5 L1035.1 265.2 L1043.6 265.7 L1051.5 268.0 L1062.7 261.3 L1075.0 260.7 L1086.2 258.7 L1089.1 258.2 L1088.4 265.7 L1096.2 266.6 L1102.9 265.7 L1107.4 271.3 L1111.9 277.8 L1120.9 276.9 L1122.0 281.2 L1113.0 281.2 L1104.1 281.2 L1094.7 283.4 L1088.4 279.2 L1077.2 277.5 L1068.3 281.2 L1059.3 282.6 L1053.7 289.6 L1050.4 288.2 L1049.2 284.0 L1043.6 285.4 L1041.4 291.0 L1035.8 298.0 L1030.2 305.0 L1026.9 309.2 L1021.3 320.4 L1026.9 317.6 L1034.7 307.8 L1042.5 299.9 L1043.6 301.6 L1036.9 313.4 L1032.0 324.6 L1031.8 333.0 L1027.3 342.8 L1023.5 354.0 L1023.9 363.8 L1025.7 377.8 L1028.0 389.0 L1030.2 396.1 L1031.8 400.3 L1038.0 402.5 L1045.9 399.7 L1052.6 393.3 L1059.3 382.0 L1061.5 369.4 L1060.4 361.0 L1055.9 349.8 L1054.4 344.2 L1055.9 335.8 L1060.4 326.0 L1060.9 316.2 L1064.9 310.6 L1071.6 307.8 L1075.0 302.7 L1075.0 313.4 L1078.3 312.0 L1079.9 302.2 L1088.4 297.4 L1086.2 291.0 L1090.6 286.8 L1094.0 285.9 L1101.8 289.0 L1108.5 293.8 L1119.7 298.0 L1126.4 305.0 L1124.2 310.6 L1126.4 321.8 L1124.2 330.2 L1117.5 336.4 L1112.6 340.0 L1113.0 345.6 L1119.7 346.4 L1125.3 338.6 L1134.3 334.1 L1139.9 337.2 L1143.2 349.8 L1146.1 363.8 L1144.3 373.6 L1137.6 375.0 L1135.4 382.0 L1129.8 387.6 L1126.4 393.8 L1123.1 399.4 L1133.2 403.1 L1138.8 405.9 L1144.3 408.7 L1155.5 405.9 L1162.3 405.9 L1172.3 398.9 L1188.7 392.4 L1198.1 387.6 L1205.7 384.3 L1218.2 376.4 L1224.9 368.0 L1222.2 361.0 L1221.3 356.5 L1233.9 353.5 L1247.3 354.0 L1256.2 356.8 L1269.7 355.4 L1279.7 349.8 L1285.3 347.6 L1285.3 338.6 L1282.0 333.0 L1288.7 327.4 L1294.3 323.2 L1305.5 312.0 L1314.4 307.8 L1318.9 307.8 L1390.5 307.5 L1392.8 302.2 L1399.5 299.4 L1405.1 300.8 L1406.2 296.0 L1415.1 286.8 L1418.5 281.2 L1417.4 274.1 L1423.0 268.0 L1424.3 260.1 L1441.3 238.8 L1445.6 243.3 L1448.7 246.7 L1462.1 241.6 L1470.0 246.1 L1473.6 249.8 L1473.6 281.7 L1474.5 285.4 L1481.2 291.0 L1481.8 298.0 L1484.5 303.6 L1491.2 310.6 L1491.9 313.4 L1486.8 318.4 L1477.8 321.8 L1467.7 325.2 L1459.9 328.8 L1451.0 323.2 L1447.6 328.8 L1444.2 335.8 L1435.3 340.0 L1427.5 342.8 L1419.6 345.6 L1417.4 349.8 L1411.8 358.2 L1408.0 361.9 L1405.7 367.5 L1409.6 373.6 L1404.0 377.8 L1401.0 382.6 L1407.3 385.7 L1410.7 391.9 L1412.5 398.0 L1418.5 398.9 L1424.1 397.5 L1423.7 391.3 L1419.6 389.9 L1423.0 393.3 L1425.2 400.8 L1415.1 402.5 L1409.6 405.3 L1402.8 404.5 L1398.4 406.4 L1395.0 401.7 L1392.8 397.5 L1391.6 407.3 L1388.3 409.5 L1382.5 410.9 L1370.4 412.3 L1359.2 412.9 L1350.2 416.5 L1342.4 419.9 L1337.9 424.1 L1335.7 426.9 L1334.1 428.3 L1330.1 430.2 L1329.0 433.9 L1334.6 435.3 L1333.9 445.1 L1332.3 454.9 L1325.6 464.7 L1318.9 471.7 L1313.3 477.9 L1313.3 471.7 L1307.7 467.5 L1301.0 463.3 L1299.9 458.5 L1302.8 453.5 L1298.8 459.1 L1301.0 466.1 L1304.4 474.5 L1310.0 481.5 L1311.1 491.3 L1306.6 503.1 L1298.8 516.6 L1290.9 528.6 L1289.8 520.8 L1295.4 509.6 L1297.7 505.4 L1293.2 501.1 L1292.1 495.5 L1284.2 491.3 L1285.3 481.5 L1286.5 473.1 L1290.3 464.7 L1288.0 460.5 L1280.9 468.9 L1278.6 475.9 L1278.6 487.1 L1280.9 495.5 L1282.7 502.5 L1276.4 499.7 L1267.4 495.5 L1276.4 504.0 L1284.2 506.8 L1283.1 515.2 L1280.9 525.0 L1283.1 532.0 L1289.8 533.9 L1292.7 544.6 L1288.0 547.7 L1295.4 553.8 L1281.8 556.9 L1291.2 562.8 L1278.6 569.5 L1288.0 575.7 L1272.4 579.6 L1281.8 587.5 L1268.6 589.4 L1278.0 599.2 L1265.2 597.8 L1256.2 604.8 L1247.3 616.1 L1245.1 619.7 L1232.8 620.0 L1222.7 628.7 L1218.2 638.5 L1209.3 645.5 L1202.5 652.5 L1191.3 659.5 L1185.8 665.1 L1181.3 671.3 L1175.7 679.1 L1173.4 687.5 L1169.0 700.1 L1167.8 708.5 L1169.0 716.9 L1171.2 731.0 L1173.2 739.9 L1176.6 748.6 L1181.7 762.1 L1186.9 771.6 L1185.1 775.8 L1192.0 791.2 L1197.2 808.0 L1199.6 816.7 L1198.7 835.5 L1195.4 845.6 L1192.9 857.6 L1185.1 861.8 L1176.6 862.1 L1173.2 855.9 L1168.1 843.9 L1159.6 838.8 L1156.2 825.1 L1151.1 816.7 L1144.3 808.0 L1140.1 797.9 L1143.2 794.0 L1145.5 787.0 L1141.0 791.2 L1136.5 782.5 L1138.3 774.1 L1141.0 762.1 L1136.5 752.8 L1128.9 748.6 L1123.1 739.9 L1117.5 729.6 L1110.8 725.3 L1102.9 728.2 L1101.8 731.0 L1088.4 739.4 L1081.7 737.1 L1079.4 733.8 L1073.9 725.3 L1061.5 718.3 L1048.1 716.9 L1039.2 718.9 L1032.4 720.3 L1025.7 721.7 L1021.3 721.1 L1022.4 709.9 L1019.0 711.3 L1017.9 718.3 L1012.3 717.8 L1001.1 716.9 L992.2 719.2 L985.5 722.5 L982.1 723.9 L979.9 728.2 L987.7 728.2 L989.9 733.8 L984.3 739.4 L989.9 746.4 L995.5 749.2 L997.8 754.8 L989.9 757.6 L988.8 750.6 L979.9 747.8 L974.3 752.0 L967.5 753.4 L957.5 754.8 L947.4 747.8 L935.1 742.2 L929.5 739.4 L918.3 739.9 L902.6 734.6 L890.3 736.6 L875.8 742.2 L870.2 746.4 L866.8 738.0 L864.6 745.0 L860.1 756.2 L844.5 766.0 L833.3 773.0 L822.1 781.4 L815.4 791.2 L810.9 803.8 L812.0 817.8 L815.4 829.0 L816.5 841.4 L808.7 843.9 L797.5 838.3 L788.5 836.0 L772.8 829.0 L769.5 817.8 L765.0 810.8 L763.9 798.2 L756.1 790.4 L746.0 775.8 L741.5 764.6 L738.2 753.4 L730.3 745.8 L721.4 734.6 L707.9 733.8 L700.1 731.5 L692.3 736.0 L688.9 746.4 L683.3 756.2 L678.8 756.2 L667.7 748.6 L658.7 743.6 L650.9 735.2 L647.5 723.9 L641.9 711.3 L631.8 704.3 L619.5 690.3 L609.5 679.7 L606.6 678.3 L569.0 678.3 L569.0 690.9 L505.0 690.9 L421.3 658.4 L423.3 651.9 L369.6 657.2 L366.6 652.5 L365.5 644.1 L359.9 634.3 L352.1 627.3 L347.6 623.9 L340.9 623.6 L339.8 617.5 L332.0 615.5 L321.9 611.8 L311.8 604.8 L294.6 603.4 L291.0 599.2 L291.0 590.8 L290.6 583.8 L285.0 579.6 L276.0 568.4 L271.5 560.0 L262.6 551.6 L261.5 543.2 L264.8 537.6 L258.1 533.4 L251.4 526.4 L249.2 518.0 L249.2 509.6 L239.1 504.0 L238.0 495.5 L229.0 487.1 L222.3 477.3 L219.6 467.5 L220.1 456.3 L214.5 446.5 L206.6 435.6 L212.2 424.1 L213.3 414.3 L211.1 398.9 L210.9 391.9 L206.6 380.6 L203.3 368.3 L206.6 361.0 L211.1 349.8 L212.9 335.8 L214.0 319.0 L215.6 307.8 L216.3 293.8 L216.7 282.6 L215.6 272.7 L214.5 262.9 L213.3 254.5 L211.1 248.9 L206.6 236.3 L200.4 225.1 L199.2 213.1Z"/>
<path d="M1333.9 431.1 L1340.2 431.1 L1350.2 429.7 L1362.6 426.3 L1372.6 422.7 L1382.2 417.9 L1377.1 419.9 L1370.4 419.9 L1372.6 415.7 L1364.8 420.4 L1354.7 421.3 L1345.8 421.8 L1340.2 424.6 L1336.8 426.0 L1333.9 431.1Z"/>
<path d="M1405.5 410.1 L1410.7 406.7 L1414.0 409.2 L1407.3 410.9 L1405.5 410.1Z"/>
<path d="M1418.5 411.5 L1423.0 409.2 L1424.8 412.3 L1419.6 412.9 L1418.5 411.5Z"/>
<path d="M215.6 272.7 L224.5 272.5 L229.0 274.1 L234.6 274.7 L240.2 277.5 L242.4 284.0 L243.3 289.6 L251.4 291.8 L260.3 290.4 L267.1 288.2 L274.9 288.2 L280.5 290.4 L290.6 287.3 L298.4 287.6 L306.2 284.5 L316.3 282.0 L325.2 281.7 L327.9 279.8 L374.0 279.8"/>
<path d="M371.3 195.7 L371.3 267.7 L374.0 275.0 L374.0 279.8"/>
<path d="M374.0 279.8 L377.8 284.8 L382.3 286.8 L384.5 291.0 L381.2 296.6 L379.0 302.2 L375.6 309.2 L371.1 314.8 L367.8 323.2 L367.8 327.4 L373.4 330.2 L374.5 331.6 L371.6 340.0 L371.6 391.9"/>
<path d="M393.5 195.7 L393.5 223.7 L401.3 236.3 L410.3 243.3 L419.2 253.1 L427.1 261.5 L432.0 261.5 L429.3 274.1 L430.4 282.6 L427.1 292.1 L432.7 294.3 L440.5 288.2 L450.6 305.0 L451.7 311.4 L459.5 319.0 L465.1 325.4 L476.3 321.8 L487.5 320.9 L495.3 320.4 L498.7 315.3 L505.4 322.3"/>
<path d="M210.9 391.9 L505.4 391.9"/>
<path d="M505.4 307.8 L505.4 419.9"/>
<path d="M505.4 307.8 L662.1 307.8"/>
<path d="M505.4 419.9 L706.8 419.9 L706.8 532.0"/>
<path d="M662.1 195.7 L662.1 419.9"/>
<path d="M662.1 281.4 L829.7 281.4"/>
<path d="M662.1 363.8 L785.2 363.8 L793.0 368.0 L800.8 367.5 L810.9 367.5 L819.8 370.3 L826.6 375.0 L832.1 378.1"/>
<path d="M706.8 447.9 L857.9 447.9"/>
<path d="M550.2 419.9 L550.2 690.9"/>
<path d="M438.5 532.0 L873.1 532.0"/>
<path d="M685.6 532.0 L685.6 546.0 L752.7 546.0 L752.7 600.4"/>
<path d="M685.6 546.0 L684.2 672.1 L604.5 672.1 L604.5 678.3"/>
<path d="M438.5 391.9 L438.5 554.4 L437.1 557.2 L430.4 555.8 L422.6 558.0 L423.7 571.2 L426.6 583.8 L425.3 588.0"/>
<path d="M305.1 391.9 L305.1 475.9 L425.3 588.0"/>
<path d="M425.3 588.0 L426.6 593.6 L431.5 603.4 L436.0 608.2 L429.8 614.6 L427.5 627.3 L423.3 632.9 L428.2 644.1 L428.9 648.3 L423.3 651.9"/>
<path d="M814.7 195.7 L817.6 209.7 L816.5 223.7 L823.2 237.7 L823.6 251.7 L825.4 262.9 L828.8 271.3 L829.7 281.4 L823.2 289.6 L832.1 299.4 L832.1 349.8"/>
<path d="M832.1 349.8 L949.2 349.8"/>
<path d="M832.1 349.8 L828.8 361.0 L832.1 378.1"/>
<path d="M832.1 378.1 L835.5 386.2 L840.0 400.3 L844.5 414.3 L845.6 426.9 L847.4 431.4 L852.3 440.9 L857.9 447.9 L866.8 454.9 L862.4 460.5 L866.8 466.1 L873.3 472.6 L873.1 546.0"/>
<path d="M847.4 431.4 L937.8 431.1 L944.7 437.3"/>
<path d="M873.1 546.0 L877.4 576.8 L876.2 626.1"/>
<path d="M873.1 546.0 L973.1 546.0 L968.2 560.0 L983.2 560.0"/>
<path d="M752.7 600.4 L759.4 604.8 L770.6 607.6 L784.0 611.8 L795.2 612.4 L804.2 617.5 L815.4 623.1 L824.3 620.3 L835.5 623.1 L846.7 620.3 L860.1 617.5 L876.2 626.1 L886.1 628.7 L886.1 672.1 L889.2 674.9 L897.1 694.5 L893.7 711.3 L893.2 725.3 L890.3 736.6"/>
<path d="M886.1 643.5 L950.3 644.1"/>
<path d="M929.5 258.5 L925.2 261.3 L925.2 277.8 L923.9 279.8 L912.7 291.0 L915.0 299.4 L913.8 314.8 L920.5 320.4 L931.7 324.6 L938.5 334.4 L947.4 340.0 L949.2 349.8 L949.6 361.0 L951.9 370.8 L962.0 377.8 L967.5 384.8 L973.1 393.3 L968.7 403.1 L955.2 407.3 L951.9 414.3 L955.2 421.3 L944.7 437.3 L942.9 442.3 L945.2 450.7 L954.1 461.9 L960.8 473.1 L963.1 478.7 L973.1 481.5 L972.0 487.1 L968.7 498.3 L977.6 505.4 L987.7 515.2 L987.7 523.6 L995.5 532.5 L993.3 543.2 L987.7 546.0 L986.6 551.6 L983.2 560.0 L978.7 571.2 L974.3 583.8 L969.8 588.0 L964.2 596.4 L963.1 607.6 L954.1 617.5 L949.6 632.9 L950.3 644.1 L951.9 655.3 L956.4 662.3 L951.9 672.1 L945.2 683.3 L940.7 700.1 L982.5 700.1 L979.9 709.9 L985.5 722.5"/>
<path d="M962.0 377.8 L1025.7 377.8"/>
<path d="M967.1 263.8 L996.6 276.1 L1003.4 279.2 L1019.0 282.0 L1024.6 298.0 L1030.2 305.0"/>
<path d="M995.5 532.5 L1001.1 526.4 L1009.0 530.0 L1011.2 520.8 L1019.0 518.0 L1020.6 509.6 L1031.3 505.4 L1041.4 509.6 L1052.6 506.8 L1059.3 499.7 L1068.3 504.0 L1071.6 496.4 L1079.4 483.5 L1091.8 481.5 L1092.4 473.1 L1099.6 473.1 L1106.3 481.5 L1118.6 486.3 L1133.2 483.5 L1142.1 492.2 L1151.1 487.1 L1155.5 475.9 L1161.1 470.3 L1167.8 464.7 L1180.8 457.7 L1184.6 445.1 L1186.9 431.1 L1188.7 430.0"/>
<path d="M1031.8 400.3 L1031.8 466.1 L1030.2 473.1 L1032.4 484.3 L1026.9 492.7 L1022.4 501.1 L1020.6 509.6"/>
<path d="M1092.4 400.3 L1092.4 473.1"/>
<path d="M1048.1 398.6 L1092.4 398.6 L1092.4 400.3 L1123.1 399.4"/>
<path d="M987.7 546.0 L1019.7 546.0 L1019.7 540.9 L1054.8 541.8 L1117.9 543.2 L1162.7 543.5 L1292.7 544.6"/>
<path d="M969.8 588.0 L1130.9 588.0"/>
<path d="M1016.8 588.0 L1019.0 590.8 L1010.7 674.9 L1012.3 717.8"/>
<path d="M1075.0 588.6 L1084.4 647.7 L1088.4 663.7 L1087.3 683.3 L1088.4 700.1"/>
<path d="M1032.4 720.3 L1033.6 714.1 L1030.2 700.1 L1088.4 700.1 L1091.5 708.5 L1151.1 712.2 L1154.4 718.1 L1155.5 707.1 L1167.8 708.5"/>
<path d="M1162.7 543.5 L1155.5 557.2 L1142.1 560.0 L1130.9 567.0 L1122.0 572.1 L1110.8 576.8 L1103.6 588.0"/>
<path d="M1130.9 588.0 L1146.6 582.4 L1176.8 583.8 L1176.8 586.6 L1179.5 585.2 L1182.8 593.1 L1207.7 593.6 L1232.8 620.0"/>
<path d="M1130.9 588.0 L1125.3 596.4 L1135.4 603.4 L1143.2 616.1 L1156.7 630.1 L1166.7 644.1 L1175.7 669.3 L1181.3 671.3"/>
<path d="M1142.1 492.2 L1142.1 499.7 L1148.8 512.4 L1156.2 516.8 L1139.9 530.6 L1117.9 543.2"/>
<path d="M1156.2 516.8 L1162.7 526.4 L1171.2 523.6 L1181.3 522.2 L1193.6 516.6 L1200.3 505.4 L1208.1 487.1 L1217.5 490.5 L1225.6 482.4 L1237.2 466.1 L1248.9 472.3 L1251.3 467.0"/>
<path d="M1211.9 455.7 L1211.9 470.3 L1221.6 462.5 L1228.3 459.1 L1235.0 460.5 L1240.6 457.7 L1251.3 467.0 L1256.2 471.7 L1261.8 475.9 L1266.5 481.5 L1260.7 492.7 L1267.4 495.5"/>
<path d="M1188.7 391.9 L1188.7 455.7 L1294.5 455.7 L1296.5 491.1 L1311.1 491.3"/>
<path d="M1294.5 455.7 L1298.8 452.7 L1302.8 453.5"/>
<path d="M1297.7 505.4 L1306.6 503.1"/>
<path d="M1205.7 384.3 L1205.7 391.9 L1304.4 391.9 L1310.0 397.5 L1318.9 409.8 L1310.0 419.9 L1307.7 428.3 L1313.3 439.5 L1317.8 443.7 L1310.0 450.7 L1302.8 453.5"/>
<path d="M1318.9 409.8 L1336.8 419.9 L1334.1 428.3"/>
<path d="M1342.4 419.9 L1345.8 411.5 L1345.8 390.4 L1350.9 370.8 L1351.4 347.0 L1348.0 335.8 L1349.1 307.8"/>
<path d="M1369.0 371.4 L1370.4 355.4 L1377.1 338.6 L1378.2 327.4 L1388.3 320.4 L1390.5 307.8"/>
<path d="M1408.0 361.9 L1402.2 352.6 L1401.0 321.8 L1399.9 299.4"/>
<path d="M1350.9 370.8 L1395.0 372.2 L1405.7 367.5"/>
<path d="M1345.8 390.4 L1383.8 391.3 L1393.2 391.3 L1393.2 394.7 L1397.2 405.9"/>
<path d="M1383.8 391.3 L1383.8 408.7 L1382.5 410.9"/>
</g>
<path d="M242.1 195.1 L252.2 201.8 L253.9 212.8 L257.3 222.8 L253.9 232.9 L254.8 242.2 L248.9 248.9 L240.5 251.4 L235.4 243.9 L237.1 235.5 L243.8 227.1 L242.1 220.3 L235.4 210.2 L233.7 206.0 L240.5 202.7 L244.7 206.0Z" fill="#000" stroke="#000" stroke-width="1.5" stroke-linejoin="round" stroke-linecap="round"/>
<path d="M248.6 498.6 L258.7 501.1 L256.2 505.3 L253.6 509.5 L262.9 518.8 L261.2 520.5 L253.6 517.1 L249.4 515.4 L248.6 507.8Z" fill="#000" stroke="#000" stroke-width="2.5" stroke-linejoin="round" stroke-linecap="round"/>
</svg></body></html>
